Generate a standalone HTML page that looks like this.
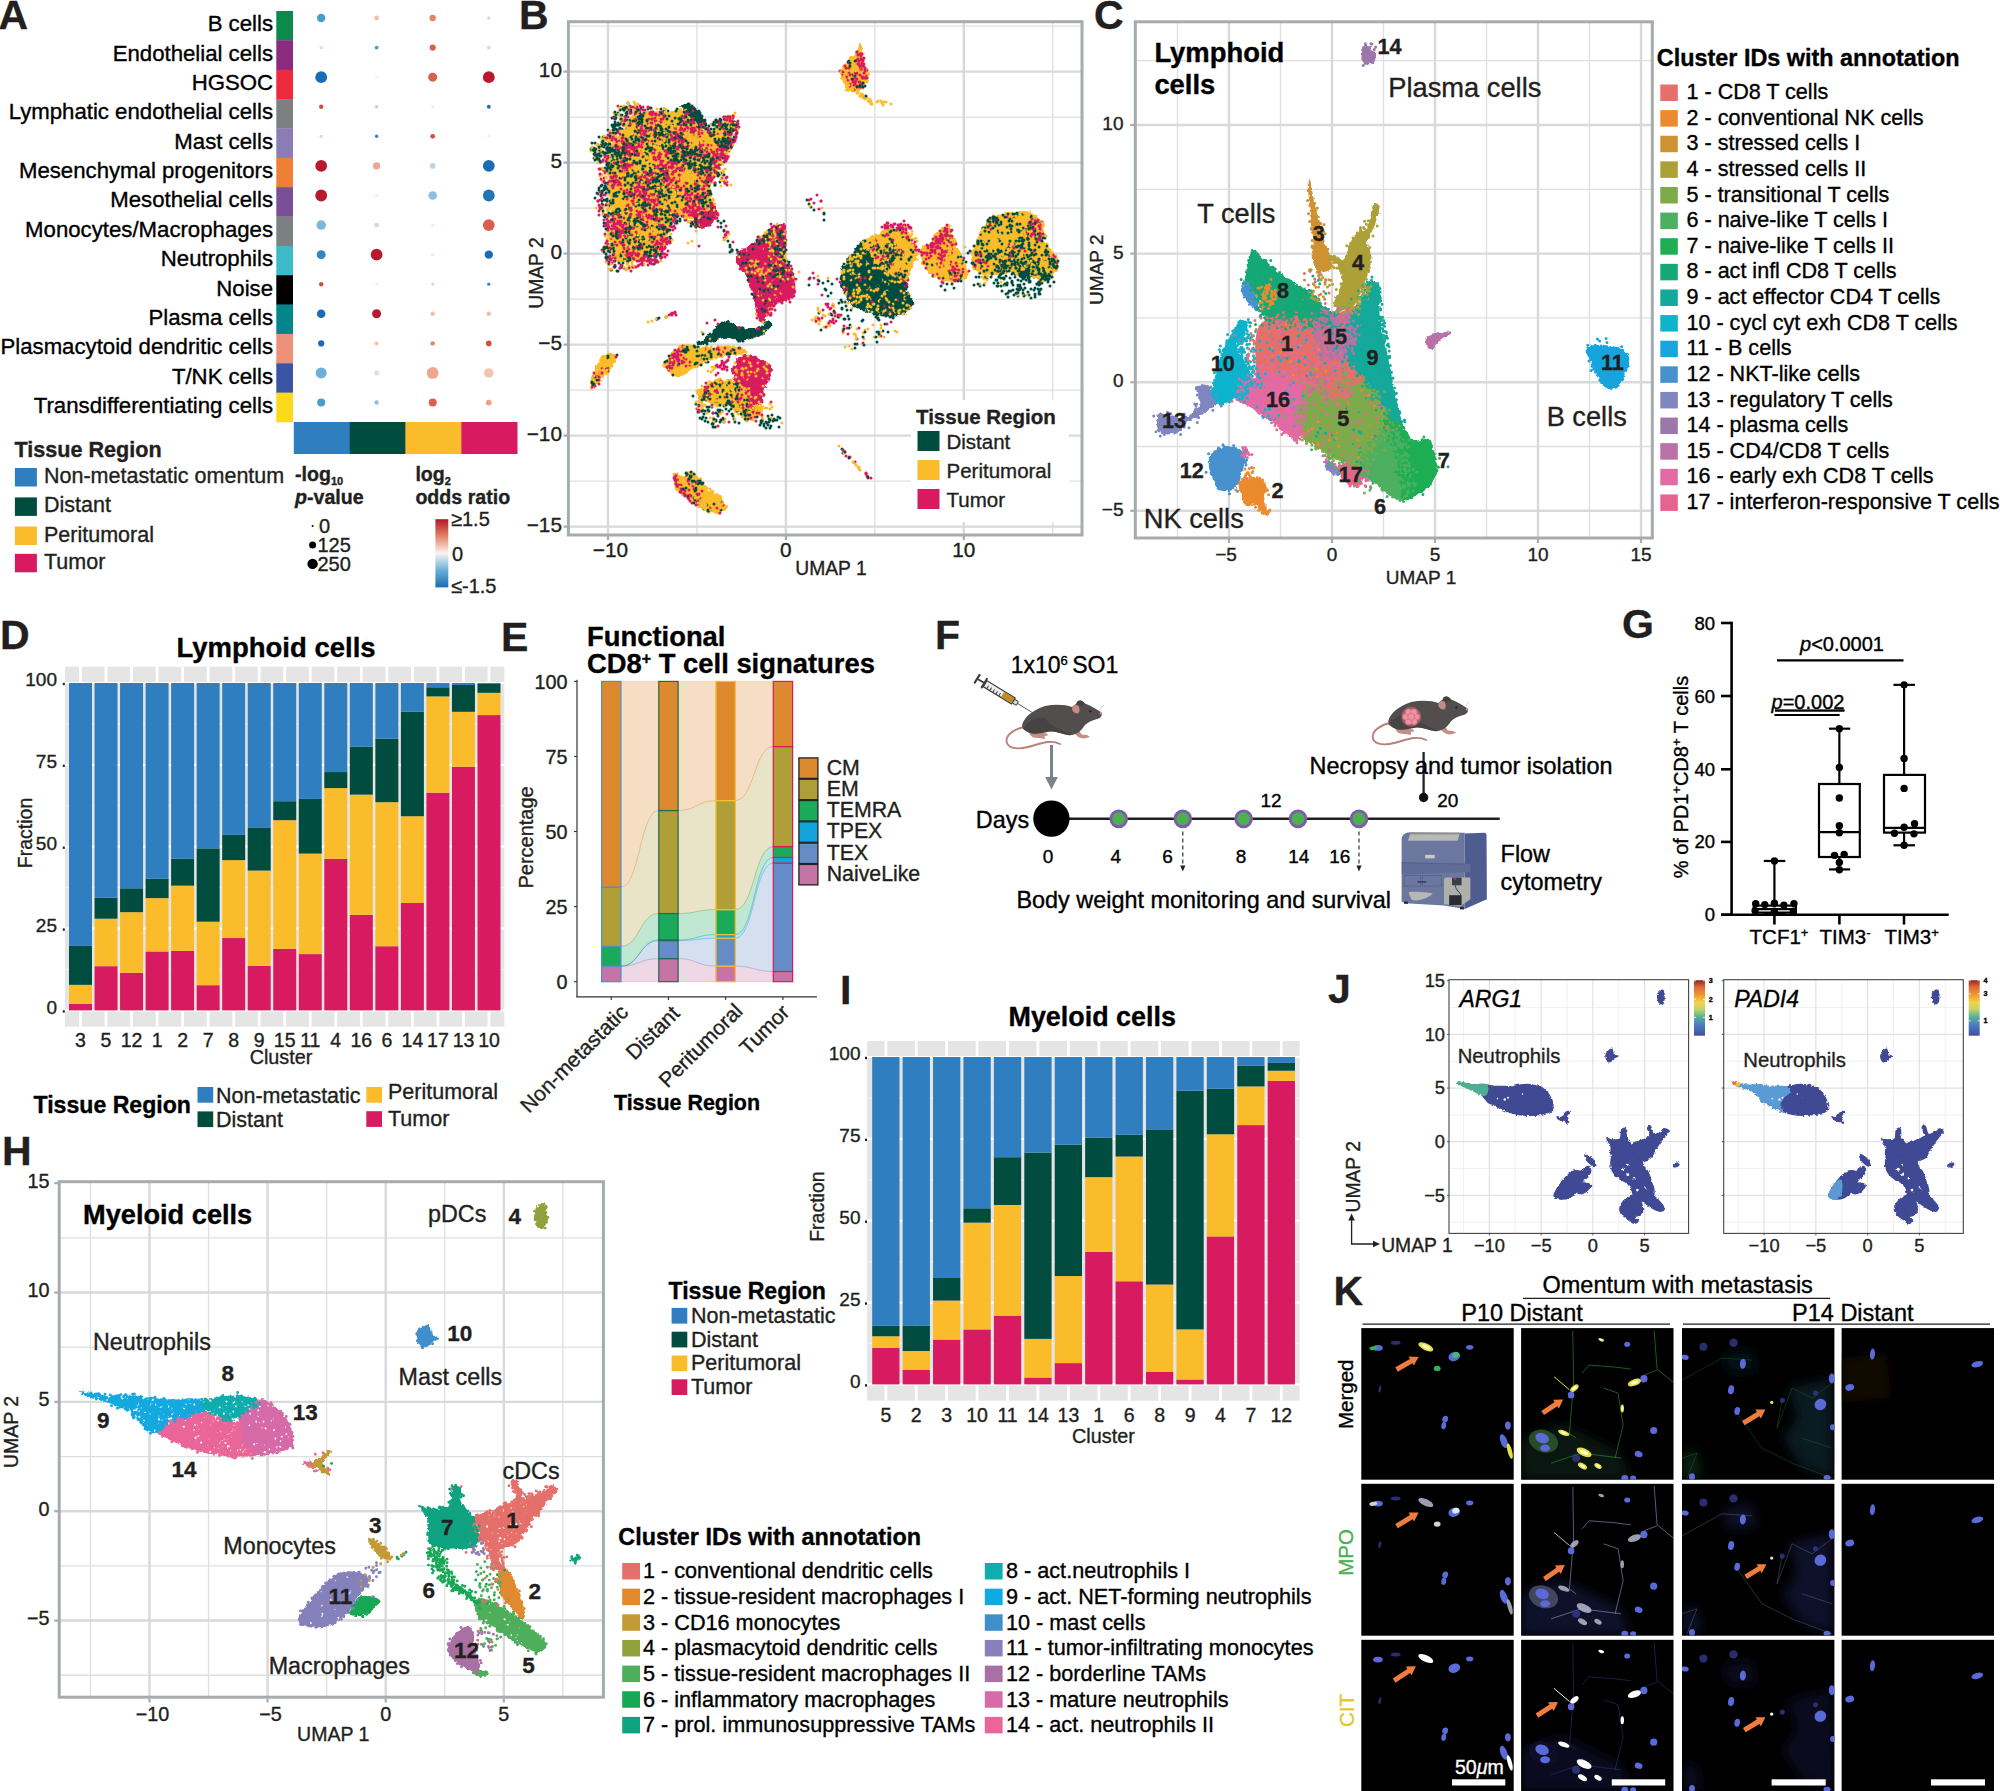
<!DOCTYPE html>
<html><head><meta charset="utf-8"><title>Figure</title>
<style>html,body{margin:0;padding:0;background:#fff}svg{display:block}text{font-family:"Liberation Sans", Arial, Helvetica, sans-serif;fill:#231f20;stroke:#231f20;stroke-width:.35px}</style>
</head><body>
<svg width="2000" height="1791" viewBox="0 0 2000 1791">
<rect width="2000" height="1791" fill="#fff"/>
<defs><filter id="rough" x="-10%" y="-10%" width="120%" height="120%"><feTurbulence type="fractalNoise" baseFrequency="0.18" numOctaves="2" seed="3" result="n"/><feDisplacementMap in="SourceGraphic" in2="n" scale="7" xChannelSelector="R" yChannelSelector="G"/></filter><filter id="rough2" x="-10%" y="-10%" width="120%" height="120%"><feTurbulence type="fractalNoise" baseFrequency="0.25" numOctaves="2" seed="8" result="n"/><feDisplacementMap in="SourceGraphic" in2="n" scale="5" xChannelSelector="R" yChannelSelector="G"/></filter></defs>
<g id="pA">
<text x="-1.5" y="28.5" font-size="41" font-weight="bold">A</text>
<rect x="276.30" y="11.00" width="16.70" height="29.66" fill="#0b8a4c"/>
<text x="273.0" y="31.3" font-size="22.2" text-anchor="end" style="fill:#000;stroke:#000">B cells</text>
<rect x="276.30" y="40.36" width="16.70" height="29.66" fill="#8a2b80"/>
<text x="273.0" y="60.7" font-size="22.2" text-anchor="end" style="fill:#000;stroke:#000">Endothelial cells</text>
<rect x="276.30" y="69.71" width="16.70" height="29.66" fill="#ec2a3b"/>
<text x="273.0" y="90.0" font-size="22.2" text-anchor="end" style="fill:#000;stroke:#000">HGSOC</text>
<rect x="276.30" y="99.07" width="16.70" height="29.66" fill="#7c8081"/>
<text x="273.0" y="119.4" font-size="22.2" text-anchor="end" style="fill:#000;stroke:#000">Lymphatic endothelial cells</text>
<rect x="276.30" y="128.43" width="16.70" height="29.66" fill="#8a7db6"/>
<text x="273.0" y="148.7" font-size="22.2" text-anchor="end" style="fill:#000;stroke:#000">Mast cells</text>
<rect x="276.30" y="157.79" width="16.70" height="29.66" fill="#ee8035"/>
<text x="273.0" y="178.1" font-size="22.2" text-anchor="end" style="fill:#000;stroke:#000">Mesenchymal progenitors</text>
<rect x="276.30" y="187.14" width="16.70" height="29.66" fill="#7b4f96"/>
<text x="273.0" y="207.4" font-size="22.2" text-anchor="end" style="fill:#000;stroke:#000">Mesothelial cells</text>
<rect x="276.30" y="216.50" width="16.70" height="29.66" fill="#7c8081"/>
<text x="273.0" y="236.8" font-size="22.2" text-anchor="end" style="fill:#000;stroke:#000">Monocytes/Macrophages</text>
<rect x="276.30" y="245.86" width="16.70" height="29.66" fill="#3dbac8"/>
<text x="273.0" y="266.2" font-size="22.2" text-anchor="end" style="fill:#000;stroke:#000">Neutrophils</text>
<rect x="276.30" y="275.21" width="16.70" height="29.66" fill="#000000"/>
<text x="273.0" y="295.5" font-size="22.2" text-anchor="end" style="fill:#000;stroke:#000">Noise</text>
<rect x="276.30" y="304.57" width="16.70" height="29.66" fill="#04858a"/>
<text x="273.0" y="324.9" font-size="22.2" text-anchor="end" style="fill:#000;stroke:#000">Plasma cells</text>
<rect x="276.30" y="333.93" width="16.70" height="29.66" fill="#ee9179"/>
<text x="273.0" y="354.2" font-size="22.2" text-anchor="end" style="fill:#000;stroke:#000">Plasmacytoid dendritic cells</text>
<rect x="276.30" y="363.29" width="16.70" height="29.66" fill="#3b55a5"/>
<text x="273.0" y="383.6" font-size="22.2" text-anchor="end" style="fill:#000;stroke:#000">T/NK cells</text>
<rect x="276.30" y="392.64" width="16.70" height="29.66" fill="#fbd91c"/>
<text x="273.0" y="412.9" font-size="22.2" text-anchor="end" style="fill:#000;stroke:#000">Transdifferentiating cells</text>
<rect x="293.80" y="422.00" width="56.15" height="32.00" fill="#2f7ec0"/>
<rect x="349.65" y="422.00" width="56.15" height="32.00" fill="#004d40"/>
<rect x="405.50" y="422.00" width="56.15" height="32.00" fill="#fbbc2c"/>
<rect x="461.35" y="422.00" width="56.15" height="32.00" fill="#d81b60"/>
<circle cx="321.20" cy="18.00" r="4.20" fill="#4a9bd0"/>
<circle cx="376.60" cy="18.00" r="2.40" fill="#f5bca6"/>
<circle cx="432.70" cy="18.00" r="3.20" fill="#e5826a"/>
<circle cx="488.80" cy="18.00" r="1.70" fill="#c8dde9"/>
<circle cx="321.20" cy="47.58" r="1.70" fill="#f8d5c5"/>
<circle cx="376.60" cy="47.58" r="1.90" fill="#4a9bd0"/>
<circle cx="432.70" cy="47.58" r="3.10" fill="#d9604c"/>
<circle cx="488.80" cy="47.58" r="1.90" fill="#c8dde9"/>
<circle cx="321.20" cy="77.16" r="5.90" fill="#1a6db5"/>
<circle cx="376.60" cy="77.16" r="1.40" fill="#f6efec"/>
<circle cx="432.70" cy="77.16" r="4.50" fill="#d9604c"/>
<circle cx="488.80" cy="77.16" r="5.90" fill="#b8192f"/>
<circle cx="321.20" cy="106.74" r="2.20" fill="#cf4e45"/>
<circle cx="376.60" cy="106.74" r="1.70" fill="#f5bca6"/>
<circle cx="432.70" cy="106.74" r="1.60" fill="#fbe6dc"/>
<circle cx="488.80" cy="106.74" r="1.90" fill="#1a6db5"/>
<circle cx="321.20" cy="136.32" r="1.60" fill="#c8dde9"/>
<circle cx="376.60" cy="136.32" r="1.70" fill="#3585c4"/>
<circle cx="432.70" cy="136.32" r="2.40" fill="#cf4e45"/>
<circle cx="488.80" cy="136.32" r="1.40" fill="#fbe6dc"/>
<circle cx="321.20" cy="165.90" r="5.90" fill="#b8192f"/>
<circle cx="376.60" cy="165.90" r="3.60" fill="#f0a78c"/>
<circle cx="432.70" cy="165.90" r="2.80" fill="#b9d6e8"/>
<circle cx="488.80" cy="165.90" r="5.90" fill="#1a6db5"/>
<circle cx="321.20" cy="195.48" r="5.90" fill="#b8192f"/>
<circle cx="376.60" cy="195.48" r="1.60" fill="#fbe6dc"/>
<circle cx="432.70" cy="195.48" r="4.30" fill="#8bc0e0"/>
<circle cx="488.80" cy="195.48" r="5.90" fill="#2474b8"/>
<circle cx="321.20" cy="225.06" r="4.80" fill="#7db8dd"/>
<circle cx="376.60" cy="225.06" r="2.40" fill="#c8dde9"/>
<circle cx="432.70" cy="225.06" r="1.60" fill="#fbe6dc"/>
<circle cx="488.80" cy="225.06" r="5.90" fill="#d9604c"/>
<circle cx="321.20" cy="254.64" r="4.50" fill="#3585c4"/>
<circle cx="376.60" cy="254.64" r="5.90" fill="#b8192f"/>
<circle cx="432.70" cy="254.64" r="1.70" fill="#fbe6dc"/>
<circle cx="488.80" cy="254.64" r="4.20" fill="#1a6db5"/>
<circle cx="321.20" cy="284.22" r="2.20" fill="#cf4e45"/>
<circle cx="376.60" cy="284.22" r="1.40" fill="#fbe6dc"/>
<circle cx="432.70" cy="284.22" r="1.40" fill="#b9d6e8"/>
<circle cx="488.80" cy="284.22" r="1.60" fill="#3585c4"/>
<circle cx="321.20" cy="313.80" r="4.30" fill="#1a6db5"/>
<circle cx="376.60" cy="313.80" r="4.50" fill="#b8192f"/>
<circle cx="432.70" cy="313.80" r="2.20" fill="#f5bca6"/>
<circle cx="488.80" cy="313.80" r="2.20" fill="#f5bca6"/>
<circle cx="321.20" cy="343.38" r="3.10" fill="#1a6db5"/>
<circle cx="376.60" cy="343.38" r="1.90" fill="#f5bca6"/>
<circle cx="432.70" cy="343.38" r="2.20" fill="#e5826a"/>
<circle cx="488.80" cy="343.38" r="2.80" fill="#cf4e45"/>
<circle cx="321.20" cy="372.96" r="5.50" fill="#6fb0da"/>
<circle cx="376.60" cy="372.96" r="2.60" fill="#d5e4ed"/>
<circle cx="432.70" cy="372.96" r="5.90" fill="#f0a78c"/>
<circle cx="488.80" cy="372.96" r="4.80" fill="#f6c4ae"/>
<circle cx="321.20" cy="402.54" r="4.00" fill="#4a9bd0"/>
<circle cx="376.60" cy="402.54" r="2.20" fill="#8bc0e0"/>
<circle cx="432.70" cy="402.54" r="4.00" fill="#d9604c"/>
<circle cx="488.80" cy="402.54" r="2.90" fill="#eda083"/>
<text x="14.5" y="457.0" font-size="21.6" font-weight="bold">Tissue Region</text>
<rect x="14.90" y="468.00" width="22.00" height="18.50" fill="#2f7ec0"/>
<text x="44.0" y="482.9" font-size="21.5">Non-metastatic omentum</text>
<rect x="14.90" y="497.40" width="22.00" height="18.50" fill="#004d40"/>
<text x="44.0" y="512.3" font-size="21.5">Distant</text>
<rect x="14.90" y="526.50" width="22.00" height="18.50" fill="#fbbc2c"/>
<text x="44.0" y="542.4" font-size="21.5">Peritumoral</text>
<rect x="14.90" y="553.80" width="22.00" height="18.50" fill="#d81b60"/>
<text x="44.0" y="569.4" font-size="21.5">Tumor</text>
<text x="295.0" y="481.0" font-size="19.6" font-weight="bold">-log<tspan font-size="11" dy="4">10</tspan></text>
<text x="295.0" y="503.6" font-size="19.6" font-weight="bold"><tspan font-style="italic">p</tspan>-value</text>
<text x="415.4" y="481.0" font-size="19.6" font-weight="bold">log<tspan font-size="11" dy="4">2</tspan></text>
<text x="415.4" y="503.6" font-size="19.6" font-weight="bold">odds ratio</text>
<circle cx="312.60" cy="526.00" r="1.00" fill="#000"/>
<circle cx="312.60" cy="545.00" r="3.50" fill="#000"/>
<circle cx="312.60" cy="563.90" r="5.20" fill="#000"/>
<text x="319.0" y="532.5" font-size="20">0</text>
<text x="317.4" y="551.5" font-size="20">125</text>
<text x="317.4" y="570.5" font-size="20">250</text>
<defs><linearGradient id="gA" x1="0" y1="0" x2="0" y2="1"><stop offset="0" stop-color="#b2182b"/><stop offset="0.25" stop-color="#e58267"/><stop offset="0.5" stop-color="#f7f4f2"/><stop offset="0.75" stop-color="#6aaed6"/><stop offset="1" stop-color="#1a6db5"/></linearGradient></defs>
<rect x="435.40" y="519.20" width="12.90" height="68.20" fill="url(#gA)"/>
<text x="451.0" y="525.5" font-size="20">≥1.5</text>
<text x="452.0" y="561.0" font-size="20">0</text>
<text x="451.0" y="593.0" font-size="20">≤-1.5</text>
</g>
<g id="pB">
<text x="519.0" y="29.0" font-size="41" font-weight="bold">B</text>
<rect x="568.40" y="21.70" width="513.60" height="513.30" fill="#fff"/>
<line x1="696.95" y1="21.70" x2="696.95" y2="535.00" stroke="#dedfdf" stroke-width="1.3"/>
<line x1="874.85" y1="21.70" x2="874.85" y2="535.00" stroke="#dedfdf" stroke-width="1.3"/>
<line x1="1052.75" y1="21.70" x2="1052.75" y2="535.00" stroke="#dedfdf" stroke-width="1.3"/>
<line x1="568.40" y1="117.10" x2="1082.00" y2="117.10" stroke="#dedfdf" stroke-width="1.3"/>
<line x1="568.40" y1="208.10" x2="1082.00" y2="208.10" stroke="#dedfdf" stroke-width="1.3"/>
<line x1="568.40" y1="299.10" x2="1082.00" y2="299.10" stroke="#dedfdf" stroke-width="1.3"/>
<line x1="568.40" y1="390.10" x2="1082.00" y2="390.10" stroke="#dedfdf" stroke-width="1.3"/>
<line x1="568.40" y1="481.10" x2="1082.00" y2="481.10" stroke="#dedfdf" stroke-width="1.3"/>
<line x1="568.40" y1="26.10" x2="1082.00" y2="26.10" stroke="#dedfdf" stroke-width="1.3"/>
<line x1="608.00" y1="21.70" x2="608.00" y2="535.00" stroke="#d8d9da" stroke-width="2.4"/>
<line x1="785.90" y1="21.70" x2="785.90" y2="535.00" stroke="#d8d9da" stroke-width="2.4"/>
<line x1="963.80" y1="21.70" x2="963.80" y2="535.00" stroke="#d8d9da" stroke-width="2.4"/>
<line x1="568.40" y1="71.60" x2="1082.00" y2="71.60" stroke="#d8d9da" stroke-width="2.4"/>
<line x1="568.40" y1="162.60" x2="1082.00" y2="162.60" stroke="#d8d9da" stroke-width="2.4"/>
<line x1="568.40" y1="253.60" x2="1082.00" y2="253.60" stroke="#d8d9da" stroke-width="2.4"/>
<line x1="568.40" y1="344.60" x2="1082.00" y2="344.60" stroke="#d8d9da" stroke-width="2.4"/>
<line x1="568.40" y1="435.60" x2="1082.00" y2="435.60" stroke="#d8d9da" stroke-width="2.4"/>
<line x1="568.40" y1="526.60" x2="1082.00" y2="526.60" stroke="#d8d9da" stroke-width="2.4"/>
<clipPath id="cB"><rect x="568.4" y="21.7" width="513.6" height="513.3"/></clipPath>
<g clip-path="url(#cB)"><g filter="url(#rough)"><path d="M616.1 147.0C618.6 140.7 621.4 131.9 625.8 126.1C630.3 120.2 635.6 114.4 642.6 112.1C649.6 109.8 661.2 112.3 667.7 112.1C674.2 111.9 677.0 109.1 681.7 110.7C686.3 112.3 691.4 118.6 695.6 121.9C699.8 125.1 703.1 129.6 706.8 130.3C710.5 130.9 713.8 127.7 718.0 126.1C722.1 124.4 729.4 118.9 731.9 120.5C734.5 122.1 734.7 129.6 733.3 135.8C731.9 142.1 726.6 151.2 723.5 158.2C720.5 165.1 717.5 172.1 715.2 177.7C712.8 183.3 710.5 187.0 709.6 191.7C708.7 196.3 710.1 201.0 709.6 205.6C709.1 210.3 709.1 216.8 706.8 219.6C704.5 222.4 699.8 223.3 695.6 222.4C691.4 221.4 685.9 213.1 681.7 214.0C677.5 214.9 673.3 222.4 670.5 228.0C667.7 233.5 668.2 242.6 664.9 247.5C661.7 252.4 656.3 254.9 651.0 257.3C645.6 259.6 638.6 260.8 632.8 261.5C627.0 262.2 619.8 265.0 616.1 261.5C612.3 258.0 611.2 248.7 610.5 240.5C609.8 232.4 612.3 221.9 611.9 212.6C611.4 203.3 607.9 192.8 607.7 184.7C607.5 176.5 609.1 170.0 610.5 163.8C611.9 157.5 613.5 153.3 616.1 147.0Z" fill="#fbbc2c"/>
<path d="M680.3 106.5C680.5 104.5 688.0 103.0 691.4 104.4C694.9 105.8 698.8 111.5 701.2 114.9C703.7 118.3 706.3 122.8 706.1 124.7C705.9 126.5 702.5 127.5 699.8 126.1C697.1 124.7 693.3 119.5 690.0 116.3C686.8 113.0 680.0 108.5 680.3 106.5Z" fill="#004d40"/>
<path d="M692.8 205.6C695.2 201.7 705.4 201.4 709.6 202.8C713.8 204.2 718.0 210.3 718.0 214.0C718.0 217.7 713.3 223.1 709.6 225.2C705.9 227.3 698.4 229.8 695.6 226.6C692.8 223.3 690.5 209.6 692.8 205.6Z" fill="#d81b60"/>
<path d="M736.1 255.9C737.5 251.2 746.6 248.4 751.5 244.7C756.3 241.0 761.9 236.8 765.4 233.5C768.9 230.3 769.1 226.8 772.4 225.2C775.7 223.5 782.6 221.9 785.0 223.8C787.3 225.6 786.4 231.2 786.4 236.3C786.4 241.5 784.3 249.6 785.0 254.5C785.7 259.4 788.9 261.7 790.5 265.7C792.2 269.6 794.3 273.3 794.7 278.2C795.2 283.1 796.4 290.8 793.3 295.0C790.3 299.2 780.8 300.5 776.6 303.3C772.4 306.1 770.5 308.5 768.2 311.7C765.9 315.0 764.5 322.4 762.6 322.9C760.8 323.3 758.9 320.1 757.0 314.5C755.2 308.9 753.8 296.4 751.5 289.4C749.1 282.4 745.6 278.2 743.1 272.6C740.5 267.0 734.7 260.5 736.1 255.9Z" fill="#d81b60"/>
<path d="M840.7 272.8C842.2 266.5 848.7 257.8 852.3 252.5C856.0 247.2 858.4 243.3 862.5 240.9C866.6 238.5 872.2 237.5 877.0 238.0C881.8 238.5 887.1 240.9 891.5 243.8C895.8 246.7 900.2 250.6 903.1 255.4C906.0 260.2 908.4 267.0 908.9 272.8C909.4 278.6 905.3 285.1 906.0 290.2C906.7 295.3 913.7 299.1 913.2 303.2C912.8 307.4 907.9 312.7 903.1 314.8C898.3 317.0 890.5 317.0 884.2 316.3C878.0 315.6 870.7 312.4 865.4 310.5C860.1 308.6 856.0 308.1 852.3 304.7C848.7 301.3 845.6 295.5 843.6 290.2C841.7 284.9 839.3 279.1 840.7 272.8Z" fill="#004d40"/>
<path d="M862.5 242.3C863.5 239.0 872.2 237.5 877.0 235.1C881.8 232.7 886.7 228.6 891.5 227.8C896.3 227.1 902.4 228.6 906.0 230.7C909.6 232.9 911.3 236.8 913.2 240.9C915.2 245.0 918.1 250.6 917.6 255.4C917.1 260.2 912.3 265.5 910.3 269.9C908.4 274.2 909.1 281.0 906.0 281.5C902.9 282.0 895.8 275.2 891.5 272.8C887.1 270.4 883.3 269.9 879.9 267.0C876.5 264.1 874.1 259.5 871.2 255.4C868.3 251.3 861.5 245.7 862.5 242.3Z" fill="#fbbc2c"/>
<path d="M920.5 249.6C921.7 246.7 926.8 246.2 929.2 243.8C931.6 241.4 932.1 238.2 935.0 235.1C937.9 232.0 943.4 224.9 946.6 224.9C949.7 224.9 951.9 231.2 953.8 235.1C955.8 239.0 956.5 243.8 958.2 248.1C959.9 252.5 962.3 256.6 964.0 261.2C965.7 265.8 969.5 272.3 968.3 275.7C967.1 279.1 961.1 280.8 956.7 281.5C952.4 282.2 946.8 281.5 942.2 280.0C937.6 278.6 932.6 275.9 929.2 272.8C925.8 269.7 923.4 265.1 921.9 261.2C920.5 257.3 919.3 252.5 920.5 249.6Z" fill="#fbbc2c"/>
<path d="M972.7 249.6C974.4 243.1 979.5 233.4 982.8 227.8C986.2 222.3 988.4 218.8 993.0 216.2C997.6 213.7 1004.6 213.5 1010.4 212.6C1016.2 211.8 1022.5 209.6 1027.8 211.2C1033.1 212.7 1039.4 217.1 1042.3 222.0C1045.2 227.0 1043.3 235.8 1045.2 240.9C1047.1 246.0 1051.7 249.1 1053.9 252.5C1056.1 255.9 1058.0 257.8 1058.2 261.2C1058.5 264.6 1057.5 269.4 1055.3 272.8C1053.2 276.2 1049.5 281.3 1045.2 281.5C1040.8 281.7 1035.5 275.7 1029.2 274.2C1023.0 272.8 1014.7 272.8 1007.5 272.8C1000.2 272.8 991.5 275.2 985.7 274.2C979.9 273.3 974.9 271.1 972.7 267.0C970.5 262.9 971.0 256.1 972.7 249.6Z" fill="#fbbc2c"/>
<path d="M1016.2 261.2C1018.1 258.8 1032.6 259.3 1036.5 261.2C1040.4 263.1 1041.3 270.4 1039.4 272.8C1037.5 275.2 1028.8 277.6 1024.9 275.7C1021.0 273.8 1014.3 263.6 1016.2 261.2Z" fill="#004d40"/>
<path d="M860.1 43.6C858.7 42.4 858.2 49.7 855.1 53.6C852.0 57.5 843.9 62.5 841.7 67.0C839.5 71.5 840.0 76.2 841.7 80.4C843.4 84.6 848.1 91.0 851.8 92.1C855.4 93.2 860.7 89.6 863.5 87.1C866.3 84.6 868.5 81.5 868.5 77.1C868.5 72.6 864.9 65.9 863.5 60.3C862.1 54.7 861.5 44.7 860.1 43.6Z" fill="#fbbc2c"/>
<path d="M712.1 333.5C714.7 330.8 714.3 326.9 716.4 324.8C718.6 322.7 721.8 320.9 725.1 321.2C728.5 321.4 732.4 324.9 736.7 326.2C741.1 327.6 747.1 329.1 751.2 329.1C755.3 329.1 759.0 327.6 761.4 326.2C763.8 324.9 764.0 321.4 765.7 321.2C767.4 320.9 771.5 323.0 771.5 324.8C771.5 326.6 768.4 329.9 765.7 332.0C763.1 334.2 759.7 336.4 755.6 337.8C751.5 339.3 745.9 340.7 741.1 340.7C736.3 340.7 730.9 337.8 726.6 337.8C722.2 337.8 718.4 339.8 715.0 340.7C711.6 341.7 709.2 342.9 706.3 343.6C703.4 344.4 698.6 345.6 697.6 345.1C696.6 344.6 698.1 342.7 700.5 340.7C702.9 338.8 709.4 336.2 712.1 333.5Z" fill="#004d40"/>
<path d="M664.2 363.9C664.7 360.6 668.4 355.6 671.5 352.3C674.6 349.1 679.5 345.6 683.1 344.4C686.7 343.2 689.1 344.5 693.2 345.1C697.4 345.7 702.2 347.8 707.7 348.0C713.3 348.2 720.5 346.5 726.6 346.5C732.6 346.5 740.6 346.8 744.0 348.0C747.4 349.2 749.3 352.6 746.9 353.8C744.5 355.0 735.3 354.5 729.5 355.2C723.7 356.0 716.9 356.5 712.1 358.1C707.3 359.8 704.4 363.2 700.5 365.4C696.6 367.6 692.8 369.3 688.9 371.2C685.0 373.1 680.7 376.8 677.3 377.0C673.9 377.2 670.8 374.8 668.6 372.6C666.4 370.5 663.8 367.3 664.2 363.9Z" fill="#fbbc2c"/>
<path d="M733.8 363.9C735.8 360.8 739.9 356.2 744.0 355.2C748.1 354.3 753.9 356.0 758.5 358.1C763.1 360.3 769.8 364.7 771.5 368.3C773.2 371.9 769.8 376.0 768.6 379.9C767.4 383.8 765.5 387.6 764.3 391.5C763.1 395.4 763.6 401.2 761.4 403.1C759.2 405.0 754.1 405.0 751.2 403.1C748.3 401.2 746.4 394.9 744.0 391.5C741.6 388.1 738.7 385.7 736.7 382.8C734.8 379.9 732.9 377.2 732.4 374.1C731.9 371.0 731.9 367.1 733.8 363.9Z" fill="#d81b60"/>
<path d="M697.6 391.5C700.0 388.1 709.7 381.8 715.0 379.9C720.3 378.0 724.7 378.0 729.5 379.9C734.3 381.8 740.4 387.6 744.0 391.5C747.6 395.4 748.1 400.7 751.2 403.1C754.4 405.5 761.6 403.6 762.8 406.0C764.0 408.4 761.6 415.7 758.5 417.6C755.3 419.5 748.8 419.5 744.0 417.6C739.2 415.7 734.3 408.4 729.5 406.0C724.7 403.6 719.8 404.1 715.0 403.1C710.2 402.1 703.4 402.1 700.5 400.2C697.6 398.3 695.2 394.9 697.6 391.5Z" fill="#fbbc2c"/>
<path d="M590.3 388.6C590.3 386.1 591.5 378.9 593.2 374.1C594.9 369.3 598.0 363.0 600.4 359.6C602.9 356.2 605.0 354.4 607.7 353.8C610.4 353.2 615.9 353.6 616.4 356.0C616.9 358.4 613.0 364.3 610.6 368.3C608.2 372.3 604.8 376.4 601.9 379.9C599.0 383.4 595.1 387.9 593.2 389.3C591.3 390.8 590.3 391.1 590.3 388.6Z" fill="#fbbc2c"/>
<path d="M673.7 474.1C674.2 472.7 675.5 472.2 677.3 472.7C679.1 473.2 682.9 477.3 684.5 477.0C686.2 476.8 685.3 471.5 687.4 471.2C689.6 471.0 694.5 472.9 697.6 475.6C700.7 478.2 702.4 483.6 706.3 487.2C710.2 490.8 717.4 494.4 720.8 497.3C724.2 500.2 726.1 502.4 726.6 504.6C727.1 506.8 726.1 508.9 723.7 510.4C721.3 511.8 716.0 513.8 712.1 513.3C708.2 512.8 704.4 509.9 700.5 507.5C696.6 505.1 692.5 501.4 688.9 498.8C685.3 496.1 681.2 494.4 678.7 491.5C676.3 488.6 675.2 484.3 674.4 481.4C673.5 478.5 673.2 475.6 673.7 474.1Z" fill="#fbbc2c"/>
</g><path d="M994 283h0M710 192h0M691 151h0M640 222h0M695 163h0M884 265h0M998 250h0M638 125h0M624 232h0M694 108h0M779 226h0M635 134h0M1007 271h0M671 213h0M742 260h0M871 301h0M643 203h0M1041 278h0M669 125h0M980 273h0M857 300h0M682 216h0M611 250h0M642 236h0M757 330h0M673 125h0M655 168h0M660 256h0M991 254h0M870 252h0M622 109h0M638 155h0M983 263h0M723 139h0M592 383h0M698 122h0M696 227h0M885 282h0M604 216h0M994 217h0M974 285h0M713 160h0M737 387h0M892 259h0M642 122h0M630 106h0M701 120h0M625 223h0M749 255h0M1016 258h0M627 141h0M690 151h0M855 286h0M632 228h0M855 280h0M769 249h0M663 132h0M985 228h0M778 271h0M658 128h0M681 136h0M695 188h0M890 288h0M703 173h0M698 169h0M615 215h0M1018 239h0M694 481h0M617 196h0M888 245h0M596 155h0M630 208h0M661 230h0M661 175h0M702 162h0M976 253h0M683 152h0M651 256h0M710 164h0M694 474h0M628 257h0M673 212h0M1040 246h0M768 245h0M689 122h0M650 133h0M639 141h0M605 145h0M980 286h0M635 225h0M685 153h0M1006 276h0M600 156h0M1028 234h0M997 218h0M999 233h0M1031 216h0M1035 265h0M788 265h0M724 405h0M1028 226h0M861 281h0M1030 282h0M1051 269h0M639 124h0M1018 290h0M640 113h0M627 152h0M706 362h0M892 314h0M669 238h0M880 248h0M612 118h0M668 152h0M901 277h0M904 300h0M879 282h0M685 148h0M637 144h0M958 281h0M789 269h0M729 411h0M727 125h0M884 251h0M751 335h0M642 169h0M711 341h0M695 169h0M994 219h0M611 166h0M613 185h0M857 255h0M605 189h0M698 495h0M1039 223h0M607 199h0M998 220h0M705 200h0M639 155h0M718 143h0M640 135h0M772 236h0M701 196h0M864 301h0M614 232h0M606 138h0M947 235h0M744 412h0M896 299h0M614 117h0M1017 215h0M962 263h0M727 149h0M719 411h0M1044 260h0M620 232h0M621 107h0M1032 266h0M883 253h0M811 207h0M691 132h0M631 144h0M640 182h0M649 155h0M717 167h0M688 475h0M686 164h0M864 301h0M963 260h0M993 222h0M595 198h0M703 205h0M639 130h0M608 146h0M1037 284h0M737 396h0M666 142h0M1057 266h0M729 143h0M634 148h0M874 270h0M713 163h0M721 142h0M758 241h0M669 147h0M737 411h0M868 258h0M1029 269h0M742 405h0M723 158h0M985 251h0M958 257h0M676 222h0M634 173h0M636 206h0M890 317h0M1034 237h0M894 291h0M647 205h0M904 304h0M643 224h0M604 226h0M1018 286h0M1028 276h0M660 193h0M660 194h0M663 174h0M657 144h0M714 341h0M601 151h0M675 141h0M763 311h0M889 266h0M718 393h0M1029 282h0M671 219h0M661 109h0M747 406h0M666 193h0M867 299h0M846 306h0M632 174h0M782 253h0M990 226h0M656 261h0M766 304h0M699 149h0M692 482h0M648 186h0M1006 266h0M625 237h0M694 132h0M605 143h0M704 342h0M720 330h0M750 265h0M652 226h0M594 376h0M872 277h0M606 215h0M697 186h0M643 175h0M686 488h0M643 166h0M1031 225h0M656 249h0M749 269h0M983 228h0M637 127h0M987 279h0M1023 241h0M1042 235h0M620 236h0M734 384h0M1023 274h0M897 260h0M653 175h0M654 236h0M890 252h0M653 247h0M1005 261h0M704 396h0M779 427h0M730 147h0M881 277h0M989 259h0M676 164h0M886 316h0M615 232h0M878 244h0M986 250h0M1003 264h0M623 245h0M694 129h0M615 146h0M697 119h0M710 133h0M979 277h0M772 232h0M729 330h0M771 246h0M602 208h0M608 149h0M697 189h0M694 168h0M673 215h0M642 215h0M1052 277h0M648 109h0M647 154h0M700 398h0M713 339h0M907 297h0M870 276h0M692 164h0M862 321h0M979 262h0M621 107h0M669 198h0M788 264h0M1049 267h0M879 248h0M689 191h0M619 230h0M673 164h0M1034 271h0M662 133h0M636 182h0M698 347h0M1044 271h0M883 331h0M871 261h0M608 228h0M625 177h0M692 155h0M765 330h0M639 242h0M721 129h0M735 353h0M706 181h0M1024 295h0M655 178h0M653 165h0M617 164h0M838 317h0M999 267h0M696 490h0M716 143h0M733 117h0M627 174h0M657 261h0M1018 271h0M842 309h0M655 254h0M1013 285h0M745 415h0M639 122h0M889 268h0M706 418h0M1031 270h0M1016 257h0M998 253h0M1002 251h0M989 225h0M641 108h0M706 196h0M747 333h0M1043 279h0M651 229h0M630 120h0M652 231h0M685 107h0M625 180h0M894 247h0M739 390h0M668 111h0M895 258h0M743 329h0M707 505h0M641 180h0M778 249h0M694 153h0M1002 230h0M809 285h0M656 210h0M782 245h0M660 139h0M628 208h0M675 151h0M606 215h0M872 276h0M782 259h0M897 301h0M852 75h0M725 143h0M875 296h0M614 128h0M604 190h0M975 268h0M870 274h0M993 251h0M863 97h0M612 148h0M982 248h0M615 119h0M652 119h0M1021 239h0M889 302h0M668 146h0M659 318h0M608 251h0M730 147h0M671 149h0M602 192h0M671 365h0M897 257h0M977 253h0M952 284h0M702 400h0M774 251h0M650 188h0M605 155h0M1023 244h0M1022 275h0M608 248h0M648 238h0M660 176h0M713 413h0M839 303h0M1007 255h0M610 252h0M718 416h0M1004 285h0M1024 277h0M723 125h0M665 194h0M770 260h0M706 203h0M1009 247h0M661 130h0M1048 281h0M889 244h0M701 166h0M700 204h0M994 220h0M1014 264h0M646 128h0M697 115h0M1053 265h0M907 271h0M626 213h0M1040 236h0M716 394h0M703 209h0M687 183h0M771 244h0M648 148h0M598 201h0M711 169h0M628 254h0M613 166h0M663 147h0M677 221h0M638 162h0M651 229h0M655 226h0M869 251h0M735 391h0M694 108h0M711 164h0M903 237h0M674 159h0M680 348h0M601 152h0M994 218h0M726 132h0M610 201h0M782 272h0M766 422h0M998 231h0M1054 282h0M633 247h0M753 408h0M1022 238h0M728 241h0M694 166h0M692 110h0M705 149h0M1002 291h0M1018 296h0M884 309h0M772 236h0M780 249h0M738 384h0M656 227h0M852 75h0M739 334h0M683 197h0M772 254h0M676 216h0M1024 248h0M839 317h0M1040 239h0M696 111h0M709 195h0M1001 274h0M693 119h0M663 185h0M594 158h0M893 291h0M702 161h0M665 133h0M647 121h0M604 147h0M1023 268h0M731 397h0M679 364h0M649 240h0M677 207h0M870 260h0M736 337h0M678 362h0M889 258h0M1024 272h0M656 182h0M686 147h0M729 324h0M1049 254h0M713 423h0M615 150h0M742 265h0M642 240h0M642 225h0M737 386h0M664 111h0M1020 289h0M665 134h0M686 160h0M890 314h0M997 286h0M606 200h0M850 325h0M724 221h0M677 198h0M901 303h0M614 251h0M669 135h0M684 156h0M639 161h0M621 155h0M707 161h0M618 214h0M628 152h0M943 278h0M646 241h0M733 337h0M700 418h0M609 148h0M728 241h0M628 103h0M640 239h0M602 185h0M691 109h0M634 221h0M687 161h0M642 120h0M674 190h0M665 142h0M657 141h0M595 155h0M1029 260h0M1045 238h0M702 211h0M702 411h0M626 113h0M686 110h0M662 213h0M1029 275h0M618 125h0M661 210h0M701 159h0M832 315h0M703 334h0M1049 274h0M648 226h0M595 152h0M949 241h0M618 123h0M873 312h0M615 232h0M898 255h0M883 264h0M679 152h0M848 287h0M879 332h0M728 144h0M1035 288h0M756 410h0M1029 295h0M680 170h0M661 137h0M626 108h0M705 355h0M698 155h0M685 220h0M630 224h0M749 411h0M778 234h0M859 265h0M871 251h0M771 300h0M883 270h0M988 225h0M601 145h0M629 183h0M725 143h0M659 146h0M693 121h0M755 413h0M1045 252h0M691 120h0M667 140h0M729 333h0M688 154h0M1019 263h0M1012 274h0M712 407h0M725 124h0M721 146h0M614 159h0M1024 271h0M695 116h0M637 174h0M618 168h0M735 386h0M607 246h0M607 138h0M656 170h0M708 391h0M641 223h0M747 404h0M609 151h0M1043 275h0M1003 215h0M638 172h0M707 213h0M711 396h0M702 167h0M862 254h0M650 164h0M699 226h0M1012 251h0M986 257h0M1045 270h0M670 242h0M1001 286h0M989 224h0M1048 282h0M682 200h0M642 264h0M620 124h0M851 310h0M700 219h0M1026 228h0M602 204h0M1020 266h0M1034 277h0M984 271h0M720 121h0M624 147h0M719 138h0M656 209h0M743 341h0M714 349h0M676 192h0M676 193h0M888 251h0M877 342h0M768 239h0M631 110h0M851 291h0M1027 237h0M671 223h0M1018 285h0M668 125h0M641 137h0M658 247h0M687 192h0M607 150h0M1021 288h0M725 135h0M720 328h0M990 257h0M771 232h0M892 294h0M651 173h0M680 137h0M660 226h0M645 144h0M871 284h0M647 121h0M880 285h0M1039 292h0M1033 261h0M628 228h0M864 345h0M633 136h0M845 319h0M744 330h0M660 188h0M758 237h0M614 250h0M755 296h0M707 359h0M650 148h0M664 232h0M626 113h0M660 226h0M783 271h0M865 86h0M741 407h0M1015 214h0M677 148h0M758 282h0M686 113h0M731 405h0M690 109h0M1020 269h0M638 139h0M1012 282h0M1023 228h0M900 288h0M970 251h0M884 266h0M703 149h0M1023 228h0M627 160h0M870 243h0M647 225h0M726 117h0M667 125h0M631 176h0M978 241h0M598 153h0M890 281h0M647 174h0M656 252h0M884 312h0M896 297h0M875 297h0M602 201h0M712 208h0M640 119h0M662 212h0M1008 214h0M996 259h0M635 219h0M700 206h0M594 150h0M674 151h0M695 170h0M888 332h0M658 187h0M902 253h0M700 165h0M595 152h0M657 319h0M1019 232h0M722 329h0M1042 255h0M670 215h0M721 123h0M607 169h0M716 122h0M898 282h0M691 123h0M680 147h0M663 149h0M615 247h0M791 275h0M1014 244h0M636 120h0M640 161h0M898 288h0M733 349h0M625 158h0M716 120h0M619 166h0M725 146h0M714 332h0M848 62h0M1039 282h0M705 127h0M634 252h0M1012 221h0M1014 218h0M723 138h0M617 156h0M1017 226h0M1017 289h0M722 123h0M775 248h0M727 146h0M703 200h0M678 147h0M770 257h0M770 248h0M819 313h0M638 125h0M664 112h0M611 151h0M724 148h0M621 178h0M720 386h0M665 200h0M621 120h0M1008 248h0M667 190h0M651 237h0M676 172h0M743 328h0M746 416h0M884 306h0M665 228h0M718 410h0M1018 293h0M880 281h0M687 171h0M757 278h0M714 135h0M770 293h0M887 285h0M775 250h0M721 330h0M636 172h0M648 128h0M708 130h0M750 330h0M733 405h0M625 109h0M645 252h0M642 248h0M624 259h0M718 414h0M609 262h0M863 280h0M726 409h0M627 140h0M1039 238h0M1008 255h0M849 288h0M715 183h0M629 228h0M850 286h0M669 141h0M664 135h0M599 159h0M828 281h0M687 347h0M677 160h0M765 243h0M676 144h0M985 277h0M688 132h0M757 241h0M841 278h0M845 273h0M853 301h0M621 241h0M706 166h0M863 320h0M689 164h0M692 117h0M855 76h0M626 116h0M663 231h0M878 249h0M735 334h0M1010 267h0M730 245h0M628 205h0M1043 268h0M700 125h0M663 209h0M892 249h0M781 231h0M1035 219h0M702 419h0M1017 247h0M698 198h0M698 160h0M1010 225h0M1054 266h0M636 176h0M723 141h0M644 229h0M713 217h0M783 273h0M677 169h0M718 144h0M891 308h0M731 145h0M659 221h0M650 171h0M649 203h0M1018 274h0M656 215h0M983 260h0M652 245h0M883 271h0M607 215h0M737 336h0M1032 235h0M677 205h0M697 197h0M1028 239h0M722 331h0M618 150h0M731 389h0M645 153h0M1023 273h0M695 150h0M716 413h0M644 113h0M945 290h0M715 185h0M643 140h0M694 117h0M702 211h0M705 200h0M667 230h0M932 265h0M700 121h0M907 294h0M643 156h0M686 352h0M1005 265h0M1026 271h0M982 266h0M821 330h0M843 453h0M641 130h0M1023 255h0M782 233h0M764 329h0M848 316h0M1041 280h0M628 241h0M1005 285h0M848 69h0M684 153h0M723 139h0M845 293h0M1024 284h0M640 247h0M869 269h0M690 152h0M832 284h0M650 131h0M595 377h0M869 271h0M889 307h0M686 161h0M1007 283h0M1045 261h0M610 158h0M672 194h0M630 226h0M753 245h0M728 401h0M714 420h0M735 122h0M682 148h0M1037 242h0M600 148h0M643 204h0M951 272h0M1028 264h0M714 331h0M1011 232h0M679 147h0M629 218h0M1005 267h0M701 117h0M635 223h0M624 161h0M649 180h0M754 268h0M683 164h0M660 181h0M699 356h0M695 117h0M886 290h0M654 256h0M607 162h0M1034 236h0M678 156h0M741 260h0M1026 280h0M891 298h0M885 274h0M731 405h0M656 192h0M630 138h0M702 411h0M615 261h0M752 294h0M725 327h0M611 170h0M689 191h0M999 277h0M886 310h0M696 218h0M669 208h0M1016 247h0M699 405h0M894 250h0M690 161h0M897 300h0M887 262h0M683 134h0M739 406h0M699 115h0M1006 250h0M655 174h0M766 238h0M616 158h0M656 219h0M687 474h0M715 125h0M677 109h0M658 127h0M831 293h0M765 290h0M607 148h0M893 318h0" stroke="#004d40" stroke-width="3.00" stroke-linecap="round" fill="none"/>
<path d="M600 371h0M892 252h0M987 264h0M614 241h0M613 207h0M699 349h0M760 275h0M605 236h0M882 269h0M660 231h0M704 137h0M902 255h0M612 126h0M882 296h0M898 268h0M625 126h0M856 73h0M699 218h0M747 390h0M695 139h0M909 306h0M950 237h0M765 280h0M1002 223h0M895 269h0M607 144h0M630 114h0M694 224h0M893 304h0M860 96h0M766 239h0M828 278h0M998 235h0M861 94h0M753 420h0M778 274h0M960 268h0M853 294h0M952 260h0M600 377h0M908 234h0M775 295h0M929 263h0M690 171h0M638 163h0M693 490h0M723 382h0M888 269h0M691 181h0M863 82h0M711 195h0M691 143h0M894 310h0M682 172h0M873 248h0M878 289h0M713 421h0M645 235h0M852 308h0M751 372h0M1022 270h0M996 267h0M679 370h0M719 404h0M765 408h0M635 242h0M705 193h0M685 171h0M616 124h0M1036 267h0M667 208h0M663 217h0M1047 244h0M648 236h0M640 169h0M728 116h0M751 261h0M625 126h0M881 332h0M748 400h0M730 116h0M627 251h0M718 129h0M763 268h0M735 370h0M659 197h0M873 325h0M881 254h0M764 249h0M679 168h0M654 233h0M660 196h0M858 67h0M747 394h0M898 244h0M650 117h0M627 107h0M889 302h0M905 299h0M907 305h0M749 388h0M882 261h0M695 166h0M1025 220h0M698 504h0M1031 236h0M670 114h0M910 308h0M902 258h0M664 138h0M718 213h0M776 298h0M634 112h0M989 243h0M732 393h0M1019 213h0M907 308h0M591 151h0M856 254h0M749 375h0M713 144h0M705 208h0M632 199h0M723 123h0M762 272h0M887 274h0M609 205h0M716 358h0M897 236h0M667 133h0M815 319h0M896 265h0M898 244h0M1005 238h0M643 149h0M621 258h0M682 160h0M696 210h0M677 362h0M691 144h0M624 122h0M874 337h0M652 244h0M884 239h0M629 168h0M606 177h0M623 250h0M867 244h0M716 395h0M615 244h0M663 140h0M665 188h0M1052 254h0M747 379h0M692 368h0M624 126h0M601 151h0M640 232h0M1004 225h0M692 241h0M722 382h0M714 210h0M908 246h0M665 189h0M784 281h0M612 134h0M1028 242h0M1018 267h0M750 406h0M942 276h0M768 271h0M707 349h0M721 351h0M1039 250h0M897 270h0M799 272h0M651 246h0M993 270h0M997 273h0M867 289h0M752 414h0M638 160h0M763 386h0M724 403h0M678 117h0M989 229h0M1037 246h0M875 261h0M727 394h0M987 263h0M848 261h0M639 229h0M776 242h0M609 209h0M665 212h0M653 138h0M667 193h0M1015 260h0M987 234h0M889 272h0M842 272h0M867 241h0M734 394h0M629 268h0M863 65h0M715 403h0M724 173h0M691 171h0M750 262h0M632 172h0M672 374h0M784 234h0M773 255h0M880 268h0M692 218h0M877 309h0M708 203h0M709 503h0M727 119h0M625 210h0M722 403h0M712 151h0M638 210h0M786 259h0M1027 265h0M989 243h0M861 300h0M856 278h0M946 275h0M909 262h0M942 258h0M657 109h0M630 170h0M1032 275h0M991 227h0M961 260h0M861 96h0M669 115h0M856 301h0M669 142h0M675 360h0M652 138h0M959 262h0M630 186h0M823 315h0M693 501h0M1014 273h0M705 490h0M1044 259h0M625 176h0M595 382h0M1028 215h0M862 94h0M944 246h0M629 266h0M941 248h0M1034 268h0M610 185h0M729 234h0M885 282h0M882 248h0M637 117h0M693 157h0M895 263h0M621 131h0M712 367h0M762 273h0M863 88h0M1048 265h0M851 76h0M731 400h0M623 242h0M720 406h0M954 243h0M908 295h0M865 330h0M701 213h0M853 264h0M995 228h0M946 254h0M703 205h0M696 177h0M696 141h0M876 289h0M695 178h0M742 373h0M1006 227h0M880 300h0M1037 257h0M1009 231h0M850 270h0M647 235h0M677 145h0M781 253h0M609 359h0M1045 244h0M718 504h0M1035 271h0M699 176h0M631 267h0M982 270h0M764 275h0M710 137h0M692 502h0M905 260h0M780 265h0M1008 258h0M856 257h0M752 262h0M916 246h0M710 501h0M856 336h0M1027 262h0M955 264h0M689 350h0M725 144h0M861 95h0M641 235h0M769 308h0M668 143h0M1035 219h0M633 268h0M630 183h0M672 172h0M1003 230h0M706 203h0M609 154h0M645 237h0M645 168h0M657 229h0M633 163h0M649 226h0M718 346h0M648 107h0M721 393h0M715 137h0M627 185h0M684 483h0M873 304h0M868 101h0M899 274h0M756 397h0M712 406h0M1027 295h0M671 364h0M779 242h0M667 122h0M675 125h0M930 270h0M749 412h0M700 136h0M851 274h0M900 278h0M866 262h0M604 214h0M675 361h0M703 126h0M673 209h0M1042 230h0M908 233h0M784 261h0M733 404h0M773 241h0M728 405h0M697 391h0M720 382h0M712 396h0M888 232h0M773 281h0M681 168h0M1027 267h0M736 377h0M894 237h0M640 130h0M723 133h0M627 269h0M615 216h0M738 129h0M859 469h0M708 144h0M713 399h0M674 364h0M702 158h0M774 242h0M1037 252h0M679 480h0M1038 249h0M720 393h0M715 399h0M607 239h0M948 254h0M1024 259h0M683 163h0M767 363h0M864 243h0M707 150h0M737 372h0M685 136h0M777 224h0M896 300h0M651 191h0M765 264h0M637 145h0M1004 257h0M992 231h0M886 310h0M868 264h0M668 203h0M636 106h0M889 271h0M639 229h0M871 307h0M959 252h0M899 230h0M683 183h0M742 375h0M762 417h0M867 265h0M715 501h0M768 231h0M1028 261h0M620 204h0M616 249h0M700 394h0M718 405h0M697 136h0M887 251h0M709 154h0M767 364h0M717 139h0M951 251h0M897 269h0M942 249h0M666 207h0M735 386h0M1051 270h0M794 281h0M854 296h0M661 152h0M689 139h0M854 302h0M669 202h0M729 382h0M700 492h0M767 242h0M908 250h0M943 251h0M786 254h0M607 210h0M617 145h0M608 241h0M662 190h0M637 181h0M735 349h0M868 329h0M692 138h0M664 141h0M1041 247h0M677 149h0M727 132h0M895 262h0M602 146h0M866 245h0M904 278h0M607 151h0M982 270h0M886 244h0M855 87h0M883 240h0M692 211h0M784 258h0M729 119h0M722 385h0M886 260h0M684 347h0M858 261h0M680 176h0M746 250h0M656 227h0M892 250h0M634 102h0M664 209h0M713 201h0M678 173h0M946 231h0M701 205h0M650 166h0M738 406h0M619 244h0M846 79h0M1040 266h0M650 234h0M686 181h0M599 364h0M725 169h0M636 232h0M784 252h0M904 254h0M773 251h0M666 193h0M963 269h0M710 418h0M784 261h0M626 270h0M691 178h0M649 159h0M906 238h0M622 120h0M627 189h0M1000 267h0M859 57h0M863 95h0M693 181h0M1018 295h0M652 162h0M898 282h0M897 262h0M853 66h0M697 177h0M673 134h0M991 223h0M1032 257h0M660 208h0M878 253h0M716 427h0M684 482h0M672 132h0M744 377h0M859 69h0M699 140h0M1021 220h0M895 267h0M773 242h0M869 306h0M995 231h0M1005 235h0M672 194h0M697 408h0M941 251h0M648 161h0M639 144h0M694 175h0M621 108h0M865 253h0M885 241h0M740 368h0M710 507h0M875 243h0M886 241h0M684 132h0M731 121h0M1033 225h0M771 256h0M899 266h0M711 139h0M1005 234h0M848 303h0M622 259h0M975 266h0M770 243h0M600 175h0M646 241h0M898 259h0M870 299h0M613 145h0M893 235h0M985 230h0M895 269h0M679 199h0M1003 249h0M723 171h0M617 238h0M995 263h0M987 238h0M601 175h0M1017 239h0M1017 227h0M703 151h0M684 169h0M702 485h0M609 137h0M641 150h0M955 253h0M739 390h0M1039 224h0M702 187h0M741 411h0M612 201h0M761 269h0M757 260h0M856 261h0M763 378h0M619 210h0M984 279h0M603 214h0M848 70h0M697 361h0M996 225h0M866 473h0M647 157h0M877 258h0M844 279h0M696 145h0M1018 255h0M988 230h0M625 139h0M890 242h0M867 244h0M643 146h0M712 491h0M604 141h0M700 402h0M690 176h0M1056 256h0M599 146h0M665 145h0M905 262h0M1045 264h0M686 136h0M711 509h0M632 139h0M720 413h0M601 361h0M655 130h0M682 116h0M621 172h0M781 259h0M1039 224h0M603 361h0M1020 261h0M954 249h0M1001 258h0M687 139h0M904 264h0M699 134h0M985 247h0M991 248h0M765 274h0M658 194h0M717 397h0M615 247h0M1008 269h0M772 237h0M607 151h0M711 372h0M783 258h0M618 176h0M1025 259h0M992 234h0M674 122h0M696 494h0M953 260h0M764 331h0M609 158h0M1020 217h0M857 329h0M896 260h0M623 250h0M1005 285h0M690 142h0M705 200h0M833 306h0M687 368h0M694 176h0M761 269h0M897 247h0M751 366h0M702 332h0M854 263h0M697 148h0M644 228h0M703 186h0M989 264h0M700 140h0M659 205h0M859 62h0M896 265h0M667 181h0M948 244h0M700 498h0M707 203h0M632 134h0M607 192h0M617 172h0M878 259h0M877 102h0M638 230h0M1024 258h0M732 122h0M882 262h0M667 234h0M1005 256h0M645 261h0M897 273h0M905 268h0M710 200h0M648 112h0M772 407h0M872 312h0M881 101h0M737 369h0M712 203h0M728 405h0M631 118h0M703 139h0M714 144h0M619 255h0M736 123h0M625 205h0M718 504h0M748 362h0M733 392h0M1037 267h0M606 152h0M985 236h0M733 118h0M1037 270h0M1025 222h0M782 423h0M652 144h0M990 243h0M607 256h0M982 246h0M714 204h0M1007 260h0M664 209h0M693 141h0M677 474h0M851 65h0M896 265h0M708 411h0M865 74h0M864 339h0M744 410h0M691 143h0M680 347h0M712 142h0M1003 238h0M637 110h0M674 195h0M678 155h0M660 237h0M910 244h0M634 169h0M710 156h0M657 238h0M655 236h0M655 166h0M621 136h0M629 139h0M635 267h0M762 295h0M857 262h0M631 133h0M759 393h0M854 290h0M975 266h0M904 293h0M898 239h0M745 388h0M874 250h0M1011 246h0M844 287h0M892 270h0M644 232h0M720 351h0M840 316h0M679 190h0M773 420h0M619 177h0M761 371h0M1017 259h0M999 226h0M962 272h0M730 385h0M726 397h0M849 73h0M855 462h0M648 239h0M668 139h0M668 133h0M677 143h0M925 263h0M701 171h0M623 143h0M1028 215h0M733 347h0M851 292h0M634 253h0M1016 224h0M668 119h0M967 272h0M647 133h0M885 292h0M602 181h0M704 508h0M722 126h0M643 114h0M887 250h0M644 241h0M646 163h0M770 300h0M668 238h0M906 261h0M623 253h0M987 280h0M952 246h0M1012 239h0M758 270h0M990 273h0M697 136h0M681 182h0M1036 247h0M857 93h0M816 322h0M727 390h0M849 82h0M983 271h0M1003 232h0M610 209h0M648 237h0M989 235h0M950 238h0M768 269h0M733 395h0M867 295h0M940 279h0M628 180h0M631 127h0M644 245h0M895 240h0M612 270h0M706 190h0M715 393h0M914 247h0M1030 273h0M702 500h0M615 144h0M873 241h0M673 122h0M703 143h0M942 245h0M871 104h0M828 323h0M648 322h0M610 141h0M894 311h0M903 314h0M727 387h0M672 165h0M702 487h0M908 227h0M632 237h0M856 72h0M721 420h0M602 151h0M932 258h0M867 474h0M629 164h0M936 267h0M907 310h0M873 325h0M626 238h0M654 137h0M712 492h0M688 162h0M982 277h0M630 243h0M714 149h0M1008 252h0M1000 251h0M905 298h0M679 148h0M994 263h0M878 259h0M737 410h0M647 158h0M878 101h0M964 271h0M714 498h0M658 151h0M731 389h0M912 231h0M605 171h0M702 386h0M770 409h0M883 268h0M662 198h0M889 311h0M718 147h0M715 204h0M1042 261h0M644 233h0M848 262h0M934 269h0M627 133h0" stroke="#fbbc2c" stroke-width="3.00" stroke-linecap="round" fill="none"/>
<path d="M707 211h0M734 141h0M768 305h0M647 196h0M760 305h0M924 253h0M675 223h0M733 369h0M944 244h0M779 238h0M633 195h0M726 234h0M792 288h0M669 242h0M614 229h0M644 255h0M882 227h0M652 260h0M646 190h0M725 156h0M733 373h0M686 210h0M678 149h0M942 241h0M1031 228h0M599 205h0M624 171h0M893 266h0M682 361h0M682 363h0M667 179h0M684 211h0M705 193h0M761 260h0M676 163h0M724 238h0M638 266h0M1041 233h0M976 253h0M666 201h0M726 142h0M761 400h0M632 235h0M771 256h0M682 119h0M749 386h0M617 229h0M657 124h0M611 239h0M621 162h0M884 252h0M726 178h0M695 226h0M736 134h0M610 138h0M845 75h0M636 232h0M681 190h0M740 386h0M671 362h0M818 318h0M693 206h0M784 294h0M766 315h0M854 90h0M744 360h0M1030 223h0M754 360h0M673 221h0M774 301h0M778 293h0M678 359h0M675 476h0M677 480h0M619 217h0M626 233h0M668 153h0M640 193h0M643 220h0M764 251h0M675 480h0M707 221h0M642 207h0M688 148h0M861 59h0M679 349h0M636 148h0M758 367h0M861 60h0M752 282h0M957 270h0M684 130h0M744 358h0M611 232h0M622 148h0M662 114h0M695 130h0M651 194h0M762 390h0M678 164h0M608 244h0M644 210h0M942 252h0M635 191h0M718 145h0M764 362h0M949 255h0M674 355h0M642 187h0M727 367h0M604 181h0M677 149h0M646 139h0M774 306h0M726 362h0M638 217h0M730 141h0M699 189h0M721 502h0M719 150h0M685 126h0M955 273h0M637 107h0M621 119h0M906 229h0M630 122h0M866 474h0M679 350h0M682 172h0M697 223h0M770 273h0M695 215h0M681 136h0M692 214h0M714 155h0M686 191h0M762 392h0M857 339h0M625 121h0M703 410h0M676 223h0M733 397h0M630 229h0M660 203h0M671 361h0M750 415h0M685 494h0M755 417h0M711 178h0M839 315h0M855 73h0M673 174h0M722 383h0M774 281h0M856 74h0M778 295h0M656 257h0M888 259h0M615 219h0M705 387h0M785 290h0M793 281h0M681 351h0M1034 235h0M643 224h0M942 237h0M772 295h0M857 79h0M899 285h0M1009 244h0M638 190h0M708 219h0M856 81h0M644 172h0M768 255h0M755 253h0M651 216h0M599 154h0M656 121h0M599 215h0M657 204h0M770 309h0M703 217h0M613 178h0M598 194h0M908 237h0M605 225h0M862 54h0M991 229h0M855 462h0M722 178h0M668 185h0M721 150h0M661 122h0M779 282h0M675 142h0M891 322h0M776 290h0M622 121h0M655 190h0M775 230h0M661 258h0M792 294h0M724 154h0M621 184h0M745 258h0M616 182h0M831 308h0M667 185h0M689 484h0M686 359h0M792 297h0M832 322h0M1034 251h0M651 123h0M769 270h0M862 69h0M937 274h0M1040 240h0M642 261h0M634 147h0M915 250h0M695 196h0M663 241h0M626 167h0M754 373h0M686 199h0M964 258h0M662 166h0M929 258h0M674 161h0M639 145h0M631 214h0M933 239h0M643 134h0M627 164h0M677 214h0M642 130h0M629 268h0M956 280h0M737 362h0M713 395h0M608 226h0M667 181h0M663 227h0M728 156h0M639 153h0M847 77h0M786 300h0M646 131h0M724 181h0M616 181h0M736 137h0M1002 261h0M718 174h0M621 225h0M665 257h0M674 313h0M652 198h0M867 476h0M759 399h0M686 366h0M624 137h0M620 268h0M780 301h0M944 231h0M660 244h0M885 226h0M675 133h0M773 306h0M884 251h0M908 280h0M748 275h0M625 146h0M704 151h0M768 240h0M686 204h0M640 147h0M686 359h0M662 257h0M699 208h0M697 128h0M614 222h0M710 177h0M661 226h0M830 321h0M716 166h0M654 194h0M623 227h0M760 287h0M652 179h0M623 168h0M712 135h0M733 140h0M773 282h0M716 366h0M714 170h0M981 268h0M761 249h0M678 135h0M777 300h0M646 217h0M774 260h0M637 196h0M794 293h0M609 182h0M635 108h0M684 141h0M628 205h0M727 370h0M740 383h0M668 131h0M667 176h0M640 150h0M631 271h0M678 365h0M746 378h0M901 224h0M724 133h0M647 190h0M680 168h0M638 109h0M626 224h0M618 221h0M780 293h0M707 388h0M853 80h0M717 508h0M701 146h0M664 175h0M614 182h0M770 280h0M703 210h0M648 124h0M683 348h0M768 251h0M751 403h0M636 132h0M646 193h0M610 204h0M717 149h0M669 153h0M675 313h0M648 227h0M696 206h0M903 252h0M707 213h0M835 316h0M645 134h0M699 214h0M748 248h0M647 255h0M701 145h0M902 279h0M718 125h0M674 153h0M741 378h0M632 255h0M903 229h0M634 259h0M767 303h0M661 163h0M662 168h0M914 245h0M759 292h0M641 212h0M609 227h0M783 242h0M952 236h0M653 196h0M702 126h0M661 186h0M725 367h0M866 76h0M887 228h0M907 238h0M644 145h0M904 281h0M760 292h0M940 236h0M886 226h0M706 222h0M602 368h0M712 213h0M781 245h0M620 223h0M692 107h0M995 220h0M661 119h0M777 273h0M634 228h0M645 209h0M722 147h0M1033 229h0M756 276h0M618 106h0M698 206h0M947 246h0M724 365h0M645 133h0M648 260h0M901 269h0M612 263h0M640 136h0M647 261h0M658 168h0M778 285h0M711 211h0M735 126h0M719 157h0M765 371h0M652 153h0M768 302h0M759 242h0M644 258h0M726 156h0M724 363h0M765 235h0M646 173h0M936 243h0M722 363h0M674 144h0M782 266h0M669 370h0M775 310h0M644 260h0M612 229h0M657 205h0M856 61h0M759 253h0M704 196h0M690 207h0M630 166h0M707 207h0M951 231h0M819 209h0M674 354h0M855 84h0M864 64h0M640 249h0M637 252h0M731 351h0M780 291h0M740 269h0M631 113h0M614 219h0M666 155h0M718 426h0M696 199h0M772 254h0M683 146h0M751 402h0M648 261h0M937 258h0M697 186h0M709 224h0M629 165h0M754 413h0M743 265h0M630 145h0M662 237h0M663 167h0M722 152h0M705 175h0M632 145h0M1049 256h0M656 128h0M627 206h0M724 230h0M742 376h0M844 451h0M891 226h0M661 154h0M626 148h0M727 361h0M742 389h0M647 222h0M688 128h0M656 115h0M686 493h0M791 292h0M672 188h0M698 224h0M642 127h0M707 148h0M699 206h0M661 164h0M775 282h0M691 199h0M665 179h0M679 179h0M643 265h0M791 266h0M780 237h0M668 251h0M629 195h0M814 203h0M770 255h0M735 123h0M614 118h0M689 114h0M636 179h0M875 239h0M762 303h0M712 152h0M623 240h0M616 139h0M700 172h0M642 215h0M762 393h0M710 135h0M697 409h0M948 251h0M780 242h0M683 146h0M716 161h0M888 223h0M713 153h0M942 256h0M723 154h0M605 173h0M761 299h0M1008 257h0M628 153h0M655 121h0M678 485h0M899 229h0M950 265h0M684 123h0M636 248h0M680 492h0M726 152h0M754 381h0M941 234h0M782 303h0M650 203h0M611 248h0M947 229h0M606 161h0M952 236h0M634 117h0M944 252h0M822 295h0M684 358h0M639 178h0M706 155h0M904 225h0M599 384h0M678 480h0M664 173h0M701 358h0M666 172h0M931 247h0M945 247h0M677 181h0M700 126h0M612 139h0M624 148h0M931 244h0M723 418h0M637 154h0M697 211h0M753 282h0M834 312h0M750 406h0M698 504h0M759 329h0M683 494h0M685 491h0M773 242h0M932 250h0M610 184h0M790 293h0M668 179h0M702 171h0M1034 230h0M897 230h0M789 297h0M903 232h0M691 215h0M662 247h0M698 501h0M632 255h0M843 75h0M720 147h0M923 253h0M760 255h0M720 412h0M634 152h0M1039 226h0M701 139h0M611 229h0M650 173h0M849 63h0M766 314h0M722 153h0M623 237h0M654 260h0M729 151h0M686 114h0M637 248h0M699 189h0M947 240h0M729 422h0M906 230h0M753 251h0M721 381h0M996 223h0M655 245h0M696 220h0M733 118h0M706 221h0M641 259h0M796 279h0M755 357h0M600 207h0M634 204h0M760 382h0M665 166h0M940 243h0M848 80h0M703 141h0M851 297h0M784 279h0M848 334h0M752 382h0M938 246h0M636 237h0M648 204h0M615 265h0M711 395h0M713 386h0M674 478h0M719 350h0M649 217h0M616 176h0M608 225h0M710 220h0M637 246h0M748 249h0M746 386h0M675 163h0M830 314h0M658 201h0M955 276h0M681 485h0M757 335h0M694 211h0M634 153h0M614 142h0M623 125h0M621 221h0M927 255h0M764 303h0M1041 232h0M1040 227h0M822 318h0M679 147h0M738 368h0M621 243h0M827 305h0M780 243h0M692 129h0M720 161h0M785 296h0M646 211h0M952 272h0M725 132h0M713 157h0M640 128h0M598 201h0M948 239h0M699 129h0M881 260h0M710 217h0M772 285h0M933 247h0M675 128h0M749 357h0M695 211h0M666 317h0M635 108h0M763 259h0M640 192h0M784 283h0M647 171h0M765 313h0M756 394h0M597 375h0M672 166h0M758 286h0M613 187h0M640 133h0M644 227h0M639 215h0M864 58h0M762 285h0M861 56h0M784 299h0M723 152h0M641 259h0M916 250h0M857 60h0M669 178h0M669 241h0M769 296h0M888 228h0M754 287h0M693 111h0M905 225h0M648 199h0M698 141h0M774 236h0M634 250h0M747 362h0M811 199h0M784 228h0M942 237h0M853 82h0M599 380h0M749 396h0M667 176h0M609 263h0M638 187h0M791 294h0M718 373h0M678 354h0M638 152h0M688 498h0M703 189h0M638 190h0M675 219h0M615 133h0M710 220h0M617 142h0M752 283h0M659 159h0M698 194h0M631 193h0M738 399h0M603 250h0M953 245h0M643 183h0M749 373h0M979 262h0M631 245h0M700 132h0M726 150h0M656 244h0M757 318h0M764 395h0M594 373h0M723 352h0M953 239h0M704 189h0M757 364h0M697 140h0M704 186h0M620 225h0M707 221h0M615 224h0M677 170h0M693 130h0M614 225h0M691 157h0M717 213h0M686 135h0M940 231h0M708 209h0M641 264h0M601 162h0M771 230h0M786 273h0M680 485h0M760 262h0M618 222h0M639 213h0M687 163h0M642 125h0M726 236h0M697 195h0M628 146h0M708 398h0M714 170h0M674 357h0M628 254h0M863 343h0M942 245h0M674 226h0M619 183h0M907 284h0M765 305h0M770 315h0M707 210h0M641 195h0M948 236h0M698 210h0M691 123h0M1036 221h0M693 202h0M763 321h0M676 476h0M713 219h0M614 233h0M746 254h0M671 314h0M694 130h0M644 192h0M741 260h0M893 227h0M619 144h0M711 145h0M769 266h0M850 86h0M725 120h0M922 255h0M643 110h0M775 260h0M942 246h0M678 133h0M672 162h0M769 264h0M705 391h0M615 228h0M642 215h0M763 295h0M1027 233h0M665 116h0M898 225h0M766 245h0M626 144h0M707 219h0M679 133h0M886 249h0M859 68h0M689 206h0M748 394h0M896 273h0M628 247h0M1039 238h0M940 267h0M721 420h0M609 161h0M956 276h0M733 242h0M761 309h0M627 247h0M632 201h0M773 301h0M943 266h0M644 132h0M637 164h0M686 493h0M764 246h0M720 160h0M643 206h0M933 245h0M669 167h0M867 70h0M765 374h0M881 336h0M762 299h0M813 273h0M939 265h0M766 291h0M774 230h0M677 352h0M624 236h0M658 225h0M753 246h0M645 131h0M641 216h0M630 153h0M615 231h0M697 212h0M765 253h0M774 226h0" stroke="#d81b60" stroke-width="3.00" stroke-linecap="round" fill="none"/>
<path d="M598 159h0M711 129h0M711 384h0M656 189h0M1028 266h0M617 163h0M655 133h0M988 224h0M1029 280h0M1024 272h0M606 249h0M719 123h0M702 166h0M697 175h0M663 134h0M688 350h0M701 174h0M699 111h0M717 503h0M728 132h0M625 150h0M660 233h0M733 124h0M1038 269h0M877 257h0M1031 217h0M627 129h0M613 213h0M680 122h0M654 264h0M891 248h0M1017 230h0M735 138h0M638 249h0M895 251h0M992 274h0M673 152h0M673 375h0M731 391h0M1015 262h0M1031 298h0M727 322h0M662 226h0M767 237h0M731 148h0M732 406h0M701 151h0M1020 276h0M677 221h0M714 122h0M909 260h0M788 279h0M844 319h0M878 319h0M638 203h0M608 158h0M653 194h0M701 365h0M1006 268h0M894 252h0M890 314h0M602 154h0M660 136h0M720 410h0M1000 275h0M877 250h0M902 250h0M684 139h0M850 286h0M1012 283h0M642 205h0M618 271h0M1035 274h0M724 140h0M658 126h0M686 171h0M707 407h0M639 128h0M740 254h0M671 151h0M695 500h0M721 120h0M708 191h0M615 152h0M599 188h0M637 226h0M891 252h0M619 263h0M674 148h0M718 354h0M640 123h0M960 278h0M668 144h0M1002 233h0M656 256h0M1000 262h0M729 140h0M858 246h0M618 235h0M607 165h0M623 148h0M855 61h0M708 397h0M865 269h0M656 249h0M691 150h0M604 188h0M688 164h0M613 157h0M630 110h0M990 222h0M862 287h0M1021 248h0M784 253h0M607 171h0M727 403h0M876 285h0M625 259h0M725 141h0M613 150h0M708 168h0M741 414h0M1046 277h0M725 150h0M995 257h0M1034 267h0M724 162h0M807 200h0M865 252h0M867 279h0M713 135h0M694 114h0M763 291h0M765 304h0M717 393h0M621 254h0M619 125h0M704 397h0M906 288h0M863 283h0M605 153h0M1047 279h0M649 136h0M720 353h0M641 244h0M707 344h0M629 143h0M626 238h0M643 157h0M699 116h0M739 390h0M654 211h0M612 249h0M1015 252h0M1025 277h0M857 344h0M773 236h0M1036 239h0M1021 272h0M709 186h0M738 328h0M643 242h0M697 117h0M705 355h0M1000 233h0M715 162h0M696 118h0M687 349h0M655 180h0M675 118h0M651 130h0M894 285h0M999 238h0M710 334h0M661 171h0M1017 213h0M702 119h0M768 290h0M653 144h0M874 273h0M1050 262h0M723 392h0M610 259h0M697 356h0M675 202h0M1023 240h0M994 264h0M769 230h0M599 137h0M1025 288h0M1012 281h0M927 264h0M776 228h0M890 310h0M744 254h0M618 162h0M788 266h0M1020 287h0M735 422h0M1045 280h0M692 222h0M854 264h0M732 330h0M668 212h0M684 162h0M691 223h0M860 85h0M730 130h0M1028 274h0M954 288h0M640 240h0M734 407h0M1002 266h0M675 146h0M702 355h0M991 225h0M878 267h0M706 125h0M614 181h0M606 200h0M764 310h0M711 159h0M705 157h0M1058 261h0M631 244h0M658 189h0M606 247h0M911 250h0M1047 254h0M627 114h0M655 134h0M613 202h0M1013 273h0M998 271h0M720 125h0M776 269h0M630 260h0M1014 260h0M650 168h0M618 132h0M699 143h0M760 425h0M675 143h0M1023 214h0M687 478h0M607 183h0M713 424h0M709 126h0M664 116h0M618 154h0M1043 276h0M972 263h0M721 173h0M622 123h0M978 242h0M696 136h0M669 150h0M878 246h0M708 362h0M1013 254h0M627 145h0M606 205h0M687 475h0M1033 262h0M860 75h0M1035 295h0M865 262h0M614 248h0M617 209h0M673 156h0M615 163h0M676 157h0M645 206h0M625 117h0M824 220h0M731 324h0M894 266h0M626 176h0M613 133h0M899 273h0M700 481h0M604 137h0M681 160h0M613 125h0M624 161h0M634 142h0M702 205h0M618 213h0M745 414h0M695 482h0M690 134h0M629 140h0M622 153h0M720 422h0M681 146h0M637 236h0M715 383h0M995 254h0M635 121h0M686 125h0M898 294h0M743 338h0M739 423h0M880 265h0M887 286h0M841 300h0M612 161h0M664 212h0M662 219h0M696 204h0M742 328h0M680 219h0M634 248h0M666 180h0M620 178h0M730 354h0M1028 278h0M873 283h0M711 357h0M883 260h0M737 133h0M775 276h0M662 204h0M698 481h0M1022 245h0M867 288h0M622 267h0M897 307h0M611 164h0M780 254h0M1015 277h0M875 279h0M848 261h0M1056 268h0M1035 297h0M888 245h0M645 203h0M617 159h0M692 117h0M681 174h0M1010 278h0M1021 276h0M658 177h0M677 223h0M879 253h0M755 291h0M721 227h0M731 333h0M688 165h0M656 261h0M1013 251h0M653 187h0M593 385h0M886 244h0M999 225h0M735 389h0M713 427h0M780 418h0M693 396h0M610 152h0M690 166h0M864 269h0M989 254h0M703 202h0M1028 239h0M781 233h0M1024 296h0M679 118h0M885 273h0M646 149h0M894 252h0M889 250h0M680 190h0M888 254h0M688 496h0M856 290h0M778 417h0M745 412h0M741 399h0M608 168h0M664 192h0M1008 297h0M734 419h0M878 274h0M663 174h0M1042 283h0M646 228h0M1033 237h0M692 129h0M650 151h0M662 145h0M674 161h0M933 276h0M1011 259h0M731 128h0M638 133h0M887 294h0M667 133h0M642 181h0M892 284h0M609 257h0M995 272h0M850 287h0M1040 284h0M662 190h0M594 384h0M702 171h0M1007 285h0M988 256h0M607 148h0M1018 246h0M1028 269h0M1046 250h0M625 256h0M842 449h0M650 183h0M983 228h0M711 194h0M639 245h0M658 126h0M781 269h0M645 254h0M889 253h0M697 224h0M629 143h0M907 278h0M894 245h0M657 181h0M630 236h0M983 245h0M701 155h0M660 127h0M739 348h0M900 285h0M908 307h0M737 123h0M608 130h0M1038 273h0M1028 257h0M684 159h0M705 168h0M762 420h0M1010 253h0M635 224h0M651 172h0M614 244h0M1023 277h0M633 170h0M810 278h0M787 268h0M646 254h0M716 421h0M684 348h0M606 193h0M662 227h0M1025 266h0M724 422h0M1009 260h0M869 298h0M636 163h0M855 305h0M613 200h0M907 294h0M667 212h0M867 288h0M706 169h0M663 226h0M1011 261h0M603 137h0M906 289h0M661 127h0M615 126h0M627 197h0M891 261h0M862 261h0M635 142h0M674 156h0M686 204h0M662 129h0M709 195h0M724 406h0M1000 260h0M1024 278h0M697 112h0M631 174h0M1000 241h0M692 189h0M713 125h0M1020 274h0M759 335h0M884 256h0M626 229h0M608 166h0M1044 235h0M626 107h0M695 118h0M713 339h0M754 277h0M961 257h0M694 152h0M613 130h0M699 186h0M670 237h0M950 230h0M697 154h0M690 476h0M697 189h0M630 140h0M630 259h0M650 208h0M883 276h0M854 270h0M658 254h0M732 251h0M984 285h0M751 332h0M894 265h0M680 190h0M630 233h0M636 221h0M725 126h0M699 201h0M608 368h0M671 239h0M900 312h0M670 133h0M682 116h0M1000 271h0M689 148h0M623 147h0M862 303h0M651 170h0M1039 282h0M898 286h0M869 266h0M895 308h0M627 120h0M989 255h0M705 398h0M636 140h0M704 414h0M594 154h0M865 288h0M670 218h0M680 145h0M995 218h0M1010 226h0M706 167h0M1009 221h0M750 264h0M1003 256h0M893 244h0M625 178h0M620 214h0M653 189h0M688 120h0M1030 281h0M617 125h0M691 186h0M704 217h0M661 128h0M627 112h0M1019 251h0M623 199h0M849 319h0M895 314h0M1047 246h0M1035 245h0M876 298h0M631 210h0M893 260h0M631 137h0M1032 253h0M641 245h0M618 214h0M677 160h0M989 241h0M638 221h0M622 266h0M852 293h0M768 425h0M719 335h0M887 248h0M724 231h0M717 125h0M974 246h0M711 203h0M669 116h0M1009 256h0M645 230h0M876 297h0M702 484h0M595 158h0M697 120h0M727 324h0M1004 279h0M610 206h0M664 178h0M869 300h0M891 306h0M721 331h0M852 273h0M772 288h0M608 358h0M691 167h0M883 283h0M624 147h0M641 219h0M997 280h0M614 159h0M787 275h0M695 113h0M1035 294h0M728 403h0M998 283h0M892 261h0M995 226h0M783 279h0M701 203h0M687 122h0M710 337h0M864 260h0M781 240h0M1030 274h0M630 217h0M627 236h0M638 234h0M629 144h0M887 269h0M701 202h0M635 137h0M887 253h0M730 404h0M1046 279h0M706 400h0M873 246h0M663 147h0M781 234h0M687 192h0M849 61h0M698 412h0M876 280h0M1001 231h0M620 115h0M1038 271h0M1012 281h0M768 232h0M725 142h0M655 131h0M644 239h0M1039 294h0M736 337h0M608 152h0M770 324h0M738 253h0M639 237h0M690 172h0M866 302h0M602 142h0M710 170h0M655 165h0M680 122h0M905 274h0M677 128h0M684 159h0M1019 290h0M997 267h0M903 255h0M612 125h0M628 108h0M1026 263h0M890 249h0M762 421h0M685 350h0M725 134h0M906 273h0M858 303h0M685 169h0M851 288h0M1019 230h0M668 158h0M898 292h0M691 226h0M652 173h0M809 204h0M1011 266h0M1021 268h0M623 263h0M751 330h0M620 110h0M884 279h0M727 354h0M758 331h0M643 197h0M1039 274h0M873 265h0M747 259h0M696 166h0M1003 278h0M650 131h0M842 308h0M886 263h0M618 113h0M631 112h0M708 422h0M699 116h0M767 423h0M690 115h0M639 130h0M657 225h0M721 510h0M676 183h0M703 193h0M876 317h0M987 261h0M668 221h0M1038 263h0M688 146h0M606 246h0M981 235h0M764 426h0M710 133h0M716 384h0M624 108h0M898 252h0M1036 254h0M643 138h0M699 123h0M592 143h0M688 152h0M624 194h0M668 142h0M685 152h0M599 151h0M667 149h0M698 484h0M1023 271h0M892 240h0M658 196h0M968 253h0M647 146h0M1024 240h0M629 126h0M637 109h0M701 118h0M594 148h0M730 142h0M601 186h0M898 293h0M693 224h0M678 136h0M1020 285h0M646 160h0M709 337h0M734 130h0M639 140h0M688 154h0M654 150h0M665 116h0M1043 238h0M710 164h0M871 247h0M645 202h0M754 331h0M683 151h0M1024 258h0M613 130h0M877 278h0M625 185h0M885 324h0M605 183h0M600 162h0M602 193h0M716 403h0M660 236h0M883 254h0M1035 235h0M720 182h0M640 241h0M727 385h0M649 182h0M657 319h0M731 125h0M598 154h0M784 278h0M893 249h0M721 164h0M661 254h0M626 213h0M622 129h0M1040 294h0M879 320h0M694 120h0M1015 274h0M604 252h0M683 166h0M880 264h0M716 420h0M748 334h0M734 137h0M679 162h0M763 283h0M1004 268h0M897 245h0M778 254h0M1003 272h0M706 202h0M689 163h0M779 262h0M889 314h0M639 234h0M694 170h0M885 251h0M691 476h0M613 251h0M592 382h0M736 127h0M630 192h0M715 172h0M762 327h0M731 134h0M888 309h0M699 483h0M657 178h0M894 258h0M647 120h0M614 130h0M1001 269h0M717 398h0M635 138h0M703 127h0M1012 246h0M701 223h0M666 211h0M824 213h0M1011 229h0M616 118h0M895 249h0M1021 281h0M784 247h0M706 396h0M732 250h0M719 385h0M653 178h0M688 155h0M1013 256h0M673 152h0M759 244h0M695 159h0M705 197h0M883 300h0M624 118h0M764 242h0M717 336h0M651 247h0M698 173h0M772 415h0M650 252h0M877 332h0M1050 286h0M624 109h0M671 153h0M783 237h0M657 210h0M850 277h0M1021 230h0M752 335h0M638 254h0M746 410h0M621 158h0M615 266h0M888 277h0M1028 292h0M983 242h0M708 157h0M727 124h0M1013 290h0M613 255h0M877 265h0M862 276h0M612 150h0M1007 227h0M862 86h0M637 235h0M738 340h0M976 277h0M1037 284h0M630 125h0M1021 267h0M879 250h0M672 121h0M692 152h0M727 123h0M607 153h0M610 146h0M711 166h0M695 484h0M642 119h0M1008 266h0M623 232h0M659 192h0M744 400h0M617 153h0M1023 290h0M605 168h0M855 255h0M831 314h0M683 156h0M789 269h0M894 293h0M1044 270h0M722 411h0M663 168h0M1015 265h0M674 214h0M671 160h0M988 221h0M734 122h0M1017 293h0M1050 264h0M783 247h0M609 264h0M696 404h0M710 167h0M730 402h0M640 161h0M877 282h0M997 266h0M778 243h0M602 191h0M760 425h0M675 190h0M650 263h0M665 362h0M599 190h0M762 298h0M629 221h0M709 337h0M771 426h0M993 256h0M750 263h0M711 210h0M665 215h0M991 277h0M978 244h0M708 213h0M605 186h0M616 211h0M620 211h0M761 423h0M662 191h0M871 259h0M607 164h0M654 178h0M858 67h0M709 162h0M1050 276h0M678 196h0M892 296h0M703 213h0M1025 234h0M788 267h0M1045 273h0M760 242h0M732 402h0M764 278h0M629 154h0M704 509h0M1032 263h0M736 384h0M679 124h0M702 121h0M625 197h0M951 275h0M694 498h0M686 108h0M648 189h0M1016 268h0M611 270h0M888 284h0M639 200h0M617 355h0M637 203h0M709 394h0M787 282h0M703 483h0M864 310h0M623 242h0M707 156h0M655 137h0M701 169h0M688 109h0M689 108h0M670 146h0M646 140h0M703 158h0M883 235h0M844 283h0M704 182h0M683 146h0M1052 261h0M666 143h0M1054 267h0M638 204h0M845 302h0M1015 263h0M707 172h0M1031 259h0M705 123h0M728 354h0M1029 256h0M844 275h0M595 143h0M591 149h0M670 219h0M1005 254h0M781 281h0M883 315h0M647 247h0M857 280h0M906 264h0M660 181h0M865 270h0M716 402h0M612 155h0M1012 261h0M687 154h0M1047 276h0M711 355h0M1029 278h0" stroke="#004d40" stroke-width="3.00" stroke-linecap="round" fill="none"/>
<path d="M615 227h0M656 125h0M957 264h0M720 153h0M704 223h0M871 478h0M988 266h0M761 383h0M676 134h0M714 152h0M649 132h0M777 259h0M766 382h0M668 175h0M947 238h0M1027 231h0M681 139h0M612 178h0M772 229h0M599 169h0M714 217h0M898 230h0M726 161h0M826 304h0M758 393h0M642 258h0M670 169h0M1041 224h0M629 243h0M781 273h0M943 252h0M681 188h0M662 241h0M730 135h0M687 494h0M943 238h0M678 487h0M671 136h0M666 171h0M686 220h0M675 475h0M618 214h0M859 328h0M877 241h0M691 188h0M910 228h0M696 191h0M763 301h0M648 200h0M873 241h0M630 156h0M657 262h0M725 160h0M951 278h0M866 473h0M734 141h0M624 247h0M694 169h0M644 177h0M708 151h0M704 219h0M781 293h0M670 210h0M603 170h0M849 68h0M774 243h0M678 357h0M616 176h0M761 363h0M710 225h0M734 142h0M1038 240h0M1033 234h0M717 218h0M694 204h0M662 238h0M620 235h0M615 136h0M777 272h0M669 184h0M607 219h0M655 205h0M699 203h0M887 223h0M600 192h0M932 245h0M617 235h0M679 139h0M700 137h0M788 294h0M672 164h0M854 85h0M724 153h0M633 204h0M710 351h0M643 107h0M760 389h0M643 114h0M617 236h0M637 187h0M612 186h0M697 183h0M685 210h0M650 261h0M675 312h0M654 178h0M771 306h0M633 267h0M861 71h0M757 275h0M650 129h0M766 306h0M765 284h0M766 299h0M945 250h0M776 303h0M737 126h0M689 146h0M755 297h0M769 265h0M693 134h0M773 257h0M942 247h0M726 149h0M978 255h0M865 68h0M834 323h0M635 119h0M679 181h0M845 66h0M756 385h0M660 249h0M775 297h0M622 231h0M663 225h0M661 258h0M677 359h0M675 479h0M643 217h0M638 113h0M705 214h0M738 394h0M886 227h0M740 261h0M667 138h0M760 392h0M608 150h0M694 123h0M655 214h0M931 250h0M745 377h0M686 156h0M659 127h0M672 355h0M656 216h0M614 176h0M639 261h0M725 145h0M763 373h0M608 222h0M891 225h0M724 366h0M624 153h0M654 157h0M647 227h0M621 265h0M608 221h0M768 242h0M660 165h0M780 248h0M699 145h0M717 365h0M788 293h0M655 190h0M844 290h0M631 255h0M739 372h0M939 240h0M632 149h0M670 359h0M658 124h0M767 283h0M676 128h0M659 134h0M597 157h0M740 256h0M669 366h0M775 302h0M721 155h0M618 238h0M680 351h0M731 145h0M720 367h0M644 190h0M644 199h0M707 185h0M648 265h0M642 145h0M773 251h0M674 361h0M648 198h0M669 315h0M678 361h0M686 122h0M622 144h0M612 258h0M951 276h0M719 157h0M709 180h0M656 249h0M686 495h0M634 136h0M620 184h0M626 166h0M675 189h0M660 219h0M933 244h0M931 245h0M945 231h0M675 350h0M963 269h0M614 234h0M721 157h0M643 140h0M904 221h0M757 386h0M628 193h0M649 176h0M792 269h0M724 117h0M696 130h0M652 218h0M765 257h0M941 255h0M700 210h0M952 249h0M676 357h0M633 228h0M718 348h0M647 159h0M638 151h0M705 178h0M707 218h0M830 309h0M763 264h0M775 241h0M695 172h0M603 205h0M675 228h0M951 262h0M945 255h0M690 142h0M678 351h0M794 296h0M715 320h0M650 171h0M616 357h0M772 292h0M650 259h0M624 268h0M631 208h0M682 145h0M725 183h0M772 307h0M711 173h0M683 346h0M771 291h0M751 402h0M674 138h0M697 206h0M669 189h0M911 228h0M626 228h0M853 79h0M637 155h0M941 240h0M675 354h0M950 242h0M740 387h0M601 196h0M627 148h0M682 209h0M677 486h0M692 128h0M788 283h0M685 145h0M938 240h0M642 155h0M684 186h0M652 260h0M606 369h0M735 139h0M789 294h0M727 156h0M723 125h0M733 131h0M724 367h0M756 291h0M746 258h0M1039 260h0M708 220h0M684 494h0M676 132h0M693 121h0M694 128h0M950 239h0M682 140h0M781 290h0M778 277h0M903 226h0M670 226h0M697 210h0M933 275h0M762 318h0M685 218h0M644 216h0M677 356h0M755 299h0M762 365h0M882 259h0M680 196h0M901 228h0M662 252h0M1011 256h0M710 176h0M760 396h0M666 165h0M692 193h0M624 166h0M727 182h0M732 146h0M630 165h0M864 67h0M607 204h0M859 75h0M782 246h0M677 487h0M894 265h0M760 253h0M714 164h0M614 219h0M624 159h0M713 158h0M669 128h0M666 242h0M862 78h0M781 241h0M763 381h0M682 129h0M912 240h0M763 255h0M959 276h0M751 418h0M608 225h0M928 248h0M638 215h0M627 190h0M771 313h0M748 414h0M788 282h0M611 134h0M715 167h0M592 387h0M675 479h0M955 281h0M659 115h0M731 133h0M706 182h0M704 395h0M624 249h0M716 375h0M674 217h0M887 324h0M658 157h0M711 150h0M600 209h0M639 265h0M765 273h0M762 415h0M684 131h0M790 302h0M710 508h0M640 212h0M685 170h0M708 221h0M621 222h0M666 156h0M649 179h0M625 117h0M775 297h0M610 222h0M888 226h0M633 163h0M645 200h0M629 249h0M728 146h0M605 195h0M692 147h0M725 159h0M605 234h0M944 260h0M616 192h0M629 147h0M945 237h0M646 256h0M701 157h0M1025 251h0M629 145h0M643 218h0M757 301h0M1053 255h0M934 244h0M939 239h0M690 208h0M622 177h0M686 136h0M764 293h0M692 194h0M651 179h0M727 177h0M638 217h0M655 255h0M718 134h0M941 259h0M723 505h0M640 111h0M757 310h0M712 213h0M658 235h0M684 212h0M613 226h0M662 112h0M599 373h0M641 177h0M641 260h0M651 203h0M707 179h0M742 260h0M695 181h0M791 292h0M717 157h0M659 152h0M946 238h0M669 178h0M737 124h0M855 78h0M620 268h0M844 326h0M850 84h0M616 148h0M689 211h0M691 143h0M723 363h0M686 154h0M953 267h0M694 489h0M863 65h0M635 193h0M656 260h0M728 117h0M760 301h0M711 219h0M608 371h0M649 216h0M716 397h0M658 262h0M653 113h0M716 155h0M727 158h0M759 237h0M840 71h0M787 268h0M714 215h0M654 130h0M861 86h0M706 183h0M671 139h0M604 182h0M600 207h0M764 301h0M665 240h0M667 242h0M686 477h0M751 246h0M693 486h0M614 254h0M775 269h0M714 152h0M676 137h0M607 159h0M638 256h0M624 142h0M863 59h0M657 189h0M673 186h0M610 181h0M659 155h0M697 502h0M771 402h0M635 193h0M604 247h0M618 232h0M655 203h0M667 177h0M744 356h0M887 234h0M847 288h0M888 235h0M671 169h0M905 227h0M906 233h0M634 250h0M657 220h0M625 256h0M809 279h0M663 161h0M655 259h0M761 267h0M618 257h0M667 171h0M700 124h0M947 225h0M868 478h0M789 287h0M768 306h0M608 135h0M631 155h0M666 138h0M608 184h0M728 148h0M711 173h0M632 253h0M1035 220h0M884 246h0M907 237h0M615 183h0M850 457h0M604 220h0M717 390h0M783 281h0M876 246h0M710 510h0M715 183h0M724 369h0M937 264h0M754 277h0M697 211h0M725 151h0M752 263h0M725 118h0M660 112h0M701 127h0M651 219h0M719 153h0M951 242h0M924 262h0M622 123h0M849 457h0M734 129h0M903 233h0M702 224h0M732 143h0M1034 236h0M648 218h0M679 142h0M651 127h0M692 503h0M754 298h0M630 124h0M737 132h0M645 194h0M840 282h0M619 141h0M663 171h0M630 257h0M668 368h0M665 239h0M838 315h0M670 204h0M656 173h0M668 230h0M657 241h0M921 252h0M771 314h0M673 131h0M602 250h0M698 156h0M753 251h0M689 490h0M738 402h0M818 280h0M913 244h0M1001 264h0M650 113h0M860 54h0M751 378h0M756 403h0M702 196h0M736 398h0M717 392h0M732 121h0M705 349h0M757 329h0M628 117h0M1055 257h0M748 400h0M719 159h0M771 248h0M625 155h0M716 161h0M672 227h0M676 165h0M895 224h0M691 208h0M762 246h0M625 164h0M705 390h0M1041 229h0M660 122h0M959 279h0M933 275h0M707 323h0M655 220h0M726 159h0M627 254h0M775 304h0M599 377h0M695 184h0M648 141h0M619 182h0M936 237h0M723 155h0M777 236h0M759 413h0M620 184h0M791 291h0M718 324h0M618 181h0M758 285h0M750 405h0M702 215h0M774 259h0M695 157h0M891 313h0M690 365h0M652 123h0M782 276h0M768 246h0M703 123h0M952 247h0M962 275h0M655 191h0M682 350h0M686 193h0M639 135h0M668 163h0M637 124h0M941 236h0M709 154h0M638 127h0M632 146h0M769 270h0M750 360h0M687 198h0M621 147h0M672 180h0M665 248h0M771 315h0M646 215h0M728 139h0M691 496h0M739 328h0M861 66h0M743 383h0M662 180h0M650 128h0M722 129h0M792 297h0M885 228h0M678 168h0M952 253h0M675 476h0M623 151h0M736 137h0M771 253h0M637 191h0M1057 263h0M946 237h0M667 153h0M857 52h0M604 195h0M698 199h0M713 167h0M725 161h0M626 150h0M624 143h0M740 368h0M614 146h0M905 228h0M874 249h0M653 209h0M645 135h0M661 239h0M690 195h0M786 296h0M637 215h0M631 167h0M754 388h0M687 127h0M684 118h0M655 199h0M676 484h0M688 195h0M767 312h0M642 142h0M885 236h0M756 421h0M704 226h0M928 246h0M729 381h0M694 209h0M706 213h0M661 162h0M708 170h0M727 414h0M860 281h0M618 223h0M607 241h0M679 486h0M641 131h0M654 159h0M684 162h0M627 261h0M841 315h0M677 186h0M1039 231h0M777 259h0M767 301h0M1041 235h0M768 265h0M758 264h0M695 222h0M946 252h0M671 359h0M771 251h0M680 175h0M727 158h0M698 211h0M980 260h0M669 170h0M643 142h0M780 294h0M678 186h0M648 258h0M872 302h0M675 161h0M621 185h0M637 175h0M702 131h0M877 290h0M683 141h0M886 256h0M864 72h0M728 134h0M933 251h0M642 229h0M981 254h0M656 160h0M976 261h0M717 154h0M604 178h0M942 282h0M735 141h0M682 134h0M662 239h0M730 139h0M601 373h0M646 196h0M833 305h0M699 132h0M669 179h0M766 312h0M673 358h0M1010 246h0M702 144h0M760 263h0M712 204h0M625 119h0M959 274h0M821 201h0M670 167h0M715 166h0M682 348h0M636 151h0M753 388h0M671 182h0M862 63h0M752 407h0M663 140h0M621 266h0M945 230h0M736 370h0M697 482h0M660 153h0M692 129h0M897 231h0M952 230h0M768 301h0M627 193h0M636 216h0M766 256h0M700 498h0M675 166h0M659 125h0M768 275h0M937 248h0M938 243h0M616 180h0M708 177h0M661 161h0M760 396h0M939 241h0M659 127h0M763 288h0M954 280h0M722 150h0M760 294h0M681 491h0M887 254h0M849 73h0M715 218h0M753 412h0M936 247h0M741 399h0M733 127h0M1042 222h0M766 255h0" stroke="#d81b60" stroke-width="3.00" stroke-linecap="round" fill="none"/>
<path d="M746 421h0M850 259h0M1002 230h0M686 136h0M899 252h0M777 273h0M961 259h0M950 257h0M759 269h0M854 257h0M611 246h0M1010 241h0M619 250h0M667 132h0M896 274h0M943 246h0M900 310h0M727 237h0M677 489h0M658 188h0M636 113h0M664 195h0M740 398h0M680 127h0M631 128h0M1051 253h0M624 185h0M635 110h0M663 213h0M734 116h0M1004 272h0M863 95h0M710 383h0M782 253h0M717 215h0M673 367h0M897 257h0M699 487h0M864 76h0M645 236h0M893 275h0M882 251h0M904 227h0M704 210h0M675 166h0M992 266h0M650 237h0M629 241h0M781 276h0M914 252h0M820 321h0M935 276h0M858 256h0M668 141h0M621 240h0M702 205h0M863 98h0M1004 222h0M935 265h0M959 277h0M703 488h0M594 376h0M610 163h0M733 388h0M885 245h0M677 115h0M714 496h0M715 495h0M635 106h0M611 241h0M636 171h0M644 234h0M896 275h0M888 250h0M602 140h0M866 296h0M637 111h0M710 339h0M1032 271h0M693 138h0M603 140h0M898 246h0M691 364h0M900 282h0M622 201h0M830 326h0M668 203h0M1020 254h0M601 360h0M698 143h0M850 256h0M625 109h0M1016 216h0M778 257h0M878 306h0M772 250h0M950 254h0M726 351h0M639 144h0M873 268h0M901 281h0M903 263h0M957 260h0M762 272h0M1033 265h0M995 231h0M843 333h0M724 393h0M729 386h0M884 337h0M1022 254h0M661 167h0M674 190h0M651 144h0M598 152h0M607 140h0M895 268h0M606 245h0M1041 251h0M713 370h0M614 231h0M868 251h0M659 231h0M715 397h0M632 264h0M1003 245h0M1024 232h0M648 169h0M926 268h0M682 478h0M654 151h0M697 146h0M937 234h0M681 349h0M899 259h0M824 327h0M1002 247h0M673 130h0M687 169h0M718 397h0M664 108h0M982 272h0M637 248h0M1037 262h0M688 174h0M834 307h0M845 347h0M784 250h0M888 260h0M697 176h0M689 139h0M656 151h0M626 236h0M952 246h0M623 134h0M671 234h0M764 367h0M873 256h0M664 192h0M667 144h0M689 363h0M1001 282h0M904 274h0M758 363h0M1032 266h0M651 204h0M1005 257h0M690 179h0M901 291h0M633 196h0M864 296h0M1001 223h0M756 408h0M1049 249h0M631 232h0M697 167h0M871 290h0M955 269h0M848 271h0M900 260h0M1021 259h0M705 178h0M677 171h0M764 235h0M660 144h0M706 505h0M899 231h0M863 245h0M833 304h0M721 180h0M777 262h0M866 243h0M844 453h0M1040 241h0M666 112h0M614 113h0M914 239h0M697 141h0M712 400h0M616 248h0M713 393h0M693 145h0M609 360h0M871 101h0M694 484h0M713 492h0M713 199h0M1015 250h0M904 270h0M615 137h0M696 136h0M704 131h0M782 258h0M629 136h0M720 137h0M641 215h0M1017 253h0M703 139h0M645 233h0M912 266h0M888 275h0M756 376h0M665 195h0M597 145h0M1034 265h0M621 201h0M724 422h0M870 253h0M624 134h0M680 480h0M755 414h0M1038 248h0M864 244h0M896 239h0M850 257h0M676 174h0M674 205h0M893 267h0M636 251h0M689 369h0M772 287h0M656 319h0M1041 244h0M681 114h0M725 405h0M602 168h0M603 362h0M687 142h0M701 179h0M669 131h0M674 212h0M983 269h0M859 302h0M954 239h0M616 207h0M859 76h0M1001 243h0M723 164h0M858 261h0M906 273h0M692 134h0M684 347h0M780 277h0M723 397h0M877 290h0M650 153h0M701 488h0M618 257h0M1037 219h0M1011 245h0M1017 220h0M702 405h0M1021 229h0M780 227h0M713 499h0M661 240h0M606 262h0M1041 232h0M887 291h0M662 184h0M649 125h0M625 261h0M878 237h0M627 184h0M859 256h0M695 175h0M608 203h0M724 118h0M951 258h0M691 361h0M656 149h0M644 264h0M759 402h0M668 146h0M691 179h0M951 272h0M626 211h0M633 167h0M954 247h0M1031 275h0M859 274h0M1020 239h0M890 314h0M770 251h0M872 256h0M630 186h0M869 272h0M714 420h0M903 272h0M1001 238h0M755 267h0M1024 269h0M608 363h0M701 487h0M722 354h0M707 488h0M673 371h0M858 293h0M718 499h0M858 73h0M631 246h0M769 247h0M733 414h0M905 297h0M863 253h0M618 138h0M611 264h0M901 266h0M965 267h0M701 211h0M988 224h0M703 358h0M710 197h0M947 255h0M771 259h0M870 239h0M765 277h0M944 239h0M701 141h0M884 246h0M714 385h0M656 149h0M890 245h0M842 273h0M766 369h0M902 273h0M618 242h0M852 60h0M615 239h0M624 210h0M656 170h0M895 244h0M664 208h0M895 276h0M710 142h0M896 266h0M679 132h0M890 257h0M1042 252h0M871 245h0M917 241h0M770 237h0M852 259h0M623 171h0M607 370h0M769 236h0M711 142h0M611 140h0M710 489h0M984 270h0M649 230h0M692 360h0M598 144h0M721 382h0M617 254h0M621 145h0M880 240h0M607 231h0M881 312h0M704 148h0M779 259h0M870 279h0M682 176h0M779 256h0M678 116h0M1007 231h0M627 208h0M757 270h0M710 139h0M1020 227h0M666 148h0M604 159h0M700 398h0M644 154h0M861 256h0M1033 247h0M702 408h0M729 156h0M667 190h0M1031 261h0M886 102h0M680 347h0M751 403h0M1040 277h0M616 204h0M1037 229h0M1004 273h0M665 183h0M698 212h0M677 482h0M641 202h0M604 367h0M776 264h0M733 390h0M739 381h0M632 153h0M624 252h0M697 180h0M607 139h0M724 421h0M1054 259h0M757 265h0M735 363h0M1045 235h0M875 237h0M892 256h0M942 266h0M635 253h0M847 292h0M616 146h0M948 254h0M726 396h0M990 233h0M979 271h0M1010 267h0M983 235h0M693 146h0M648 236h0M1002 239h0M961 262h0M704 498h0M705 487h0M709 145h0M672 112h0M622 250h0M1026 219h0M624 202h0M628 103h0M602 175h0M669 124h0M704 349h0M628 122h0M1015 235h0M1022 268h0M596 380h0M621 176h0M656 202h0M998 270h0M651 232h0M687 493h0M829 314h0M639 111h0M695 140h0M1037 263h0M944 238h0M843 329h0M706 399h0M711 504h0M626 246h0M674 113h0M667 121h0M891 244h0M884 294h0M670 139h0M909 243h0M819 320h0M951 277h0M703 152h0M867 243h0M943 270h0M1015 230h0M675 194h0M1015 230h0M689 134h0M904 239h0M664 208h0M609 161h0M733 115h0M1016 238h0M634 216h0M674 141h0M609 217h0M700 392h0M891 104h0M691 178h0M714 355h0M853 293h0M686 478h0M613 136h0M742 406h0M878 239h0M776 289h0M650 158h0M713 166h0M964 276h0M610 236h0M716 349h0M643 236h0M719 503h0M702 142h0M986 233h0M749 394h0M1016 220h0M683 176h0M697 129h0M644 160h0M845 452h0M681 206h0M656 231h0M678 369h0M851 280h0M1007 243h0M708 144h0M708 499h0M722 131h0M955 250h0M950 253h0M610 141h0M641 155h0M695 498h0M701 206h0M818 276h0M662 231h0M735 419h0M663 125h0M609 142h0M1027 215h0M655 225h0M651 165h0M595 158h0M893 308h0M720 162h0M714 130h0M1012 213h0M662 123h0M679 152h0M633 116h0M629 128h0M700 390h0M993 268h0M1046 270h0M870 102h0M708 207h0M625 130h0M763 300h0M873 254h0M740 385h0M714 421h0M691 140h0M881 328h0M1030 221h0M628 221h0M728 394h0M902 277h0M757 371h0M907 306h0M635 235h0M1019 258h0M1020 217h0M878 263h0M603 210h0M634 128h0M879 301h0M991 273h0M684 371h0M705 133h0M708 139h0M724 129h0M906 267h0M862 293h0M909 274h0M644 159h0M881 249h0M1005 225h0M895 255h0M1027 262h0M859 266h0M855 64h0M696 181h0M942 268h0M623 208h0M874 253h0M900 239h0M690 479h0M602 363h0M715 504h0M624 215h0M788 279h0M974 269h0M834 314h0M630 186h0M691 139h0M725 128h0M714 503h0M661 137h0M629 136h0M906 268h0M849 75h0M652 230h0M864 248h0M979 251h0M725 347h0M1040 245h0M731 384h0M781 252h0M630 182h0M860 290h0M904 273h0M698 391h0M1033 238h0M793 277h0M708 412h0M707 140h0M661 202h0M899 275h0M659 125h0M619 248h0M626 202h0M881 237h0M657 165h0M661 207h0M647 142h0M1031 271h0M997 235h0M678 127h0M769 299h0M882 254h0M703 348h0M949 251h0M946 242h0M657 225h0M619 144h0M996 262h0M611 135h0M864 69h0M648 245h0M632 238h0M718 501h0M895 252h0M602 154h0M704 353h0M604 357h0M717 397h0M649 178h0M942 246h0M1046 236h0M1029 263h0M690 179h0M944 249h0M889 250h0M903 249h0M774 237h0M623 118h0M692 472h0M615 234h0M1014 219h0M886 253h0M772 264h0M705 509h0M870 245h0M706 145h0M705 405h0M907 253h0M611 148h0M629 135h0M879 312h0M724 118h0M688 177h0M716 503h0M1007 240h0M636 217h0M653 167h0M931 271h0M696 353h0M732 385h0M654 238h0M698 408h0M940 249h0M630 107h0M890 307h0M628 263h0M861 264h0M734 397h0M949 263h0M755 265h0M669 120h0M646 227h0M610 237h0M715 395h0M741 407h0M614 243h0M714 396h0M1017 274h0M892 237h0M988 264h0M1039 231h0M895 331h0M653 191h0M991 234h0M642 182h0M659 125h0M623 203h0M676 209h0M983 229h0M1020 265h0M611 203h0M885 255h0M858 467h0M618 251h0M600 364h0M645 218h0M1034 277h0M898 311h0M917 254h0M959 265h0M994 272h0M657 193h0M770 284h0M618 200h0M657 123h0M662 232h0M884 102h0M687 175h0M606 178h0M1003 240h0M643 234h0M887 300h0M624 253h0M1023 261h0M772 308h0M691 147h0M610 215h0M1021 257h0M870 99h0M862 73h0M985 249h0M648 171h0M687 172h0M709 496h0M664 125h0M1028 218h0M1035 273h0M610 231h0M661 172h0M904 263h0M742 375h0M686 357h0M747 421h0M724 240h0M1004 249h0M699 153h0M707 413h0M820 312h0M978 268h0M723 180h0M758 261h0M675 365h0M657 150h0M1030 267h0M706 361h0M985 275h0M703 406h0M853 270h0M742 408h0M661 198h0M1017 256h0M644 235h0M842 72h0M707 142h0M991 260h0M965 247h0M888 241h0M607 210h0M650 221h0M736 370h0M1051 255h0M699 494h0M938 251h0M605 371h0M1028 267h0M773 251h0M1027 213h0M617 173h0M620 247h0M603 144h0M700 139h0M771 418h0M748 372h0M936 258h0M1042 223h0M619 108h0M641 226h0M690 170h0M614 240h0M1025 234h0M892 248h0M730 120h0M717 504h0M905 266h0M678 193h0M720 169h0M901 262h0M880 244h0M670 127h0M650 115h0M907 309h0M935 273h0M700 216h0M909 294h0M879 315h0M991 268h0M1037 272h0M639 233h0M961 267h0M874 291h0M635 196h0M983 242h0M858 93h0M610 141h0M707 210h0M709 139h0M910 267h0M1002 246h0M1007 257h0M751 265h0M862 96h0M878 286h0M602 139h0M665 184h0M1022 225h0M627 130h0M710 402h0M675 194h0M693 350h0M986 235h0M781 293h0M672 118h0M1045 266h0M686 166h0M965 275h0M682 178h0M1052 273h0M980 284h0M716 401h0M853 67h0M694 359h0M659 188h0M872 241h0M766 273h0M615 191h0M857 304h0M601 366h0M992 242h0M712 359h0M634 169h0M701 132h0M640 158h0M683 215h0M903 274h0M879 258h0M673 187h0M867 299h0M660 181h0M861 75h0M656 233h0M878 242h0M853 270h0M1050 269h0M625 175h0M649 133h0M939 265h0M610 146h0M989 238h0M785 260h0M867 98h0M725 152h0M644 209h0M714 367h0M996 253h0M639 128h0M625 136h0M1018 266h0M775 236h0M647 238h0M872 104h0M856 71h0M610 159h0M680 487h0M660 148h0M661 194h0M669 147h0M696 141h0M850 263h0M758 296h0M643 243h0M862 82h0M767 370h0M728 383h0M1001 229h0M664 189h0M672 142h0M627 124h0M624 111h0M995 233h0M659 237h0M617 252h0M657 141h0M664 121h0M643 208h0M671 213h0M877 236h0M603 139h0M893 271h0" stroke="#fbbc2c" stroke-width="3.00" stroke-linecap="round" fill="none"/>
<path d="M661 137h0M1031 268h0M597 374h0M661 261h0M606 372h0M695 352h0M884 311h0M984 235h0M1031 242h0M658 128h0M744 361h0M690 141h0M654 199h0M708 144h0M773 263h0M600 176h0M622 201h0M708 198h0M646 237h0M689 476h0M603 213h0M704 195h0M818 308h0M683 120h0M752 272h0M668 146h0M1000 231h0M846 74h0M704 146h0M874 239h0M640 238h0M851 327h0M756 410h0M596 208h0M767 314h0M854 293h0M657 190h0M608 208h0M709 151h0M670 133h0M637 244h0M1022 256h0M857 290h0M826 327h0M721 129h0M644 242h0M781 266h0M680 198h0M872 237h0M659 171h0M977 268h0M662 152h0M1049 271h0M730 118h0M712 383h0M597 372h0M1024 213h0M874 304h0M675 140h0M641 241h0M720 398h0M641 230h0M625 136h0M844 272h0M727 122h0M743 410h0M725 419h0M697 203h0M647 169h0M709 146h0M634 137h0M852 303h0M613 171h0M883 266h0M633 192h0M691 482h0M715 145h0M1019 261h0M860 470h0M626 220h0M959 274h0M621 213h0M661 231h0M938 271h0M696 477h0M991 251h0M671 127h0M1043 235h0M899 262h0M675 126h0M856 67h0M619 132h0M784 261h0M770 271h0M644 215h0M721 352h0M619 143h0M703 164h0M720 414h0M612 251h0M851 62h0M901 277h0M709 143h0M869 306h0M730 147h0M664 188h0M713 418h0M686 182h0M765 233h0M1029 214h0M592 149h0M932 256h0M698 222h0M742 387h0M700 490h0M650 242h0M655 226h0M639 135h0M906 273h0M1010 250h0M714 404h0M957 265h0M909 252h0M957 264h0M696 231h0M611 207h0M715 368h0M1001 229h0M699 362h0M681 173h0M704 508h0M678 179h0M849 85h0M698 503h0M634 266h0M627 264h0M700 225h0M624 240h0M592 147h0M1028 221h0M943 248h0M1012 259h0M623 123h0M634 216h0M858 265h0M874 256h0M882 247h0M943 244h0M1029 215h0M767 408h0M689 159h0M624 267h0M862 296h0M746 268h0M881 249h0M894 241h0M1043 263h0M976 256h0M772 268h0M853 90h0M1026 227h0M721 136h0M857 285h0M610 141h0M665 232h0M843 329h0M1029 220h0M679 165h0M868 304h0M644 122h0M943 229h0M693 138h0M622 253h0M624 106h0M673 207h0M851 266h0M871 277h0M655 142h0M618 133h0M735 123h0M640 149h0M719 499h0M627 202h0M643 146h0M684 480h0M631 205h0M885 242h0M632 244h0M710 359h0M762 409h0M818 310h0M765 274h0M616 136h0M669 193h0M999 237h0M728 388h0M750 265h0M899 276h0M767 232h0M825 316h0M876 235h0M686 110h0M614 143h0M732 126h0M702 361h0M844 277h0M734 392h0M650 232h0M850 298h0M713 200h0M751 397h0M746 368h0M726 181h0M1020 265h0M670 205h0M640 229h0M727 349h0M627 244h0M900 274h0M777 276h0M991 262h0M685 142h0M724 390h0M869 240h0M854 67h0M719 130h0M675 369h0M685 133h0M707 354h0M1001 244h0M632 167h0M708 508h0M911 236h0M749 413h0M721 347h0M673 212h0M678 128h0M707 395h0M696 402h0M620 220h0M879 336h0M669 369h0M664 138h0M758 271h0M760 274h0M816 317h0M985 270h0M912 253h0M613 162h0M725 239h0M687 217h0M926 260h0M731 185h0M730 386h0M1002 263h0M638 235h0M598 163h0M726 390h0M601 169h0M861 74h0M1024 246h0M654 142h0M659 148h0M769 312h0M669 123h0M696 179h0M691 362h0M858 92h0M725 351h0M653 139h0M785 241h0M696 133h0M666 109h0M683 495h0M694 138h0M1000 268h0M708 371h0M747 418h0M723 171h0M725 405h0M683 181h0M652 321h0M656 228h0M768 286h0M688 172h0M995 245h0M606 140h0M884 240h0M650 201h0M887 239h0M734 382h0M859 467h0M719 389h0M828 325h0M881 255h0M646 146h0M710 162h0M888 251h0M1034 272h0M628 133h0M865 247h0M991 236h0M659 124h0M713 401h0M924 263h0M653 196h0M698 205h0M688 222h0M641 235h0M709 209h0M653 243h0M697 144h0M722 401h0M742 400h0M665 202h0M677 199h0M634 110h0M883 261h0M744 389h0M704 208h0M638 204h0M644 175h0M752 261h0M883 105h0M633 131h0M613 188h0M728 380h0M632 262h0M754 373h0M615 114h0M849 346h0M716 353h0M939 263h0M770 404h0M636 252h0M1003 250h0M716 404h0M1038 233h0M626 246h0M775 234h0M960 254h0M886 298h0M875 268h0M858 68h0M692 180h0M949 266h0M861 72h0M847 263h0M653 191h0M668 191h0M682 208h0M690 172h0M954 254h0M701 225h0M684 127h0M717 503h0M888 284h0M716 147h0M980 237h0M611 204h0M742 353h0M983 236h0M763 419h0M887 242h0M653 192h0M682 173h0M688 150h0M644 127h0M879 251h0M761 394h0M607 156h0M1022 259h0M684 137h0M667 317h0M721 186h0M698 182h0M860 297h0M695 208h0M613 145h0M908 247h0M885 294h0M722 412h0M895 262h0M679 129h0M628 128h0M888 239h0M600 146h0M672 174h0M728 383h0M627 269h0M1041 229h0M748 393h0M846 294h0M667 138h0M1033 236h0M885 245h0M898 244h0M1003 255h0M696 144h0M670 131h0M907 278h0M633 129h0M886 265h0M621 120h0M727 153h0M735 113h0M660 150h0M715 504h0M692 178h0M880 253h0M783 279h0M730 393h0M632 240h0M903 235h0M878 309h0M995 273h0M651 161h0M662 151h0M672 240h0M903 244h0M908 245h0M841 72h0M606 173h0M882 103h0M710 398h0M903 303h0M652 241h0M610 131h0M614 142h0M691 135h0M600 365h0M861 77h0M637 113h0M619 203h0M649 233h0M855 252h0M690 473h0M690 478h0M682 124h0M610 368h0M819 324h0M629 161h0M690 172h0M623 237h0M1031 247h0M685 174h0M709 206h0M637 116h0M709 142h0M703 207h0M895 248h0M610 184h0M690 144h0M742 368h0M748 356h0M787 263h0M664 139h0M658 147h0M858 254h0M899 313h0M608 364h0M720 399h0M993 269h0M657 171h0M730 397h0M636 229h0M763 236h0M865 285h0M909 271h0M710 510h0M1021 266h0M663 187h0M886 248h0M907 276h0M631 132h0M651 132h0M737 405h0M858 73h0M712 392h0M751 397h0M743 369h0M711 143h0M888 246h0M687 142h0M611 269h0M780 248h0M938 271h0M629 108h0M626 203h0M894 233h0M873 263h0M611 244h0M609 236h0M677 173h0M895 311h0M903 234h0M954 262h0M912 234h0M705 494h0M885 293h0M654 234h0M888 249h0M774 229h0M903 255h0M711 347h0M855 334h0M898 243h0M843 302h0M898 234h0M665 189h0M601 174h0M719 152h0M766 242h0M951 240h0M623 203h0M619 114h0M623 184h0M839 446h0M668 220h0M956 262h0M609 246h0M679 111h0M702 203h0M658 151h0M638 104h0M786 260h0M992 224h0M653 223h0M738 414h0M655 234h0M623 256h0M1023 269h0M647 158h0M604 141h0M720 501h0M1013 244h0M883 233h0M670 201h0M684 111h0M1019 227h0M718 500h0M854 334h0M673 365h0M715 404h0M1011 246h0M698 140h0M749 392h0M956 256h0M859 291h0M886 251h0M701 504h0M890 280h0M1000 234h0M729 150h0M892 255h0M897 257h0M882 280h0M897 332h0M599 366h0M670 217h0M638 174h0M936 254h0M705 139h0M736 407h0M621 173h0M771 234h0M905 265h0M706 165h0M763 322h0M860 96h0M1010 234h0M990 251h0M1029 214h0M1026 262h0M627 256h0M863 242h0M769 256h0M626 133h0M994 245h0M793 287h0M895 265h0M674 474h0M1048 258h0M675 192h0M627 130h0M668 125h0M600 373h0M894 267h0M1043 281h0M869 297h0M861 49h0M857 297h0M631 198h0M859 277h0M631 224h0M634 142h0M782 235h0M686 171h0M659 123h0M761 237h0M1028 254h0M712 396h0M687 485h0M769 270h0M724 397h0M705 207h0M630 237h0M666 317h0M899 264h0M870 245h0M844 73h0M866 69h0M1038 277h0M613 238h0M646 241h0M1049 253h0M945 246h0M844 270h0M626 199h0M604 207h0M1008 249h0M688 222h0M630 247h0M943 260h0M607 202h0M722 127h0M607 366h0M1046 263h0M855 275h0M633 138h0M721 163h0M699 401h0M1033 219h0M693 180h0M978 267h0M635 134h0M776 255h0M1026 236h0M812 320h0M1033 266h0M709 205h0M700 203h0M649 237h0M669 202h0M672 204h0M1020 226h0M908 275h0M905 269h0M957 272h0M755 273h0M896 241h0M852 349h0M630 141h0M930 266h0M655 207h0M717 124h0M729 398h0M785 256h0M672 360h0M728 128h0M873 242h0M637 225h0M994 240h0M652 235h0M718 395h0M666 189h0M779 274h0M688 243h0M614 359h0M717 406h0M667 126h0M652 199h0M863 333h0M822 208h0M699 497h0M884 241h0M951 246h0M704 507h0M860 79h0M698 163h0M705 206h0M733 416h0M731 250h0M869 287h0M890 307h0M677 115h0M656 164h0M988 276h0M622 131h0M1032 264h0M887 274h0M652 228h0M874 242h0M1039 248h0M612 366h0M758 369h0M687 217h0M739 257h0M848 261h0M680 482h0M652 229h0M715 397h0M658 144h0M716 497h0M913 245h0M670 170h0M681 183h0M675 209h0M949 230h0M733 145h0M611 257h0M789 270h0M718 136h0M756 314h0M756 262h0M647 163h0M985 283h0M897 233h0M853 462h0M687 133h0M715 394h0M905 269h0M670 136h0M983 264h0M905 243h0M620 241h0M660 233h0M734 127h0M867 241h0M810 206h0M672 190h0M940 252h0M732 390h0M721 132h0M891 250h0M721 186h0M619 115h0M758 291h0M881 325h0M902 269h0M697 145h0M856 339h0M687 212h0M645 144h0M760 404h0M974 266h0M692 182h0M643 237h0M654 191h0M849 78h0M828 324h0M1023 294h0M1028 231h0M702 143h0M1032 236h0M641 217h0M652 192h0M608 213h0M602 139h0M750 363h0M630 139h0M892 281h0M946 275h0M900 238h0M718 386h0M857 66h0M895 282h0M853 273h0M892 274h0M726 123h0M625 257h0M614 172h0M701 181h0M720 508h0M1049 251h0M865 99h0M615 158h0M696 486h0M705 138h0M685 145h0M702 134h0M604 136h0M1033 269h0M985 233h0M860 49h0M724 386h0M672 126h0M619 242h0M702 181h0M901 261h0M722 504h0M679 130h0M1012 238h0M895 312h0M689 132h0M654 146h0M690 148h0M690 221h0M846 74h0M751 266h0M647 240h0M702 138h0M844 76h0M613 359h0M892 255h0M905 279h0M609 232h0M686 135h0M722 386h0M777 244h0M651 198h0M856 465h0M697 174h0M984 262h0M711 124h0M608 235h0M616 250h0M898 237h0M951 249h0M1035 224h0M751 405h0M597 145h0M897 259h0M1050 272h0M861 298h0M715 502h0M633 166h0M1022 270h0M1009 270h0M625 209h0M720 173h0M731 380h0M601 148h0M606 250h0M645 164h0M709 387h0M634 117h0M700 358h0M631 173h0M948 238h0M986 271h0M773 265h0M902 234h0M991 242h0M711 155h0M722 176h0M885 273h0M676 371h0M872 245h0M619 259h0M892 251h0M871 251h0M877 310h0M756 412h0M701 353h0M859 288h0M635 104h0M755 265h0M650 155h0M685 218h0M636 204h0M731 400h0M649 232h0M1012 243h0M627 131h0M741 395h0M877 257h0M687 169h0M701 160h0M618 133h0M853 67h0M663 187h0M1036 249h0M997 244h0M767 373h0M664 133h0M1045 262h0M1027 262h0M946 248h0M696 361h0M709 356h0M693 178h0M643 235h0M633 161h0M861 249h0M632 244h0M856 67h0M689 361h0M656 143h0M882 313h0M689 136h0M672 205h0M678 121h0M770 245h0M852 259h0M879 255h0M639 151h0M854 463h0M906 266h0M993 227h0M701 177h0M878 268h0M776 240h0M858 264h0M892 245h0M786 270h0M916 238h0M619 137h0M842 72h0M900 251h0M690 141h0M687 478h0M668 138h0M747 272h0M891 265h0M614 172h0M753 408h0M665 112h0M1003 258h0M734 409h0M697 362h0M671 170h0M608 140h0M739 409h0M708 401h0M861 258h0M867 307h0M1032 245h0M909 254h0M709 147h0M720 133h0M682 179h0M887 241h0M614 191h0M647 197h0M696 139h0M1016 273h0M609 269h0M702 488h0M769 242h0M957 265h0M954 251h0M886 246h0M869 271h0M863 72h0M891 273h0M755 398h0M725 385h0M1025 266h0M878 263h0M952 240h0M774 232h0M910 239h0M654 175h0M603 370h0M664 140h0M673 168h0M702 403h0M730 149h0M987 236h0M603 169h0M715 503h0M693 168h0M904 309h0M620 136h0" stroke="#fbbc2c" stroke-width="3.00" stroke-linecap="round" fill="none"/>
<path d="M955 269h0M681 355h0M762 242h0M700 178h0M722 147h0M676 484h0M693 210h0M855 83h0M705 128h0M859 61h0M760 255h0M632 193h0M764 292h0M673 167h0M826 327h0M682 167h0M687 212h0M943 239h0M743 405h0M681 489h0M641 129h0M750 256h0M703 196h0M773 236h0M752 289h0M765 252h0M627 170h0M616 231h0M833 319h0M766 276h0M894 253h0M751 264h0M741 360h0M660 225h0M753 282h0M819 319h0M759 255h0M651 263h0M654 210h0M1031 222h0M768 313h0M667 230h0M692 213h0M915 242h0M706 170h0M674 178h0M761 382h0M717 173h0M653 112h0M618 147h0M708 387h0M860 66h0M620 242h0M607 138h0M927 253h0M716 218h0M701 212h0M745 265h0M902 233h0M753 374h0M714 160h0M778 256h0M759 373h0M650 200h0M699 207h0M673 230h0M672 168h0M688 201h0M712 221h0M769 379h0M932 252h0M713 161h0M773 263h0M661 240h0M611 259h0M704 224h0M651 112h0M756 288h0M676 171h0M603 161h0M644 258h0M655 118h0M757 413h0M649 204h0M655 166h0M719 165h0M741 366h0M652 141h0M654 202h0M709 131h0M945 235h0M642 147h0M756 365h0M637 191h0M639 254h0M611 260h0M705 162h0M836 321h0M780 300h0M777 299h0M640 110h0M600 200h0M625 236h0M630 215h0M689 479h0M605 156h0M783 299h0M908 225h0M690 501h0M613 173h0M1040 229h0M622 141h0M635 188h0M897 228h0M772 297h0M782 292h0M778 262h0M605 157h0M666 168h0M861 87h0M776 293h0M821 201h0M685 496h0M614 261h0M655 150h0M725 158h0M688 481h0M708 132h0M864 73h0M649 181h0M610 248h0M719 123h0M670 243h0M631 107h0M606 257h0M766 260h0M614 267h0M863 65h0M688 205h0M860 75h0M963 272h0M884 306h0M942 235h0M940 239h0M712 405h0M758 304h0M978 260h0M704 155h0M733 116h0M625 236h0M957 266h0M720 366h0M764 258h0M640 106h0M687 153h0M728 232h0M695 130h0M671 139h0M702 181h0M760 320h0M657 218h0M686 208h0M627 168h0M712 162h0M676 136h0M949 271h0M644 187h0M710 216h0M758 284h0M684 494h0M649 196h0M759 299h0M756 268h0M1039 226h0M642 246h0M763 259h0M933 245h0M762 315h0M918 250h0M610 133h0M673 365h0M690 362h0M628 144h0M757 256h0M624 218h0M735 139h0M690 155h0M622 171h0M622 231h0M633 258h0M661 171h0M762 383h0M946 231h0M664 182h0M954 271h0M700 152h0M678 216h0M674 363h0M691 132h0M743 408h0M814 278h0M630 147h0M766 312h0M655 263h0M684 125h0M602 198h0M699 199h0M662 165h0M757 289h0M685 129h0M710 394h0M615 242h0M634 198h0M681 492h0M652 115h0M916 247h0M654 153h0M618 185h0M633 201h0M766 257h0M682 142h0M692 132h0M936 238h0M613 137h0M939 248h0M717 349h0M684 362h0M787 276h0M767 312h0M893 240h0M1034 234h0M629 110h0M707 152h0M722 361h0M945 228h0M647 179h0M659 194h0M952 245h0M770 294h0M682 489h0M710 175h0M935 250h0M672 163h0M648 107h0M740 348h0M909 227h0M671 135h0M783 285h0M646 183h0M942 260h0M745 250h0M727 232h0M613 188h0M686 115h0M664 254h0M672 313h0M618 223h0M785 290h0M693 204h0M1007 217h0M705 122h0M605 215h0M679 141h0M690 495h0M975 266h0M762 392h0M684 489h0M624 229h0M691 129h0M673 180h0M702 152h0M649 216h0M715 141h0M711 181h0M759 312h0M676 481h0M726 159h0M673 164h0M650 114h0M788 267h0M606 226h0M654 200h0M939 258h0M663 241h0M717 154h0M727 159h0M736 135h0M644 193h0M624 145h0M638 183h0M861 54h0M696 212h0M704 209h0M709 221h0M699 406h0M700 148h0M642 263h0M649 182h0M649 215h0M738 121h0M719 157h0M646 225h0M764 308h0M656 178h0M708 216h0M667 255h0M789 299h0M629 242h0M767 305h0M762 298h0M754 393h0M667 239h0M679 175h0M640 215h0M863 61h0M1032 219h0M943 238h0M1031 236h0M711 211h0M1014 248h0M718 215h0M653 180h0M652 201h0M686 189h0M665 229h0M752 399h0M653 173h0M883 256h0M672 315h0M765 382h0M755 279h0M703 207h0M708 224h0M682 141h0M622 227h0M619 129h0M605 172h0M625 210h0M926 259h0M612 219h0M681 125h0M623 225h0M728 117h0M707 222h0M645 176h0M846 68h0M629 230h0M857 52h0M754 291h0M757 291h0M890 262h0M701 213h0M932 244h0M654 207h0M657 244h0M665 254h0M760 290h0M690 122h0M756 385h0M739 127h0M627 252h0M926 253h0M809 200h0M697 127h0M681 128h0M645 177h0M650 108h0M615 139h0M603 160h0M953 267h0M903 228h0M787 293h0M742 395h0M632 146h0M655 237h0M847 328h0M746 384h0M765 266h0M685 195h0M692 151h0M612 226h0M617 224h0M725 235h0M984 262h0M786 288h0M628 166h0M702 491h0M956 263h0M690 501h0M707 214h0M639 195h0M769 304h0M682 117h0M607 226h0M888 265h0M724 129h0M732 402h0M939 278h0M706 391h0M623 161h0M664 249h0M623 138h0M776 254h0M727 120h0M899 250h0M973 264h0M662 251h0M637 109h0M642 264h0M647 173h0M678 147h0M714 216h0M652 200h0M950 236h0M757 256h0M699 410h0M660 169h0M655 158h0M623 161h0M708 145h0M764 311h0M731 145h0M621 189h0M791 289h0M685 140h0M863 78h0M829 323h0M643 260h0M653 216h0M868 287h0M859 64h0M725 183h0M885 225h0M699 221h0M1038 220h0M646 199h0M1035 229h0M1040 233h0M861 278h0M658 138h0M905 286h0M633 107h0M709 175h0M782 272h0M729 134h0M898 300h0M665 151h0M843 72h0M711 135h0M730 119h0M645 131h0M768 246h0M602 373h0M616 176h0M764 377h0M1035 224h0M653 242h0M669 162h0M628 154h0M757 251h0M762 369h0M652 119h0M623 252h0M786 286h0M637 247h0M859 82h0M678 355h0M636 241h0M682 170h0M667 367h0M654 255h0M616 177h0M899 225h0M695 198h0M639 144h0M873 250h0M700 197h0M627 199h0M712 384h0M660 157h0M725 348h0M649 196h0M682 143h0M941 263h0M677 187h0M690 212h0M947 230h0M765 297h0M652 242h0M726 226h0M1031 222h0M774 267h0M642 229h0M658 199h0M612 140h0M720 125h0M792 293h0M959 270h0M940 248h0M737 125h0M665 247h0M738 124h0M611 177h0M624 191h0M718 121h0M740 399h0M720 513h0M663 119h0M643 191h0M863 60h0M640 187h0M768 304h0M755 282h0M714 218h0M637 147h0M758 259h0M702 223h0M617 237h0M990 224h0M952 270h0M930 253h0M765 270h0M728 360h0M708 128h0M658 166h0M958 273h0M778 287h0M663 254h0M620 134h0M618 132h0M671 181h0M772 309h0M611 220h0M600 174h0M927 245h0M712 179h0M725 397h0M673 140h0M608 216h0M746 393h0M865 71h0M642 188h0M837 279h0M919 250h0M947 232h0M1029 223h0M946 234h0M622 138h0M767 300h0M900 226h0M718 367h0M858 55h0M703 223h0M620 221h0M672 174h0M652 264h0M699 494h0M615 258h0M699 412h0M661 122h0M686 183h0M676 315h0M715 391h0M707 217h0M689 499h0M654 130h0M619 230h0M667 152h0M636 255h0M699 134h0M677 138h0M698 210h0M721 365h0M685 147h0M762 363h0M727 185h0M946 234h0M687 113h0M656 114h0M768 267h0M653 195h0M625 168h0M664 136h0M969 271h0M672 137h0M693 209h0M910 227h0M697 494h0M857 73h0M716 172h0M694 202h0M715 155h0M624 245h0M718 167h0M683 121h0M763 239h0M766 377h0M760 364h0M693 211h0M858 59h0M600 169h0M793 274h0M755 296h0M767 253h0M936 241h0M690 198h0M865 278h0M751 405h0M887 253h0M708 194h0M698 175h0M673 138h0M606 243h0M816 321h0M621 166h0M638 110h0M828 307h0M630 254h0M696 505h0M835 313h0M1032 234h0M944 256h0M863 77h0M672 368h0M626 229h0M639 146h0M786 295h0M707 178h0M1022 248h0M620 237h0M781 229h0M1037 222h0M769 262h0M630 113h0M986 263h0M843 331h0M635 114h0M783 277h0M636 254h0M850 75h0M770 254h0M924 263h0M878 257h0M862 77h0M675 211h0M659 243h0M648 188h0M634 253h0M846 456h0M762 264h0M757 385h0M765 268h0M855 82h0M722 369h0M601 179h0M616 140h0M760 390h0M670 368h0M699 246h0M688 211h0M648 180h0M729 357h0M738 259h0M617 245h0M833 320h0M637 261h0M673 363h0M723 147h0M765 296h0M690 201h0M675 140h0M644 212h0M606 223h0M621 233h0M729 117h0M947 233h0M781 285h0M608 230h0M718 227h0M667 238h0M736 130h0M762 292h0M617 228h0M931 256h0M683 142h0M721 355h0M662 249h0M682 155h0M666 175h0M891 306h0M650 234h0M766 381h0M861 66h0M783 298h0M719 168h0M661 247h0M862 84h0M765 249h0M655 114h0M732 121h0M757 297h0M894 224h0M789 295h0M663 166h0M761 371h0M765 245h0M945 230h0M932 243h0M640 217h0M608 156h0M622 162h0M685 116h0M731 139h0M607 260h0M780 257h0M711 207h0M758 389h0M764 272h0M614 223h0M860 82h0M1011 253h0M956 244h0M939 254h0M684 209h0M757 291h0M767 299h0M935 253h0M658 196h0M629 151h0M698 222h0M907 238h0M724 149h0M942 252h0M703 189h0M714 177h0M785 274h0M699 203h0M938 241h0M738 252h0M694 168h0M891 264h0M613 216h0M660 209h0M683 216h0M748 407h0M694 215h0M717 214h0M763 315h0M702 189h0M702 133h0M763 381h0M1034 232h0M755 336h0M711 205h0M654 135h0M899 227h0M673 172h0M761 263h0M703 145h0M717 151h0M782 236h0M678 187h0M935 252h0M644 259h0M650 237h0M630 253h0M631 210h0M942 257h0M693 205h0M742 395h0M823 310h0M605 172h0M667 179h0M818 284h0M627 228h0M741 398h0M664 117h0M675 171h0M902 275h0M616 145h0M762 401h0M701 225h0M657 242h0M612 181h0M610 256h0M866 78h0M680 130h0M693 215h0M599 211h0M595 386h0M649 119h0M876 258h0M858 64h0M787 289h0M859 87h0M616 228h0M619 217h0M730 121h0M766 291h0M771 224h0M919 251h0M710 214h0M944 243h0M627 256h0M645 110h0M788 268h0M892 226h0M641 197h0M763 381h0M693 118h0M941 236h0M1040 240h0M713 413h0M637 211h0M724 117h0M631 254h0M748 391h0M757 257h0M632 165h0M730 117h0M1043 234h0M817 195h0M718 174h0M679 360h0M733 124h0M857 86h0M619 149h0M674 133h0M828 304h0M752 369h0M888 311h0M634 150h0M623 232h0M636 267h0M943 283h0M703 195h0M724 119h0M867 78h0M633 195h0M764 307h0M632 186h0M670 363h0M689 215h0M942 250h0M728 157h0M849 293h0M718 215h0M614 185h0M608 258h0M764 297h0M614 163h0M655 201h0M937 239h0M708 177h0M865 69h0M1033 224h0M697 215h0M700 214h0M667 244h0M662 244h0M651 175h0M644 257h0M631 148h0M865 78h0M694 206h0M843 450h0M926 268h0M910 228h0M706 383h0M644 197h0M639 185h0" stroke="#d81b60" stroke-width="3.00" stroke-linecap="round" fill="none"/>
<path d="M728 333h0M705 120h0M668 220h0M893 256h0M605 217h0M636 180h0M769 265h0M737 250h0M950 273h0M1043 277h0M768 240h0M697 150h0M704 359h0M714 132h0M703 206h0M613 151h0M891 253h0M606 187h0M617 271h0M708 410h0M705 421h0M704 168h0M861 245h0M690 476h0M1039 271h0M696 363h0M905 271h0M733 130h0M913 252h0M634 161h0M747 400h0M648 185h0M606 144h0M664 234h0M678 161h0M997 223h0M597 193h0M900 230h0M1039 269h0M626 209h0M716 142h0M850 290h0M697 351h0M691 150h0M690 153h0M1012 252h0M636 112h0M620 157h0M981 263h0M1005 264h0M1029 243h0M892 258h0M737 332h0M698 122h0M1034 290h0M1019 241h0M614 251h0M624 124h0M1020 246h0M907 308h0M863 337h0M631 189h0M860 283h0M702 411h0M1049 259h0M696 219h0M614 196h0M737 398h0M715 139h0M890 239h0M847 285h0M727 335h0M626 232h0M740 331h0M819 281h0M1042 276h0M744 411h0M733 125h0M714 419h0M660 197h0M947 284h0M723 390h0M637 218h0M744 334h0M896 255h0M985 231h0M865 270h0M611 234h0M663 135h0M646 182h0M850 287h0M754 336h0M1028 269h0M719 175h0M661 184h0M723 140h0M672 203h0M617 232h0M782 274h0M702 203h0M710 200h0M704 203h0M881 280h0M728 353h0M620 171h0M860 269h0M981 241h0M613 236h0M730 247h0M648 147h0M667 119h0M764 236h0M718 176h0M656 135h0M878 318h0M624 165h0M669 356h0M669 140h0M612 149h0M671 224h0M634 162h0M727 141h0M987 256h0M909 296h0M720 325h0M660 202h0M630 159h0M616 115h0M709 154h0M644 225h0M696 488h0M893 285h0M597 159h0M783 273h0M767 236h0M1057 267h0M656 251h0M1028 273h0M620 155h0M887 246h0M647 205h0M1022 241h0M621 256h0M975 265h0M1043 278h0M695 191h0M1019 290h0M680 137h0M718 221h0M609 213h0M1022 272h0M609 191h0M1048 252h0M643 208h0M770 420h0M892 260h0M702 213h0M1032 274h0M711 354h0M635 131h0M998 271h0M690 110h0M771 265h0M1046 277h0M668 131h0M1046 252h0M635 177h0M662 214h0M676 111h0M1003 273h0M647 252h0M1018 254h0M764 241h0M610 173h0M624 193h0M680 221h0M1022 259h0M727 129h0M978 243h0M1030 222h0M1011 291h0M609 163h0M973 263h0M760 289h0M615 196h0M684 112h0M1053 264h0M654 239h0M730 252h0M723 390h0M689 479h0M631 176h0M668 230h0M705 411h0M614 194h0M1037 267h0M684 124h0M706 342h0M692 481h0M764 291h0M847 310h0M885 285h0M1016 293h0M612 203h0M993 219h0M868 477h0M658 174h0M976 255h0M775 266h0M603 144h0M1029 229h0M684 351h0M1012 226h0M699 127h0M702 200h0M678 124h0M698 115h0M1018 280h0M1029 245h0M712 340h0M856 271h0M906 308h0M593 150h0M689 168h0M650 253h0M719 411h0M897 303h0M868 252h0M666 195h0M704 399h0M1009 291h0M652 148h0M715 330h0M728 138h0M698 117h0M758 264h0M640 116h0M757 417h0M714 129h0M872 264h0M988 227h0M777 420h0M651 188h0M655 186h0M1045 274h0M672 152h0M909 240h0M762 309h0M720 129h0M763 328h0M638 123h0M888 310h0M659 229h0M703 417h0M637 163h0M903 277h0M710 399h0M627 159h0M636 137h0M873 285h0M1040 290h0M901 259h0M691 125h0M669 192h0M770 428h0M999 251h0M641 115h0M700 117h0M683 351h0M865 241h0M1001 278h0M852 79h0M776 254h0M667 361h0M623 135h0M612 220h0M621 119h0M1039 269h0M643 237h0M768 328h0M1018 260h0M695 170h0M995 270h0M708 340h0M783 268h0M632 139h0M672 203h0M634 239h0M814 210h0M695 364h0M611 203h0M909 259h0M616 129h0M688 153h0M1021 262h0M683 152h0M898 294h0M987 270h0M676 156h0M610 136h0M616 236h0M707 337h0M704 121h0M681 133h0M709 352h0M720 405h0M699 114h0M654 250h0M603 152h0M1002 244h0M700 113h0M1002 265h0M751 276h0M784 271h0M1027 270h0M681 121h0M633 145h0M668 190h0M753 334h0M691 472h0M1054 260h0M764 424h0M825 289h0M988 220h0M987 244h0M890 249h0M638 117h0M774 286h0M685 352h0M893 251h0M627 251h0M670 230h0M666 146h0M1023 279h0M862 305h0M686 141h0M694 503h0M887 292h0M609 144h0M876 273h0M731 409h0M765 311h0M650 171h0M615 122h0M881 253h0M842 302h0M1051 272h0M601 156h0M625 153h0M1019 251h0M823 283h0M683 148h0M785 261h0M612 245h0M647 136h0M674 133h0M659 181h0M1022 277h0M679 119h0M682 138h0M871 266h0M1028 239h0M695 491h0M709 156h0M905 289h0M1010 241h0M695 165h0M606 229h0M743 263h0M722 127h0M610 148h0M890 232h0M668 211h0M778 246h0M604 200h0M709 175h0M1049 276h0M709 167h0M1005 284h0M774 270h0M881 251h0M729 132h0M609 192h0M886 262h0M700 118h0M654 219h0M717 127h0M633 121h0M891 231h0M1022 247h0M629 258h0M1041 274h0M887 296h0M661 235h0M1035 231h0M717 336h0M788 265h0M996 254h0M656 215h0M628 173h0M606 258h0M993 228h0M705 198h0M634 142h0M708 510h0M858 305h0M1033 227h0M874 278h0M631 185h0M607 201h0M1001 251h0M878 298h0M616 234h0M717 122h0M700 343h0M604 248h0M607 149h0M736 399h0M656 133h0M602 146h0M862 271h0M661 214h0M662 133h0M728 148h0M667 173h0M890 279h0M670 132h0M726 126h0M597 158h0M719 140h0M1021 276h0M882 263h0M778 274h0M731 147h0M639 248h0M685 155h0M713 335h0M639 119h0M722 144h0M775 420h0M736 125h0M675 156h0M673 146h0M987 251h0M634 195h0M725 139h0M620 156h0M624 110h0M1016 268h0M666 187h0M617 130h0M683 197h0M1020 266h0M724 175h0M879 334h0M746 263h0M899 275h0M716 122h0M616 193h0M701 483h0M692 106h0M623 150h0M677 217h0M704 160h0M708 218h0M708 206h0M844 264h0M769 422h0M1000 252h0M686 117h0M862 293h0M697 363h0M1001 224h0M878 286h0M1020 224h0M720 146h0M858 272h0M623 152h0M643 169h0M603 211h0M753 249h0M624 144h0M905 284h0M717 335h0M900 298h0M632 175h0M640 163h0M631 137h0M1013 214h0M710 193h0M725 124h0M993 217h0M776 271h0M782 257h0M901 274h0M692 152h0M689 104h0M855 252h0M988 259h0M610 148h0M872 280h0M1001 222h0M687 203h0M865 332h0M661 169h0M720 397h0M700 155h0M711 136h0M784 252h0M1035 250h0M773 277h0M623 240h0M1033 271h0M1023 293h0M1028 273h0M649 256h0M911 257h0M671 148h0M849 458h0M662 194h0M845 452h0M878 314h0M683 489h0M676 154h0M745 419h0M880 311h0M761 329h0M663 196h0M886 253h0M1004 271h0M769 419h0M724 146h0M863 83h0M987 257h0M724 125h0M675 160h0M757 334h0M828 296h0M645 166h0M992 273h0M615 124h0M669 148h0M694 201h0M661 134h0M863 87h0M868 286h0M675 138h0M761 421h0M997 222h0M1022 245h0M1049 279h0M691 477h0M1046 255h0M849 292h0M595 160h0M855 276h0M695 347h0M715 427h0M700 200h0M715 185h0M645 140h0M596 149h0M862 262h0M989 232h0M990 218h0M607 247h0M698 186h0M657 212h0M658 125h0M881 301h0M612 167h0M635 155h0M702 116h0M984 271h0M687 349h0M784 260h0M1003 262h0M894 297h0M710 191h0M637 151h0M615 154h0M650 253h0M656 191h0M868 266h0M620 128h0M604 223h0M896 311h0M660 135h0M1020 238h0M636 178h0M1052 259h0M722 146h0M607 165h0M1027 255h0M785 243h0M897 284h0M616 133h0M824 214h0M680 145h0M711 357h0M660 193h0M619 209h0M872 264h0M763 277h0M615 267h0M733 334h0M731 395h0M998 250h0M631 196h0M766 301h0M654 180h0M702 152h0M641 118h0M1039 259h0M697 181h0M709 407h0M616 212h0M645 226h0M786 250h0M826 290h0M887 284h0M1039 285h0M1038 234h0M676 158h0M876 301h0M869 254h0M966 262h0M642 122h0M628 220h0M777 241h0M847 278h0M896 302h0M688 143h0M976 252h0M707 342h0M730 132h0M715 338h0M666 129h0M1006 261h0M1023 274h0M762 421h0M860 86h0M1035 223h0M901 255h0M691 107h0M657 227h0M888 256h0M855 348h0M700 200h0M887 247h0M718 329h0M890 261h0M781 250h0M693 115h0M776 275h0M991 258h0M703 194h0M609 148h0M688 104h0M770 420h0M659 133h0M694 159h0M720 385h0M749 415h0M608 165h0M780 237h0M708 182h0M997 266h0M726 147h0M866 96h0M644 244h0M638 248h0M684 159h0M881 313h0M686 473h0M706 129h0M888 265h0M782 268h0M896 274h0M768 416h0M778 286h0M628 183h0M755 334h0M697 113h0M780 249h0M733 140h0M595 150h0M673 215h0M714 504h0M697 197h0M1024 263h0M622 115h0M625 108h0M893 313h0M661 113h0M1034 255h0M727 394h0M863 290h0M600 161h0M651 150h0M1039 247h0M780 235h0M696 147h0M1045 276h0M849 328h0M726 128h0M700 115h0M666 218h0M655 214h0M656 128h0M659 192h0M1010 219h0M961 281h0M667 137h0M698 155h0M629 243h0M892 242h0M1038 289h0M721 332h0M732 250h0M643 116h0M723 125h0M734 125h0M721 420h0M643 196h0M644 226h0M851 292h0M1044 276h0M654 211h0M1009 271h0M716 120h0M678 154h0M721 223h0M626 229h0M1004 278h0M1012 264h0M906 298h0M1002 266h0M710 219h0M904 277h0M849 276h0M650 205h0M905 275h0M894 230h0M755 297h0M687 149h0M705 393h0M610 168h0M667 232h0M664 196h0M834 311h0M707 339h0M666 222h0M713 159h0M713 124h0M677 154h0M695 151h0M1029 246h0M695 154h0M655 141h0M1004 262h0M695 163h0M651 128h0M757 240h0M651 250h0M1033 267h0M1029 249h0M613 127h0M668 206h0M734 350h0M726 143h0M605 248h0M890 250h0M626 139h0M630 240h0M1010 268h0M875 287h0M669 196h0M886 246h0M651 108h0M657 179h0M628 261h0M729 401h0M874 314h0M718 173h0M1016 256h0M597 156h0M726 405h0M623 109h0M789 262h0M882 306h0M748 276h0M748 419h0M1031 289h0M723 419h0M844 329h0M635 242h0M1008 233h0M1008 293h0M845 282h0M706 393h0M615 112h0M763 240h0M660 126h0M705 163h0M608 356h0M877 315h0M733 416h0M1014 295h0M597 380h0M621 217h0M1031 255h0M599 154h0M650 151h0M669 142h0M860 284h0M1035 263h0M653 181h0M770 274h0M1044 271h0M611 214h0M647 144h0M732 414h0M980 252h0M638 110h0M604 153h0M855 344h0M603 141h0M890 262h0M712 386h0M727 397h0M1006 294h0M610 144h0M687 111h0M698 189h0M1038 262h0M702 120h0M774 419h0M988 259h0M682 157h0M1018 264h0M850 63h0M955 273h0M619 192h0M1053 259h0M978 284h0M1016 241h0M648 174h0M1039 272h0M1029 267h0M690 168h0M665 227h0M663 229h0M766 428h0M607 257h0M740 341h0M876 337h0M865 301h0M999 268h0M720 119h0M652 237h0M642 224h0M608 150h0M982 244h0M625 185h0M619 152h0M1047 276h0M770 234h0M701 169h0M1041 289h0M696 222h0M712 424h0M669 127h0M1026 262h0M650 256h0M857 87h0M996 221h0M615 173h0M961 276h0M649 246h0M671 192h0M710 163h0M720 335h0M711 161h0M981 256h0M656 133h0M872 263h0M865 287h0M644 189h0M874 286h0M639 205h0M645 210h0M891 305h0M624 161h0M908 297h0M848 262h0M850 66h0M729 383h0M1029 271h0M604 249h0M878 276h0M850 293h0M696 148h0M1042 241h0M610 151h0M633 183h0M686 152h0M708 511h0M632 154h0M1030 228h0M998 286h0M613 203h0M694 346h0M1007 283h0M616 146h0M709 411h0M599 147h0M717 158h0M1055 262h0M653 182h0M628 176h0M748 280h0M897 291h0M681 119h0M996 280h0M900 299h0M1031 250h0M984 271h0M687 189h0M999 277h0M733 406h0M690 158h0M630 228h0M896 254h0M773 421h0M624 144h0M601 195h0M725 142h0M875 255h0M941 286h0M607 189h0M1017 224h0M629 232h0M699 160h0M598 155h0M850 278h0M692 164h0M645 126h0M717 142h0M606 254h0M612 244h0M617 238h0M989 254h0M1005 217h0" stroke="#004d40" stroke-width="3.00" stroke-linecap="round" fill="none"/>
</g>
<rect x="911.00" y="400.00" width="158.00" height="122.00" fill="#fff"/>
<text x="916.0" y="424.0" font-size="20.5" font-weight="bold">Tissue Region</text>
<rect x="917.50" y="431.00" width="22.00" height="20.00" fill="#004d40"/>
<text x="946.5" y="448.5" font-size="20.5">Distant</text>
<rect x="917.50" y="460.00" width="22.00" height="20.00" fill="#fbbc2c"/>
<text x="946.5" y="477.5" font-size="20.5">Peritumoral</text>
<rect x="917.50" y="489.00" width="22.00" height="20.00" fill="#d81b60"/>
<text x="946.5" y="506.5" font-size="20.5">Tumor</text>
<rect x="568.4" y="21.7" width="513.6" height="513.3" fill="none" stroke="#a6abae" stroke-width="3.0"/>
<line x1="563.50" y1="71.60" x2="567.30" y2="71.60" stroke="#a6abae" stroke-width="2.2"/>
<text x="562.0" y="76.6" font-size="20.8" text-anchor="end">10</text>
<line x1="563.50" y1="162.60" x2="567.30" y2="162.60" stroke="#a6abae" stroke-width="2.2"/>
<text x="562.0" y="167.6" font-size="20.8" text-anchor="end">5</text>
<line x1="563.50" y1="253.60" x2="567.30" y2="253.60" stroke="#a6abae" stroke-width="2.2"/>
<text x="562.0" y="258.6" font-size="20.8" text-anchor="end">0</text>
<line x1="563.50" y1="344.60" x2="567.30" y2="344.60" stroke="#a6abae" stroke-width="2.2"/>
<text x="562.0" y="349.6" font-size="20.8" text-anchor="end">−5</text>
<line x1="563.50" y1="435.60" x2="567.30" y2="435.60" stroke="#a6abae" stroke-width="2.2"/>
<text x="562.0" y="440.6" font-size="20.8" text-anchor="end">−10</text>
<line x1="563.50" y1="526.60" x2="567.30" y2="526.60" stroke="#a6abae" stroke-width="2.2"/>
<text x="562.0" y="531.6" font-size="20.8" text-anchor="end">−15</text>
<line x1="608.00" y1="536.00" x2="608.00" y2="540.00" stroke="#a6abae" stroke-width="2.2"/>
<text x="610.5" y="557.3" font-size="20.8" text-anchor="middle">−10</text>
<line x1="785.90" y1="536.00" x2="785.90" y2="540.00" stroke="#a6abae" stroke-width="2.2"/>
<text x="785.9" y="557.3" font-size="20.8" text-anchor="middle">0</text>
<line x1="963.80" y1="536.00" x2="963.80" y2="540.00" stroke="#a6abae" stroke-width="2.2"/>
<text x="963.8" y="557.3" font-size="20.8" text-anchor="middle">10</text>
<text x="831.0" y="574.5" font-size="19.3" text-anchor="middle">UMAP 1</text>
<text x="543.0" y="273.0" font-size="19.3" text-anchor="middle" transform="rotate(-90 543.0 273.0)">UMAP 2</text>
</g>
<g id="pC">
<text x="1094.0" y="29.0" font-size="41" font-weight="bold">C</text>
<rect x="1135.30" y="21.80" width="517.00" height="516.20" fill="#fff"/>
<line x1="1177.50" y1="21.80" x2="1177.50" y2="538.00" stroke="#dedfdf" stroke-width="1.3"/>
<line x1="1280.50" y1="21.80" x2="1280.50" y2="538.00" stroke="#dedfdf" stroke-width="1.3"/>
<line x1="1383.50" y1="21.80" x2="1383.50" y2="538.00" stroke="#dedfdf" stroke-width="1.3"/>
<line x1="1486.50" y1="21.80" x2="1486.50" y2="538.00" stroke="#dedfdf" stroke-width="1.3"/>
<line x1="1589.50" y1="21.80" x2="1589.50" y2="538.00" stroke="#dedfdf" stroke-width="1.3"/>
<line x1="1135.30" y1="60.70" x2="1652.30" y2="60.70" stroke="#dedfdf" stroke-width="1.3"/>
<line x1="1135.30" y1="189.30" x2="1652.30" y2="189.30" stroke="#dedfdf" stroke-width="1.3"/>
<line x1="1135.30" y1="317.90" x2="1652.30" y2="317.90" stroke="#dedfdf" stroke-width="1.3"/>
<line x1="1135.30" y1="446.50" x2="1652.30" y2="446.50" stroke="#dedfdf" stroke-width="1.3"/>
<line x1="1229.00" y1="21.80" x2="1229.00" y2="538.00" stroke="#d8d9da" stroke-width="2.4"/>
<line x1="1332.00" y1="21.80" x2="1332.00" y2="538.00" stroke="#d8d9da" stroke-width="2.4"/>
<line x1="1435.00" y1="21.80" x2="1435.00" y2="538.00" stroke="#d8d9da" stroke-width="2.4"/>
<line x1="1538.00" y1="21.80" x2="1538.00" y2="538.00" stroke="#d8d9da" stroke-width="2.4"/>
<line x1="1641.00" y1="21.80" x2="1641.00" y2="538.00" stroke="#d8d9da" stroke-width="2.4"/>
<line x1="1135.30" y1="125.00" x2="1652.30" y2="125.00" stroke="#d8d9da" stroke-width="2.4"/>
<line x1="1135.30" y1="253.60" x2="1652.30" y2="253.60" stroke="#d8d9da" stroke-width="2.4"/>
<line x1="1135.30" y1="382.20" x2="1652.30" y2="382.20" stroke="#d8d9da" stroke-width="2.4"/>
<line x1="1135.30" y1="510.80" x2="1652.30" y2="510.80" stroke="#d8d9da" stroke-width="2.4"/>
<path d="M1263.9 321.1C1275.6 312.9 1308.7 319.7 1325.9 317.0C1343.1 314.2 1358.3 299.8 1367.2 304.6C1376.2 309.4 1374.5 327.0 1379.6 345.9C1384.8 364.8 1396.8 402.7 1398.2 418.2C1399.6 433.7 1393.7 430.9 1387.9 438.9C1382.0 446.8 1376.9 466.1 1363.1 465.7C1349.3 465.4 1321.8 446.4 1305.3 436.8C1288.7 427.2 1272.2 419.6 1263.9 407.9C1255.7 396.2 1255.7 381.0 1255.7 366.6C1255.7 352.1 1252.2 329.4 1263.9 321.1Z" fill="#e5706b"/>
<path d="M1157.6 415.1C1158.4 411.8 1160.8 412.5 1164.8 413.0C1168.7 413.6 1175.5 419.4 1181.3 418.2C1187.2 417.0 1197.5 411.0 1199.9 405.8C1202.3 400.7 1194.7 390.7 1195.8 387.2C1196.8 383.8 1203.3 384.5 1206.1 385.2C1208.9 385.8 1210.2 388.3 1212.3 391.4C1214.4 394.5 1219.2 400.7 1218.5 403.8C1217.8 406.8 1213.3 406.8 1208.2 409.9C1203.0 413.0 1192.7 418.6 1187.5 422.3C1182.3 426.1 1181.8 430.9 1177.2 432.7C1172.5 434.4 1162.9 435.6 1159.6 432.7C1156.4 429.7 1156.7 418.4 1157.6 415.1Z" fill="#7f86c0" filter="url(#rough2)"/>
<path d="M1239.2 321.1C1241.9 319.1 1246.7 320.8 1247.4 323.2C1248.1 325.6 1245.0 331.8 1243.3 335.6C1241.6 339.4 1237.1 342.1 1237.1 345.9C1237.1 349.7 1241.6 354.2 1243.3 358.3C1245.0 362.4 1246.0 366.9 1247.4 370.7C1248.8 374.5 1252.9 377.2 1251.5 381.0C1250.2 384.8 1242.6 390.0 1239.2 393.4C1235.7 396.9 1234.3 400.0 1230.9 401.7C1227.4 403.4 1221.6 405.5 1218.5 403.8C1215.4 402.0 1212.6 396.9 1212.3 391.4C1212.0 385.8 1214.7 377.6 1216.4 370.7C1218.2 363.8 1220.2 355.9 1222.6 350.0C1225.0 344.2 1228.1 340.4 1230.9 335.6C1233.6 330.8 1236.4 323.2 1239.2 321.1Z" fill="#0fb3cc" filter="url(#rough2)"/>
<path d="M1307.7 182.7C1307.7 176.9 1309.1 178.6 1310.4 182.7C1311.7 186.9 1313.7 199.9 1315.6 207.5C1317.5 215.1 1320.1 221.6 1321.8 228.2C1323.5 234.7 1324.2 241.9 1325.9 246.8C1327.6 251.6 1331.4 253.3 1332.1 257.1C1332.8 260.9 1332.1 267.1 1330.0 269.5C1328.0 271.9 1322.5 272.6 1319.7 271.5C1317.0 270.5 1314.7 268.1 1313.5 263.3C1312.3 258.5 1313.0 250.2 1312.5 242.6C1312.0 235.1 1311.2 227.8 1310.4 217.8C1309.6 207.9 1307.7 188.6 1307.7 182.7Z" fill="#ce9232" filter="url(#rough2)"/>
<path d="M1373.4 204.4C1375.5 200.8 1379.4 202.9 1379.6 206.5C1379.8 210.1 1376.5 220.1 1374.5 226.1C1372.4 232.1 1367.7 237.5 1367.2 242.6C1366.7 247.8 1371.4 251.6 1371.4 257.1C1371.4 262.6 1368.8 270.5 1367.2 275.7C1365.7 280.8 1364.1 283.3 1362.1 288.1C1360.0 292.9 1357.8 300.8 1354.8 304.6C1351.9 308.4 1347.9 310.8 1344.5 310.8C1341.1 310.8 1335.2 307.7 1334.2 304.6C1333.1 301.5 1336.9 296.3 1338.3 292.2C1339.7 288.1 1342.4 283.9 1342.4 279.8C1342.4 275.7 1340.4 271.2 1338.3 267.4C1336.2 263.6 1330.7 259.2 1330.0 257.1C1329.4 255.0 1331.8 254.7 1334.2 255.0C1336.6 255.4 1342.1 260.5 1344.5 259.2C1346.9 257.8 1346.6 251.2 1348.6 246.8C1350.7 242.3 1353.8 235.4 1356.9 232.3C1360.0 229.2 1364.5 232.8 1367.2 228.2C1370.0 223.5 1371.4 208.0 1373.4 204.4Z" fill="#ada037" filter="url(#rough2)"/>
<path d="M1251.5 250.3C1254.3 248.9 1259.1 255.3 1263.9 259.2C1268.8 263.0 1275.0 269.5 1280.5 273.6C1286.0 277.7 1291.5 280.5 1297.0 283.9C1302.5 287.4 1309.4 290.8 1313.5 294.3C1317.6 297.7 1318.7 301.5 1321.8 304.6C1324.9 307.7 1331.4 309.8 1332.1 312.9C1332.8 316.0 1329.7 321.5 1325.9 323.2C1322.1 324.9 1314.9 323.9 1309.4 323.2C1303.9 322.5 1298.4 319.7 1292.9 319.1C1287.4 318.4 1281.2 319.4 1276.3 319.1C1271.5 318.7 1266.5 319.4 1263.9 317.0C1261.4 314.6 1262.9 309.4 1260.8 304.6C1258.8 299.8 1254.3 291.5 1251.5 288.1C1248.8 284.6 1245.0 287.4 1244.3 283.9C1243.6 280.5 1246.2 273.0 1247.4 267.4C1248.6 261.8 1248.8 251.6 1251.5 250.3Z" fill="#14a877" filter="url(#rough2)"/>
<path d="M1251.5 381.0C1254.6 377.9 1256.4 371.7 1261.9 370.7C1267.4 369.7 1277.4 373.5 1284.6 374.8C1291.8 376.2 1300.8 376.2 1305.3 379.0C1309.7 381.7 1312.5 387.2 1311.5 391.4C1310.4 395.5 1300.8 397.9 1299.1 403.8C1297.3 409.6 1301.5 420.3 1301.1 426.5C1300.8 432.7 1299.7 439.9 1297.0 440.9C1294.2 442.0 1288.7 435.8 1284.6 432.7C1280.5 429.6 1277.0 426.1 1272.2 422.3C1267.4 418.6 1261.2 413.4 1255.7 409.9C1250.2 406.5 1242.6 403.8 1239.2 401.7C1235.7 399.6 1234.3 399.6 1235.0 397.6C1235.7 395.5 1240.5 392.0 1243.3 389.3C1246.0 386.5 1248.4 384.1 1251.5 381.0Z" fill="#e26ba6" filter="url(#rough2)"/>
<path d="M1263.9 323.2C1267.7 320.1 1277.7 319.4 1284.6 319.1C1291.5 318.7 1299.7 320.1 1305.3 321.1C1310.8 322.2 1314.9 321.8 1317.6 325.3C1320.4 328.7 1320.4 335.6 1321.8 341.8C1323.2 348.0 1323.2 356.2 1325.9 362.4C1328.7 368.6 1334.9 374.1 1338.3 379.0C1341.7 383.8 1346.6 388.9 1346.6 391.4C1346.6 393.8 1342.4 393.8 1338.3 393.4C1334.2 393.1 1327.3 391.7 1321.8 389.3C1316.3 386.9 1311.5 381.4 1305.3 379.0C1299.1 376.6 1290.8 376.2 1284.6 374.8C1278.4 373.5 1271.9 374.1 1268.1 370.7C1264.3 367.3 1262.9 359.7 1261.9 354.2C1260.8 348.7 1261.5 342.8 1261.9 337.6C1262.2 332.5 1260.2 326.3 1263.9 323.2Z" fill="#e5706b" filter="url(#rough2)"/>
<path d="M1367.2 281.9C1370.0 279.5 1377.6 280.5 1379.6 286.0C1381.7 291.5 1378.6 304.9 1379.6 314.9C1380.7 324.9 1383.8 335.6 1385.8 345.9C1387.9 356.2 1389.9 366.6 1392.0 376.9C1394.1 387.2 1396.5 399.6 1398.2 407.9C1399.9 416.1 1404.1 424.8 1402.3 426.5C1400.6 428.2 1392.0 423.0 1387.9 418.2C1383.8 413.4 1381.7 404.4 1377.6 397.6C1373.4 390.7 1368.3 383.8 1363.1 376.9C1357.9 370.0 1348.3 363.1 1346.6 356.2C1344.8 349.4 1352.4 341.1 1352.8 335.6C1353.1 330.1 1348.3 327.7 1348.6 323.2C1349.0 318.7 1352.4 312.5 1354.8 308.7C1357.2 304.9 1361.0 304.9 1363.1 300.5C1365.2 296.0 1364.5 284.3 1367.2 281.9Z" fill="#12a99b" filter="url(#rough2)"/>
<path d="M1317.6 325.3C1318.3 321.1 1322.5 318.7 1325.9 317.0C1329.4 315.3 1334.5 313.9 1338.3 314.9C1342.1 316.0 1346.2 319.7 1348.6 323.2C1351.0 326.6 1353.5 331.8 1352.8 335.6C1352.1 339.4 1346.9 342.1 1344.5 345.9C1342.1 349.7 1341.4 356.2 1338.3 358.3C1335.2 360.4 1328.7 361.1 1325.9 358.3C1323.2 355.6 1323.2 347.3 1321.8 341.8C1320.4 336.3 1317.0 329.4 1317.6 325.3Z" fill="#b872a8" filter="url(#rough2)"/>
<path d="M1311.5 391.4C1318.0 389.6 1331.8 394.1 1338.3 393.4C1344.8 392.7 1345.9 388.9 1350.7 387.2C1355.5 385.5 1362.8 381.4 1367.2 383.1C1371.7 384.8 1374.1 391.7 1377.6 397.6C1381.0 403.4 1386.8 412.0 1387.9 418.2C1388.9 424.4 1386.5 429.6 1383.8 434.7C1381.0 439.9 1374.8 444.0 1371.4 449.2C1367.9 454.4 1367.2 463.3 1363.1 465.7C1359.0 468.1 1352.1 465.4 1346.6 463.7C1341.1 461.9 1335.6 458.5 1330.0 455.4C1324.5 452.3 1318.3 448.2 1313.5 445.1C1308.7 442.0 1303.2 439.9 1301.1 436.8C1299.1 433.7 1301.5 432.0 1301.1 426.5C1300.8 421.0 1297.3 409.6 1299.1 403.8C1300.8 397.9 1304.9 393.1 1311.5 391.4Z" fill="#7daa4b" filter="url(#rough2)"/>
<path d="M1363.1 465.7C1364.8 461.2 1367.9 454.4 1371.4 449.2C1374.8 444.0 1380.0 438.2 1383.8 434.7C1387.5 431.3 1391.3 426.1 1394.1 428.5C1396.8 430.9 1398.6 442.3 1400.3 449.2C1402.0 456.1 1403.0 463.0 1404.4 469.9C1405.8 476.7 1408.9 485.3 1408.5 490.5C1408.2 495.7 1405.8 500.2 1402.3 500.8C1398.9 501.5 1392.7 497.7 1387.9 494.6C1383.1 491.5 1377.9 485.3 1373.4 482.2C1368.9 479.1 1362.8 478.8 1361.0 476.1C1359.3 473.3 1361.4 470.2 1363.1 465.7Z" fill="#4db060" filter="url(#rough2)"/>
<path d="M1387.9 418.2C1389.3 417.9 1397.9 422.7 1402.3 426.5C1406.8 430.3 1410.3 438.9 1414.7 440.9C1419.2 443.0 1426.1 437.5 1429.2 438.9C1432.3 440.2 1432.0 444.0 1433.3 449.2C1434.7 454.4 1438.1 463.7 1437.5 469.9C1436.8 476.1 1433.0 481.9 1429.2 486.4C1425.4 490.9 1419.2 494.3 1414.7 496.7C1410.3 499.1 1403.4 501.9 1402.3 500.8C1401.3 499.8 1408.2 495.7 1408.5 490.5C1408.9 485.3 1405.8 476.7 1404.4 469.9C1403.0 463.0 1402.0 456.1 1400.3 449.2C1398.6 442.3 1396.1 433.7 1394.1 428.5C1392.0 423.4 1386.5 418.6 1387.9 418.2Z" fill="#1fae54" filter="url(#rough2)"/>
<path d="M1338.3 465.7C1339.7 463.7 1344.7 463.3 1348.6 463.7C1352.6 464.0 1359.7 465.4 1362.1 467.8C1364.5 470.2 1363.6 475.0 1363.1 478.1C1362.6 481.2 1361.4 485.3 1359.0 486.4C1356.6 487.4 1351.7 486.0 1348.6 484.3C1345.5 482.6 1342.1 479.1 1340.4 476.1C1338.7 473.0 1336.9 467.8 1338.3 465.7Z" fill="#e8638f" filter="url(#rough2)"/>
<path d="M1210.2 455.4C1212.5 452.0 1217.8 448.3 1222.6 447.1C1227.4 445.9 1235.4 446.4 1239.2 448.2C1242.9 449.9 1245.0 453.2 1245.4 457.5C1245.7 461.8 1242.3 469.9 1241.2 474.0C1240.2 478.1 1240.9 479.5 1239.2 482.2C1237.4 485.0 1234.3 489.3 1230.9 490.5C1227.4 491.7 1221.6 491.5 1218.5 489.5C1215.4 487.4 1213.8 481.7 1212.3 478.1C1210.7 474.5 1209.5 471.6 1209.2 467.8C1208.9 464.0 1208.0 458.8 1210.2 455.4Z" fill="#4792ce" filter="url(#rough2)"/>
<path d="M1239.2 482.2C1240.9 479.3 1247.4 477.4 1251.5 477.1C1255.7 476.7 1261.5 477.9 1263.9 480.2C1266.4 482.4 1266.0 487.1 1266.0 490.5C1266.0 494.0 1263.4 496.9 1263.9 500.8C1264.5 504.8 1269.1 512.0 1269.1 514.3C1269.1 516.5 1266.2 515.8 1263.9 514.3C1261.7 512.7 1258.8 506.5 1255.7 505.0C1252.6 503.4 1247.8 506.7 1245.4 505.0C1242.9 503.2 1242.3 498.4 1241.2 494.6C1240.2 490.9 1237.4 485.2 1239.2 482.2Z" fill="#ec8b2e" filter="url(#rough2)"/>
<path d="M1364.8 42.9C1366.0 40.9 1366.8 43.2 1368.8 45.2C1370.7 47.3 1376.0 52.2 1376.5 55.3C1376.9 58.3 1373.7 62.4 1371.5 63.7C1369.2 64.9 1364.8 64.1 1363.1 63.0C1361.4 61.9 1361.1 60.3 1361.4 57.0C1361.7 53.6 1363.5 44.8 1364.8 42.9Z" fill="#9b77ac" filter="url(#rough2)"/>
<path d="M1585.9 348.4C1587.5 345.1 1596.2 344.8 1602.6 345.1C1609.0 345.3 1619.9 347.0 1624.4 350.1C1628.9 353.2 1629.7 358.7 1629.4 363.5C1629.1 368.2 1624.9 374.4 1622.7 378.6C1620.5 382.7 1619.4 387.5 1616.0 388.6C1612.7 389.7 1606.5 389.2 1602.6 385.3C1598.7 381.4 1595.4 371.3 1592.6 365.2C1589.8 359.0 1584.2 351.8 1585.9 348.4Z" fill="#18a4dc" filter="url(#rough2)"/>
<path d="M1242.3 286.0C1242.9 283.6 1245.2 280.5 1247.4 281.9C1249.7 283.3 1253.6 289.4 1255.7 294.3C1257.7 299.1 1260.0 308.2 1259.8 310.8C1259.6 313.4 1257.4 312.2 1254.6 309.8C1251.9 307.4 1245.4 300.3 1243.3 296.3C1241.2 292.4 1241.6 288.4 1242.3 286.0Z" fill="#4792ce" filter="url(#rough2)"/>
<path d="M1324.9 459.5C1326.1 458.8 1329.7 459.9 1332.1 461.6C1334.5 463.3 1338.3 467.4 1339.3 469.9C1340.4 472.3 1339.9 475.7 1338.3 476.1C1336.8 476.4 1332.3 473.6 1330.0 471.9C1327.8 470.2 1325.7 467.8 1324.9 465.7C1324.0 463.7 1323.7 460.2 1324.9 459.5Z" fill="#7f86c0" filter="url(#rough2)"/>
<path d="M1426.1 337.6C1427.1 335.6 1429.5 335.6 1433.3 334.6C1437.1 333.5 1446.1 331.5 1448.8 331.5C1451.6 331.5 1451.7 332.8 1449.9 334.6C1448.0 336.3 1440.2 339.4 1437.5 341.8C1434.7 344.2 1435.0 348.1 1433.3 349.0C1431.6 349.9 1428.3 348.8 1427.1 346.9C1425.9 345.1 1425.1 339.7 1426.1 337.6Z" fill="#b872a8" filter="url(#rough2)"/>
<path d="M1327.3 252.3h0M1326.6 259.0h0M1325.4 269.5h0M1316.6 251.0h0M1308.5 213.7h0M1325.5 261.8h0M1313.1 255.5h0M1319.3 271.3h0M1309.7 221.6h0M1314.8 203.5h0M1319.4 250.5h0M1315.8 287.2h0M1318.6 287.0h0M1302.1 298.9h0M1321.1 238.5h0M1333.7 262.7h0M1325.1 233.8h0M1329.7 267.9h0M1328.5 262.0h0M1319.0 295.3h0M1321.4 255.1h0M1332.3 266.2h0M1322.8 254.5h0M1311.9 246.5h0M1313.7 211.8h0M1311.3 297.2h0M1314.2 284.7h0M1317.2 272.3h0" stroke="#ce9232" stroke-width="3.00" stroke-linecap="round" fill="none"/>
<path d="M1419.2 457.2h0M1402.6 471.5h0M1405.8 493.5h0M1425.0 478.0h0M1396.2 455.4h0M1406.0 492.1h0M1417.3 476.3h0M1415.7 489.6h0M1438.1 467.2h0M1398.8 470.4h0M1416.3 448.0h0M1432.6 464.0h0M1423.5 457.3h0M1402.6 467.4h0M1393.3 420.8h0M1420.3 486.3h0M1394.0 435.5h0M1406.4 480.4h0M1389.7 423.5h0M1400.9 460.1h0M1411.6 467.7h0M1405.7 469.7h0M1410.8 475.0h0M1397.8 463.7h0M1417.2 477.7h0M1408.2 454.2h0M1413.0 479.9h0M1395.3 439.1h0M1406.4 440.5h0M1402.4 463.5h0M1407.3 484.9h0M1421.1 442.7h0M1422.8 459.8h0M1414.2 485.8h0M1417.8 490.7h0M1433.7 474.2h0M1394.8 442.9h0M1409.3 476.4h0M1395.9 445.2h0M1403.8 483.2h0M1394.5 434.5h0M1412.5 460.3h0M1416.2 449.8h0M1402.7 492.2h0M1390.7 418.5h0M1389.2 436.2h0M1385.7 424.2h0M1403.3 489.8h0M1398.5 451.4h0M1399.2 467.6h0M1424.7 440.4h0M1398.3 446.3h0M1405.9 438.5h0M1397.0 438.5h0M1396.0 457.2h0M1419.8 462.5h0M1387.3 440.2h0M1422.1 439.7h0M1394.4 438.0h0M1420.8 487.1h0M1427.1 482.0h0M1400.7 455.4h0M1423.7 483.6h0M1404.0 475.2h0M1414.6 481.0h0M1401.5 458.3h0M1386.0 421.7h0M1407.0 467.0h0M1403.0 476.2h0M1426.7 465.8h0M1412.3 461.1h0M1429.2 475.3h0M1385.4 423.1h0M1417.9 463.4h0M1400.3 451.5h0M1411.5 445.5h0M1433.9 466.2h0M1409.2 470.0h0M1399.7 449.6h0M1407.5 451.7h0M1398.4 431.9h0M1414.8 481.6h0M1393.4 452.1h0M1432.8 460.4h0M1412.1 475.2h0M1404.0 477.9h0M1418.0 489.8h0M1406.7 490.3h0M1414.5 491.2h0M1404.4 441.0h0M1400.5 423.6h0M1401.0 453.9h0M1398.5 438.3h0M1433.1 469.9h0M1438.4 467.3h0M1395.2 451.9h0M1428.7 443.8h0M1417.6 487.4h0M1404.8 456.9h0M1399.5 462.2h0M1431.3 465.5h0M1435.0 474.5h0M1417.2 464.9h0M1411.0 446.0h0M1405.4 481.7h0M1426.1 457.9h0M1423.3 469.0h0M1403.7 427.8h0M1400.7 428.3h0M1402.4 457.8h0M1403.6 491.4h0M1405.9 478.4h0M1410.0 488.4h0M1439.6 458.2h0M1397.5 464.7h0M1415.9 456.2h0M1435.3 463.2h0M1397.8 462.6h0M1402.1 476.0h0M1424.8 453.9h0M1398.9 458.0h0M1423.9 436.9h0M1413.0 477.7h0M1399.1 448.6h0M1393.6 421.4h0M1393.0 438.4h0M1431.3 473.0h0" stroke="#1fae54" stroke-width="3.00" stroke-linecap="round" fill="none"/>
<path d="M1405.2 465.5h0M1410.3 476.6h0M1397.4 432.9h0M1365.8 486.6h0M1376.0 443.4h0M1402.6 439.2h0M1379.7 434.4h0M1387.7 457.4h0M1407.7 492.6h0M1380.1 435.0h0M1362.5 458.5h0M1325.1 455.4h0M1407.8 455.8h0M1379.1 473.5h0M1372.9 463.7h0M1328.0 453.7h0M1396.0 449.0h0M1398.7 483.9h0M1404.5 441.9h0M1403.0 461.2h0M1374.6 463.8h0M1400.1 479.7h0M1371.0 467.5h0M1396.6 432.6h0M1384.4 431.7h0M1387.1 496.5h0M1392.0 425.5h0M1401.9 443.7h0M1396.4 464.7h0M1392.5 482.1h0M1394.6 460.6h0M1405.8 443.6h0M1406.6 456.4h0M1363.9 462.1h0M1363.6 454.5h0M1407.2 464.9h0M1400.1 496.4h0M1389.3 430.0h0M1395.1 472.2h0M1409.1 481.7h0M1367.7 455.7h0M1362.6 467.7h0M1413.4 469.4h0M1409.2 484.8h0M1390.3 461.2h0M1400.6 467.0h0M1362.3 465.1h0M1369.7 460.3h0M1400.9 446.1h0M1391.9 475.8h0M1395.9 463.6h0M1360.0 458.9h0M1404.1 465.4h0M1370.8 470.0h0M1367.5 450.5h0M1370.4 446.3h0M1355.6 478.3h0M1407.3 479.9h0M1411.7 475.4h0M1391.9 445.2h0M1393.3 425.1h0M1403.5 454.9h0M1408.9 446.8h0M1398.5 439.5h0M1399.5 432.6h0M1385.8 433.4h0M1346.1 467.5h0M1406.6 456.9h0M1383.3 468.6h0M1372.6 471.7h0M1389.0 431.2h0M1385.7 490.6h0M1368.7 447.1h0M1410.3 475.8h0M1405.9 495.3h0M1366.5 479.5h0M1395.8 428.8h0M1362.3 466.3h0M1384.4 443.8h0M1364.9 474.0h0M1336.2 467.7h0M1341.9 461.8h0M1379.7 429.3h0M1392.4 473.3h0M1404.0 466.5h0M1360.2 473.3h0M1374.9 475.4h0M1369.8 455.5h0M1371.1 457.0h0M1402.7 445.3h0M1397.6 446.1h0M1400.5 447.5h0M1380.3 467.4h0M1358.8 455.0h0M1357.4 461.2h0M1395.4 473.5h0M1374.4 477.8h0M1393.3 453.0h0M1384.0 467.9h0M1397.6 426.0h0M1390.5 478.5h0M1391.6 488.9h0M1311.6 449.8h0M1396.9 491.0h0M1392.9 441.2h0M1402.0 455.8h0M1398.3 494.0h0M1386.8 465.8h0M1408.2 484.0h0M1406.5 460.6h0M1353.3 469.6h0M1397.9 429.5h0M1373.0 483.2h0M1409.0 463.0h0M1346.3 470.3h0M1387.6 483.1h0M1365.7 466.9h0M1378.4 464.0h0M1399.5 444.1h0M1372.2 470.6h0M1377.9 445.9h0M1404.6 452.2h0M1379.8 437.1h0M1391.0 493.7h0M1399.7 442.2h0M1362.2 459.8h0" stroke="#4db060" stroke-width="3.00" stroke-linecap="round" fill="none"/>
<path d="M1372.2 398.9h0M1330.1 327.9h0M1358.5 297.6h0M1383.4 330.9h0M1343.8 331.3h0M1361.9 306.6h0M1379.6 370.9h0M1380.2 421.6h0M1359.1 309.3h0M1364.7 309.8h0M1380.6 309.0h0M1346.5 346.2h0M1357.4 347.0h0M1361.1 324.1h0M1376.1 410.0h0M1353.0 443.6h0M1378.4 344.9h0M1357.4 358.9h0M1331.8 379.8h0M1363.8 350.0h0M1393.1 427.7h0M1325.2 340.1h0M1357.2 305.6h0M1334.7 327.0h0M1389.3 397.0h0M1358.9 363.9h0M1383.0 400.6h0M1401.5 421.4h0M1348.7 346.5h0M1374.4 291.0h0M1348.1 347.0h0M1375.8 398.1h0M1370.5 359.2h0M1367.0 290.9h0M1404.4 419.9h0M1311.0 290.7h0M1389.8 357.4h0M1371.9 395.4h0M1376.9 392.7h0M1368.2 338.8h0M1323.7 323.3h0M1388.3 409.6h0M1373.9 298.4h0M1368.5 331.7h0M1396.2 417.0h0M1366.6 378.9h0M1382.5 317.2h0M1363.2 285.4h0M1340.0 326.0h0M1378.0 368.6h0M1386.2 415.8h0M1389.8 356.2h0M1391.1 406.9h0M1320.5 428.2h0M1319.7 283.7h0M1356.0 369.0h0M1386.5 366.1h0M1364.3 326.9h0M1347.9 360.8h0M1360.6 297.2h0M1386.6 365.0h0M1364.4 375.6h0M1378.7 293.6h0M1317.8 322.1h0M1378.3 291.9h0M1332.2 434.8h0M1363.8 301.9h0M1342.9 318.0h0M1351.1 298.9h0M1353.2 317.7h0M1377.1 355.9h0M1364.7 314.4h0M1359.9 448.3h0M1343.2 349.5h0M1396.4 393.2h0M1372.6 338.4h0M1363.2 309.8h0M1362.9 357.7h0M1353.4 327.6h0M1389.4 385.9h0M1356.5 335.6h0M1361.6 299.8h0M1365.3 365.3h0M1366.9 386.3h0M1359.8 452.1h0M1380.9 373.1h0M1341.3 335.8h0M1386.5 332.6h0M1352.4 361.7h0M1365.9 354.5h0M1359.8 335.3h0M1326.0 330.5h0M1345.0 355.6h0M1381.2 403.5h0M1363.5 293.0h0M1331.9 332.9h0M1364.7 290.1h0M1320.2 371.3h0M1352.1 348.3h0M1371.4 280.2h0M1318.4 280.2h0M1360.3 326.4h0M1390.4 427.3h0M1361.9 362.7h0M1396.3 399.6h0M1352.3 364.8h0M1316.2 436.2h0M1388.9 346.4h0M1389.2 351.0h0M1396.3 407.8h0M1352.9 311.1h0M1360.0 352.0h0M1343.6 348.6h0M1339.1 333.4h0M1372.0 277.1h0M1368.2 296.3h0M1364.8 367.9h0M1362.0 315.9h0M1385.4 331.5h0M1365.8 323.4h0M1363.6 287.1h0M1364.8 316.6h0M1394.5 387.9h0M1391.5 372.2h0M1365.3 284.2h0M1367.0 362.9h0M1388.5 419.4h0M1385.3 338.1h0M1357.6 307.2h0M1372.3 380.0h0M1394.0 415.1h0M1372.7 346.0h0M1353.6 339.5h0M1395.4 414.2h0M1335.0 439.5h0M1346.9 337.1h0M1380.4 370.2h0M1378.3 368.6h0M1377.1 334.6h0M1379.6 382.1h0M1357.3 375.2h0M1348.1 360.3h0M1365.8 351.9h0M1361.6 458.4h0M1365.6 363.0h0M1390.3 365.4h0M1365.8 361.2h0M1365.2 373.5h0M1329.2 328.8h0M1344.8 326.9h0M1350.0 365.4h0M1369.1 346.6h0M1371.5 309.1h0M1358.0 321.1h0M1351.3 339.5h0M1387.9 394.0h0M1378.4 389.8h0M1377.1 314.9h0M1354.2 337.9h0M1399.5 411.6h0M1372.2 305.0h0M1381.5 373.5h0M1333.1 336.9h0M1371.9 329.7h0M1333.6 328.5h0M1372.8 399.8h0M1372.6 335.4h0M1386.1 353.5h0M1328.8 348.1h0M1364.8 371.0h0M1364.7 352.2h0M1349.1 303.7h0M1384.7 322.9h0M1379.8 404.7h0M1372.1 313.6h0M1380.6 309.9h0M1370.9 333.8h0M1378.1 338.4h0M1370.2 353.7h0M1363.3 285.6h0M1363.2 295.1h0M1386.5 377.6h0M1374.8 290.0h0M1349.9 332.3h0M1341.9 368.0h0M1336.9 352.8h0M1346.2 318.4h0M1365.4 385.0h0M1325.0 363.3h0M1378.1 307.3h0M1378.0 354.3h0M1372.4 358.6h0M1381.2 319.6h0M1363.0 339.4h0M1366.8 368.7h0M1325.6 280.3h0M1373.8 328.4h0M1384.9 408.0h0M1370.0 296.9h0M1372.2 390.6h0M1376.5 377.7h0M1344.9 353.7h0M1358.7 349.1h0M1366.6 361.3h0M1367.3 379.1h0M1380.0 288.6h0M1358.5 372.1h0M1384.1 342.5h0" stroke="#12a99b" stroke-width="3.00" stroke-linecap="round" fill="none"/>
<path d="M1310.4 344.9h0M1272.2 343.5h0M1289.5 324.5h0M1328.1 425.3h0M1315.1 331.2h0M1325.7 395.4h0M1338.0 392.1h0M1260.3 366.4h0M1271.4 345.0h0M1347.7 386.1h0M1317.1 376.1h0M1302.9 357.0h0M1290.8 380.7h0M1334.2 394.6h0M1270.8 348.1h0M1322.9 386.3h0M1282.5 366.0h0M1325.6 359.4h0M1272.7 342.0h0M1274.7 347.3h0M1343.8 341.9h0M1283.8 316.3h0M1314.1 336.8h0M1367.1 438.7h0M1259.7 382.1h0M1259.1 357.5h0M1329.4 391.4h0M1330.1 398.1h0M1314.9 323.0h0M1302.9 415.8h0M1323.8 347.0h0M1301.9 339.1h0M1325.3 393.2h0M1329.4 374.8h0M1331.4 391.6h0M1331.2 389.6h0M1247.6 358.1h0M1291.5 357.8h0M1293.1 335.0h0M1324.4 354.4h0M1293.6 434.1h0M1324.8 353.3h0M1289.4 330.4h0M1329.0 293.1h0M1242.0 341.9h0M1347.8 370.4h0M1330.0 331.4h0M1322.2 378.3h0M1292.0 351.4h0M1335.3 353.1h0M1299.1 382.5h0M1334.5 412.1h0M1254.9 320.6h0M1372.0 437.6h0M1344.5 377.5h0M1343.2 378.3h0M1319.3 360.1h0M1276.6 339.2h0M1324.1 392.9h0M1327.9 396.2h0M1281.2 377.5h0M1279.3 362.1h0M1314.3 388.0h0M1327.7 371.3h0M1255.7 358.7h0M1282.6 363.3h0M1337.8 375.6h0M1320.0 402.2h0M1265.3 362.7h0M1291.9 430.8h0M1318.9 357.6h0M1320.0 372.0h0M1302.3 333.6h0M1339.9 414.1h0M1327.4 377.4h0M1332.8 358.6h0M1281.5 332.9h0M1327.3 370.2h0M1332.1 378.7h0M1338.9 388.5h0M1330.3 348.1h0M1277.4 328.2h0M1279.5 346.3h0M1280.1 319.5h0M1322.7 379.4h0M1272.8 321.3h0M1314.1 340.3h0M1330.2 384.8h0M1262.4 325.1h0M1345.9 370.1h0M1274.4 342.9h0M1328.1 315.6h0M1339.3 374.0h0M1322.5 364.3h0M1292.4 340.9h0M1316.6 359.1h0M1325.1 357.3h0M1261.9 386.4h0M1280.6 349.9h0M1335.5 391.0h0M1283.4 336.8h0M1259.0 353.1h0M1320.4 386.0h0M1280.3 363.6h0M1314.9 391.0h0M1307.5 387.3h0M1305.6 383.4h0M1334.6 372.4h0M1268.1 340.1h0M1320.5 407.6h0M1277.4 320.9h0M1325.3 303.4h0M1323.8 393.7h0M1330.9 401.7h0M1314.7 374.2h0M1304.0 359.2h0M1279.2 354.1h0M1300.2 377.9h0M1268.3 379.3h0M1333.1 374.8h0M1305.5 351.3h0M1307.8 367.0h0M1284.8 340.7h0M1345.2 372.0h0M1341.7 454.0h0M1238.9 350.9h0M1281.8 320.7h0M1308.0 292.0h0M1244.7 338.6h0M1325.0 342.4h0M1273.0 361.8h0M1279.6 384.8h0M1298.8 364.2h0M1307.6 352.2h0M1260.7 336.3h0M1251.0 333.5h0M1305.6 330.9h0M1298.1 378.1h0M1341.7 389.1h0M1253.2 360.3h0M1282.4 329.8h0M1339.6 394.2h0M1303.5 387.4h0M1340.3 321.5h0M1313.5 322.9h0M1355.6 331.5h0M1347.0 397.3h0M1280.1 411.1h0M1277.6 341.9h0M1248.0 363.9h0M1338.9 394.4h0M1339.0 411.7h0M1296.4 312.4h0M1304.5 363.1h0M1330.3 370.1h0M1340.8 326.3h0M1278.7 416.9h0M1345.5 390.9h0M1348.0 392.5h0M1262.7 327.2h0M1343.4 397.3h0M1321.6 392.8h0M1284.6 350.2h0M1327.2 314.2h0M1303.0 360.3h0M1326.8 340.5h0M1330.6 322.4h0M1307.2 331.0h0M1339.4 376.0h0M1345.1 400.5h0M1324.4 353.7h0M1343.2 393.7h0M1276.4 360.9h0M1320.7 294.2h0M1260.5 328.1h0M1298.6 324.2h0M1295.2 342.2h0M1335.4 390.3h0M1321.5 325.8h0M1315.2 392.7h0M1324.6 329.6h0M1343.2 388.5h0M1335.6 397.8h0M1285.1 337.3h0M1253.1 369.6h0M1310.0 334.3h0M1329.5 377.1h0M1329.7 347.0h0M1314.1 415.8h0M1376.1 441.5h0M1324.2 370.3h0M1332.1 344.7h0M1311.6 358.0h0M1272.8 401.4h0M1308.2 370.2h0M1281.6 326.6h0M1331.3 392.7h0M1292.2 356.8h0M1319.8 272.6h0M1307.9 358.1h0M1320.2 374.5h0M1292.3 328.9h0M1332.3 313.2h0M1338.2 389.7h0M1306.3 349.2h0M1295.9 377.7h0M1277.7 328.2h0M1276.7 429.7h0M1285.8 380.6h0M1246.2 341.0h0M1340.5 386.5h0M1242.0 343.8h0M1255.0 343.6h0M1330.4 325.9h0M1358.3 423.2h0M1293.7 382.1h0M1326.6 373.9h0M1306.9 370.8h0M1262.3 372.9h0M1324.7 437.6h0M1322.9 410.6h0M1313.5 291.3h0M1246.7 358.2h0M1301.3 370.7h0M1275.6 357.2h0M1343.2 322.5h0M1288.3 356.5h0M1322.4 381.5h0M1308.1 385.4h0M1286.5 338.0h0M1279.0 421.9h0M1290.9 367.7h0M1336.5 395.3h0M1313.6 376.8h0M1325.4 342.9h0M1346.0 342.9h0M1299.5 377.4h0M1301.6 369.3h0M1339.3 388.5h0M1365.6 414.3h0M1353.7 339.7h0M1254.1 344.1h0M1293.4 354.8h0M1323.4 339.5h0M1277.2 405.5h0M1279.4 330.5h0M1342.2 323.9h0M1283.7 317.6h0M1308.6 373.7h0M1273.6 317.9h0M1317.7 391.4h0M1290.5 363.1h0M1340.6 336.2h0M1324.0 348.0h0M1314.3 391.5h0M1323.4 374.6h0M1263.9 366.6h0M1373.5 400.1h0M1332.7 375.7h0M1270.5 355.1h0M1271.5 318.8h0M1334.0 395.8h0M1325.6 339.9h0M1282.7 353.3h0M1312.8 347.9h0M1345.0 392.1h0M1343.8 323.1h0M1336.3 373.8h0M1272.7 333.0h0M1265.8 365.6h0M1342.8 336.9h0M1303.4 320.6h0M1296.0 371.4h0M1277.0 377.7h0M1312.4 338.7h0M1344.4 389.8h0M1344.6 387.3h0M1275.1 355.3h0M1292.1 376.3h0M1275.6 338.5h0M1329.9 358.3h0M1278.3 420.3h0M1315.0 388.9h0M1272.3 370.9h0M1330.8 386.6h0M1328.2 342.9h0M1305.4 319.1h0M1330.9 371.9h0M1337.8 399.1h0M1337.7 407.2h0M1290.8 359.9h0M1276.1 376.4h0M1301.0 330.3h0M1290.2 342.6h0M1317.9 353.6h0M1296.9 321.5h0M1276.1 317.2h0M1330.8 338.7h0M1347.8 378.7h0M1269.5 319.4h0M1277.3 332.8h0M1284.4 336.2h0M1285.6 357.5h0M1270.8 325.3h0M1302.7 384.9h0M1270.3 340.2h0M1275.4 348.0h0M1340.7 390.4h0M1317.3 340.3h0M1314.8 364.4h0M1264.4 353.0h0M1271.9 348.4h0M1327.1 358.4h0M1253.4 348.0h0M1331.7 388.3h0M1335.4 360.7h0M1344.2 387.0h0M1310.1 392.7h0M1346.8 334.1h0M1308.0 377.2h0M1301.3 370.2h0M1308.2 363.6h0M1329.9 378.6h0M1342.7 385.4h0M1329.6 340.0h0M1314.2 362.1h0M1319.8 399.7h0M1340.7 368.5h0M1259.1 344.7h0M1318.8 328.4h0M1260.5 342.3h0M1273.1 350.0h0" stroke="#e5706b" stroke-width="3.00" stroke-linecap="round" fill="none"/>
<path d="M1297.4 425.6h0M1255.5 405.5h0M1270.1 391.8h0M1281.8 371.7h0M1283.1 400.9h0M1279.9 405.0h0M1288.8 378.2h0M1306.9 384.9h0M1243.4 449.5h0M1286.3 397.4h0M1278.3 371.9h0M1286.2 409.7h0M1248.1 452.6h0M1303.7 433.6h0M1245.8 394.1h0M1333.1 394.6h0M1274.2 362.9h0M1267.5 400.1h0M1289.0 420.4h0M1326.9 327.8h0M1320.9 372.2h0M1256.8 408.0h0M1252.9 371.9h0M1341.9 379.7h0M1246.2 382.3h0M1297.0 442.8h0M1248.3 453.5h0M1273.0 372.3h0M1239.4 399.5h0M1283.6 426.7h0M1277.8 319.6h0M1311.4 379.1h0M1348.3 391.2h0M1242.3 389.5h0M1245.6 452.1h0M1350.6 470.1h0M1260.1 386.0h0M1240.6 387.1h0M1244.1 456.9h0M1245.6 453.4h0M1332.4 392.1h0M1305.4 424.7h0M1325.7 461.6h0M1298.1 421.4h0M1295.2 411.6h0M1245.9 398.2h0M1283.4 377.2h0M1260.4 390.7h0M1370.6 486.4h0M1242.6 455.8h0M1296.2 358.2h0M1244.8 386.2h0M1260.1 397.8h0M1251.6 467.5h0M1316.6 366.2h0M1297.6 437.5h0M1249.9 402.6h0M1294.1 402.4h0M1318.2 447.3h0M1268.1 384.8h0M1257.2 398.6h0M1313.4 371.1h0M1274.4 403.3h0M1272.6 379.6h0M1296.7 352.4h0M1246.2 449.9h0M1307.3 379.7h0M1277.5 416.6h0M1285.4 376.8h0M1268.0 402.9h0M1329.8 463.2h0M1286.5 387.9h0M1268.7 392.6h0M1305.0 341.1h0M1247.4 457.5h0M1346.7 395.8h0M1258.4 380.8h0M1271.6 377.8h0M1300.0 350.4h0M1295.9 323.8h0M1254.6 391.4h0M1332.5 413.1h0M1302.5 376.6h0M1329.7 375.3h0M1244.0 455.8h0M1285.6 384.6h0M1319.8 364.9h0M1300.7 402.6h0M1283.2 383.1h0M1313.7 404.4h0M1289.4 421.1h0M1289.6 384.7h0M1304.9 400.4h0M1259.4 407.0h0M1273.4 396.9h0M1299.3 344.3h0M1299.7 405.0h0M1346.2 477.2h0M1259.6 413.3h0M1267.4 388.2h0M1287.9 428.9h0M1288.7 402.3h0M1320.9 315.2h0M1300.0 396.7h0M1352.4 438.2h0M1339.6 365.9h0M1346.5 372.8h0M1256.9 411.1h0M1301.6 327.3h0M1278.0 380.9h0M1271.9 402.9h0M1290.3 372.2h0M1237.0 391.8h0M1357.7 325.9h0M1287.7 375.6h0M1303.2 402.4h0M1269.3 358.6h0M1311.0 383.2h0M1241.4 454.3h0M1324.9 343.1h0M1301.9 435.4h0M1300.0 415.7h0M1288.2 432.8h0M1347.1 324.9h0M1259.4 378.8h0M1299.1 389.8h0M1284.2 358.1h0M1250.4 381.8h0M1329.5 434.0h0M1248.5 375.6h0M1303.4 386.3h0M1252.4 406.8h0M1274.8 391.1h0M1257.9 366.9h0M1348.9 460.3h0M1312.5 385.5h0M1295.9 386.9h0M1301.6 434.8h0M1298.2 368.1h0M1270.1 401.9h0M1301.7 432.0h0M1311.6 400.3h0M1327.5 366.5h0M1296.9 361.0h0M1302.9 358.4h0M1280.6 375.3h0M1342.3 366.2h0M1287.2 350.1h0M1250.2 398.9h0M1294.4 433.4h0M1322.9 455.7h0M1347.0 389.6h0M1346.7 375.1h0M1256.8 410.8h0M1340.8 352.8h0M1314.2 391.0h0M1303.2 428.2h0M1298.2 391.1h0M1291.8 417.1h0M1355.5 477.2h0M1244.4 450.9h0M1279.5 375.0h0M1291.2 394.5h0M1310.4 351.3h0M1306.4 415.2h0M1293.4 407.1h0M1332.0 398.9h0M1262.4 415.8h0M1273.1 324.0h0M1281.0 419.9h0M1262.8 405.6h0M1272.9 407.2h0M1343.2 327.4h0M1302.8 406.8h0M1271.1 400.3h0M1270.9 347.8h0M1324.5 342.8h0M1247.0 478.4h0M1247.8 386.2h0M1303.5 409.8h0M1299.8 408.4h0M1302.4 401.3h0M1299.8 404.5h0M1286.7 383.7h0M1304.7 419.4h0M1260.8 389.0h0M1271.5 422.8h0M1311.3 377.5h0M1276.0 354.8h0M1290.4 413.5h0M1305.5 383.2h0M1279.0 355.8h0M1279.9 370.9h0M1368.3 480.2h0M1301.1 417.3h0M1238.0 391.1h0M1330.4 449.3h0M1275.0 404.5h0M1269.0 418.8h0M1268.3 397.1h0M1301.5 328.8h0M1241.2 393.7h0M1233.3 395.5h0M1346.0 458.5h0M1272.3 366.4h0M1311.3 389.1h0M1365.2 485.6h0M1308.0 376.3h0M1324.5 395.0h0M1286.1 387.9h0M1242.8 398.1h0M1281.5 368.1h0M1251.8 376.6h0M1242.1 400.2h0M1305.3 399.0h0M1268.1 416.3h0M1277.2 419.1h0M1236.6 390.4h0M1283.0 383.6h0M1264.5 379.0h0M1280.5 399.8h0M1293.1 386.2h0M1275.1 389.2h0M1301.4 386.3h0M1307.8 422.3h0M1257.3 395.6h0M1318.3 362.0h0M1269.4 388.9h0M1267.8 376.7h0M1275.0 382.5h0M1280.7 416.3h0M1327.6 457.1h0M1288.8 409.4h0M1263.0 378.7h0M1316.1 366.3h0M1284.6 383.1h0M1358.3 468.3h0M1326.3 402.9h0M1296.8 318.5h0M1300.0 401.8h0M1297.9 347.9h0M1304.7 402.0h0M1278.1 401.4h0M1297.2 386.1h0M1310.0 383.3h0M1259.2 372.4h0M1334.9 464.2h0M1261.6 368.4h0M1262.8 401.3h0M1245.4 454.3h0M1262.8 365.4h0M1269.5 331.0h0M1317.5 349.2h0M1256.5 387.5h0M1244.7 384.2h0M1282.9 320.7h0M1320.5 336.8h0M1316.6 385.8h0M1262.7 382.8h0" stroke="#e26ba6" stroke-width="3.00" stroke-linecap="round" fill="none"/>
<path d="M1346.7 381.1h0M1311.5 413.8h0M1310.8 433.5h0M1307.8 393.4h0M1319.2 411.3h0M1337.3 432.0h0M1339.6 415.3h0M1317.9 397.0h0M1359.0 403.5h0M1316.2 444.0h0M1327.3 451.7h0M1317.9 391.8h0M1353.3 448.3h0M1310.9 428.1h0M1349.6 457.7h0M1326.6 446.9h0M1350.9 456.8h0M1318.8 384.7h0M1327.9 391.6h0M1322.1 399.6h0M1350.6 464.2h0M1311.1 402.8h0M1333.6 425.4h0M1321.9 389.7h0M1315.7 396.0h0M1340.4 373.2h0M1339.7 389.6h0M1343.6 370.5h0M1334.8 433.7h0M1354.4 465.7h0M1370.7 390.5h0M1364.4 493.0h0M1336.0 412.0h0M1333.9 390.3h0M1369.3 439.8h0M1357.9 465.0h0M1321.1 400.1h0M1337.6 417.1h0M1392.1 437.1h0M1331.1 406.8h0M1344.4 393.1h0M1343.8 366.6h0M1341.5 386.2h0M1347.1 384.8h0M1353.5 412.8h0M1367.7 459.6h0M1360.0 450.0h0M1350.7 437.7h0M1373.4 435.8h0M1328.5 390.1h0M1353.8 431.6h0M1336.6 382.2h0M1362.5 381.9h0M1352.6 405.4h0M1337.3 424.3h0M1301.0 399.1h0M1369.9 433.9h0M1333.1 416.4h0M1358.5 462.9h0M1342.2 443.4h0M1299.7 419.5h0M1324.7 391.8h0M1342.9 442.7h0M1335.6 458.3h0M1349.5 379.6h0M1357.9 403.0h0M1306.7 390.3h0M1381.0 423.4h0M1362.7 410.2h0M1363.3 425.5h0M1378.5 440.4h0M1345.1 393.3h0M1365.9 457.0h0M1312.0 444.9h0M1330.9 457.8h0M1322.3 426.1h0M1377.8 435.6h0M1357.2 391.8h0M1344.9 371.6h0M1346.9 457.4h0M1337.8 411.0h0M1295.8 421.3h0M1384.5 408.5h0M1306.2 437.6h0M1364.4 423.8h0M1367.0 466.1h0M1387.3 411.6h0M1372.7 429.6h0M1368.7 394.2h0M1368.1 440.0h0M1344.6 375.6h0M1338.5 395.0h0M1346.8 426.8h0M1319.2 398.3h0M1325.7 405.7h0M1356.8 482.5h0M1363.9 400.5h0M1318.3 434.0h0M1349.8 436.3h0M1311.6 374.3h0M1359.7 428.9h0M1349.0 465.3h0M1314.8 410.0h0M1350.7 451.5h0M1300.5 381.9h0M1350.1 453.1h0M1346.9 423.5h0M1357.2 403.8h0M1383.4 434.4h0M1333.1 411.9h0M1307.2 408.8h0M1339.3 462.9h0M1328.9 399.4h0M1352.3 415.6h0M1321.9 382.2h0M1354.3 486.0h0M1353.3 441.7h0M1365.2 475.3h0M1350.6 400.8h0M1352.5 434.5h0M1340.7 380.0h0M1332.5 401.8h0M1350.1 400.1h0M1303.4 408.1h0M1354.8 475.4h0M1373.6 459.6h0M1343.2 390.9h0M1372.2 452.0h0M1347.6 386.4h0M1321.1 408.2h0M1355.4 443.1h0M1363.8 377.2h0M1325.9 414.8h0M1366.3 421.5h0M1335.9 438.0h0M1300.0 398.9h0M1360.6 443.7h0M1317.6 392.2h0M1306.2 418.2h0M1352.6 392.1h0M1339.9 378.1h0M1352.3 471.7h0M1351.9 440.1h0M1340.3 433.3h0M1345.3 379.6h0M1321.7 404.5h0M1355.9 449.5h0M1348.1 451.2h0M1317.2 414.4h0M1381.6 419.2h0M1352.0 421.8h0M1291.3 400.8h0M1352.8 383.3h0M1364.7 427.7h0M1370.1 391.1h0M1302.8 392.5h0M1300.0 439.0h0M1354.4 431.8h0M1357.3 452.2h0M1340.8 406.3h0M1367.8 446.2h0M1329.7 442.5h0M1360.1 421.4h0M1351.8 398.9h0M1343.8 431.0h0M1385.1 410.9h0M1307.1 440.9h0M1328.9 450.3h0M1353.6 410.3h0M1354.2 451.7h0M1332.5 458.0h0M1329.0 444.4h0M1328.3 409.4h0M1335.3 437.1h0M1343.5 422.4h0M1333.0 413.8h0M1334.5 448.1h0M1340.8 421.0h0M1313.4 388.1h0M1378.9 401.5h0M1315.7 442.6h0M1386.8 416.6h0M1376.6 435.5h0M1355.5 460.5h0M1328.5 417.4h0M1335.6 434.4h0M1378.1 434.6h0M1376.6 397.2h0M1374.0 389.8h0M1338.5 439.4h0M1327.4 400.4h0M1308.7 422.4h0M1349.9 436.4h0M1333.5 433.7h0M1370.6 410.6h0M1342.0 452.8h0M1388.8 422.0h0M1384.3 436.1h0M1355.7 448.2h0M1364.5 384.4h0M1375.1 444.9h0M1332.6 409.0h0M1342.8 387.9h0M1327.2 375.5h0M1329.3 400.4h0M1334.6 445.9h0M1333.4 460.7h0M1344.0 377.5h0M1368.8 405.6h0M1304.2 414.6h0M1350.3 441.3h0M1378.9 418.6h0M1336.4 412.3h0M1337.5 428.6h0M1310.7 425.7h0M1373.5 437.1h0M1353.7 447.8h0M1357.5 459.5h0M1352.1 442.0h0M1307.3 385.7h0M1365.4 417.6h0M1361.1 440.3h0M1333.0 438.1h0M1377.7 432.0h0M1339.9 398.5h0M1321.6 447.9h0M1337.0 382.0h0M1311.9 396.2h0M1344.9 387.2h0M1357.3 393.3h0M1320.4 431.8h0M1285.0 416.6h0M1367.8 466.4h0M1368.5 448.4h0" stroke="#7daa4b" stroke-width="3.00" stroke-linecap="round" fill="none"/>
<path d="M1197.3 394.9h0M1207.4 408.5h0M1197.1 416.3h0M1199.5 398.1h0M1207.4 406.6h0M1198.8 408.7h0M1263.1 413.1h0M1173.1 422.9h0M1207.5 399.5h0M1158.7 429.7h0M1184.3 426.9h0M1180.6 434.5h0M1195.5 409.5h0M1208.7 397.2h0M1209.7 406.8h0M1160.3 435.9h0M1197.7 414.9h0M1197.3 422.5h0M1202.9 392.3h0M1172.7 416.8h0M1191.7 415.4h0M1170.7 413.8h0M1250.6 380.2h0M1216.0 395.1h0M1164.2 434.6h0M1212.4 400.4h0M1167.5 412.2h0M1202.5 385.7h0M1209.4 390.4h0M1201.5 399.4h0M1172.8 427.4h0M1171.0 422.8h0M1184.2 418.0h0M1176.5 419.2h0M1172.9 418.0h0M1172.3 423.3h0M1176.9 430.3h0M1196.5 387.5h0M1265.5 387.6h0M1208.8 402.0h0M1212.9 410.3h0M1207.5 386.3h0M1210.9 404.4h0M1178.3 420.8h0M1201.4 394.8h0M1300.3 409.3h0" stroke="#7f86c0" stroke-width="3.00" stroke-linecap="round" fill="none"/>
<path d="M1309.0 328.4h0M1316.9 331.5h0M1330.4 330.8h0M1333.4 312.9h0M1329.7 338.7h0M1333.6 318.2h0M1331.9 367.3h0M1344.0 326.8h0M1328.9 343.5h0M1318.3 335.8h0M1345.8 316.2h0M1311.6 366.0h0M1332.6 346.4h0M1331.1 339.7h0M1338.2 313.6h0M1351.3 334.2h0M1333.6 347.6h0M1318.8 328.6h0M1329.7 320.6h0M1323.1 321.7h0M1352.3 342.5h0M1321.9 316.9h0M1345.4 317.8h0M1272.0 348.9h0M1332.8 315.5h0M1313.7 328.1h0M1360.9 325.7h0M1339.2 344.8h0M1335.6 330.2h0M1318.1 329.6h0M1316.5 383.4h0M1314.9 336.5h0M1325.5 342.4h0M1334.8 347.5h0M1330.2 373.0h0M1332.6 353.1h0M1322.9 325.5h0M1347.6 334.2h0M1321.8 361.6h0M1333.0 396.5h0M1326.4 327.0h0M1350.9 334.5h0M1316.1 318.1h0M1344.1 350.1h0M1323.2 319.0h0M1327.7 361.7h0M1319.7 314.0h0M1355.7 338.1h0M1314.1 317.7h0M1353.1 342.0h0M1328.2 351.8h0M1349.3 323.1h0M1350.1 341.3h0M1339.7 333.9h0M1316.7 338.8h0M1328.8 350.8h0M1333.8 345.0h0M1344.3 307.1h0M1345.1 344.2h0M1322.9 358.4h0M1350.3 341.4h0M1329.1 315.6h0M1329.3 330.5h0M1284.2 360.4h0M1326.9 323.3h0M1333.1 315.5h0M1320.9 326.8h0M1334.3 314.5h0M1337.7 329.9h0M1333.3 315.3h0M1344.1 351.9h0M1331.8 319.3h0M1320.7 320.4h0M1323.9 325.2h0M1244.1 452.8h0M1334.5 354.8h0M1321.5 377.5h0M1314.2 321.5h0M1347.7 313.2h0M1346.4 335.5h0M1316.8 336.4h0M1319.4 332.7h0M1323.9 376.5h0M1326.7 319.4h0M1319.7 324.2h0M1342.3 330.5h0M1352.1 384.2h0M1323.1 337.3h0M1320.5 351.4h0M1348.8 327.4h0M1347.6 320.4h0M1331.4 359.2h0M1337.3 348.8h0M1326.2 332.6h0M1323.9 313.3h0M1339.2 348.2h0M1306.6 378.5h0M1325.9 391.4h0M1319.4 331.2h0M1280.3 346.4h0M1319.8 357.5h0M1343.9 377.1h0M1321.8 344.8h0M1346.0 352.1h0M1308.9 377.9h0M1341.9 361.2h0M1318.8 332.5h0M1341.8 348.8h0M1324.2 339.0h0M1320.3 313.2h0M1345.8 322.4h0M1347.5 338.6h0M1320.3 366.8h0M1315.6 373.3h0M1331.5 319.7h0M1338.2 313.9h0M1339.6 309.2h0M1319.4 319.1h0M1319.6 322.7h0M1310.0 378.8h0M1330.6 320.9h0M1349.5 341.5h0M1322.4 318.6h0M1322.9 319.1h0M1347.6 319.9h0M1348.2 347.0h0M1273.5 339.3h0M1340.4 310.3h0M1332.3 366.8h0M1335.5 346.1h0M1350.3 395.1h0M1339.3 357.0h0M1245.6 453.3h0M1317.2 343.8h0M1339.6 332.3h0M1318.4 334.6h0M1320.5 348.4h0M1347.1 328.7h0M1327.2 315.0h0M1330.6 365.7h0M1335.9 347.5h0M1320.7 348.9h0M1327.1 360.4h0M1322.8 313.3h0M1310.6 374.7h0M1314.2 344.6h0M1339.4 333.4h0M1350.6 309.3h0M1316.1 313.0h0M1344.4 319.5h0M1355.7 334.1h0M1349.4 347.5h0M1310.2 391.0h0M1310.2 389.5h0M1333.6 327.7h0M1332.6 345.8h0M1329.3 317.3h0M1354.8 332.2h0M1337.8 307.9h0M1323.6 356.1h0M1337.7 358.5h0M1299.2 371.5h0M1245.7 452.1h0M1321.2 320.4h0M1343.9 359.4h0M1344.7 336.7h0M1339.4 315.5h0M1321.2 394.5h0M1324.4 352.7h0M1316.8 322.5h0M1342.0 363.4h0M1337.5 309.7h0M1339.5 326.9h0M1350.8 330.8h0M1327.2 340.7h0M1338.4 314.7h0M1321.3 351.8h0M1318.0 378.5h0M1338.1 346.8h0M1323.6 377.3h0M1271.8 335.4h0M1304.4 359.3h0M1316.4 325.2h0M1320.4 326.4h0M1330.4 350.0h0M1345.1 320.0h0M1338.3 357.1h0M1354.4 330.8h0M1326.2 312.6h0M1347.6 328.5h0" stroke="#b872a8" stroke-width="3.00" stroke-linecap="round" fill="none"/>
<path d="M1296.8 314.8h0M1241.1 279.5h0M1298.1 291.5h0M1297.5 307.8h0M1270.3 320.8h0M1254.9 298.8h0M1263.4 284.2h0M1327.3 321.7h0M1250.4 276.8h0M1265.9 318.4h0M1289.0 320.0h0M1281.2 278.5h0M1257.0 267.9h0M1298.6 321.1h0M1292.9 313.1h0M1318.3 314.5h0M1310.8 323.6h0M1268.2 264.7h0M1259.1 291.5h0M1252.4 251.6h0M1329.9 318.7h0M1322.4 308.5h0M1259.9 274.3h0M1255.5 324.4h0M1326.8 322.6h0M1347.3 326.9h0M1261.9 325.2h0M1342.1 324.6h0M1314.9 317.7h0M1258.5 270.5h0M1279.4 277.7h0M1322.2 323.4h0M1336.3 338.7h0M1276.5 276.7h0M1257.3 308.4h0M1263.2 282.6h0M1273.8 274.3h0M1298.7 287.7h0M1297.7 310.4h0M1264.6 317.8h0M1298.9 295.5h0M1264.0 307.6h0M1325.2 307.8h0M1253.3 256.8h0M1262.9 313.2h0M1256.3 261.9h0M1309.3 321.3h0M1277.5 327.4h0M1275.7 319.3h0M1308.1 291.8h0M1318.3 313.1h0M1266.0 260.6h0M1300.1 311.5h0M1293.9 318.4h0M1256.8 254.8h0M1301.1 314.9h0M1294.4 294.8h0M1266.3 319.5h0M1295.0 325.6h0M1316.4 312.6h0M1320.1 327.1h0M1323.7 317.3h0M1311.6 317.2h0M1265.6 279.0h0M1258.1 299.4h0M1263.3 287.2h0M1276.6 280.5h0M1269.4 324.3h0M1339.8 340.7h0M1310.2 307.1h0M1311.9 292.9h0M1313.9 297.6h0M1285.6 320.3h0M1285.0 302.0h0M1257.9 286.5h0M1319.7 314.9h0M1260.5 316.7h0M1303.7 327.3h0M1275.2 300.3h0M1257.2 291.0h0M1252.1 275.2h0M1332.4 333.1h0M1261.9 266.0h0M1324.2 318.7h0M1297.1 314.8h0M1304.1 309.0h0M1276.6 319.1h0M1255.0 264.8h0M1321.9 307.3h0M1253.5 275.9h0M1336.4 327.6h0M1328.3 316.0h0M1258.2 287.4h0M1321.2 322.0h0M1315.6 329.4h0M1311.2 295.7h0M1254.3 286.8h0M1326.6 324.5h0M1270.4 310.3h0M1298.6 336.3h0M1323.4 314.0h0M1263.9 277.6h0M1334.0 314.4h0M1325.7 316.8h0M1266.2 318.7h0M1268.2 308.8h0M1269.1 274.2h0M1291.3 281.8h0M1305.0 306.3h0M1260.7 311.1h0M1321.3 328.4h0M1252.5 257.0h0M1261.0 289.4h0M1296.2 305.0h0M1258.8 298.4h0M1289.8 316.3h0M1334.3 316.1h0M1261.9 279.8h0M1262.2 304.1h0M1335.2 312.4h0M1270.7 260.6h0M1297.6 295.5h0M1270.5 292.3h0M1266.5 278.8h0M1278.2 273.8h0M1278.7 297.3h0M1276.5 285.2h0M1286.2 305.6h0M1330.4 320.4h0M1289.0 320.8h0M1283.1 287.6h0M1268.2 291.0h0M1292.5 298.7h0M1302.0 307.2h0M1267.3 289.7h0M1261.0 277.3h0M1301.6 290.2h0M1275.7 320.1h0M1309.2 290.3h0M1300.5 299.6h0M1271.2 278.9h0M1290.5 327.3h0M1270.9 278.9h0M1292.9 288.5h0M1285.1 319.5h0M1321.7 318.5h0M1254.8 270.2h0M1311.8 320.4h0M1281.6 283.7h0M1278.6 310.4h0M1289.7 312.0h0M1300.6 294.9h0M1252.5 257.5h0M1330.5 319.0h0M1248.1 265.1h0M1295.0 303.7h0M1282.3 286.7h0M1311.5 324.6h0M1264.6 281.8h0M1330.9 344.1h0" stroke="#14a877" stroke-width="3.00" stroke-linecap="round" fill="none"/>
<path d="M1593.4 357.0h0M1599.7 365.2h0M1619.9 367.1h0M1590.7 356.5h0M1608.6 374.7h0M1623.0 352.5h0M1598.1 367.2h0M1602.0 374.5h0M1613.0 367.2h0M1600.5 368.9h0M1603.9 365.0h0M1610.3 377.8h0M1601.0 346.1h0M1598.3 371.7h0M1609.5 381.6h0M1596.8 367.6h0M1600.7 359.2h0M1626.0 363.0h0M1593.8 350.8h0M1615.0 358.5h0M1614.1 359.1h0M1607.0 342.4h0M1618.6 368.1h0M1596.3 358.7h0M1606.0 377.4h0M1593.6 369.3h0M1598.3 366.5h0M1624.9 354.2h0M1591.9 357.2h0M1615.5 356.9h0M1614.9 382.7h0M1600.0 353.4h0M1610.5 361.7h0M1603.2 352.6h0M1595.5 372.2h0M1595.2 360.6h0M1596.1 366.5h0M1618.8 382.1h0M1621.7 346.8h0M1613.3 379.2h0M1618.0 365.0h0M1618.3 356.8h0M1617.1 372.2h0M1616.2 369.0h0M1604.0 358.5h0M1618.2 351.2h0" stroke="#18a4dc" stroke-width="3.00" stroke-linecap="round" fill="none"/>
<path d="M1258.7 510.2h0M1269.0 511.6h0M1242.6 479.5h0M1247.1 473.1h0M1247.2 497.9h0M1302.1 436.5h0M1273.1 356.0h0M1348.0 403.4h0M1266.1 490.8h0M1251.8 482.1h0M1271.4 295.0h0M1244.5 477.5h0M1266.3 286.1h0M1301.2 345.3h0M1261.5 293.6h0M1259.2 288.3h0M1263.8 297.1h0M1242.8 486.3h0M1369.4 425.3h0M1264.1 291.6h0M1255.6 485.9h0M1250.0 477.3h0M1256.3 491.6h0M1268.9 360.7h0M1246.0 502.9h0M1383.0 408.8h0M1238.8 483.0h0M1246.7 498.6h0M1264.9 510.3h0M1263.1 306.6h0M1261.4 495.6h0M1263.6 298.8h0M1265.6 287.5h0M1261.7 294.2h0M1245.1 479.0h0M1257.6 503.3h0M1261.9 308.9h0M1357.8 439.8h0M1252.1 472.8h0M1266.7 298.8h0M1382.7 413.6h0M1253.5 499.8h0M1261.2 495.5h0M1272.4 294.5h0M1272.1 302.1h0M1263.0 292.9h0M1251.8 478.2h0M1271.7 348.2h0M1245.0 468.9h0M1271.3 300.4h0M1264.8 507.2h0M1258.8 496.1h0M1242.9 489.9h0M1273.0 291.1h0M1361.6 390.5h0M1254.4 504.3h0M1243.2 499.3h0M1268.3 300.9h0M1252.7 471.4h0M1265.8 287.5h0M1245.8 474.5h0M1246.6 485.6h0M1259.5 303.4h0M1275.8 295.1h0M1263.3 297.6h0M1269.0 301.1h0M1269.6 285.4h0M1318.3 444.7h0M1264.3 299.7h0M1246.4 498.7h0M1255.5 507.3h0M1257.6 478.6h0M1253.5 495.4h0M1262.2 512.9h0M1275.7 296.0h0M1268.7 300.9h0M1270.5 300.9h0M1266.5 285.4h0M1264.2 305.7h0M1247.6 472.4h0M1259.3 502.2h0M1244.7 492.4h0M1264.4 297.0h0M1271.1 302.7h0M1263.3 487.6h0M1262.0 301.7h0M1253.3 498.3h0M1263.4 511.6h0M1270.4 285.8h0M1258.1 485.8h0M1337.1 432.3h0M1249.2 468.5h0M1272.0 293.3h0M1268.8 289.1h0M1267.6 490.1h0M1244.4 486.3h0" stroke="#ec8b2e" stroke-width="3.00" stroke-linecap="round" fill="none"/>
<path d="M1366.1 252.0h0M1321.2 279.9h0M1368.9 252.1h0M1352.0 259.0h0M1345.2 268.9h0M1354.2 299.1h0M1339.3 268.2h0M1359.9 308.4h0M1359.1 293.4h0M1333.5 257.6h0M1367.0 251.1h0M1322.8 277.5h0M1351.5 308.2h0M1340.2 304.7h0M1307.7 292.0h0M1349.9 286.4h0M1345.2 305.8h0M1341.6 264.9h0M1344.6 298.2h0M1347.9 262.6h0M1365.6 259.2h0M1358.6 314.6h0M1348.3 252.2h0M1363.8 274.5h0M1368.6 271.4h0M1358.1 234.4h0M1362.4 289.2h0M1369.4 224.5h0M1374.1 218.7h0M1373.5 207.8h0M1357.8 267.0h0M1336.8 268.1h0M1363.4 261.6h0M1351.8 273.3h0M1370.8 220.7h0M1346.4 256.4h0M1357.0 256.5h0M1338.5 311.7h0M1342.8 291.0h0M1366.3 224.2h0M1359.6 262.2h0M1360.5 229.7h0M1323.4 296.8h0M1351.7 307.0h0M1309.8 270.7h0M1365.8 276.6h0M1313.2 298.2h0M1364.3 228.5h0M1350.5 310.8h0M1353.9 309.4h0M1348.2 261.9h0M1359.1 253.3h0M1356.7 290.7h0M1367.2 288.8h0M1350.9 251.3h0M1337.7 310.6h0M1327.5 287.1h0M1330.0 259.4h0M1350.2 307.4h0M1352.0 288.9h0M1360.2 265.3h0M1364.5 221.2h0M1349.3 310.2h0M1362.4 257.8h0M1350.8 308.8h0M1367.4 298.8h0M1362.9 254.7h0M1351.5 307.8h0M1359.5 258.7h0M1349.4 252.9h0M1357.9 254.6h0M1359.3 252.6h0M1351.9 274.6h0M1365.9 266.5h0M1360.5 227.5h0M1313.4 283.8h0M1343.0 313.4h0M1367.1 294.6h0M1365.8 275.1h0M1348.7 301.6h0M1346.5 312.3h0M1362.2 257.7h0M1367.7 298.9h0M1339.3 300.4h0M1372.4 224.3h0M1376.4 211.5h0M1373.0 236.1h0M1343.7 303.1h0M1359.3 238.1h0M1341.0 267.9h0M1359.3 244.8h0M1366.5 264.4h0M1314.8 299.4h0M1368.2 220.7h0M1366.4 279.2h0M1364.7 284.8h0M1341.0 262.9h0M1351.1 261.4h0M1356.5 252.3h0M1340.0 264.1h0M1329.9 257.9h0M1367.0 271.0h0M1359.9 298.2h0M1366.3 230.5h0M1366.3 238.7h0" stroke="#ada037" stroke-width="3.00" stroke-linecap="round" fill="none"/>
<path d="M1215.4 479.9h0M1212.0 463.7h0M1241.3 470.3h0M1214.6 462.3h0M1242.2 467.0h0M1244.2 451.2h0M1235.9 449.4h0M1230.0 466.7h0M1237.1 482.8h0M1215.4 461.9h0M1221.3 464.2h0M1241.1 464.8h0M1213.4 461.1h0M1215.8 463.2h0M1228.8 460.7h0M1236.8 458.8h0M1237.5 491.2h0M1223.9 446.6h0M1221.0 458.8h0M1211.0 472.8h0M1236.0 461.9h0M1246.0 464.9h0M1225.2 470.9h0M1213.0 473.3h0M1233.1 484.4h0M1227.7 465.2h0M1206.1 472.2h0M1211.6 473.0h0M1231.8 460.3h0M1240.1 452.3h0M1216.6 473.8h0M1212.6 454.6h0M1221.2 484.7h0M1218.7 480.0h0M1217.6 457.9h0M1224.5 453.3h0M1220.3 481.6h0M1229.5 478.8h0M1218.5 448.0h0M1214.2 454.2h0" stroke="#4792ce" stroke-width="3.00" stroke-linecap="round" fill="none"/>
<path d="M1344.4 471.4h0M1351.2 473.3h0M1347.0 464.3h0M1341.8 472.2h0M1347.4 481.5h0M1354.6 482.4h0M1346.3 468.3h0M1346.8 474.3h0M1350.0 485.9h0M1359.4 479.1h0M1359.2 473.0h0M1351.3 472.8h0M1342.4 476.4h0M1357.0 486.6h0M1359.6 483.7h0M1340.1 467.8h0" stroke="#e8638f" stroke-width="3.00" stroke-linecap="round" fill="none"/>
<path d="M1253.4 335.7h0M1250.6 383.4h0M1286.3 391.1h0M1246.3 329.3h0M1238.0 394.6h0M1216.9 393.1h0M1231.7 363.0h0M1230.6 387.4h0M1237.1 389.2h0M1231.4 385.2h0M1232.6 365.4h0M1227.4 373.5h0M1283.6 399.3h0M1241.7 350.1h0M1250.6 322.8h0M1255.5 331.6h0M1232.7 331.2h0M1241.2 339.5h0M1237.8 325.2h0M1235.1 330.1h0M1226.6 346.3h0M1227.5 384.0h0M1233.3 395.5h0M1235.8 350.4h0M1243.0 341.5h0M1247.4 348.1h0M1227.0 348.8h0M1255.2 350.4h0M1235.1 389.8h0M1236.8 380.1h0M1245.0 325.9h0M1226.9 348.1h0M1246.2 360.4h0M1214.7 380.0h0M1303.0 395.7h0M1227.2 371.7h0M1248.2 372.3h0M1219.6 362.8h0M1228.8 345.1h0M1245.7 365.3h0M1245.9 399.0h0M1231.5 373.4h0M1245.8 386.8h0M1247.5 361.5h0M1239.1 349.7h0M1305.2 357.1h0M1240.5 349.5h0M1232.4 358.8h0M1229.4 388.0h0M1236.7 355.5h0M1230.7 356.2h0M1233.6 378.3h0M1254.3 349.9h0M1247.2 355.2h0M1242.9 380.5h0M1241.7 353.5h0M1240.4 336.9h0M1280.7 361.3h0M1241.1 333.3h0M1247.0 344.6h0M1240.1 364.5h0M1252.5 366.9h0M1298.3 328.8h0M1236.7 395.9h0M1219.5 363.0h0M1236.9 369.6h0M1251.9 380.5h0M1229.8 356.9h0M1247.4 334.0h0M1231.8 343.9h0M1244.4 401.7h0M1264.9 409.7h0M1249.5 344.0h0M1230.7 352.5h0M1248.3 319.5h0M1239.6 366.2h0M1248.9 367.6h0M1219.0 381.6h0M1232.7 396.9h0M1292.5 407.3h0M1224.8 364.0h0M1249.8 383.5h0M1226.0 369.7h0M1242.1 377.9h0M1238.6 395.2h0M1254.0 371.3h0M1251.0 351.2h0M1250.7 369.1h0M1244.9 339.1h0M1246.0 387.9h0M1226.6 367.4h0M1269.9 348.6h0M1269.1 328.0h0M1310.6 373.0h0M1241.1 340.3h0M1247.9 380.7h0M1250.6 374.5h0M1248.0 372.1h0M1241.8 395.3h0M1224.0 379.6h0M1299.3 340.6h0M1221.8 382.1h0M1219.4 349.8h0M1232.6 341.9h0M1220.6 368.4h0M1245.9 340.4h0M1234.3 330.0h0M1225.1 381.5h0M1219.0 389.4h0M1306.2 340.1h0M1271.3 393.9h0M1252.4 375.9h0M1223.6 394.6h0M1331.8 381.8h0M1228.6 364.6h0M1247.1 389.5h0M1234.3 382.4h0M1230.9 379.5h0M1232.5 383.3h0M1230.5 364.5h0M1228.9 363.3h0M1233.6 347.9h0M1248.6 322.2h0M1243.7 334.4h0M1245.4 389.4h0M1247.1 371.3h0M1218.0 398.7h0M1224.9 388.0h0M1226.7 342.9h0M1248.7 375.0h0M1281.4 403.3h0M1238.8 340.7h0M1243.7 351.4h0M1247.4 372.5h0M1305.2 364.3h0M1242.8 321.4h0M1241.1 367.8h0M1224.0 350.5h0M1251.6 337.0h0M1245.4 361.5h0M1234.4 383.0h0M1298.8 360.6h0M1231.0 348.5h0M1258.5 373.8h0M1245.6 340.2h0M1257.7 384.7h0M1222.3 365.7h0M1243.0 340.5h0M1233.0 368.7h0M1300.8 343.1h0M1239.2 399.3h0M1220.3 352.0h0M1241.7 341.0h0M1235.1 391.5h0M1247.7 368.7h0M1272.7 360.1h0M1239.6 343.5h0M1241.1 340.6h0M1265.5 373.7h0M1223.9 399.0h0M1247.8 337.7h0M1225.0 387.0h0" stroke="#0fb3cc" stroke-width="3.00" stroke-linecap="round" fill="none"/>
<path d="M1363.3 51.5h0M1363.5 47.7h0M1370.3 61.3h0M1362.4 54.0h0M1364.6 47.5h0" stroke="#9b77ac" stroke-width="3.00" stroke-linecap="round" fill="none"/>
<path d="M1293.2 431.0h0M1274.7 394.8h0M1280.4 403.8h0M1303.6 417.3h0M1256.7 389.0h0M1242.0 381.5h0M1278.9 407.5h0M1299.1 386.4h0M1278.3 372.9h0M1273.3 378.8h0M1273.0 366.4h0M1245.4 377.1h0M1278.2 417.6h0M1295.0 317.6h0M1243.0 398.9h0M1258.3 393.8h0M1271.5 411.3h0M1303.0 412.4h0M1287.9 429.0h0M1308.4 395.8h0M1301.2 426.5h0M1299.8 399.5h0M1323.3 350.9h0M1293.7 400.7h0M1289.0 381.3h0M1344.2 467.6h0M1289.9 374.3h0M1315.7 385.1h0M1341.9 325.8h0M1342.4 328.5h0M1297.6 377.9h0M1245.4 447.6h0M1289.8 418.0h0M1303.6 342.7h0M1318.6 371.6h0M1273.6 408.5h0M1302.4 407.0h0M1276.9 372.4h0M1273.1 404.4h0M1270.9 378.6h0M1288.8 421.3h0M1271.5 405.6h0M1249.1 454.5h0M1281.2 332.3h0M1287.5 419.1h0M1271.7 390.6h0M1352.1 453.3h0M1334.3 366.0h0M1285.0 373.4h0M1289.6 386.5h0M1307.1 373.0h0M1294.2 412.4h0M1312.7 385.9h0M1317.3 387.5h0M1317.8 371.3h0M1352.0 422.1h0M1248.8 381.4h0M1349.6 391.7h0M1284.3 371.2h0M1254.6 408.4h0M1327.7 379.4h0M1277.8 386.7h0M1281.8 434.4h0M1287.0 380.3h0M1246.9 389.7h0M1270.4 398.4h0M1296.1 396.9h0M1299.4 404.6h0M1258.6 412.8h0M1348.1 330.4h0M1322.6 355.9h0M1296.0 424.1h0M1379.7 406.7h0M1304.0 408.7h0M1274.9 425.4h0M1299.7 323.9h0M1336.0 352.6h0M1306.2 383.5h0M1307.6 436.8h0M1339.0 330.3h0M1278.8 326.3h0M1281.6 370.2h0M1312.9 383.1h0M1338.4 327.0h0M1336.5 357.7h0M1277.4 379.1h0M1251.9 454.5h0M1335.1 333.6h0M1266.4 391.3h0M1300.2 434.3h0M1288.7 415.0h0M1249.2 397.3h0M1266.9 401.5h0M1284.0 354.9h0M1302.3 440.1h0M1295.0 415.6h0M1251.9 395.6h0M1243.4 382.8h0M1341.6 333.6h0M1269.0 367.6h0M1308.0 389.7h0M1255.3 374.1h0M1297.2 415.5h0M1333.2 339.1h0M1243.9 385.0h0M1321.8 376.9h0M1362.0 420.7h0M1333.5 416.2h0M1242.7 447.6h0M1302.2 421.6h0M1323.5 443.7h0M1276.9 378.2h0M1286.1 372.3h0M1306.4 434.3h0M1277.3 396.5h0M1299.9 347.3h0M1264.5 355.8h0M1304.8 401.4h0M1322.2 340.2h0M1260.4 396.6h0M1259.2 367.1h0M1260.5 392.2h0M1303.2 416.5h0M1285.7 386.8h0M1246.6 399.7h0M1283.8 388.5h0M1250.4 405.1h0M1282.3 328.4h0M1247.1 388.8h0M1286.7 392.6h0M1282.7 373.8h0M1303.3 433.4h0M1307.7 433.2h0M1239.4 379.2h0M1237.8 386.5h0M1315.1 370.2h0M1326.6 460.8h0M1273.2 418.5h0M1311.2 378.0h0M1238.3 390.7h0M1320.8 380.3h0M1291.5 352.8h0M1349.1 335.1h0M1300.5 384.5h0M1284.7 425.2h0M1327.4 396.3h0M1306.2 406.8h0M1232.0 401.3h0M1327.0 414.5h0M1266.9 385.9h0M1299.7 397.0h0M1283.5 432.7h0M1331.2 383.8h0M1246.5 449.7h0M1328.5 457.5h0M1246.0 453.9h0M1249.1 396.2h0M1351.5 327.1h0M1251.6 384.4h0M1260.6 378.6h0M1329.5 334.2h0M1291.9 370.9h0M1339.7 404.7h0M1290.9 419.2h0M1273.2 374.5h0M1291.2 391.6h0M1310.8 429.2h0M1296.1 399.8h0M1306.5 403.3h0M1287.4 427.9h0M1336.2 403.5h0M1276.2 403.0h0M1279.1 330.0h0M1283.8 384.8h0M1248.0 374.5h0M1308.8 407.1h0M1323.9 399.3h0M1279.8 367.7h0M1291.6 407.5h0M1310.5 394.5h0M1280.5 376.6h0M1266.9 387.8h0M1351.4 329.4h0M1313.6 366.5h0M1285.0 378.0h0M1304.9 362.5h0M1296.8 418.6h0M1281.8 426.3h0M1353.9 436.0h0M1349.0 392.3h0M1294.3 370.0h0M1292.5 366.6h0M1268.0 368.3h0M1340.9 325.7h0M1247.9 396.1h0M1324.1 386.7h0M1241.4 382.5h0M1325.2 351.2h0M1300.6 379.7h0M1299.1 417.8h0M1366.2 478.3h0M1303.5 376.8h0M1294.0 392.1h0M1324.1 352.7h0M1251.1 384.8h0M1302.5 415.8h0M1258.7 368.3h0M1260.7 409.6h0M1347.3 422.4h0M1271.2 399.6h0M1252.5 379.5h0" stroke="#e26ba6" stroke-width="3.00" stroke-linecap="round" fill="none"/>
<path d="M1360.5 373.9h0M1375.9 398.4h0M1359.0 431.8h0M1317.8 264.9h0M1375.9 336.2h0M1377.3 302.2h0M1338.2 325.8h0M1379.0 373.7h0M1399.9 412.9h0M1384.0 413.6h0M1338.8 424.0h0M1374.4 295.3h0M1384.5 326.3h0M1362.1 317.2h0M1333.8 349.2h0M1331.7 337.2h0M1401.4 422.1h0M1388.2 343.9h0M1330.8 354.9h0M1356.1 356.0h0M1366.7 365.8h0M1390.0 391.5h0M1330.5 348.4h0M1371.8 354.8h0M1373.3 353.7h0M1351.7 346.2h0M1356.6 331.0h0M1369.8 354.6h0M1383.4 365.3h0M1271.6 335.3h0M1386.7 357.8h0M1380.6 376.5h0M1360.3 339.1h0M1366.7 298.1h0M1354.9 351.9h0M1356.7 349.5h0M1392.1 410.0h0M1390.9 407.7h0M1329.9 319.6h0M1315.0 296.5h0M1380.6 352.9h0M1339.0 332.6h0M1383.9 335.6h0M1312.9 276.0h0M1365.8 334.3h0M1365.0 332.8h0M1379.8 404.5h0M1359.4 337.6h0M1357.3 332.2h0M1371.4 363.5h0M1327.3 382.7h0M1394.2 411.7h0M1352.3 316.0h0M1361.6 297.9h0M1371.8 347.5h0M1354.9 355.2h0M1363.2 318.4h0M1355.0 347.3h0M1369.6 381.7h0M1330.4 349.9h0M1364.2 330.9h0M1356.9 375.5h0M1388.0 394.8h0M1361.1 463.0h0M1371.9 387.7h0M1376.1 352.8h0M1375.8 290.6h0M1361.2 341.8h0M1387.2 400.6h0M1375.2 394.3h0M1350.9 351.8h0M1388.2 411.6h0M1376.8 384.5h0M1356.3 363.4h0M1363.0 335.1h0M1349.5 360.5h0M1373.8 398.9h0M1367.1 374.0h0M1370.1 378.7h0M1353.7 429.7h0M1378.6 366.9h0M1347.8 324.8h0M1308.0 299.2h0M1386.4 372.0h0M1385.3 404.8h0M1327.9 330.5h0M1358.1 317.6h0M1331.4 323.6h0M1385.3 385.9h0M1342.5 361.7h0M1362.4 301.0h0M1387.1 345.3h0M1333.8 349.0h0M1370.9 288.9h0M1404.8 421.8h0M1351.9 360.5h0M1378.4 321.9h0M1363.9 326.8h0M1381.5 317.4h0M1376.9 299.5h0M1380.7 300.8h0M1351.8 378.4h0M1357.9 290.7h0M1347.4 342.2h0M1386.7 418.4h0M1350.4 350.3h0M1357.1 370.1h0M1380.9 320.6h0M1380.2 298.5h0M1363.3 361.8h0M1376.9 287.1h0M1380.1 390.6h0M1350.4 314.3h0M1385.5 357.3h0M1371.7 288.5h0M1362.8 371.1h0M1344.6 357.5h0M1299.0 361.7h0M1332.3 313.0h0M1325.5 433.2h0M1370.2 330.1h0M1360.1 327.7h0M1373.1 395.8h0M1378.6 363.7h0M1387.6 365.0h0M1360.2 306.6h0M1287.0 358.3h0M1369.1 371.5h0M1394.8 403.1h0M1373.9 356.2h0M1387.5 338.3h0M1298.1 347.2h0M1389.3 420.3h0M1366.2 310.8h0M1363.8 357.7h0M1356.8 461.8h0M1306.8 376.1h0M1362.3 319.7h0M1358.3 298.2h0M1327.6 329.6h0M1374.3 370.2h0M1352.3 333.5h0M1346.0 326.8h0M1351.1 354.3h0M1375.0 436.0h0M1347.9 348.7h0M1362.4 386.2h0M1378.4 337.0h0M1378.0 334.1h0M1353.9 349.0h0M1362.1 301.0h0M1350.4 352.4h0M1384.9 371.8h0M1368.5 310.5h0M1387.5 406.2h0M1396.1 415.1h0M1382.0 324.8h0M1370.3 307.3h0M1346.3 323.5h0M1371.2 321.9h0M1391.6 387.2h0M1393.0 378.1h0M1383.0 323.7h0M1361.4 433.0h0M1384.1 369.2h0M1384.9 340.4h0M1365.9 397.9h0M1364.9 382.0h0M1352.2 368.3h0M1360.3 339.8h0M1357.8 355.5h0M1362.0 356.5h0M1357.5 308.0h0M1377.1 297.9h0M1366.6 382.3h0M1370.5 295.7h0M1358.9 338.8h0M1358.8 412.8h0M1377.7 285.0h0M1393.6 421.5h0M1368.9 397.9h0M1374.7 284.8h0M1373.1 360.5h0M1335.0 352.0h0M1377.6 388.9h0M1387.8 358.3h0M1381.7 408.3h0M1367.4 322.8h0M1360.8 350.4h0M1336.3 348.3h0M1346.4 408.7h0M1365.6 350.4h0M1317.9 432.4h0M1362.2 326.3h0M1330.7 321.2h0M1371.7 346.2h0M1386.5 336.1h0M1402.7 431.4h0M1383.7 320.6h0M1351.5 360.7h0M1367.3 372.2h0M1380.3 354.0h0M1334.0 326.1h0M1362.1 299.4h0M1351.8 363.0h0M1364.2 333.8h0M1376.0 366.3h0M1371.7 292.4h0M1382.7 329.1h0M1376.6 307.2h0M1382.0 304.2h0M1325.7 293.5h0M1349.1 338.8h0M1388.3 356.8h0M1339.3 387.5h0M1320.7 355.0h0M1370.5 306.8h0M1384.3 348.4h0M1316.6 301.8h0M1379.4 295.8h0M1341.9 336.1h0M1371.9 332.8h0M1380.0 324.6h0M1380.2 297.4h0M1370.9 309.6h0M1368.3 387.2h0M1380.1 316.9h0M1370.5 355.3h0M1352.0 323.2h0M1397.8 428.9h0M1388.9 407.0h0M1352.1 329.5h0M1376.8 396.9h0M1362.0 329.8h0M1350.4 363.5h0M1386.8 412.7h0M1372.2 343.8h0M1340.8 337.1h0M1333.9 349.9h0M1367.8 334.7h0M1334.3 350.8h0" stroke="#12a99b" stroke-width="3.00" stroke-linecap="round" fill="none"/>
<path d="M1370.9 43.8h0M1375.6 47.1h0M1365.3 63.3h0M1371.1 53.8h0M1365.6 46.3h0M1366.7 52.9h0M1363.2 65.5h0M1371.9 43.9h0M1370.5 60.6h0M1363.3 49.9h0M1373.6 59.1h0M1368.2 60.6h0M1374.3 49.4h0M1364.3 53.9h0M1368.5 52.1h0M1371.8 54.4h0M1372.7 54.7h0M1370.3 59.1h0M1367.6 60.4h0M1366.1 62.5h0" stroke="#9b77ac" stroke-width="3.00" stroke-linecap="round" fill="none"/>
<path d="M1254.5 257.3h0M1280.5 293.2h0M1309.5 325.8h0M1268.1 282.4h0M1258.0 269.2h0M1275.4 301.6h0M1304.9 292.0h0M1251.4 269.0h0M1265.8 278.7h0M1274.6 268.5h0M1252.7 278.5h0M1276.8 281.6h0M1284.1 289.4h0M1323.5 335.1h0M1298.2 288.8h0M1259.7 297.7h0M1306.8 291.3h0M1272.8 309.5h0M1248.6 260.6h0M1317.7 325.3h0M1286.2 310.3h0M1318.9 299.2h0M1289.2 305.9h0M1250.3 290.3h0M1266.0 319.1h0M1321.1 315.5h0M1263.2 266.1h0M1322.7 326.8h0M1254.7 272.8h0M1263.8 301.5h0M1281.2 312.7h0M1295.4 288.2h0M1287.0 322.6h0M1305.6 327.4h0M1289.1 285.5h0M1260.9 305.4h0M1333.4 313.0h0M1324.2 317.3h0M1302.5 297.6h0M1265.7 270.3h0M1350.6 346.6h0M1246.7 278.1h0M1301.8 321.8h0M1255.2 268.5h0M1282.1 319.5h0M1273.6 322.7h0M1304.3 308.6h0M1336.5 334.5h0M1290.1 282.2h0M1260.6 263.8h0M1313.8 303.7h0M1283.9 281.8h0M1253.5 288.8h0M1260.3 273.4h0M1304.7 322.2h0M1285.6 328.9h0M1268.0 282.5h0M1260.9 262.0h0M1258.0 301.3h0M1257.7 289.1h0M1275.2 319.8h0M1258.0 254.6h0M1254.6 284.7h0M1291.2 323.0h0M1317.1 309.6h0M1295.6 300.8h0M1249.8 274.7h0M1279.6 272.6h0M1282.0 327.4h0M1265.0 304.7h0M1325.8 316.2h0M1329.7 323.4h0M1278.4 278.4h0M1301.0 288.0h0M1292.8 297.2h0M1285.6 281.5h0M1282.6 315.1h0M1255.1 288.6h0M1260.8 292.0h0M1281.6 294.0h0M1316.0 323.7h0M1257.7 307.6h0M1284.8 308.0h0M1318.4 308.6h0M1300.3 311.0h0M1260.6 315.3h0M1279.1 317.7h0M1312.4 326.6h0M1301.6 298.1h0M1300.9 306.7h0M1265.3 267.0h0M1292.6 321.6h0M1310.8 310.1h0M1287.2 323.1h0M1262.8 283.7h0M1296.2 314.5h0M1294.5 324.8h0M1336.9 311.2h0M1347.5 331.1h0M1285.7 308.6h0M1303.1 297.0h0M1332.2 319.9h0M1276.0 273.9h0M1273.8 316.8h0M1266.6 291.8h0M1261.6 291.6h0M1258.4 287.8h0M1267.6 306.0h0M1266.2 319.4h0M1260.6 266.8h0M1292.9 298.6h0M1340.1 325.6h0M1275.9 302.2h0M1273.0 290.1h0M1337.5 345.5h0M1326.6 329.4h0M1247.7 269.7h0M1297.4 289.5h0M1268.3 303.1h0M1300.1 323.8h0M1285.8 306.3h0M1317.0 325.7h0M1270.4 284.5h0M1243.5 283.2h0M1304.3 302.8h0M1275.2 268.9h0M1260.5 306.7h0M1306.9 293.7h0M1271.3 300.8h0M1255.0 251.2h0M1260.4 293.2h0M1269.2 319.9h0M1287.4 312.4h0M1299.4 315.6h0M1263.5 285.8h0M1327.5 322.8h0M1297.1 309.7h0M1274.6 320.0h0M1308.6 323.7h0M1282.3 306.8h0M1267.6 299.7h0M1289.2 301.5h0M1301.1 291.6h0M1337.6 314.6h0M1331.9 326.8h0M1257.6 267.2h0" stroke="#14a877" stroke-width="3.00" stroke-linecap="round" fill="none"/>
<path d="M1368.1 400.2h0M1312.1 412.9h0M1309.7 439.7h0M1303.8 411.1h0M1322.6 435.7h0M1306.2 432.2h0M1363.8 398.9h0M1346.0 388.0h0M1321.8 420.6h0M1307.9 437.4h0M1346.2 388.4h0M1375.4 400.0h0M1386.5 431.2h0M1354.8 403.1h0M1345.1 456.3h0M1369.9 490.2h0M1350.3 380.2h0M1341.6 387.5h0M1348.4 388.0h0M1315.5 446.5h0M1347.8 437.4h0M1363.3 432.1h0M1344.0 385.6h0M1309.1 406.0h0M1325.9 398.1h0M1374.8 446.3h0M1323.8 389.0h0M1367.1 439.1h0M1306.5 424.4h0M1343.8 431.2h0M1310.7 399.6h0M1314.1 369.5h0M1341.1 385.3h0M1393.3 430.3h0M1365.4 436.1h0M1349.0 427.9h0M1324.0 405.8h0M1368.0 398.8h0M1306.8 395.8h0M1328.8 454.9h0M1328.1 392.2h0M1358.7 414.0h0M1367.5 449.2h0M1388.3 420.4h0M1336.3 444.7h0M1357.9 417.6h0M1378.5 410.8h0M1336.9 380.2h0M1305.3 422.1h0M1375.5 453.6h0M1322.1 449.0h0M1298.7 414.6h0M1362.3 400.6h0M1347.1 375.0h0M1336.5 427.7h0M1349.3 417.0h0M1329.1 457.3h0M1342.4 385.8h0M1354.7 416.2h0M1373.1 422.6h0M1358.0 384.0h0M1307.8 390.9h0M1343.3 439.5h0M1318.0 386.9h0M1334.8 443.6h0M1330.4 400.3h0M1357.3 399.5h0M1317.2 447.9h0M1384.4 450.1h0M1369.7 446.4h0M1349.2 386.3h0M1321.0 379.3h0M1373.3 410.5h0M1331.8 449.5h0M1329.6 402.2h0M1373.9 453.1h0M1317.8 391.4h0M1368.8 448.7h0M1315.8 393.0h0M1307.6 418.1h0M1375.4 394.0h0M1342.7 417.5h0M1302.5 407.0h0M1358.6 474.4h0M1373.4 396.8h0M1364.1 410.0h0M1343.1 463.4h0M1355.2 407.2h0M1335.9 392.7h0M1359.5 394.6h0M1363.7 432.0h0M1308.2 416.4h0M1310.2 439.6h0M1334.9 407.6h0M1371.6 416.1h0M1360.4 444.6h0M1310.5 376.4h0M1371.6 426.2h0M1319.8 415.9h0M1342.6 378.6h0M1377.2 395.1h0M1345.9 404.3h0M1346.0 372.8h0M1377.2 431.3h0M1352.8 452.2h0M1357.7 378.1h0M1345.1 375.1h0M1379.0 452.8h0M1376.3 407.1h0M1348.4 408.2h0M1382.2 411.9h0M1349.6 412.9h0M1315.7 412.7h0M1302.3 399.5h0M1306.5 424.9h0M1299.0 420.2h0M1360.3 421.0h0M1322.5 451.2h0M1349.3 446.8h0M1314.0 390.3h0M1298.6 419.1h0M1334.8 386.8h0M1343.4 380.4h0M1375.4 444.4h0M1350.0 399.2h0M1385.1 440.0h0M1377.5 391.5h0M1363.8 430.1h0M1389.3 410.1h0M1311.5 385.0h0M1299.2 412.7h0M1361.5 459.0h0M1344.2 421.6h0M1388.8 427.4h0M1387.7 422.1h0M1314.1 437.2h0M1327.3 427.0h0M1341.1 401.2h0M1363.3 460.7h0M1294.6 414.4h0M1370.5 441.2h0M1362.2 450.6h0M1378.9 421.8h0M1313.6 420.5h0M1334.5 419.0h0M1344.8 396.6h0M1379.0 443.3h0M1391.5 436.3h0M1307.4 380.4h0M1343.1 400.5h0M1336.1 392.3h0M1386.8 418.2h0M1372.0 449.4h0M1333.0 444.1h0M1321.1 437.2h0M1335.1 385.5h0M1364.0 387.9h0M1353.2 467.6h0M1332.5 442.5h0M1327.0 397.1h0M1346.4 387.9h0M1305.3 422.7h0M1371.8 449.3h0M1349.6 412.2h0M1322.5 398.5h0M1343.8 438.9h0M1330.7 438.5h0M1327.9 456.7h0M1364.3 404.0h0M1306.4 441.2h0M1370.2 464.4h0M1304.2 397.9h0M1376.8 401.5h0M1351.0 441.9h0M1348.9 380.4h0M1325.4 400.3h0M1343.4 401.9h0M1311.5 368.6h0M1315.7 371.0h0M1387.2 413.6h0M1306.5 443.4h0M1384.4 391.6h0M1399.2 425.9h0M1365.8 404.6h0M1366.2 390.6h0M1339.4 451.7h0M1320.3 402.8h0M1321.6 398.4h0M1379.1 408.5h0M1342.5 383.7h0M1324.0 382.9h0M1323.4 393.5h0M1379.8 397.1h0M1367.8 473.7h0M1333.8 404.8h0M1319.1 425.6h0M1297.7 405.8h0M1309.4 387.6h0M1365.3 396.6h0M1357.3 466.9h0M1336.1 467.6h0M1351.4 440.7h0M1315.7 449.1h0M1336.2 399.6h0M1368.1 425.3h0M1329.7 443.4h0M1353.4 465.7h0M1328.0 446.6h0M1372.6 430.7h0M1304.3 426.9h0M1320.1 436.6h0M1380.6 439.5h0M1340.9 391.5h0M1330.2 398.1h0M1368.0 464.2h0M1319.9 386.0h0M1330.1 414.6h0M1314.1 394.3h0M1354.3 399.0h0M1320.6 416.2h0M1333.7 414.9h0M1344.3 394.9h0M1337.2 400.3h0M1328.8 406.7h0M1298.5 409.8h0M1328.7 451.8h0" stroke="#7daa4b" stroke-width="3.00" stroke-linecap="round" fill="none"/>
<path d="M1310.8 319.6h0M1292.9 341.0h0M1279.1 340.3h0M1291.2 338.4h0M1260.8 334.3h0M1263.4 415.5h0M1312.5 364.0h0M1315.8 387.5h0M1317.6 336.5h0M1354.0 375.0h0M1352.9 378.1h0M1248.3 360.6h0M1258.6 361.0h0M1250.2 340.2h0M1329.5 363.7h0M1330.2 366.3h0M1344.4 339.4h0M1308.0 381.5h0M1311.8 340.1h0M1292.4 432.1h0M1337.1 395.6h0M1336.8 376.2h0M1324.5 336.7h0M1310.4 360.3h0M1265.5 368.2h0M1343.6 325.9h0M1319.5 357.3h0M1270.3 344.5h0M1348.0 388.0h0M1261.5 352.3h0M1280.2 404.3h0M1323.8 339.1h0M1277.1 342.1h0M1259.7 392.4h0M1338.6 377.1h0M1305.5 367.6h0M1259.2 340.7h0M1286.2 354.2h0M1329.2 384.7h0M1323.1 342.0h0M1310.8 374.4h0M1283.6 312.4h0M1291.3 378.7h0M1328.1 375.6h0M1290.7 379.7h0M1252.9 340.1h0M1342.1 372.8h0M1332.2 382.3h0M1322.7 330.9h0M1329.6 451.5h0M1331.2 368.0h0M1318.5 371.5h0M1248.5 354.1h0M1340.2 373.7h0M1273.6 357.3h0M1344.8 396.7h0M1325.0 282.4h0M1341.9 378.8h0M1339.6 383.1h0M1280.7 369.1h0M1349.3 395.8h0M1307.6 365.3h0M1338.4 390.3h0M1304.2 361.0h0M1337.0 359.9h0M1325.6 351.3h0M1273.7 374.4h0M1360.1 419.4h0M1249.0 349.0h0M1320.6 333.7h0M1345.8 322.5h0M1337.8 384.4h0M1299.8 355.3h0M1280.3 409.2h0M1327.0 383.5h0M1348.8 373.3h0M1332.7 356.0h0M1234.3 335.3h0M1261.0 318.0h0M1281.2 376.1h0M1256.1 329.4h0M1344.5 393.1h0M1319.5 370.8h0M1295.2 338.0h0M1321.1 372.8h0M1365.8 395.8h0M1278.8 337.6h0M1286.3 355.5h0M1282.2 328.7h0M1272.7 332.6h0M1295.9 370.8h0M1284.3 361.2h0M1304.1 414.0h0M1286.9 320.7h0M1379.8 403.5h0M1333.8 399.9h0M1292.3 348.3h0M1291.3 343.9h0M1289.8 381.9h0M1321.4 362.3h0M1260.1 326.3h0M1284.2 367.6h0M1302.9 360.9h0M1300.3 363.9h0M1311.7 359.5h0M1317.0 365.6h0M1329.3 385.4h0M1260.7 338.5h0M1346.1 388.2h0M1334.4 371.9h0M1340.5 396.1h0M1311.2 376.0h0M1266.1 344.8h0M1314.3 345.9h0M1283.5 376.4h0M1313.7 362.7h0M1319.4 278.3h0M1314.0 362.7h0M1287.1 364.0h0M1285.5 322.3h0M1261.9 350.8h0M1342.5 340.4h0M1307.2 353.0h0M1278.1 314.7h0M1340.7 388.5h0M1300.9 377.9h0M1304.4 273.6h0M1309.5 338.2h0M1262.4 330.3h0M1314.7 279.1h0M1332.9 372.3h0M1265.7 401.7h0M1306.7 321.4h0M1277.2 356.5h0M1332.2 385.0h0M1268.4 363.2h0M1334.2 394.2h0M1282.6 407.9h0M1318.0 325.0h0M1328.5 386.8h0M1297.4 382.1h0M1343.9 318.2h0M1294.5 382.3h0M1303.1 325.0h0M1296.8 316.8h0M1321.4 394.3h0M1346.2 383.6h0M1323.9 399.2h0M1322.1 339.2h0M1272.1 341.7h0M1298.7 366.9h0M1279.0 366.6h0M1336.3 397.0h0M1299.9 328.5h0M1315.6 371.8h0M1306.2 378.2h0M1303.0 349.6h0M1325.4 380.8h0M1300.5 339.4h0M1333.5 378.7h0M1329.6 382.3h0M1264.2 380.9h0M1294.0 350.7h0M1343.4 398.3h0M1339.3 318.2h0M1295.2 378.8h0M1330.6 379.1h0M1324.6 387.3h0M1311.8 386.5h0M1348.0 388.0h0M1330.5 367.2h0M1346.4 387.9h0M1334.2 353.0h0M1329.0 366.2h0M1341.1 392.1h0M1326.1 371.1h0M1334.5 384.6h0M1300.6 367.8h0M1314.3 344.8h0M1276.3 364.9h0M1345.2 395.3h0M1326.9 351.4h0M1320.4 393.3h0M1335.8 395.1h0M1302.8 379.9h0M1339.0 381.3h0M1252.0 336.0h0M1358.7 446.6h0M1246.4 398.6h0M1275.5 331.0h0M1316.7 373.0h0M1277.8 336.6h0M1321.9 331.3h0M1308.1 351.4h0M1347.9 372.7h0M1257.4 339.1h0M1301.4 431.5h0M1267.4 317.7h0M1325.1 396.3h0M1293.8 321.9h0M1320.8 337.6h0M1333.3 395.3h0M1325.4 331.2h0M1328.2 389.9h0M1311.8 353.9h0M1295.7 316.8h0M1265.4 354.3h0M1300.1 336.2h0M1330.9 395.8h0M1295.0 349.5h0M1301.2 371.7h0M1269.7 332.1h0M1312.4 330.4h0M1288.5 350.0h0M1305.6 370.8h0M1257.9 339.9h0M1297.2 321.9h0M1344.3 382.1h0M1311.6 355.7h0M1370.3 402.4h0M1265.2 352.0h0M1310.1 271.3h0M1328.2 373.4h0M1284.0 364.1h0M1305.2 370.2h0M1331.9 392.3h0M1322.9 377.9h0M1333.2 382.3h0M1287.9 346.1h0M1286.6 374.8h0M1248.5 356.0h0M1342.7 317.8h0M1307.4 337.5h0M1337.6 393.9h0M1328.9 435.0h0M1297.2 351.5h0M1315.3 281.7h0M1326.9 367.4h0M1281.3 351.7h0M1324.7 299.2h0M1295.8 346.4h0M1297.6 319.9h0M1341.1 386.9h0M1317.6 355.4h0M1324.1 377.6h0M1258.3 368.7h0M1239.3 339.8h0M1331.5 383.5h0M1317.6 420.8h0M1310.4 376.7h0M1276.6 316.9h0M1308.8 375.9h0M1335.8 384.5h0M1254.4 342.8h0M1300.1 324.0h0M1302.7 388.0h0M1298.3 341.2h0M1270.9 329.6h0M1352.6 392.1h0M1254.1 341.3h0M1340.1 392.4h0M1316.3 322.9h0M1298.1 321.3h0M1308.4 285.0h0M1329.0 389.9h0M1327.8 395.4h0M1319.7 376.6h0M1276.2 320.4h0M1337.1 377.7h0M1261.4 371.8h0M1253.6 351.8h0M1339.2 374.8h0M1316.2 365.5h0M1315.0 358.7h0M1284.8 376.2h0M1272.6 318.2h0M1330.1 393.4h0M1278.9 361.5h0M1257.4 344.2h0M1284.6 375.3h0M1299.9 342.6h0M1277.0 348.7h0M1293.2 325.0h0M1288.5 373.5h0M1330.0 351.6h0M1279.5 374.3h0M1351.4 378.8h0M1329.6 357.8h0M1340.7 379.0h0M1306.4 379.9h0M1332.9 378.9h0M1266.5 334.1h0M1377.0 418.8h0M1299.7 356.8h0M1271.8 335.4h0M1281.1 367.6h0" stroke="#e5706b" stroke-width="3.00" stroke-linecap="round" fill="none"/>
<path d="M1371.2 286.0h0M1345.9 277.0h0M1351.1 247.1h0M1363.0 282.2h0M1345.8 277.8h0M1366.0 263.7h0M1332.6 284.2h0M1340.6 270.7h0M1357.7 261.2h0M1341.6 284.1h0M1360.4 241.5h0M1349.7 308.1h0M1355.6 290.0h0M1355.2 252.4h0M1325.7 280.1h0M1348.4 299.4h0M1350.4 251.6h0M1350.5 275.4h0M1329.9 258.3h0M1357.4 286.6h0M1322.8 270.5h0M1363.7 253.6h0M1347.1 265.0h0M1361.6 265.9h0M1356.3 244.5h0M1342.5 266.5h0M1367.6 231.2h0M1374.5 211.4h0M1363.8 293.3h0M1319.1 274.7h0M1357.0 307.7h0M1346.4 275.7h0M1352.0 313.3h0M1340.0 264.0h0M1339.1 300.7h0M1313.0 290.9h0M1359.5 234.1h0M1357.9 302.6h0M1369.1 254.8h0M1349.8 273.1h0M1369.1 260.0h0M1345.6 283.3h0M1353.6 284.2h0M1363.0 239.1h0M1354.7 286.2h0M1361.5 281.6h0M1361.3 291.6h0M1334.6 261.1h0M1359.0 247.7h0M1358.0 306.9h0M1345.4 305.2h0M1346.9 245.8h0M1359.6 298.2h0M1363.6 227.6h0M1336.4 311.4h0M1352.8 261.7h0M1369.4 287.5h0M1341.0 284.1h0M1356.1 296.6h0M1347.9 275.7h0M1348.0 289.0h0M1363.6 292.1h0M1357.5 299.6h0M1340.1 269.0h0M1346.9 310.0h0M1304.5 280.1h0M1377.5 210.1h0M1353.0 238.1h0M1342.7 297.1h0M1348.7 283.6h0M1345.9 302.8h0M1369.7 247.6h0M1366.7 287.7h0M1350.3 276.6h0M1369.6 291.0h0M1329.5 285.3h0M1359.9 303.7h0M1336.3 289.5h0M1341.9 284.1h0M1349.6 304.4h0M1311.2 269.7h0M1366.8 253.4h0M1364.6 286.2h0M1351.3 247.9h0M1360.4 240.3h0M1367.2 290.6h0M1362.2 295.3h0M1358.3 277.4h0M1377.2 226.0h0M1349.2 275.6h0M1366.6 233.8h0M1362.1 274.0h0M1354.3 245.8h0M1352.2 308.7h0M1360.4 300.2h0M1356.4 300.9h0M1320.5 274.4h0M1355.7 242.9h0M1350.3 280.5h0M1337.7 296.3h0M1318.5 275.8h0M1353.5 260.6h0M1349.4 294.4h0M1349.4 290.6h0M1346.9 276.1h0M1350.6 278.2h0M1332.1 259.4h0M1342.9 309.0h0M1357.7 303.0h0M1359.6 271.0h0M1323.8 291.5h0M1354.9 265.6h0M1354.6 267.1h0M1370.4 229.3h0M1311.6 297.5h0M1348.7 253.6h0M1309.6 269.7h0M1348.1 283.2h0" stroke="#ada037" stroke-width="3.00" stroke-linecap="round" fill="none"/>
<path d="M1392.7 427.5h0M1400.9 435.9h0M1401.0 438.1h0M1407.7 449.7h0M1398.8 429.4h0M1402.3 494.4h0M1418.0 459.5h0M1384.2 420.6h0M1392.3 442.2h0M1401.8 497.1h0M1402.8 437.5h0M1429.0 471.7h0M1404.8 441.5h0M1421.3 448.1h0M1400.7 482.3h0M1390.2 425.1h0M1414.3 456.3h0M1401.1 445.9h0M1431.9 472.5h0M1406.3 490.7h0M1392.6 436.6h0M1411.6 457.5h0M1399.7 441.2h0M1425.8 473.3h0M1399.0 465.9h0M1422.0 455.7h0M1416.0 465.8h0M1423.9 476.9h0M1412.1 440.8h0M1416.6 476.3h0M1433.6 471.5h0M1401.4 433.8h0M1404.0 494.2h0M1423.7 484.9h0M1412.7 478.4h0M1398.1 434.3h0M1425.3 445.9h0M1425.0 481.6h0M1407.4 488.1h0M1402.0 459.1h0M1410.1 452.2h0M1419.2 491.3h0M1394.5 438.6h0M1436.5 469.9h0M1401.6 441.2h0M1425.1 470.5h0M1422.7 442.4h0M1398.8 472.0h0M1428.5 480.8h0M1399.6 447.8h0M1387.8 421.0h0M1410.5 449.9h0M1414.4 454.2h0M1421.5 442.8h0M1407.5 456.6h0M1416.2 487.6h0M1391.6 444.8h0M1406.1 489.4h0M1391.5 443.9h0M1395.8 471.7h0M1394.4 440.0h0M1385.6 430.6h0M1409.7 481.0h0M1428.7 477.5h0M1397.4 426.6h0M1424.7 453.5h0M1404.0 454.5h0M1407.2 488.9h0M1422.9 494.6h0M1433.0 456.4h0M1404.2 471.2h0M1427.8 470.3h0M1404.2 472.1h0M1400.4 458.9h0M1384.0 427.8h0M1405.7 468.5h0M1402.8 467.3h0M1395.4 422.2h0M1392.3 432.4h0M1398.5 450.2h0M1431.3 466.6h0M1404.3 453.7h0M1399.0 474.9h0M1430.5 484.1h0M1420.0 480.2h0M1408.0 438.4h0M1411.6 451.4h0M1395.6 421.6h0M1413.8 473.5h0M1391.4 426.4h0M1429.9 449.8h0M1417.4 484.3h0M1425.8 449.7h0M1406.4 479.8h0M1411.8 497.4h0M1448.0 466.7h0M1412.2 476.2h0M1434.9 458.8h0M1398.5 433.4h0M1403.0 468.9h0M1425.9 441.0h0M1423.5 461.6h0M1406.0 457.5h0M1419.7 467.9h0M1401.9 484.6h0M1413.4 476.2h0M1411.7 490.2h0M1426.5 468.6h0M1411.3 456.1h0M1401.7 496.8h0M1411.3 441.9h0M1408.9 442.0h0M1387.6 415.8h0M1401.3 475.2h0M1403.6 483.4h0M1427.1 466.8h0M1405.7 452.9h0M1398.5 474.4h0M1387.5 423.7h0M1427.8 459.2h0M1408.3 463.2h0" stroke="#1fae54" stroke-width="3.00" stroke-linecap="round" fill="none"/>
<path d="M1261.3 508.6h0M1262.4 479.8h0M1265.6 288.4h0M1271.2 296.3h0M1293.2 374.8h0M1312.4 428.8h0M1258.1 479.8h0M1336.2 438.8h0M1265.4 507.6h0M1286.1 324.3h0M1369.0 395.3h0M1267.1 301.3h0M1318.2 421.7h0M1249.5 475.2h0M1258.0 288.3h0M1269.2 284.4h0M1270.8 301.5h0M1308.5 430.7h0M1256.9 484.5h0M1253.0 496.3h0M1265.2 487.9h0M1329.4 440.3h0M1326.0 371.2h0M1265.1 295.4h0M1245.1 477.7h0M1259.2 287.9h0M1243.6 482.3h0M1265.2 297.8h0M1263.9 504.2h0M1260.7 484.6h0M1250.8 486.0h0M1260.8 484.1h0M1319.5 349.5h0M1274.5 293.0h0M1252.5 484.6h0M1374.4 406.0h0M1266.2 286.5h0M1318.3 443.3h0M1269.8 510.0h0M1242.9 484.6h0M1253.4 478.9h0M1275.5 290.3h0M1275.1 290.1h0M1249.8 487.2h0M1265.4 288.3h0M1263.9 507.7h0M1272.8 299.3h0M1280.6 352.0h0M1246.8 487.6h0M1273.0 303.4h0M1259.9 505.8h0M1256.2 492.2h0M1269.9 305.2h0M1274.7 299.2h0M1268.6 494.8h0M1345.9 417.6h0M1256.4 295.4h0M1254.8 499.4h0M1261.9 487.2h0M1263.1 498.6h0M1372.3 436.7h0M1253.5 468.0h0M1266.4 292.0h0M1268.5 288.3h0M1270.9 279.3h0M1245.8 482.6h0M1268.4 308.4h0M1261.5 482.0h0M1254.4 490.5h0M1247.5 485.9h0M1267.8 288.3h0M1267.3 291.1h0M1358.8 457.4h0M1261.8 287.0h0M1263.6 294.9h0M1270.6 303.7h0M1267.8 301.2h0M1271.6 291.1h0M1265.6 490.7h0M1271.9 296.9h0M1247.2 497.1h0M1262.1 302.5h0M1267.3 293.3h0M1316.8 376.3h0M1344.7 410.3h0M1245.5 476.2h0M1338.8 446.2h0M1275.8 298.6h0M1248.4 472.9h0M1235.9 490.0h0M1260.7 509.3h0M1316.6 369.1h0M1247.8 473.6h0M1290.8 361.4h0" stroke="#ec8b2e" stroke-width="3.00" stroke-linecap="round" fill="none"/>
<path d="M1319.4 326.9h0M1344.4 327.9h0M1345.6 320.1h0M1340.6 358.9h0M1337.5 358.4h0M1334.9 335.3h0M1350.4 327.7h0M1336.3 375.4h0M1335.1 351.5h0M1308.6 360.4h0M1338.6 324.5h0M1349.3 315.8h0M1332.0 354.8h0M1342.1 387.8h0M1337.0 334.6h0M1325.1 379.4h0M1348.4 317.0h0M1327.3 399.3h0M1331.5 331.4h0M1342.3 391.3h0M1269.7 360.5h0M1330.9 343.5h0M1320.1 337.4h0M1320.9 318.1h0M1344.6 330.9h0M1331.2 318.5h0M1353.8 331.7h0M1348.4 327.7h0M1327.5 329.1h0M1316.3 326.9h0M1333.8 339.2h0M1332.8 330.6h0M1338.6 321.3h0M1351.9 337.5h0M1273.3 361.6h0M1321.6 319.7h0M1305.0 343.0h0M1343.1 372.2h0M1353.1 343.8h0M1353.6 320.9h0M1321.7 325.2h0M1355.5 312.3h0M1351.7 341.4h0M1332.4 315.9h0M1320.9 347.1h0M1325.0 383.9h0M1333.5 336.7h0M1321.6 348.9h0M1279.4 323.3h0M1321.7 356.6h0M1340.0 333.5h0M1356.0 340.0h0M1327.9 328.9h0M1349.3 328.3h0M1354.0 329.2h0M1344.9 351.2h0M1246.6 449.9h0M1317.1 381.7h0M1319.1 335.8h0M1318.0 340.7h0M1306.6 336.2h0M1328.0 311.2h0M1350.8 340.6h0M1338.9 315.2h0M1336.1 323.9h0M1326.7 381.9h0M1336.4 324.4h0M1347.2 343.1h0M1331.6 348.9h0M1296.8 344.1h0M1346.2 356.8h0M1352.2 350.9h0M1322.4 341.3h0M1347.2 321.3h0M1322.1 309.3h0M1346.3 344.4h0M1349.0 342.2h0M1336.2 331.3h0M1334.3 323.5h0M1348.3 307.9h0M1314.6 336.1h0M1355.7 329.1h0M1346.7 355.9h0M1335.0 350.6h0M1343.7 339.6h0M1323.7 340.7h0M1346.8 344.0h0M1337.6 338.8h0M1336.9 334.3h0M1348.1 391.8h0M1321.7 346.3h0M1330.3 342.9h0M1344.9 314.2h0M1351.3 340.5h0M1328.9 354.5h0M1282.7 334.7h0M1349.6 343.2h0M1314.8 375.2h0M1333.5 356.2h0M1321.0 392.9h0M1326.0 329.5h0M1348.9 314.1h0M1347.2 318.1h0M1332.5 355.8h0M1331.2 341.1h0M1320.2 353.0h0M1338.8 383.5h0M1299.2 348.8h0M1289.4 357.3h0M1324.5 318.0h0M1327.4 345.0h0M1313.2 378.7h0M1340.9 336.6h0M1329.2 353.4h0M1325.9 361.1h0M1335.7 334.8h0M1311.7 363.2h0M1349.1 321.9h0M1333.2 357.9h0M1349.4 335.5h0M1293.0 346.5h0M1283.9 357.4h0M1345.4 319.1h0M1324.7 335.2h0M1324.5 310.7h0M1351.2 327.6h0M1323.2 318.0h0M1332.9 313.2h0M1321.3 341.3h0M1242.6 453.0h0M1320.5 340.1h0M1343.2 353.4h0M1328.0 336.9h0M1359.2 335.1h0M1329.2 339.2h0M1317.6 323.6h0M1347.3 317.0h0M1348.1 311.2h0M1321.9 353.1h0M1317.6 325.5h0M1355.0 334.0h0M1280.7 320.5h0M1347.5 338.3h0M1345.9 336.2h0M1331.8 319.8h0M1329.6 357.9h0M1278.2 366.9h0M1332.4 346.9h0M1346.2 328.3h0M1332.4 342.7h0M1347.6 339.1h0M1340.0 343.6h0M1329.7 375.0h0M1321.9 353.3h0M1321.4 387.2h0M1326.5 394.7h0M1355.1 344.6h0M1313.8 345.3h0M1352.5 343.6h0M1314.8 350.1h0M1353.6 353.4h0M1323.7 352.6h0M1345.2 333.8h0M1348.9 343.2h0M1323.9 353.7h0M1342.4 354.5h0M1323.0 351.3h0M1344.9 350.5h0M1346.7 343.1h0M1352.3 348.1h0M1355.4 340.9h0M1343.0 321.5h0M1348.2 337.6h0M1351.9 343.2h0M1293.4 362.7h0M1323.2 355.7h0M1346.2 350.6h0M1329.1 348.3h0M1320.2 358.9h0M1317.0 354.3h0M1342.4 350.3h0M1332.0 320.1h0M1338.0 319.6h0M1244.5 451.8h0M1335.3 367.1h0M1342.1 314.9h0M1317.0 337.8h0M1322.8 343.9h0M1320.3 329.7h0M1326.3 321.4h0M1332.9 370.0h0M1334.8 329.1h0M1337.5 343.5h0M1328.3 341.8h0M1350.9 327.4h0M1325.9 310.7h0M1312.0 313.3h0M1337.8 356.4h0M1316.7 329.9h0M1309.6 390.8h0M1340.6 328.1h0M1331.3 347.5h0M1349.1 322.4h0M1279.0 340.5h0M1313.3 389.0h0M1317.9 334.2h0M1330.8 336.4h0M1327.0 330.7h0M1328.6 334.4h0" stroke="#b872a8" stroke-width="3.00" stroke-linecap="round" fill="none"/>
<path d="M1216.9 391.1h0M1246.9 390.6h0M1299.3 335.3h0M1245.4 358.5h0M1227.2 395.0h0M1237.3 345.5h0M1242.9 397.4h0M1246.7 340.8h0M1279.1 372.0h0M1244.6 352.3h0M1238.3 344.3h0M1240.2 348.9h0M1242.1 347.6h0M1248.3 373.0h0M1268.5 408.2h0M1228.2 376.8h0M1226.8 340.8h0M1246.0 366.3h0M1232.2 335.2h0M1220.4 345.9h0M1234.0 347.9h0M1260.5 350.1h0M1252.3 384.3h0M1241.2 334.6h0M1244.5 394.3h0M1248.1 363.7h0M1222.0 354.2h0M1242.8 332.0h0M1228.2 359.5h0M1256.8 406.9h0M1231.7 384.2h0M1233.4 351.6h0M1252.4 372.6h0M1228.7 378.8h0M1273.2 350.7h0M1259.6 341.0h0M1227.0 350.1h0M1247.6 369.8h0M1237.1 353.4h0M1225.9 382.7h0M1281.8 342.6h0M1225.4 387.5h0M1241.1 371.7h0M1250.6 383.3h0M1224.0 384.7h0M1242.0 349.5h0M1240.8 351.4h0M1303.2 323.2h0M1236.9 329.6h0M1278.7 415.3h0M1230.5 382.7h0M1223.9 399.4h0M1251.8 385.5h0M1241.7 395.1h0M1239.0 338.7h0M1244.1 333.5h0M1278.5 357.2h0M1220.7 381.8h0M1311.3 374.7h0M1227.3 351.7h0M1293.4 382.7h0M1242.7 395.7h0M1280.4 360.1h0M1247.2 330.9h0M1254.2 358.0h0M1252.5 348.8h0M1269.4 409.6h0M1283.6 348.9h0M1248.0 386.4h0M1241.7 398.5h0M1250.5 361.8h0M1242.6 384.2h0M1240.3 382.6h0M1302.7 330.0h0M1240.8 347.4h0M1235.5 385.0h0M1244.5 333.3h0M1234.1 374.2h0M1250.1 338.2h0M1247.3 368.3h0M1242.7 337.6h0M1227.6 334.4h0M1239.3 351.7h0M1246.4 392.0h0M1244.1 351.9h0M1261.5 383.5h0M1268.3 415.8h0M1242.0 392.4h0M1243.5 349.3h0M1250.0 325.9h0M1237.2 387.5h0M1211.5 394.4h0M1226.2 350.6h0M1222.6 379.5h0M1234.2 362.0h0M1244.1 333.4h0M1247.0 344.7h0M1233.3 383.9h0M1221.3 373.3h0M1293.8 399.1h0M1214.4 372.7h0M1254.6 381.9h0M1240.9 395.3h0M1247.4 337.5h0M1236.9 339.4h0M1247.3 398.0h0M1335.4 370.7h0M1222.9 355.7h0M1216.8 371.2h0M1248.8 372.3h0M1245.8 393.8h0M1229.3 366.4h0M1247.7 393.0h0M1245.7 329.9h0M1260.5 387.4h0M1254.1 366.0h0M1257.2 384.5h0M1269.8 407.0h0M1253.4 355.8h0M1245.5 388.6h0M1228.5 342.6h0M1263.3 417.4h0M1249.5 366.4h0M1258.0 376.5h0M1249.0 335.3h0M1247.4 331.2h0M1256.0 368.4h0M1229.9 377.3h0M1231.7 366.8h0M1313.1 332.5h0M1236.3 368.8h0M1241.2 342.4h0M1254.4 362.0h0M1247.9 390.5h0M1225.9 372.7h0M1259.9 377.9h0M1250.0 326.2h0M1213.7 394.7h0M1267.4 342.7h0M1270.2 419.4h0M1245.4 376.5h0M1243.0 349.8h0" stroke="#0fb3cc" stroke-width="3.00" stroke-linecap="round" fill="none"/>
<path d="M1196.0 406.3h0M1162.8 422.7h0M1200.7 396.6h0M1207.4 400.9h0M1208.7 403.6h0M1196.4 416.8h0M1161.8 425.4h0M1180.3 424.6h0M1203.5 403.1h0M1283.4 376.6h0M1206.1 401.6h0M1214.1 403.4h0M1184.3 413.9h0M1194.7 404.0h0M1203.3 406.2h0M1170.3 420.3h0M1221.3 406.0h0M1275.2 418.6h0M1210.8 387.0h0M1202.2 396.4h0M1183.5 421.1h0M1179.1 424.0h0M1204.3 402.0h0M1185.5 417.3h0M1182.7 422.0h0M1205.8 388.4h0M1172.1 421.1h0M1166.7 422.6h0M1164.6 427.4h0M1170.2 419.4h0M1200.2 413.6h0M1288.1 392.9h0M1294.1 426.2h0M1153.7 416.0h0M1189.0 427.7h0M1162.2 432.4h0M1204.0 403.2h0M1179.9 424.6h0M1158.5 415.9h0M1169.2 427.0h0M1194.7 411.6h0M1182.1 417.6h0M1156.0 431.7h0M1178.9 426.1h0M1179.3 426.8h0M1290.0 385.0h0M1185.7 419.6h0M1255.6 387.5h0M1198.7 417.6h0M1178.5 421.8h0M1174.1 424.8h0M1172.2 431.5h0M1208.3 407.3h0M1196.7 404.0h0" stroke="#7f86c0" stroke-width="3.00" stroke-linecap="round" fill="none"/>
<path d="M1395.4 480.7h0M1398.6 433.7h0M1397.6 435.0h0M1392.5 458.3h0M1403.7 444.4h0M1375.8 441.5h0M1388.5 450.4h0M1374.8 447.9h0M1387.3 433.7h0M1368.3 443.0h0M1382.9 436.2h0M1396.4 434.2h0M1401.2 499.0h0M1359.6 481.1h0M1399.3 444.9h0M1330.6 463.5h0M1372.1 463.7h0M1398.3 439.2h0M1377.9 467.4h0M1368.1 452.3h0M1372.6 468.6h0M1408.4 491.4h0M1395.6 486.1h0M1407.2 447.6h0M1407.3 491.8h0M1365.0 473.0h0M1379.0 439.9h0M1392.2 435.5h0M1367.3 450.9h0M1329.5 458.8h0M1368.1 465.2h0M1382.2 478.9h0M1382.3 470.8h0M1385.8 432.9h0M1381.3 451.4h0M1392.4 443.0h0M1382.8 446.4h0M1379.4 450.4h0M1407.5 492.4h0M1388.1 460.6h0M1363.2 475.9h0M1401.5 446.4h0M1360.7 467.0h0M1377.4 476.0h0M1377.4 436.6h0M1409.5 466.2h0M1370.8 488.1h0M1362.3 465.0h0M1374.9 468.5h0M1406.5 453.5h0M1382.5 447.8h0M1388.2 470.1h0M1409.3 440.1h0M1333.8 455.5h0M1409.0 463.4h0M1374.5 452.2h0M1396.9 428.5h0M1408.2 485.8h0M1378.0 443.8h0M1403.5 501.5h0M1344.9 476.6h0M1407.0 495.8h0M1390.5 449.3h0M1382.8 431.2h0M1405.8 444.2h0M1404.9 468.7h0M1353.8 469.6h0M1401.6 461.2h0M1328.3 463.9h0M1388.8 481.2h0M1345.1 472.3h0M1395.2 439.7h0M1346.5 470.9h0M1397.1 455.2h0M1413.2 483.1h0M1328.9 450.6h0M1404.8 470.9h0M1408.0 456.3h0M1369.7 445.8h0M1416.7 472.3h0M1349.5 480.0h0M1394.9 467.6h0M1385.4 461.4h0M1414.6 485.4h0M1387.4 473.3h0M1389.6 493.7h0M1391.0 441.1h0M1375.6 472.5h0M1389.8 451.3h0M1392.5 447.0h0M1366.4 475.8h0M1360.5 463.8h0M1404.3 455.0h0M1379.5 452.3h0M1397.5 480.2h0M1380.8 434.9h0M1389.7 467.0h0M1399.5 445.8h0M1399.5 437.3h0M1403.3 459.8h0M1403.1 485.4h0M1371.2 442.3h0M1381.0 456.3h0M1415.5 484.2h0M1361.5 466.6h0M1375.0 465.4h0M1361.8 474.2h0M1361.1 475.1h0M1398.3 469.6h0M1375.2 464.2h0M1404.7 455.3h0M1383.4 458.9h0M1383.3 430.7h0M1361.6 453.0h0M1399.6 442.5h0M1401.8 448.5h0M1389.3 494.1h0M1358.6 461.6h0M1379.7 483.7h0M1381.3 472.9h0M1361.4 471.8h0M1357.7 470.5h0M1400.7 447.1h0M1404.4 468.9h0M1384.4 442.7h0M1365.7 455.4h0M1404.7 454.6h0M1406.1 470.9h0M1386.8 437.0h0M1413.4 491.0h0M1376.1 441.5h0M1373.6 439.0h0M1377.1 450.3h0M1340.1 472.5h0M1398.6 442.3h0M1410.0 484.1h0M1399.4 478.9h0M1364.0 459.2h0M1392.6 422.4h0M1399.8 458.1h0M1399.8 443.9h0M1409.2 469.9h0M1343.5 459.3h0M1380.8 481.6h0M1393.5 482.9h0M1396.2 462.4h0M1390.9 447.1h0" stroke="#4db060" stroke-width="3.00" stroke-linecap="round" fill="none"/>
<path d="M1320.7 233.3h0M1318.8 240.8h0M1318.9 231.2h0M1325.6 256.1h0M1319.3 265.4h0M1312.9 248.2h0M1325.4 279.6h0M1311.3 229.2h0M1328.2 254.1h0M1324.3 256.1h0M1328.8 279.7h0M1314.2 216.0h0M1314.5 256.4h0M1316.9 256.1h0M1327.8 249.3h0M1321.7 250.1h0M1318.0 230.7h0M1321.4 275.1h0M1320.8 264.6h0M1322.6 247.8h0M1308.2 190.4h0M1324.3 267.5h0M1320.0 259.1h0M1312.8 298.0h0M1323.7 231.5h0M1323.0 230.9h0M1318.0 298.4h0M1315.4 244.4h0M1321.9 268.3h0M1312.1 240.5h0M1312.0 220.7h0M1334.1 267.7h0M1324.2 261.9h0M1322.2 267.9h0M1314.8 218.1h0M1320.7 223.4h0M1317.4 207.9h0M1307.6 200.6h0M1331.1 280.2h0M1317.8 264.7h0M1325.1 284.3h0M1320.3 246.2h0M1312.5 294.6h0M1315.1 210.5h0M1313.7 221.3h0M1317.7 300.7h0M1324.0 224.6h0" stroke="#ce9232" stroke-width="3.00" stroke-linecap="round" fill="none"/>
<path d="M1208.6 453.7h0M1220.3 456.3h0M1218.3 463.8h0M1219.0 480.1h0M1217.8 472.4h0M1221.8 470.2h0M1239.8 468.7h0M1214.6 451.9h0M1223.4 454.7h0M1225.7 488.7h0M1237.1 456.9h0M1238.3 467.9h0M1239.7 453.4h0M1213.6 477.1h0M1215.8 475.3h0M1223.0 444.7h0M1233.7 445.5h0M1231.9 484.8h0M1219.6 450.6h0M1220.8 488.9h0M1224.8 462.4h0M1214.5 458.4h0M1246.6 460.0h0M1230.6 449.4h0M1240.0 469.8h0M1230.5 464.8h0M1236.6 464.1h0M1212.9 455.7h0M1238.4 462.2h0M1218.0 450.2h0M1242.4 464.1h0M1223.6 451.3h0M1224.8 487.5h0M1239.7 461.1h0M1223.5 466.9h0M1232.5 481.4h0M1232.7 469.0h0M1232.2 456.5h0M1230.8 484.9h0M1239.5 459.3h0M1232.2 474.8h0M1215.0 479.6h0M1238.6 450.3h0M1237.7 470.7h0M1245.5 462.6h0M1229.4 493.7h0M1245.2 461.3h0M1225.5 475.2h0M1228.9 461.5h0M1219.8 474.6h0" stroke="#4792ce" stroke-width="3.00" stroke-linecap="round" fill="none"/>
<path d="M1614.5 372.6h0M1589.0 361.0h0M1618.9 366.8h0M1606.1 338.4h0M1612.5 352.4h0M1594.1 368.1h0M1612.3 365.1h0M1609.6 376.0h0M1613.3 369.5h0M1600.9 372.2h0M1619.0 357.7h0M1609.1 349.7h0M1608.6 354.2h0M1587.7 345.3h0M1591.1 370.4h0M1625.3 364.0h0M1595.3 345.2h0M1600.2 366.5h0M1604.5 359.2h0M1600.3 371.0h0M1596.0 353.9h0M1626.9 357.2h0M1598.8 347.8h0M1597.4 339.1h0M1622.8 379.2h0M1602.3 379.8h0M1620.1 372.7h0M1603.2 364.7h0M1620.8 362.7h0M1599.6 341.0h0M1613.9 354.8h0M1592.0 366.3h0M1593.1 362.4h0M1623.1 374.1h0" stroke="#18a4dc" stroke-width="3.00" stroke-linecap="round" fill="none"/>
<path d="M1349.6 479.1h0M1350.8 480.1h0M1361.2 482.5h0M1360.2 478.1h0M1348.7 468.7h0M1356.0 471.2h0M1345.8 464.7h0M1352.3 470.7h0M1368.6 470.5h0M1359.5 472.0h0M1351.1 470.8h0M1363.2 477.8h0M1359.0 483.1h0M1351.5 479.9h0M1344.4 475.3h0M1351.1 476.8h0M1356.1 475.3h0M1364.5 470.3h0M1343.5 475.8h0M1348.8 482.8h0M1365.9 480.7h0M1354.0 479.0h0M1352.9 468.9h0M1349.0 467.9h0" stroke="#e8638f" stroke-width="3.00" stroke-linecap="round" fill="none"/>
<rect x="1135.3" y="21.8" width="517.0" height="516.2" fill="none" stroke="#a6abae" stroke-width="3.0"/>
<text x="1377.5" y="53.6" font-size="21.7" font-weight="bold">14</text>
<text x="1312.8" y="240.5" font-size="21.7" font-weight="bold">3</text>
<text x="1352.0" y="270.0" font-size="21.7" font-weight="bold">4</text>
<text x="1277.0" y="298.2" font-size="21.7" font-weight="bold">8</text>
<text x="1281.0" y="351.0" font-size="21.7" font-weight="bold">1</text>
<text x="1322.9" y="344.4" font-size="21.7" font-weight="bold">15</text>
<text x="1366.4" y="365.2" font-size="21.7" font-weight="bold">9</text>
<text x="1210.7" y="371.2" font-size="21.7" font-weight="bold">10</text>
<text x="1265.9" y="407.0" font-size="21.7" font-weight="bold">16</text>
<text x="1337.3" y="426.1" font-size="21.7" font-weight="bold">5</text>
<text x="1162.0" y="427.8" font-size="21.7" font-weight="bold">13</text>
<text x="1179.8" y="478.4" font-size="21.7" font-weight="bold">12</text>
<text x="1271.6" y="497.5" font-size="21.7" font-weight="bold">2</text>
<text x="1338.6" y="482.4" font-size="21.7" font-weight="bold">17</text>
<text x="1437.8" y="468.0" font-size="21.7" font-weight="bold">7</text>
<text x="1374.0" y="514.2" font-size="21.7" font-weight="bold">6</text>
<text x="1601.0" y="370.2" font-size="21.7" font-weight="bold">11</text>
<text x="1154.4" y="62.0" font-size="27.4" font-weight="bold" style="fill:#000;stroke:#000">Lymphoid</text>
<text x="1154.4" y="93.8" font-size="27.4" font-weight="bold" style="fill:#000;stroke:#000">cells</text>
<text x="1388.2" y="97.2" font-size="27.3">Plasma cells</text>
<text x="1197.3" y="222.8" font-size="27.2">T cells</text>
<text x="1546.7" y="425.5" font-size="27.2">B cells</text>
<text x="1143.7" y="527.6" font-size="27.3">NK cells</text>
<line x1="1130.30" y1="125.00" x2="1134.00" y2="125.00" stroke="#a6abae" stroke-width="2.2"/>
<text x="1123.5" y="130.2" font-size="19" text-anchor="end">10</text>
<line x1="1130.30" y1="253.60" x2="1134.00" y2="253.60" stroke="#a6abae" stroke-width="2.2"/>
<text x="1123.5" y="258.8" font-size="19" text-anchor="end">5</text>
<line x1="1130.30" y1="382.20" x2="1134.00" y2="382.20" stroke="#a6abae" stroke-width="2.2"/>
<text x="1123.5" y="387.4" font-size="19" text-anchor="end">0</text>
<line x1="1130.30" y1="510.80" x2="1134.00" y2="510.80" stroke="#a6abae" stroke-width="2.2"/>
<text x="1123.5" y="516.0" font-size="19" text-anchor="end">−5</text>
<line x1="1229.00" y1="539.00" x2="1229.00" y2="543.00" stroke="#a6abae" stroke-width="2.2"/>
<text x="1226.0" y="560.8" font-size="19" text-anchor="middle">−5</text>
<line x1="1332.00" y1="539.00" x2="1332.00" y2="543.00" stroke="#a6abae" stroke-width="2.2"/>
<text x="1332.0" y="560.8" font-size="19" text-anchor="middle">0</text>
<line x1="1435.00" y1="539.00" x2="1435.00" y2="543.00" stroke="#a6abae" stroke-width="2.2"/>
<text x="1435.0" y="560.8" font-size="19" text-anchor="middle">5</text>
<line x1="1538.00" y1="539.00" x2="1538.00" y2="543.00" stroke="#a6abae" stroke-width="2.2"/>
<text x="1538.0" y="560.8" font-size="19" text-anchor="middle">10</text>
<line x1="1641.00" y1="539.00" x2="1641.00" y2="543.00" stroke="#a6abae" stroke-width="2.2"/>
<text x="1641.0" y="560.8" font-size="19" text-anchor="middle">15</text>
<text x="1421.0" y="583.5" font-size="19" text-anchor="middle">UMAP 1</text>
<text x="1103.5" y="269.7" font-size="19" text-anchor="middle" transform="rotate(-90 1103.5 269.7)">UMAP 2</text>
<text x="1656.8" y="66.0" font-size="23.4" font-weight="bold" style="fill:#000;stroke:#000">Cluster IDs with annotation</text>
<rect x="1660.30" y="84.50" width="17.50" height="16.50" fill="#e5706b"/>
<text x="1686.5" y="99.1" font-size="21.55" style="fill:#000;stroke:#000">1 - CD8 T cells</text>
<rect x="1660.30" y="110.12" width="17.50" height="16.50" fill="#ec8b2e"/>
<text x="1686.5" y="124.7" font-size="21.55" style="fill:#000;stroke:#000">2 - conventional NK cells</text>
<rect x="1660.30" y="135.74" width="17.50" height="16.50" fill="#ce9232"/>
<text x="1686.5" y="150.3" font-size="21.55" style="fill:#000;stroke:#000">3 - stressed cells I</text>
<rect x="1660.30" y="161.36" width="17.50" height="16.50" fill="#ada037"/>
<text x="1686.5" y="176.0" font-size="21.55" style="fill:#000;stroke:#000">4 - stressed cells II</text>
<rect x="1660.30" y="186.98" width="17.50" height="16.50" fill="#7daa4b"/>
<text x="1686.5" y="201.6" font-size="21.55" style="fill:#000;stroke:#000">5 - transitional T cells</text>
<rect x="1660.30" y="212.60" width="17.50" height="16.50" fill="#4db060"/>
<text x="1686.5" y="227.2" font-size="21.55" style="fill:#000;stroke:#000">6 - naive-like T cells I</text>
<rect x="1660.30" y="238.22" width="17.50" height="16.50" fill="#1fae54"/>
<text x="1686.5" y="252.8" font-size="21.55" style="fill:#000;stroke:#000">7 - naive-like T cells II</text>
<rect x="1660.30" y="263.84" width="17.50" height="16.50" fill="#14a877"/>
<text x="1686.5" y="278.4" font-size="21.55" style="fill:#000;stroke:#000">8 - act infl CD8 T cells</text>
<rect x="1660.30" y="289.46" width="17.50" height="16.50" fill="#12a99b"/>
<text x="1686.5" y="304.1" font-size="21.55" style="fill:#000;stroke:#000">9 - act effector CD4 T cells</text>
<rect x="1660.30" y="315.08" width="17.50" height="16.50" fill="#0fb3cc"/>
<text x="1686.5" y="329.7" font-size="21.55" style="fill:#000;stroke:#000">10 - cycl cyt exh CD8 T cells</text>
<rect x="1660.30" y="340.70" width="17.50" height="16.50" fill="#18a4dc"/>
<text x="1686.5" y="355.3" font-size="21.55" style="fill:#000;stroke:#000">11 - B cells</text>
<rect x="1660.30" y="366.32" width="17.50" height="16.50" fill="#4792ce"/>
<text x="1686.5" y="380.9" font-size="21.55" style="fill:#000;stroke:#000">12 - NKT-like cells</text>
<rect x="1660.30" y="391.94" width="17.50" height="16.50" fill="#7f86c0"/>
<text x="1686.5" y="406.5" font-size="21.55" style="fill:#000;stroke:#000">13 - regulatory T cells</text>
<rect x="1660.30" y="417.56" width="17.50" height="16.50" fill="#9b77ac"/>
<text x="1686.5" y="432.2" font-size="21.55" style="fill:#000;stroke:#000">14 - plasma cells</text>
<rect x="1660.30" y="443.18" width="17.50" height="16.50" fill="#b872a8"/>
<text x="1686.5" y="457.8" font-size="21.55" style="fill:#000;stroke:#000">15 - CD4/CD8 T cells</text>
<rect x="1660.30" y="468.80" width="17.50" height="16.50" fill="#e26ba6"/>
<text x="1686.5" y="483.4" font-size="21.55" style="fill:#000;stroke:#000">16 - early exh CD8 T cells</text>
<rect x="1660.30" y="494.42" width="17.50" height="16.50" fill="#e8638f"/>
<text x="1686.5" y="509.0" font-size="21.55" style="fill:#000;stroke:#000">17 - interferon-responsive T cells</text>
</g>
<g id="pD">
<text x="0.0" y="648.5" font-size="41" font-weight="bold">D</text>
<text x="276.0" y="656.7" font-size="27.5" text-anchor="middle" font-weight="bold" style="fill:#000;stroke:#000">Lymphoid cells</text>
<rect x="65.00" y="666.70" width="439.40" height="360.00" fill="#e5e5e5"/>
<line x1="65.00" y1="969.48" x2="504.40" y2="969.48" stroke="#f0f0f0" stroke-width="1.2"/>
<line x1="65.00" y1="887.62" x2="504.40" y2="887.62" stroke="#f0f0f0" stroke-width="1.2"/>
<line x1="65.00" y1="805.77" x2="504.40" y2="805.77" stroke="#f0f0f0" stroke-width="1.2"/>
<line x1="65.00" y1="723.92" x2="504.40" y2="723.92" stroke="#f0f0f0" stroke-width="1.2"/>
<line x1="65.00" y1="1010.40" x2="504.40" y2="1010.40" stroke="#ffffff" stroke-width="2.2"/>
<line x1="65.00" y1="928.55" x2="504.40" y2="928.55" stroke="#ffffff" stroke-width="2.2"/>
<line x1="65.00" y1="846.70" x2="504.40" y2="846.70" stroke="#ffffff" stroke-width="2.2"/>
<line x1="65.00" y1="764.85" x2="504.40" y2="764.85" stroke="#ffffff" stroke-width="2.2"/>
<line x1="65.00" y1="683.00" x2="504.40" y2="683.00" stroke="#ffffff" stroke-width="2.2"/>
<line x1="80.50" y1="666.70" x2="80.50" y2="1026.70" stroke="#ffffff" stroke-width="2.8"/>
<line x1="106.03" y1="666.70" x2="106.03" y2="1026.70" stroke="#ffffff" stroke-width="2.8"/>
<line x1="131.56" y1="666.70" x2="131.56" y2="1026.70" stroke="#ffffff" stroke-width="2.8"/>
<line x1="157.09" y1="666.70" x2="157.09" y2="1026.70" stroke="#ffffff" stroke-width="2.8"/>
<line x1="182.62" y1="666.70" x2="182.62" y2="1026.70" stroke="#ffffff" stroke-width="2.8"/>
<line x1="208.15" y1="666.70" x2="208.15" y2="1026.70" stroke="#ffffff" stroke-width="2.8"/>
<line x1="233.68" y1="666.70" x2="233.68" y2="1026.70" stroke="#ffffff" stroke-width="2.8"/>
<line x1="259.21" y1="666.70" x2="259.21" y2="1026.70" stroke="#ffffff" stroke-width="2.8"/>
<line x1="284.74" y1="666.70" x2="284.74" y2="1026.70" stroke="#ffffff" stroke-width="2.8"/>
<line x1="310.27" y1="666.70" x2="310.27" y2="1026.70" stroke="#ffffff" stroke-width="2.8"/>
<line x1="335.80" y1="666.70" x2="335.80" y2="1026.70" stroke="#ffffff" stroke-width="2.8"/>
<line x1="361.33" y1="666.70" x2="361.33" y2="1026.70" stroke="#ffffff" stroke-width="2.8"/>
<line x1="386.86" y1="666.70" x2="386.86" y2="1026.70" stroke="#ffffff" stroke-width="2.8"/>
<line x1="412.39" y1="666.70" x2="412.39" y2="1026.70" stroke="#ffffff" stroke-width="2.8"/>
<line x1="437.92" y1="666.70" x2="437.92" y2="1026.70" stroke="#ffffff" stroke-width="2.8"/>
<line x1="463.45" y1="666.70" x2="463.45" y2="1026.70" stroke="#ffffff" stroke-width="2.8"/>
<line x1="488.98" y1="666.70" x2="488.98" y2="1026.70" stroke="#ffffff" stroke-width="2.8"/>
<rect x="69.00" y="1003.85" width="23.00" height="6.55" fill="#d81b60"/>
<rect x="69.00" y="984.86" width="23.00" height="18.99" fill="#fbbc2c"/>
<rect x="69.00" y="945.90" width="23.00" height="38.96" fill="#004d40"/>
<rect x="69.00" y="683.00" width="23.00" height="262.90" fill="#2f7ec0"/>
<rect x="94.53" y="966.20" width="23.00" height="44.20" fill="#d81b60"/>
<rect x="94.53" y="918.73" width="23.00" height="47.47" fill="#fbbc2c"/>
<rect x="94.53" y="897.77" width="23.00" height="20.95" fill="#004d40"/>
<rect x="94.53" y="683.00" width="23.00" height="214.77" fill="#2f7ec0"/>
<rect x="120.06" y="972.75" width="23.00" height="37.65" fill="#d81b60"/>
<rect x="120.06" y="912.18" width="23.00" height="60.57" fill="#fbbc2c"/>
<rect x="120.06" y="888.28" width="23.00" height="23.90" fill="#004d40"/>
<rect x="120.06" y="683.00" width="23.00" height="205.28" fill="#2f7ec0"/>
<rect x="145.59" y="951.47" width="23.00" height="58.93" fill="#d81b60"/>
<rect x="145.59" y="898.10" width="23.00" height="53.37" fill="#fbbc2c"/>
<rect x="145.59" y="878.79" width="23.00" height="19.32" fill="#004d40"/>
<rect x="145.59" y="683.00" width="23.00" height="195.79" fill="#2f7ec0"/>
<rect x="171.12" y="950.81" width="23.00" height="59.59" fill="#d81b60"/>
<rect x="171.12" y="885.66" width="23.00" height="65.15" fill="#fbbc2c"/>
<rect x="171.12" y="858.81" width="23.00" height="26.85" fill="#004d40"/>
<rect x="171.12" y="683.00" width="23.00" height="175.81" fill="#2f7ec0"/>
<rect x="196.65" y="985.19" width="23.00" height="25.21" fill="#d81b60"/>
<rect x="196.65" y="921.67" width="23.00" height="63.52" fill="#fbbc2c"/>
<rect x="196.65" y="848.34" width="23.00" height="73.34" fill="#004d40"/>
<rect x="196.65" y="683.00" width="23.00" height="165.34" fill="#2f7ec0"/>
<rect x="222.18" y="938.04" width="23.00" height="72.36" fill="#d81b60"/>
<rect x="222.18" y="860.12" width="23.00" height="77.92" fill="#fbbc2c"/>
<rect x="222.18" y="834.91" width="23.00" height="25.21" fill="#004d40"/>
<rect x="222.18" y="683.00" width="23.00" height="151.91" fill="#2f7ec0"/>
<rect x="247.71" y="965.87" width="23.00" height="44.53" fill="#d81b60"/>
<rect x="247.71" y="870.60" width="23.00" height="95.27" fill="#fbbc2c"/>
<rect x="247.71" y="827.38" width="23.00" height="43.22" fill="#004d40"/>
<rect x="247.71" y="683.00" width="23.00" height="144.38" fill="#2f7ec0"/>
<rect x="273.24" y="948.85" width="23.00" height="61.55" fill="#d81b60"/>
<rect x="273.24" y="820.18" width="23.00" height="128.67" fill="#fbbc2c"/>
<rect x="273.24" y="801.19" width="23.00" height="18.99" fill="#004d40"/>
<rect x="273.24" y="683.00" width="23.00" height="118.19" fill="#2f7ec0"/>
<rect x="298.77" y="954.09" width="23.00" height="56.31" fill="#d81b60"/>
<rect x="298.77" y="853.58" width="23.00" height="100.51" fill="#fbbc2c"/>
<rect x="298.77" y="798.90" width="23.00" height="54.68" fill="#004d40"/>
<rect x="298.77" y="683.00" width="23.00" height="115.90" fill="#2f7ec0"/>
<rect x="324.30" y="858.81" width="23.00" height="151.59" fill="#d81b60"/>
<rect x="324.30" y="788.10" width="23.00" height="70.72" fill="#fbbc2c"/>
<rect x="324.30" y="772.05" width="23.00" height="16.04" fill="#004d40"/>
<rect x="324.30" y="683.00" width="23.00" height="89.05" fill="#2f7ec0"/>
<rect x="349.83" y="914.80" width="23.00" height="95.60" fill="#d81b60"/>
<rect x="349.83" y="794.64" width="23.00" height="120.16" fill="#fbbc2c"/>
<rect x="349.83" y="746.52" width="23.00" height="48.13" fill="#004d40"/>
<rect x="349.83" y="683.00" width="23.00" height="63.52" fill="#2f7ec0"/>
<rect x="375.36" y="946.23" width="23.00" height="64.17" fill="#d81b60"/>
<rect x="375.36" y="802.17" width="23.00" height="144.06" fill="#fbbc2c"/>
<rect x="375.36" y="738.66" width="23.00" height="63.52" fill="#004d40"/>
<rect x="375.36" y="683.00" width="23.00" height="55.66" fill="#2f7ec0"/>
<rect x="400.89" y="903.01" width="23.00" height="107.39" fill="#d81b60"/>
<rect x="400.89" y="816.25" width="23.00" height="86.76" fill="#fbbc2c"/>
<rect x="400.89" y="711.81" width="23.00" height="104.44" fill="#004d40"/>
<rect x="400.89" y="683.00" width="23.00" height="28.81" fill="#2f7ec0"/>
<rect x="426.42" y="792.68" width="23.00" height="217.72" fill="#d81b60"/>
<rect x="426.42" y="696.42" width="23.00" height="96.26" fill="#fbbc2c"/>
<rect x="426.42" y="687.26" width="23.00" height="9.17" fill="#004d40"/>
<rect x="426.42" y="683.00" width="23.00" height="4.26" fill="#2f7ec0"/>
<rect x="451.95" y="766.81" width="23.00" height="243.59" fill="#d81b60"/>
<rect x="451.95" y="711.81" width="23.00" height="55.00" fill="#fbbc2c"/>
<rect x="451.95" y="684.96" width="23.00" height="26.85" fill="#004d40"/>
<rect x="451.95" y="683.00" width="23.00" height="1.96" fill="#2f7ec0"/>
<rect x="477.48" y="715.09" width="23.00" height="295.31" fill="#d81b60"/>
<rect x="477.48" y="692.82" width="23.00" height="22.26" fill="#fbbc2c"/>
<rect x="477.48" y="683.33" width="23.00" height="9.49" fill="#004d40"/>
<rect x="477.48" y="683.00" width="23.00" height="0.33" fill="#2f7ec0"/>
<text x="57.0" y="1013.6" font-size="19" text-anchor="end">0</text>
<rect x="62.80" y="1010.20" width="2.00" height="2.40" fill="#231f20"/>
<text x="57.0" y="931.8" font-size="19" text-anchor="end">25</text>
<rect x="62.80" y="928.35" width="2.00" height="2.40" fill="#231f20"/>
<text x="57.0" y="849.9" font-size="19" text-anchor="end">50</text>
<rect x="62.80" y="846.50" width="2.00" height="2.40" fill="#231f20"/>
<text x="57.0" y="768.0" font-size="19" text-anchor="end">75</text>
<rect x="62.80" y="764.65" width="2.00" height="2.40" fill="#231f20"/>
<text x="57.0" y="686.2" font-size="19" text-anchor="end">100</text>
<rect x="62.80" y="682.80" width="2.00" height="2.40" fill="#231f20"/>
<text x="80.5" y="1047.0" font-size="19.5" text-anchor="middle">3</text>
<text x="106.0" y="1047.0" font-size="19.5" text-anchor="middle">5</text>
<text x="131.6" y="1047.0" font-size="19.5" text-anchor="middle">12</text>
<text x="157.1" y="1047.0" font-size="19.5" text-anchor="middle">1</text>
<text x="182.6" y="1047.0" font-size="19.5" text-anchor="middle">2</text>
<text x="208.2" y="1047.0" font-size="19.5" text-anchor="middle">7</text>
<text x="233.7" y="1047.0" font-size="19.5" text-anchor="middle">8</text>
<text x="259.2" y="1047.0" font-size="19.5" text-anchor="middle">9</text>
<text x="284.7" y="1047.0" font-size="19.5" text-anchor="middle">15</text>
<text x="310.3" y="1047.0" font-size="19.5" text-anchor="middle">11</text>
<text x="335.8" y="1047.0" font-size="19.5" text-anchor="middle">4</text>
<text x="361.3" y="1047.0" font-size="19.5" text-anchor="middle">16</text>
<text x="386.9" y="1047.0" font-size="19.5" text-anchor="middle">6</text>
<text x="412.4" y="1047.0" font-size="19.5" text-anchor="middle">14</text>
<text x="437.9" y="1047.0" font-size="19.5" text-anchor="middle">17</text>
<text x="463.5" y="1047.0" font-size="19.5" text-anchor="middle">13</text>
<text x="489.0" y="1047.0" font-size="19.5" text-anchor="middle">10</text>
<text x="281.0" y="1064.0" font-size="19.8" text-anchor="middle">Cluster</text>
<text x="31.5" y="833.0" font-size="19.5" text-anchor="middle" transform="rotate(-90 31.5 833.0)">Fraction</text>
<text x="33.5" y="1112.6" font-size="23.1" font-weight="bold" style="fill:#000;stroke:#000">Tissue Region</text>
<rect x="197.50" y="1087.00" width="15.70" height="15.70" fill="#2f7ec0"/>
<text x="216.0" y="1102.5" font-size="21.5">Non-metastatic</text>
<rect x="197.50" y="1111.40" width="15.70" height="15.70" fill="#004d40"/>
<text x="216.0" y="1127.2" font-size="21.5">Distant</text>
<rect x="366.30" y="1087.00" width="15.70" height="15.70" fill="#fbbc2c"/>
<text x="388.0" y="1099.3" font-size="21.5">Peritumoral</text>
<rect x="366.30" y="1111.20" width="15.70" height="15.70" fill="#d81b60"/>
<text x="388.0" y="1125.8" font-size="21.5">Tumor</text>
</g>
<g id="pE">
<text x="501.0" y="651.0" font-size="41" font-weight="bold">E</text>
<text x="587.0" y="646.3" font-size="27.4" font-weight="bold" style="fill:#000;stroke:#000">Functional</text>
<text x="587.0" y="673.3" font-size="27.4" font-weight="bold" style="fill:#000;stroke:#000">CD8<tspan font-size="16" dy="-9">+</tspan><tspan dy="9"> T cell signatures</tspan></text>
<path d="M620.9 966.1C639.8 966.1 639.8 958.6 658.8 958.6L658.8 981.7C639.8 981.7 639.8 981.7 620.9 981.7Z" fill="#c673a6" fill-opacity="0.28" stroke="#c673a6" stroke-opacity="0.35" stroke-width="0.7"/>
<path d="M678.1 958.6C697.0 958.6 697.0 966.1 716.0 966.1L716.0 981.7C697.0 981.7 697.0 981.7 678.1 981.7Z" fill="#c673a6" fill-opacity="0.28" stroke="#c673a6" stroke-opacity="0.35" stroke-width="0.7"/>
<path d="M735.3 966.1C754.3 966.1 754.3 971.5 773.3 971.5L773.3 981.7C754.3 981.7 754.3 981.7 735.3 981.7Z" fill="#c673a6" fill-opacity="0.28" stroke="#c673a6" stroke-opacity="0.35" stroke-width="0.7"/>
<path d="M620.9 966.1C639.8 966.1 639.8 940.6 658.8 940.6L658.8 958.6C639.8 958.6 639.8 966.1 620.9 966.1Z" fill="#668cc8" fill-opacity="0.28" stroke="#668cc8" stroke-opacity="0.35" stroke-width="0.7"/>
<path d="M678.1 940.6C697.0 940.6 697.0 938.2 716.0 938.2L716.0 966.1C697.0 966.1 697.0 958.6 678.1 958.6Z" fill="#668cc8" fill-opacity="0.28" stroke="#668cc8" stroke-opacity="0.35" stroke-width="0.7"/>
<path d="M735.3 938.2C754.3 938.2 754.3 863.1 773.3 863.1L773.3 971.5C754.3 971.5 754.3 966.1 735.3 966.1Z" fill="#668cc8" fill-opacity="0.28" stroke="#668cc8" stroke-opacity="0.35" stroke-width="0.7"/>
<path d="M620.9 966.1C639.8 966.1 639.8 940.0 658.8 940.0L658.8 940.6C639.8 940.6 639.8 966.1 620.9 966.1Z" fill="#12a5db" fill-opacity="0.28" stroke="#12a5db" stroke-opacity="0.35" stroke-width="0.7"/>
<path d="M678.1 940.0C697.0 940.0 697.0 934.6 716.0 934.6L716.0 938.2C697.0 938.2 697.0 940.6 678.1 940.6Z" fill="#12a5db" fill-opacity="0.28" stroke="#12a5db" stroke-opacity="0.35" stroke-width="0.7"/>
<path d="M735.3 934.6C754.3 934.6 754.3 857.4 773.3 857.4L773.3 863.1C754.3 863.1 754.3 938.2 735.3 938.2Z" fill="#12a5db" fill-opacity="0.28" stroke="#12a5db" stroke-opacity="0.35" stroke-width="0.7"/>
<path d="M620.9 946.3C639.8 946.3 639.8 913.5 658.8 913.5L658.8 940.0C639.8 940.0 639.8 966.1 620.9 966.1Z" fill="#1baa5a" fill-opacity="0.28" stroke="#1baa5a" stroke-opacity="0.35" stroke-width="0.7"/>
<path d="M678.1 913.5C697.0 913.5 697.0 909.6 716.0 909.6L716.0 934.6C697.0 934.6 697.0 940.0 678.1 940.0Z" fill="#1baa5a" fill-opacity="0.28" stroke="#1baa5a" stroke-opacity="0.35" stroke-width="0.7"/>
<path d="M735.3 909.6C754.3 909.6 754.3 846.6 773.3 846.6L773.3 857.4C754.3 857.4 754.3 934.6 735.3 934.6Z" fill="#1baa5a" fill-opacity="0.28" stroke="#1baa5a" stroke-opacity="0.35" stroke-width="0.7"/>
<path d="M620.9 887.1C639.8 887.1 639.8 810.5 658.8 810.5L658.8 913.5C639.8 913.5 639.8 946.3 620.9 946.3Z" fill="#b09e38" fill-opacity="0.28" stroke="#b09e38" stroke-opacity="0.35" stroke-width="0.7"/>
<path d="M678.1 810.5C697.0 810.5 697.0 800.6 716.0 800.6L716.0 909.6C697.0 909.6 697.0 913.5 678.1 913.5Z" fill="#b09e38" fill-opacity="0.28" stroke="#b09e38" stroke-opacity="0.35" stroke-width="0.7"/>
<path d="M735.3 800.6C754.3 800.6 754.3 746.6 773.3 746.6L773.3 846.6C754.3 846.6 754.3 909.6 735.3 909.6Z" fill="#b09e38" fill-opacity="0.28" stroke="#b09e38" stroke-opacity="0.35" stroke-width="0.7"/>
<path d="M620.9 681.4C639.8 681.4 639.8 681.4 658.8 681.4L658.8 810.5C639.8 810.5 639.8 887.1 620.9 887.1Z" fill="#dd8a2e" fill-opacity="0.28" stroke="#dd8a2e" stroke-opacity="0.35" stroke-width="0.7"/>
<path d="M678.1 681.4C697.0 681.4 697.0 681.4 716.0 681.4L716.0 800.6C697.0 800.6 697.0 810.5 678.1 810.5Z" fill="#dd8a2e" fill-opacity="0.28" stroke="#dd8a2e" stroke-opacity="0.35" stroke-width="0.7"/>
<path d="M735.3 681.4C754.3 681.4 754.3 681.4 773.3 681.4L773.3 746.6C754.3 746.6 754.3 800.6 735.3 800.6Z" fill="#dd8a2e" fill-opacity="0.28" stroke="#dd8a2e" stroke-opacity="0.35" stroke-width="0.7"/>
<rect x="601.60" y="966.08" width="19.30" height="15.62" fill="#c673a6" stroke="#4a8fd0" stroke-width="1.2"/>
<rect x="601.60" y="946.26" width="19.30" height="19.82" fill="#1baa5a" stroke="#4a8fd0" stroke-width="1.2"/>
<rect x="601.60" y="887.11" width="19.30" height="59.16" fill="#b09e38" stroke="#4a8fd0" stroke-width="1.2"/>
<rect x="601.60" y="681.40" width="19.30" height="205.71" fill="#dd8a2e" stroke="#4a8fd0" stroke-width="1.2"/>
<rect x="658.80" y="958.58" width="19.30" height="23.12" fill="#c673a6" stroke="#1d6b50" stroke-width="1.2"/>
<rect x="658.80" y="940.56" width="19.30" height="18.02" fill="#668cc8" stroke="#1d6b50" stroke-width="1.2"/>
<rect x="658.80" y="939.96" width="19.30" height="0.60" fill="#12a5db" stroke="#1d6b50" stroke-width="1.2"/>
<rect x="658.80" y="913.53" width="19.30" height="26.43" fill="#1baa5a" stroke="#1d6b50" stroke-width="1.2"/>
<rect x="658.80" y="810.53" width="19.30" height="103.00" fill="#b09e38" stroke="#1d6b50" stroke-width="1.2"/>
<rect x="658.80" y="681.40" width="19.30" height="129.13" fill="#dd8a2e" stroke="#1d6b50" stroke-width="1.2"/>
<rect x="716.00" y="966.08" width="19.30" height="15.62" fill="#c673a6" stroke="#fbbc2c" stroke-width="1.2"/>
<rect x="716.00" y="938.16" width="19.30" height="27.93" fill="#668cc8" stroke="#fbbc2c" stroke-width="1.2"/>
<rect x="716.00" y="934.55" width="19.30" height="3.60" fill="#12a5db" stroke="#fbbc2c" stroke-width="1.2"/>
<rect x="716.00" y="909.63" width="19.30" height="24.92" fill="#1baa5a" stroke="#fbbc2c" stroke-width="1.2"/>
<rect x="716.00" y="800.62" width="19.30" height="109.01" fill="#b09e38" stroke="#fbbc2c" stroke-width="1.2"/>
<rect x="716.00" y="681.40" width="19.30" height="119.22" fill="#dd8a2e" stroke="#fbbc2c" stroke-width="1.2"/>
<rect x="773.30" y="971.49" width="19.30" height="10.21" fill="#c673a6" stroke="#d81b60" stroke-width="1.2"/>
<rect x="773.30" y="863.08" width="19.30" height="108.41" fill="#668cc8" stroke="#d81b60" stroke-width="1.2"/>
<rect x="773.30" y="857.38" width="19.30" height="5.71" fill="#12a5db" stroke="#d81b60" stroke-width="1.2"/>
<rect x="773.30" y="846.57" width="19.30" height="10.81" fill="#1baa5a" stroke="#d81b60" stroke-width="1.2"/>
<rect x="773.30" y="746.57" width="19.30" height="100.00" fill="#b09e38" stroke="#d81b60" stroke-width="1.2"/>
<rect x="773.30" y="681.40" width="19.30" height="65.17" fill="#dd8a2e" stroke="#d81b60" stroke-width="1.2"/>
<line x1="577.00" y1="679.70" x2="577.00" y2="997.30" stroke="#333" stroke-width="1.2"/>
<line x1="576.40" y1="996.80" x2="817.00" y2="996.80" stroke="#333" stroke-width="1.2"/>
<line x1="574.00" y1="981.70" x2="577.00" y2="981.70" stroke="#333" stroke-width="1.1"/>
<text x="567.5" y="989.2" font-size="19.8" text-anchor="end">0</text>
<line x1="574.00" y1="906.62" x2="577.00" y2="906.62" stroke="#333" stroke-width="1.1"/>
<text x="567.5" y="914.1" font-size="19.8" text-anchor="end">25</text>
<line x1="574.00" y1="831.55" x2="577.00" y2="831.55" stroke="#333" stroke-width="1.1"/>
<text x="567.5" y="839.0" font-size="19.8" text-anchor="end">50</text>
<line x1="574.00" y1="756.48" x2="577.00" y2="756.48" stroke="#333" stroke-width="1.1"/>
<text x="567.5" y="764.0" font-size="19.8" text-anchor="end">75</text>
<line x1="574.00" y1="681.40" x2="577.00" y2="681.40" stroke="#333" stroke-width="1.1"/>
<text x="567.5" y="688.9" font-size="19.8" text-anchor="end">100</text>
<line x1="611.25" y1="996.80" x2="611.25" y2="1000.00" stroke="#333" stroke-width="1.1"/>
<text x="629.4" y="1013.6" font-size="21.1" text-anchor="end" transform="rotate(-45 629.4 1013.6)">Non-metastatic</text>
<line x1="668.45" y1="996.80" x2="668.45" y2="1000.00" stroke="#333" stroke-width="1.1"/>
<text x="680.9" y="1014.7" font-size="21.1" text-anchor="end" transform="rotate(-45 680.9 1014.7)">Distant</text>
<line x1="725.65" y1="996.80" x2="725.65" y2="1000.00" stroke="#333" stroke-width="1.1"/>
<text x="743.8" y="1012.4" font-size="21.1" text-anchor="end" transform="rotate(-45 743.8 1012.4)">Peritumoral</text>
<line x1="782.95" y1="996.80" x2="782.95" y2="1000.00" stroke="#333" stroke-width="1.1"/>
<text x="790.7" y="1013.6" font-size="21.1" text-anchor="end" transform="rotate(-45 790.7 1013.6)">Tumor</text>
<text x="533.5" y="837.4" font-size="20" text-anchor="middle" transform="rotate(-90 533.5 837.4)">Percentage</text>
<text x="687.0" y="1110.0" font-size="21.45" text-anchor="middle" font-weight="bold" style="fill:#000;stroke:#000">Tissue Region</text>
<rect x="798.90" y="757.90" width="19.00" height="20.50" fill="#dd8a2e" stroke="#222" stroke-width="1.3"/>
<text x="826.7" y="774.5" font-size="21.3">CM</text>
<rect x="798.90" y="779.20" width="19.00" height="20.50" fill="#b09e38" stroke="#222" stroke-width="1.3"/>
<text x="826.7" y="795.8" font-size="21.3">EM</text>
<rect x="798.90" y="800.50" width="19.00" height="20.50" fill="#1baa5a" stroke="#222" stroke-width="1.3"/>
<text x="826.7" y="817.1" font-size="21.3">TEMRA</text>
<rect x="798.90" y="821.80" width="19.00" height="20.50" fill="#12a5db" stroke="#222" stroke-width="1.3"/>
<text x="826.7" y="838.4" font-size="21.3">TPEX</text>
<rect x="798.90" y="843.10" width="19.00" height="20.50" fill="#668cc8" stroke="#222" stroke-width="1.3"/>
<text x="826.7" y="859.7" font-size="21.3">TEX</text>
<rect x="798.90" y="864.40" width="19.00" height="20.50" fill="#c673a6" stroke="#222" stroke-width="1.3"/>
<text x="826.7" y="881.0" font-size="21.3">NaiveLike</text>
</g>
<g id="pF">
<text x="935.0" y="648.5" font-size="41" font-weight="bold">F</text>
<text x="1010.7" y="673.0" font-size="23" style="fill:#000;stroke:#000">1x10<tspan font-size="13" dy="-8">6</tspan><tspan dy="8" dx="-2"> SO1</tspan></text>
<g transform="translate(960,650) scale(0.1)"><g transform="rotate(31.5 175 290)">
<rect x="160" y="235" width="22" height="110" rx="8" fill="#3a3a3a"/>
<rect x="180" y="280" width="70" height="18" fill="#3a3a3a"/>
<rect x="245" y="230" width="20" height="120" rx="8" fill="#3a3a3a"/>
<rect x="265" y="255" width="330" height="70" fill="#ececec" stroke="#3a3a3a" stroke-width="12"/>
<rect x="470" y="262" width="120" height="56" fill="#c58a1f"/>
<rect x="300" y="290" width="10" height="32" fill="#3a3a3a"/>
<rect x="335" y="290" width="10" height="32" fill="#3a3a3a"/>
<rect x="370" y="290" width="10" height="32" fill="#3a3a3a"/>
<rect x="405" y="290" width="10" height="32" fill="#3a3a3a"/>
<rect x="440" y="290" width="10" height="32" fill="#3a3a3a"/>
<rect x="598" y="268" width="45" height="44" rx="10" fill="#ddd" stroke="#3a3a3a" stroke-width="9"/>
<rect x="645" y="286" width="195" height="7" fill="#222"/>
</g></g>
<g transform="translate(960,650) scale(0.1)">
<path d="M650 770C560 780 470 840 465 900C460 980 560 1000 680 970C800 940 900 890 1000 940" fill="none" stroke="#b9817a" stroke-width="19" stroke-linecap="round"/>
<path d="M690 820C700 870 740 880 790 880L850 890L845 860L880 855L870 835L760 820Z" fill="#c48d86"/>
<path d="M1140 810C1150 850 1180 880 1240 885L1300 870L1270 850L1215 845L1195 810Z" fill="#c48d86"/>
<path d="M622 745C640 680 720 600 850 560C950 540 1050 545 1120 570L1165 535C1170 500 1210 495 1235 520L1250 535C1310 560 1380 600 1418 630C1425 660 1400 685 1370 690C1330 700 1280 720 1250 750C1220 790 1200 830 1120 850C1050 860 980 810 900 815C820 825 760 850 700 830C650 810 615 790 622 745Z" fill="#514e4d"/>
<path d="M640 770C700 700 780 660 850 680C900 760 1000 790 1120 850C1050 860 980 810 900 815C820 825 760 850 700 830C660 815 640 800 640 770Z" fill="#403d3c" opacity="0.6"/>
<path d="M1120 590C1125 550 1160 540 1185 560C1200 590 1200 620 1180 635C1150 635 1125 620 1120 590Z" fill="#c88a86"/>
<path d="M1165 535C1170 500 1210 495 1235 520L1250 545L1200 560Z" fill="#454241"/>
<circle cx="1302" cy="615" r="11" fill="#2a1518"/>
<path d="M1400 615C1420 620 1425 640 1415 650L1395 640Z" fill="#c88a86"/>
<path d="M1395 600L1440 545M1400 605L1420 560" stroke="#cfcfcf" stroke-width="5" fill="none"/>
</g>
<g transform="translate(1326.2,646) scale(0.1)">
<path d="M650 770C560 780 470 840 465 900C460 980 560 1000 680 970C800 940 900 890 1000 940" fill="none" stroke="#b9817a" stroke-width="19" stroke-linecap="round"/>
<path d="M690 820C700 870 740 880 790 880L850 890L845 860L880 855L870 835L760 820Z" fill="#c48d86"/>
<path d="M1140 810C1150 850 1180 880 1240 885L1300 870L1270 850L1215 845L1195 810Z" fill="#c48d86"/>
<path d="M622 745C640 680 720 600 850 560C950 540 1050 545 1120 570L1165 535C1170 500 1210 495 1235 520L1250 535C1310 560 1380 600 1418 630C1425 660 1400 685 1370 690C1330 700 1280 720 1250 750C1220 790 1200 830 1120 850C1050 860 980 810 900 815C820 825 760 850 700 830C650 810 615 790 622 745Z" fill="#514e4d"/>
<path d="M640 770C700 700 780 660 850 680C900 760 1000 790 1120 850C1050 860 980 810 900 815C820 825 760 850 700 830C660 815 640 800 640 770Z" fill="#403d3c" opacity="0.6"/>
<path d="M1120 590C1125 550 1160 540 1185 560C1200 590 1200 620 1180 635C1150 635 1125 620 1120 590Z" fill="#c88a86"/>
<path d="M1165 535C1170 500 1210 495 1235 520L1250 545L1200 560Z" fill="#454241"/>
<circle cx="1302" cy="615" r="11" fill="#2a1518"/>
<path d="M1400 615C1420 620 1425 640 1415 650L1395 640Z" fill="#c88a86"/>
<path d="M1395 600L1440 545M1400 605L1420 560" stroke="#cfcfcf" stroke-width="5" fill="none"/>
<circle cx="850" cy="708" r="100" fill="#d9707f" opacity="0.55"/>
<circle cx="902" cy="708" r="34" fill="#ef93a0" stroke="#d9687a" stroke-width="7"/>
<circle cx="876" cy="753" r="34" fill="#ef93a0" stroke="#d9687a" stroke-width="7"/>
<circle cx="824" cy="753" r="34" fill="#ef93a0" stroke="#d9687a" stroke-width="7"/>
<circle cx="798" cy="708" r="34" fill="#ef93a0" stroke="#d9687a" stroke-width="7"/>
<circle cx="824" cy="663" r="34" fill="#ef93a0" stroke="#d9687a" stroke-width="7"/>
<circle cx="876" cy="663" r="34" fill="#ef93a0" stroke="#d9687a" stroke-width="7"/>
<circle cx="850" cy="708" r="34" fill="#ef93a0" stroke="#d9687a" stroke-width="7"/>
</g>
<line x1="1051.50" y1="745.00" x2="1051.50" y2="779.00" stroke="#7d8388" stroke-width="3"/>
<path d="M1045.2 777L1057.8 777L1051.5 789.5Z" fill="#7d8388"/>
<line x1="1051.40" y1="818.80" x2="1499.70" y2="818.80" stroke="#231f20" stroke-width="2.6"/>
<circle cx="1051.40" cy="818.60" r="18.20" fill="#000"/>
<circle cx="1118.70" cy="818.80" r="7.90" fill="#4caf50" stroke="#7b5ea7" stroke-width="2.9"/>
<circle cx="1182.80" cy="818.80" r="7.90" fill="#4caf50" stroke="#7b5ea7" stroke-width="2.9"/>
<circle cx="1243.60" cy="818.80" r="7.90" fill="#4caf50" stroke="#7b5ea7" stroke-width="2.9"/>
<circle cx="1298.00" cy="818.80" r="7.90" fill="#4caf50" stroke="#7b5ea7" stroke-width="2.9"/>
<circle cx="1359.00" cy="818.80" r="7.90" fill="#4caf50" stroke="#7b5ea7" stroke-width="2.9"/>
<text x="975.8" y="827.8" font-size="23.4" style="fill:#000;stroke:#000">Days</text>
<text x="1048.0" y="863.0" font-size="19" text-anchor="middle" style="fill:#000;stroke:#000">0</text>
<text x="1115.8" y="863.0" font-size="19" text-anchor="middle" style="fill:#000;stroke:#000">4</text>
<text x="1167.6" y="863.0" font-size="19" text-anchor="middle" style="fill:#000;stroke:#000">6</text>
<text x="1241.0" y="863.0" font-size="19" text-anchor="middle" style="fill:#000;stroke:#000">8</text>
<text x="1298.7" y="863.0" font-size="19" text-anchor="middle" style="fill:#000;stroke:#000">14</text>
<text x="1339.7" y="863.0" font-size="19" text-anchor="middle" style="fill:#000;stroke:#000">16</text>
<text x="1271.0" y="806.6" font-size="19" text-anchor="middle" style="fill:#000;stroke:#000">12</text>
<text x="1437.3" y="806.6" font-size="19" style="fill:#000;stroke:#000">20</text>
<line x1="1182.80" y1="831.50" x2="1182.80" y2="866.00" stroke="#222" stroke-width="1.1" stroke-dasharray="4 3"/>
<path d="M1180.2 865.5L1185.3999999999999 865.5L1182.8 871.5Z" fill="#222"/>
<line x1="1359.00" y1="831.50" x2="1359.00" y2="866.00" stroke="#222" stroke-width="1.1" stroke-dasharray="4 3"/>
<path d="M1356.4 865.5L1361.6 865.5L1359 871.5Z" fill="#222"/>
<line x1="1423.60" y1="752.00" x2="1423.60" y2="797.00" stroke="#231f20" stroke-width="2.3"/>
<circle cx="1423.60" cy="797.50" r="4.70" fill="#111"/>
<text x="1309.6" y="773.9" font-size="23.4" style="fill:#000;stroke:#000">Necropsy and tumor isolation</text>
<text x="1016.5" y="907.8" font-size="23.4" style="fill:#000;stroke:#000">Body weight monitoring and survival</text>
<text x="1500.6" y="861.7" font-size="23.4" style="fill:#000;stroke:#000">Flow</text>
<text x="1500.6" y="890.2" font-size="23.4" style="fill:#000;stroke:#000">cytometry</text>
<g transform="translate(1300,680) scale(0.16)">
<path d="M1030 960L1150 955C1162 955 1166 962 1166 975L1168 1370L1030 1432Z" fill="#4f5c90"/>
<path d="M635 1000C635 970 655 952 690 952L1030 955L1030 1432L900 1410L660 1395L635 1385Z" fill="#6b779f"/>
<path d="M690 955L1000 955L985 1005L675 1005Z" fill="#b9bab5"/>
<path d="M690 955L1000 955L998 965L688 965Z" fill="#8e8f8b"/>
<path d="M636 1140L1065 1150L1065 1200L636 1215Z" fill="#5f6b97"/>
<path d="M636 1142L1030 1150" stroke="#55618c" stroke-width="6" fill="none"/>
<rect x="782" y="1093" width="60" height="22" fill="#c9cac4"/>
<rect x="650" y="1222" width="105" height="66" fill="none" stroke="#55618c" stroke-width="5"/>
<rect x="765" y="1222" width="118" height="66" fill="none" stroke="#55618c" stroke-width="5"/>
<path d="M735 1262H790" stroke="#2d3350" stroke-width="8"/>
<path d="M680 1325C730 1320 790 1325 830 1335C800 1365 740 1385 700 1375C690 1360 682 1345 680 1325Z" fill="#b5b8b5"/>
<path d="M900 1250C900 1240 905 1235 915 1235L1065 1235L1065 1370L1000 1415L900 1400Z" fill="#adb0ab"/>
<rect x="950" y="1235" width="60" height="48" fill="#3c3c44"/>
<rect x="960" y="1238" width="16" height="10" fill="#c02a8a"/>
<path d="M970 1283C975 1320 1000 1320 1005 1350" stroke="#222" stroke-width="5" fill="none"/>
<rect x="932" y="1345" width="78" height="62" fill="#2c2d33"/>
<rect x="650" y="1385" width="25" height="14" fill="#2c2d33"/><rect x="1000" y="1418" width="25" height="16" fill="#2c2d33"/>
</g>
</g>
<g id="pG">
<text x="1622.0" y="637.5" font-size="41" font-weight="bold">G</text>
<line x1="1731.60" y1="621.80" x2="1731.60" y2="916.00" stroke="#000" stroke-width="2.6"/>
<line x1="1721.00" y1="914.70" x2="1948.70" y2="914.70" stroke="#000" stroke-width="2.6"/>
<line x1="1721.00" y1="623.00" x2="1731.60" y2="623.00" stroke="#000" stroke-width="2.6"/>
<text x="1715.0" y="629.5" font-size="18.5" text-anchor="end" style="fill:#000;stroke:#000">80</text>
<line x1="1721.00" y1="696.00" x2="1731.60" y2="696.00" stroke="#000" stroke-width="2.6"/>
<text x="1715.0" y="702.5" font-size="18.5" text-anchor="end" style="fill:#000;stroke:#000">60</text>
<line x1="1721.00" y1="769.30" x2="1731.60" y2="769.30" stroke="#000" stroke-width="2.6"/>
<text x="1715.0" y="775.8" font-size="18.5" text-anchor="end" style="fill:#000;stroke:#000">40</text>
<line x1="1721.00" y1="841.90" x2="1731.60" y2="841.90" stroke="#000" stroke-width="2.6"/>
<text x="1715.0" y="848.4" font-size="18.5" text-anchor="end" style="fill:#000;stroke:#000">20</text>
<line x1="1721.00" y1="914.70" x2="1731.60" y2="914.70" stroke="#000" stroke-width="2.6"/>
<text x="1715.0" y="921.2" font-size="18.5" text-anchor="end" style="fill:#000;stroke:#000">0</text>
<line x1="1774.40" y1="914.70" x2="1774.40" y2="924.50" stroke="#000" stroke-width="2.6"/>
<line x1="1839.40" y1="914.70" x2="1839.40" y2="924.50" stroke="#000" stroke-width="2.6"/>
<line x1="1904.00" y1="914.70" x2="1904.00" y2="924.50" stroke="#000" stroke-width="2.6"/>
<text x="1779.0" y="944.4" font-size="20.5" text-anchor="middle" style="fill:#000;stroke:#000">TCF1<tspan font-size="13" dy="-7">+</tspan></text>
<text x="1845.0" y="944.4" font-size="20.5" text-anchor="middle" style="fill:#000;stroke:#000">TIM3<tspan font-size="13" dy="-7">-</tspan></text>
<text x="1911.6" y="944.4" font-size="20.5" text-anchor="middle" style="fill:#000;stroke:#000">TIM3<tspan font-size="13" dy="-7">+</tspan></text>
<text x="1688.4" y="777.0" font-size="20" text-anchor="middle" style="fill:#000;stroke:#000" transform="rotate(-90 1688.4 777.0)">% of PD1<tspan font-size="13" dy="-7">+</tspan><tspan dy="7">CD8</tspan><tspan font-size="13" dy="-7">+</tspan><tspan dy="7"> T cells</tspan></text>
<text x="1842.0" y="651.3" font-size="20" text-anchor="middle" style="fill:#000;stroke:#000"><tspan font-style="italic">p</tspan>&lt;0.0001</text>
<line x1="1777.00" y1="660.30" x2="1903.50" y2="660.30" stroke="#000" stroke-width="2.2"/>
<text x="1808.0" y="708.6" font-size="20" text-anchor="middle" style="fill:#000;stroke:#000" text-decoration="underline"><tspan font-style="italic">p</tspan>=0.002</text>
<line x1="1774.40" y1="715.00" x2="1839.60" y2="715.00" stroke="#000" stroke-width="2.2"/>
<line x1="1774.41" y1="860.97" x2="1774.41" y2="905.61" stroke="#000" stroke-width="2.2"/>
<line x1="1774.41" y1="912.64" x2="1774.41" y2="913.65" stroke="#000" stroke-width="2.2"/>
<line x1="1763.76" y1="860.97" x2="1785.27" y2="860.97" stroke="#000" stroke-width="2.2"/>
<line x1="1763.76" y1="913.65" x2="1785.27" y2="913.65" stroke="#000" stroke-width="2.2"/>
<rect x="1753.7" y="905.6" width="42.2" height="7.0" fill="none" stroke="#000" stroke-width="2.2"/>
<line x1="1753.70" y1="909.03" x2="1795.93" y2="909.03" stroke="#000" stroke-width="2.2"/>
<line x1="1839.35" y1="728.68" x2="1839.35" y2="783.97" stroke="#000" stroke-width="2.2"/>
<line x1="1839.35" y1="856.95" x2="1839.35" y2="869.42" stroke="#000" stroke-width="2.2"/>
<line x1="1829.10" y1="728.68" x2="1850.21" y2="728.68" stroke="#000" stroke-width="2.2"/>
<line x1="1829.10" y1="869.42" x2="1850.21" y2="869.42" stroke="#000" stroke-width="2.2"/>
<rect x="1819.0" y="784.0" width="40.8" height="73.0" fill="none" stroke="#000" stroke-width="2.2"/>
<line x1="1819.05" y1="832.22" x2="1859.86" y2="832.22" stroke="#000" stroke-width="2.2"/>
<line x1="1904.09" y1="684.85" x2="1904.09" y2="774.92" stroke="#000" stroke-width="2.2"/>
<line x1="1904.09" y1="832.62" x2="1904.09" y2="845.29" stroke="#000" stroke-width="2.2"/>
<line x1="1893.44" y1="684.85" x2="1914.95" y2="684.85" stroke="#000" stroke-width="2.2"/>
<line x1="1893.44" y1="845.29" x2="1914.95" y2="845.29" stroke="#000" stroke-width="2.2"/>
<rect x="1884.0" y="774.9" width="41.0" height="57.7" fill="none" stroke="#000" stroke-width="2.2"/>
<line x1="1883.99" y1="827.80" x2="1925.00" y2="827.80" stroke="#000" stroke-width="2.2"/>
<circle cx="1774.41" cy="860.97" r="3.70" fill="#000"/>
<circle cx="1755.71" cy="903.60" r="3.70" fill="#000"/>
<circle cx="1764.76" cy="904.60" r="3.70" fill="#000"/>
<circle cx="1774.41" cy="903.19" r="3.70" fill="#000"/>
<circle cx="1783.86" cy="905.21" r="3.70" fill="#000"/>
<circle cx="1793.91" cy="903.60" r="3.70" fill="#000"/>
<circle cx="1755.11" cy="910.63" r="3.70" fill="#000"/>
<circle cx="1774.41" cy="911.24" r="3.70" fill="#000"/>
<circle cx="1793.31" cy="911.24" r="3.70" fill="#000"/>
<circle cx="1839.35" cy="728.68" r="3.70" fill="#000"/>
<circle cx="1839.35" cy="767.48" r="3.70" fill="#000"/>
<circle cx="1839.35" cy="798.04" r="3.70" fill="#000"/>
<circle cx="1839.35" cy="825.79" r="3.70" fill="#000"/>
<circle cx="1839.35" cy="832.82" r="3.70" fill="#000"/>
<circle cx="1834.53" cy="855.34" r="3.70" fill="#000"/>
<circle cx="1844.18" cy="854.34" r="3.70" fill="#000"/>
<circle cx="1839.35" cy="862.38" r="3.70" fill="#000"/>
<circle cx="1839.35" cy="869.82" r="3.70" fill="#000"/>
<circle cx="1904.09" cy="684.85" r="3.70" fill="#000"/>
<circle cx="1904.09" cy="758.43" r="3.70" fill="#000"/>
<circle cx="1904.09" cy="788.39" r="3.70" fill="#000"/>
<circle cx="1904.09" cy="827.20" r="3.70" fill="#000"/>
<circle cx="1914.55" cy="823.78" r="3.70" fill="#000"/>
<circle cx="1894.44" cy="833.23" r="3.70" fill="#000"/>
<circle cx="1913.95" cy="833.83" r="3.70" fill="#000"/>
<circle cx="1904.09" cy="845.29" r="3.70" fill="#000"/>
</g>
<g id="pH">
<text x="2.0" y="1165.0" font-size="41" font-weight="bold">H</text>
<rect x="59.20" y="1181.70" width="544.20" height="515.50" fill="#fff"/>
<line x1="90.45" y1="1181.70" x2="90.45" y2="1697.20" stroke="#dedfdf" stroke-width="1.3"/>
<line x1="208.55" y1="1181.70" x2="208.55" y2="1697.20" stroke="#dedfdf" stroke-width="1.3"/>
<line x1="326.65" y1="1181.70" x2="326.65" y2="1697.20" stroke="#dedfdf" stroke-width="1.3"/>
<line x1="444.75" y1="1181.70" x2="444.75" y2="1697.20" stroke="#dedfdf" stroke-width="1.3"/>
<line x1="562.85" y1="1181.70" x2="562.85" y2="1697.20" stroke="#dedfdf" stroke-width="1.3"/>
<line x1="59.20" y1="1237.83" x2="603.40" y2="1237.83" stroke="#dedfdf" stroke-width="1.3"/>
<line x1="59.20" y1="1347.17" x2="603.40" y2="1347.17" stroke="#dedfdf" stroke-width="1.3"/>
<line x1="59.20" y1="1456.53" x2="603.40" y2="1456.53" stroke="#dedfdf" stroke-width="1.3"/>
<line x1="59.20" y1="1565.88" x2="603.40" y2="1565.88" stroke="#dedfdf" stroke-width="1.3"/>
<line x1="59.20" y1="1675.23" x2="603.40" y2="1675.23" stroke="#dedfdf" stroke-width="1.3"/>
<line x1="149.50" y1="1181.70" x2="149.50" y2="1697.20" stroke="#d8d9da" stroke-width="2.4"/>
<line x1="267.60" y1="1181.70" x2="267.60" y2="1697.20" stroke="#d8d9da" stroke-width="2.4"/>
<line x1="385.70" y1="1181.70" x2="385.70" y2="1697.20" stroke="#d8d9da" stroke-width="2.4"/>
<line x1="503.80" y1="1181.70" x2="503.80" y2="1697.20" stroke="#d8d9da" stroke-width="2.4"/>
<line x1="59.20" y1="1292.50" x2="603.40" y2="1292.50" stroke="#d8d9da" stroke-width="2.4"/>
<line x1="59.20" y1="1401.85" x2="603.40" y2="1401.85" stroke="#d8d9da" stroke-width="2.4"/>
<line x1="59.20" y1="1511.20" x2="603.40" y2="1511.20" stroke="#d8d9da" stroke-width="2.4"/>
<line x1="59.20" y1="1620.55" x2="603.40" y2="1620.55" stroke="#d8d9da" stroke-width="2.4"/>
<path d="M535.1 1209.3C536.2 1207.2 538.8 1204.4 540.7 1203.8C542.5 1203.2 545.1 1202.6 546.2 1205.7C547.2 1208.7 547.5 1218.4 546.9 1222.3C546.3 1226.1 544.2 1228.3 542.5 1228.9C540.8 1229.5 538.3 1228.0 537.0 1226.0C535.6 1223.9 534.7 1219.5 534.4 1216.7C534.1 1214.0 534.1 1211.5 535.1 1209.3Z" fill="#8fa23c" filter="url(#rough2)"/>
<path d="M417.0 1333.0C418.7 1329.9 425.6 1323.4 428.1 1323.7C430.6 1324.1 429.9 1332.5 431.8 1334.8C433.6 1337.1 439.5 1335.9 439.2 1337.4C438.9 1338.9 432.7 1342.3 429.9 1344.0C427.2 1345.8 424.6 1348.0 422.6 1347.7C420.5 1347.4 418.7 1344.7 417.8 1342.2C416.8 1339.7 415.3 1336.0 417.0 1333.0Z" fill="#3f8fcc" filter="url(#rough2)"/>
<path d="M81.2 1391.3C85.8 1391.7 101.5 1395.7 110.7 1396.5C119.9 1397.2 127.9 1395.2 136.5 1395.7C145.2 1396.2 151.9 1398.7 162.4 1399.4C172.8 1400.1 191.9 1398.3 199.3 1400.1C206.7 1402.0 209.1 1407.8 206.7 1410.5C204.2 1413.1 190.7 1414.2 184.5 1416.0C178.4 1417.9 174.1 1418.8 169.8 1421.5C165.5 1424.3 162.4 1431.1 158.7 1432.6C155.0 1434.2 151.3 1433.2 147.6 1430.8C143.9 1428.3 140.9 1421.9 136.5 1417.9C132.2 1413.9 127.3 1409.6 121.8 1406.8C116.2 1404.0 109.8 1403.4 103.3 1401.2C96.9 1399.1 86.7 1395.5 83.0 1393.9C79.3 1392.2 76.6 1390.9 81.2 1391.3Z" fill="#12a8e0" filter="url(#rough2)"/>
<path d="M201.1 1401.2C203.6 1398.9 215.0 1397.4 221.4 1396.5C227.9 1395.5 233.7 1395.2 239.9 1395.7C246.0 1396.2 255.9 1396.9 258.3 1399.4C260.8 1401.9 257.7 1407.7 254.6 1410.5C251.6 1413.2 244.2 1414.2 239.9 1416.0C235.6 1417.9 232.5 1421.5 228.8 1421.5C225.1 1421.5 221.4 1417.9 217.7 1416.0C214.0 1414.2 209.4 1412.9 206.7 1410.5C203.9 1408.0 198.7 1403.6 201.1 1401.2Z" fill="#0fadad" filter="url(#rough2)"/>
<path d="M158.7 1432.6C158.1 1429.2 165.5 1424.3 169.8 1421.5C174.1 1418.8 178.4 1417.5 184.5 1416.0C190.7 1414.5 201.1 1412.1 206.7 1412.3C212.2 1412.5 214.0 1415.5 217.7 1417.1C221.4 1418.8 225.1 1420.9 228.8 1422.3C232.5 1423.6 237.4 1421.7 239.9 1425.2C242.3 1428.8 240.5 1438.8 243.6 1443.7C246.6 1448.6 259.6 1452.6 258.3 1454.8C257.1 1456.9 243.6 1456.6 236.2 1456.6C228.8 1456.6 221.4 1456.0 214.0 1454.8C206.7 1453.5 198.7 1451.4 191.9 1449.2C185.1 1447.1 179.0 1444.6 173.5 1441.8C167.9 1439.1 159.3 1436.0 158.7 1432.6Z" fill="#ea6699" filter="url(#rough2)"/>
<path d="M239.9 1416.0C243.0 1411.7 252.8 1401.2 258.3 1399.4C263.9 1397.6 268.5 1401.9 273.1 1404.9C277.7 1408.0 282.6 1412.6 286.0 1417.9C289.4 1423.1 292.5 1431.4 293.4 1436.3C294.3 1441.2 294.9 1444.6 291.5 1447.4C288.2 1450.1 278.6 1451.7 273.1 1452.9C267.6 1454.1 263.3 1456.3 258.3 1454.8C253.4 1453.2 246.6 1448.6 243.6 1443.7C240.5 1438.8 240.5 1429.8 239.9 1425.2C239.3 1420.6 236.8 1420.3 239.9 1416.0Z" fill="#d66ba8" filter="url(#rough2)"/>
<path d="M368.3 1538.9C368.3 1537.2 371.7 1538.7 374.6 1540.4C377.5 1542.0 382.9 1545.6 385.7 1548.9C388.4 1552.1 391.5 1558.4 391.2 1559.9C390.9 1561.5 386.6 1559.6 383.8 1558.1C381.0 1556.6 377.2 1553.9 374.6 1550.7C372.0 1547.5 368.3 1540.6 368.3 1538.9Z" fill="#c39a35" filter="url(#rough2)"/>
<path d="M298.9 1617.1C301.7 1611.6 310.6 1598.7 317.4 1591.3C324.1 1583.9 332.4 1575.9 339.5 1572.9C346.6 1569.8 354.9 1571.6 359.8 1572.9C364.7 1574.1 369.7 1575.9 369.0 1580.2C368.4 1584.5 359.8 1593.2 356.1 1598.7C352.4 1604.2 350.9 1609.1 346.9 1613.4C342.9 1617.8 337.7 1622.2 332.1 1624.5C326.6 1626.9 318.9 1627.5 313.7 1627.5C308.5 1627.5 303.2 1626.2 300.8 1624.5C298.3 1622.8 296.2 1622.7 298.9 1617.1Z" fill="#8581ba" filter="url(#rough2)"/>
<path d="M350.6 1609.8C351.8 1606.7 355.2 1598.7 359.8 1596.8C364.4 1595.0 375.5 1597.1 378.3 1598.7C381.0 1600.2 378.9 1603.3 376.4 1606.1C374.0 1608.8 367.5 1613.8 363.5 1615.3C359.5 1616.8 354.6 1616.2 352.4 1615.3C350.3 1614.4 349.4 1612.8 350.6 1609.8Z" fill="#17a855" filter="url(#rough2)"/>
<path d="M418.9 1505.7C418.9 1503.5 423.2 1508.1 428.1 1508.3C433.0 1508.4 444.4 1509.8 448.4 1506.4C452.4 1503.0 450.2 1491.4 452.1 1488.0C453.9 1484.6 457.9 1483.7 459.5 1486.1C461.0 1488.6 459.2 1497.5 461.3 1502.7C463.5 1508.0 469.3 1512.0 472.4 1517.5C475.5 1523.0 479.8 1531.0 479.8 1535.9C479.8 1540.9 478.5 1544.9 472.4 1547.0C466.2 1549.2 450.2 1550.1 442.9 1548.9C435.5 1547.6 430.6 1544.3 428.1 1539.6C425.6 1535.0 429.6 1526.8 428.1 1521.2C426.6 1515.5 418.9 1507.8 418.9 1505.7Z" fill="#0fa380" filter="url(#rough2)"/>
<path d="M474.2 1517.5C477.3 1513.2 487.4 1513.2 494.5 1510.1C501.6 1507.0 513.9 1503.7 516.7 1499.0C519.4 1494.4 511.1 1485.5 511.1 1482.4C511.1 1479.4 514.5 1478.1 516.7 1480.6C518.8 1483.1 519.7 1495.4 524.0 1497.2C528.3 1499.0 538.2 1493.5 542.5 1491.7C546.8 1489.8 547.4 1486.4 549.9 1486.1C552.3 1485.8 557.9 1487.1 557.3 1489.8C556.6 1492.6 550.5 1497.5 546.2 1502.7C541.9 1508.0 536.3 1514.4 531.4 1521.2C526.5 1528.0 522.2 1538.4 516.7 1543.3C511.1 1548.3 500.7 1546.4 498.2 1550.7C495.7 1555.0 502.5 1566.7 501.9 1569.2C501.3 1571.6 497.6 1569.8 494.5 1565.5C491.4 1561.2 486.5 1548.3 483.4 1543.3C480.4 1538.4 477.6 1540.3 476.1 1535.9C474.5 1531.6 471.1 1521.8 474.2 1517.5Z" fill="#e5706b" filter="url(#rough2)"/>
<path d="M498.2 1572.9C499.1 1568.5 504.4 1566.7 507.4 1569.2C510.5 1571.6 513.9 1580.8 516.7 1587.6C519.4 1594.4 523.1 1604.5 524.0 1609.8C525.0 1615.0 524.0 1619.0 522.2 1619.0C520.4 1619.0 516.4 1613.8 513.0 1609.8C509.6 1605.8 504.4 1601.1 501.9 1595.0C499.4 1588.8 497.3 1577.2 498.2 1572.9Z" fill="#e08a30" filter="url(#rough2)"/>
<path d="M476.1 1598.7C478.8 1596.2 487.8 1599.3 494.5 1602.4C501.3 1605.5 509.9 1612.2 516.7 1617.1C523.4 1622.1 530.2 1627.3 535.1 1631.9C540.0 1636.5 545.6 1641.4 546.2 1644.8C546.8 1648.2 543.7 1652.5 538.8 1652.2C533.9 1651.9 524.0 1647.0 516.7 1643.0C509.3 1639.0 501.0 1632.5 494.5 1628.2C488.1 1623.9 481.0 1622.1 477.9 1617.1C474.8 1612.2 473.3 1601.1 476.1 1598.7Z" fill="#4fae5b" filter="url(#rough2)"/>
<path d="M448.4 1644.8C449.6 1640.8 453.9 1635.0 457.6 1631.9C461.3 1628.8 467.8 1623.9 470.5 1626.4C473.3 1628.8 472.7 1640.2 474.2 1646.7C475.8 1653.1 479.5 1660.8 479.8 1665.1C480.1 1669.4 479.1 1672.5 476.1 1672.5C473.0 1672.5 465.6 1667.9 461.3 1665.1C457.0 1662.3 452.4 1659.3 450.2 1655.9C448.1 1652.5 447.2 1648.8 448.4 1644.8Z" fill="#a970a4" filter="url(#rough2)"/>
<path d="M474.2 1670.7C476.1 1669.9 485.3 1669.9 487.1 1670.7C489.0 1671.4 487.1 1674.6 485.3 1675.4C483.4 1676.2 477.9 1676.2 476.1 1675.4C474.2 1674.6 472.4 1671.4 474.2 1670.7Z" fill="#4fae5b" filter="url(#rough2)"/>
<path d="M570.2 1559.2C571.6 1558.2 578.5 1555.5 580.1 1555.5C581.8 1555.5 581.6 1558.2 580.1 1559.2C578.7 1560.2 572.9 1561.8 571.3 1561.8C569.6 1561.8 568.7 1560.2 570.2 1559.2Z" fill="#0fa380" filter="url(#rough2)"/>
<path d="M303.0 1462.7C303.5 1461.9 307.0 1460.4 309.0 1460.5C311.0 1460.6 313.5 1462.4 315.0 1463.5C316.5 1464.6 318.5 1466.5 318.0 1467.2C317.5 1468.0 314.0 1468.2 312.0 1468.0C310.0 1467.7 307.5 1466.6 306.0 1465.7C304.5 1464.9 302.5 1463.6 303.0 1462.7Z" fill="#ea6699" filter="url(#rough2)"/>
<path d="M312.0 1463.5C313.0 1461.6 318.2 1458.1 321.0 1456.0C323.7 1453.9 326.6 1451.5 328.5 1450.7C330.4 1450.0 332.2 1450.6 332.2 1451.5C332.2 1452.4 330.1 1454.2 328.5 1456.0C326.9 1457.7 323.0 1460.0 322.5 1462.0C322.0 1464.0 324.2 1466.2 325.5 1468.0C326.7 1469.7 329.5 1471.4 330.0 1472.5C330.5 1473.6 330.0 1475.0 328.5 1474.7C327.0 1474.5 323.2 1472.2 321.0 1471.0C318.7 1469.7 316.5 1468.5 315.0 1467.2C313.5 1466.0 311.0 1465.4 312.0 1463.5Z" fill="#c39a35" filter="url(#rough2)"/>
<path d="M203.6 1417.1h0M524.9 1509.8h0M215.9 1435.8h0M500.9 1537.9h0M150.9 1413.2h0M331.2 1599.7h0M479.2 1532.4h0M164.0 1422.4h0M185.4 1420.3h0M334.4 1612.9h0M533.7 1515.9h0M273.0 1419.0h0M535.6 1506.0h0M522.1 1502.1h0M495.5 1515.6h0M208.9 1438.3h0M88.6 1394.5h0M147.6 1398.8h0M162.4 1420.4h0M164.6 1414.5h0M521.0 1507.0h0M225.5 1442.8h0M210.3 1414.1h0M273.4 1434.2h0M335.0 1591.8h0M185.5 1404.4h0M350.1 1591.4h0M494.3 1628.0h0M161.3 1412.0h0M347.4 1576.9h0M181.4 1410.2h0M520.9 1504.6h0M146.4 1418.3h0M502.0 1542.8h0M143.0 1417.8h0M190.4 1404.3h0M259.2 1423.2h0M112.3 1399.6h0M150.7 1413.3h0M148.4 1410.3h0M521.6 1516.9h0M155.9 1404.8h0M223.8 1408.7h0M220.0 1442.8h0M183.5 1403.3h0M491.1 1550.1h0M195.6 1437.9h0M260.0 1406.3h0M177.3 1429.4h0M168.8 1407.0h0M213.4 1431.7h0M514.0 1507.1h0M154.4 1430.7h0M172.8 1402.3h0M528.9 1497.1h0M211.0 1425.3h0M225.4 1452.3h0M215.5 1416.8h0M499.0 1517.0h0M511.1 1503.3h0M136.7 1408.8h0M135.9 1415.9h0M509.2 1622.6h0M218.9 1447.5h0M198.4 1425.0h0M231.5 1429.0h0M138.9 1404.0h0M98.2 1397.3h0M160.6 1407.1h0M160.7 1403.1h0M215.2 1418.7h0M112.5 1397.6h0M174.3 1426.2h0M489.0 1515.2h0M245.9 1451.5h0M259.9 1405.1h0M182.7 1432.3h0M225.9 1452.2h0M522.2 1534.6h0M259.6 1400.2h0M217.7 1446.0h0M492.4 1518.1h0M220.2 1431.7h0M207.1 1416.3h0M527.4 1504.5h0M265.7 1428.3h0M286.4 1434.1h0M495.8 1625.7h0M242.6 1452.7h0M166.8 1408.2h0M201.2 1442.5h0M235.6 1406.3h0M173.0 1423.7h0M179.4 1416.1h0M519.1 1628.9h0M181.7 1440.2h0M497.8 1534.1h0M280.9 1441.3h0M262.0 1428.6h0M197.2 1437.7h0M343.7 1577.1h0M503.5 1510.5h0M538.8 1646.0h0M126.3 1396.7h0M248.5 1405.7h0M219.6 1407.6h0M227.4 1435.1h0M212.6 1421.2h0M165.5 1418.5h0M517.9 1634.9h0M172.2 1414.3h0M498.7 1538.2h0M495.9 1563.3h0M163.4 1406.1h0M230.8 1437.8h0M209.5 1448.0h0M535.0 1500.8h0M516.8 1516.5h0M521.8 1494.8h0M228.0 1439.7h0M273.9 1429.9h0M223.9 1413.7h0M233.5 1411.6h0M258.1 1410.4h0M171.2 1418.3h0M216.7 1445.3h0M533.3 1518.0h0M249.1 1425.0h0M234.9 1402.5h0M233.8 1402.8h0M526.1 1520.9h0M224.6 1424.6h0M245.1 1449.6h0M504.7 1619.3h0M167.5 1429.4h0M334.8 1580.6h0M149.8 1415.8h0M516.2 1496.7h0M497.1 1538.4h0M208.3 1446.3h0M257.5 1416.7h0M550.0 1494.9h0M209.7 1411.4h0M144.4 1420.1h0M217.6 1413.9h0M187.3 1440.7h0M476.0 1525.7h0M148.5 1425.3h0M522.4 1514.8h0M275.3 1438.5h0M477.1 1525.9h0M177.4 1423.8h0M231.3 1405.2h0M230.2 1450.8h0M206.2 1436.7h0M191.1 1417.8h0M238.1 1428.8h0M230.9 1435.1h0M157.7 1423.2h0M215.5 1418.2h0M169.2 1423.7h0M175.2 1426.0h0M226.5 1411.1h0M517.1 1641.1h0M222.0 1434.4h0M499.6 1529.0h0M247.5 1401.8h0M217.3 1431.7h0M535.4 1493.1h0M487.1 1526.7h0M227.7 1437.7h0M136.0 1410.7h0M232.7 1418.8h0M224.7 1439.8h0M184.9 1408.7h0M137.9 1412.0h0M251.0 1454.7h0M496.0 1605.2h0M172.4 1412.7h0M139.7 1411.7h0M152.7 1399.9h0M245.9 1450.3h0M213.1 1412.5h0M503.7 1527.3h0M268.1 1405.3h0M172.4 1401.0h0M531.2 1498.9h0M243.6 1450.5h0M284.9 1427.2h0M523.4 1508.9h0M225.0 1441.0h0M212.5 1451.1h0M233.7 1425.2h0M236.4 1445.6h0M321.7 1615.8h0M138.4 1403.9h0M494.5 1514.5h0M482.6 1525.1h0M245.5 1453.5h0M265.1 1452.5h0M145.9 1429.9h0M223.6 1428.2h0M334.4 1609.3h0M194.7 1425.1h0M514.3 1529.1h0M212.4 1402.1h0M516.0 1524.7h0M485.8 1603.8h0M492.9 1533.6h0M263.7 1451.5h0M213.9 1449.5h0M241.4 1445.5h0M517.9 1509.1h0M226.5 1401.6h0M511.5 1635.2h0M133.8 1410.1h0M336.5 1591.4h0M107.2 1399.9h0M276.4 1446.7h0M194.5 1404.5h0M242.6 1402.5h0M210.4 1451.8h0M486.2 1620.3h0M136.9 1406.2h0M487.1 1547.7h0M135.5 1418.3h0M478.4 1537.2h0M151.9 1404.7h0M171.7 1408.6h0M167.8 1416.3h0M198.6 1430.5h0M495.7 1545.1h0M139.3 1416.9h0M515.6 1534.2h0M188.5 1441.1h0M194.3 1430.2h0M206.8 1414.9h0M515.2 1514.0h0M183.9 1408.1h0M271.6 1420.6h0M492.7 1562.5h0M233.8 1419.0h0M250.2 1408.4h0M513.5 1542.1h0M122.4 1398.5h0M204.4 1410.1h0M153.3 1411.1h0M237.9 1450.6h0M239.7 1425.9h0M489.0 1519.7h0M108.2 1398.2h0M511.6 1508.1h0M216.2 1418.8h0M166.6 1414.3h0M507.8 1625.0h0M512.8 1511.4h0M130.2 1412.8h0M523.9 1507.5h0M489.7 1612.8h0M254.3 1444.3h0M256.4 1421.7h0M230.6 1413.9h0M235.2 1449.7h0M121.8 1403.6h0M515.4 1638.1h0M337.4 1591.7h0M275.8 1448.3h0M145.2 1413.0h0M218.2 1420.8h0M508.4 1535.1h0M321.0 1592.1h0M519.4 1521.0h0M518.4 1516.5h0M501.8 1506.0h0M281.8 1436.4h0M222.1 1430.0h0M214.1 1442.3h0M129.8 1411.5h0M215.0 1410.2h0M151.0 1404.6h0M137.1 1412.5h0M230.6 1414.7h0M249.5 1408.4h0M231.3 1431.1h0M228.0 1446.4h0M212.2 1430.5h0M213.9 1448.2h0M148.9 1419.3h0M510.0 1537.6h0M311.1 1623.0h0M516.4 1523.9h0M499.3 1541.4h0M222.0 1440.1h0M349.5 1593.7h0M158.1 1416.7h0M225.3 1440.4h0M229.7 1445.9h0M489.7 1604.1h0M240.7 1450.0h0M520.5 1524.1h0M114.2 1399.3h0M186.9 1441.3h0M487.7 1541.3h0M516.3 1495.1h0M201.9 1422.9h0M486.6 1548.9h0M180.1 1443.6h0M523.4 1509.4h0M287.7 1437.4h0M509.3 1626.8h0M159.0 1431.9h0M168.1 1405.2h0M203.7 1430.9h0M344.4 1590.3h0M151.0 1424.6h0M250.4 1413.6h0M167.8 1401.7h0M190.2 1415.6h0M269.1 1449.5h0M154.2 1425.8h0M198.6 1436.4h0M227.1 1449.5h0M242.2 1453.1h0M210.3 1400.7h0M186.1 1423.5h0M278.5 1419.2h0M508.2 1539.3h0M124.9 1407.3h0M525.2 1498.9h0M322.2 1613.9h0M204.1 1402.7h0M513.6 1481.9h0M507.8 1540.7h0M141.5 1408.7h0M196.2 1441.7h0M511.5 1514.2h0M256.8 1444.1h0M226.5 1452.8h0M227.4 1410.8h0M518.1 1527.8h0M183.8 1426.8h0M510.9 1524.4h0M245.6 1406.0h0M150.2 1428.3h0M235.2 1396.4h0M218.0 1454.3h0M193.2 1408.6h0M263.4 1421.6h0M128.4 1408.9h0M222.8 1445.9h0M117.0 1404.2h0M232.2 1434.5h0M272.1 1406.3h0M252.3 1409.4h0M321.5 1605.4h0M526.1 1513.8h0M122.7 1397.8h0M212.8 1418.0h0M181.1 1407.3h0M226.0 1406.1h0M143.3 1398.2h0M526.5 1527.5h0M495.5 1560.4h0M173.5 1407.8h0M175.8 1403.7h0M143.0 1422.9h0M247.5 1405.4h0M203.9 1437.1h0M501.5 1550.0h0M147.8 1398.1h0M127.4 1399.5h0M503.9 1527.6h0M504.7 1539.1h0M229.8 1434.4h0M181.9 1408.6h0M338.3 1618.0h0M159.1 1419.5h0M491.9 1512.3h0M512.1 1532.1h0M533.7 1513.6h0M263.6 1445.2h0M521.9 1642.5h0M280.1 1446.9h0M504.4 1522.5h0M538.2 1509.5h0M169.2 1418.9h0M235.5 1429.7h0M171.1 1432.4h0" stroke="#ffffff" stroke-width="2.30" stroke-linecap="round" fill="none"/>
<path d="M498.3 1565.3h0M493.8 1622.4h0M518.0 1642.2h0M507.8 1630.0h0M481.6 1672.2h0M499.6 1609.8h0M485.3 1608.5h0M507.8 1629.2h0M480.1 1616.4h0M533.6 1639.5h0M514.4 1618.2h0M513.4 1621.0h0M478.8 1610.7h0M510.2 1614.2h0M529.2 1632.7h0M491.9 1603.9h0M483.7 1672.6h0M518.7 1625.6h0M489.2 1616.0h0M539.0 1643.9h0M478.1 1575.0h0M523.8 1640.8h0M523.0 1628.5h0M497.1 1630.3h0M499.2 1567.9h0M540.9 1649.7h0M511.2 1624.0h0M494.0 1607.6h0M498.9 1619.8h0M517.3 1632.9h0M531.5 1639.8h0M492.5 1616.6h0M504.9 1614.6h0M515.1 1642.2h0M477.5 1608.8h0M503.2 1628.2h0M507.6 1622.6h0M516.4 1624.3h0M526.9 1646.7h0M525.3 1633.9h0M513.4 1628.1h0M496.7 1623.4h0M519.1 1621.2h0M535.8 1653.1h0M527.4 1637.5h0M530.0 1626.7h0M536.1 1651.1h0M528.4 1638.9h0M505.0 1615.5h0M489.6 1608.1h0M499.4 1621.9h0M511.5 1623.6h0M513.4 1612.1h0M492.9 1624.6h0M487.4 1567.3h0M502.0 1611.8h0M492.5 1646.4h0M497.1 1623.0h0M514.6 1618.0h0M534.9 1650.0h0M504.4 1632.4h0M489.7 1626.3h0M538.9 1645.9h0M534.8 1636.1h0M491.5 1650.3h0M491.8 1584.1h0M519.9 1634.9h0M512.0 1632.3h0M516.7 1629.9h0M495.6 1581.8h0M498.1 1608.4h0M499.5 1613.8h0M491.4 1603.9h0M477.9 1603.5h0M489.0 1597.2h0M513.8 1636.8h0M533.5 1631.6h0M485.6 1586.6h0M484.5 1643.8h0M484.5 1603.5h0M523.1 1633.1h0M504.2 1614.0h0M502.8 1610.0h0M491.5 1587.8h0M490.2 1605.7h0M495.6 1645.4h0M518.1 1628.9h0M511.3 1629.8h0M514.4 1627.8h0M482.5 1591.0h0M510.5 1625.4h0M518.7 1637.4h0M531.3 1636.3h0M483.1 1613.1h0M503.5 1614.6h0M502.8 1627.9h0M497.4 1625.1h0M488.1 1632.8h0M483.8 1621.1h0M495.6 1606.6h0M481.0 1608.4h0M540.1 1648.8h0M500.5 1613.6h0M494.6 1619.6h0M486.1 1605.8h0M530.7 1637.7h0M493.8 1616.0h0M512.9 1617.9h0M492.2 1610.7h0M477.0 1610.0h0M480.8 1573.5h0M490.8 1611.1h0M534.3 1646.7h0M483.8 1605.2h0M495.7 1619.5h0M490.1 1574.2h0M486.8 1638.5h0M480.7 1674.5h0M521.1 1627.7h0M499.6 1630.4h0M498.1 1582.9h0M486.3 1602.8h0M518.7 1619.5h0M498.6 1615.1h0M495.5 1619.4h0M500.4 1614.2h0M492.0 1603.1h0M499.9 1576.2h0M494.6 1622.6h0M494.6 1617.4h0M513.1 1625.0h0M494.3 1599.8h0M504.1 1606.4h0M496.8 1625.9h0M487.0 1590.3h0M484.8 1561.8h0M522.7 1637.2h0M493.5 1617.4h0M537.5 1635.4h0M519.7 1624.4h0M515.6 1641.5h0M493.7 1563.0h0M510.7 1629.8h0M483.0 1615.0h0M523.1 1637.0h0M483.8 1602.7h0M536.1 1654.0h0M526.5 1646.3h0M525.4 1636.5h0M491.6 1564.4h0M517.0 1621.1h0M540.3 1638.2h0M501.4 1621.0h0M497.4 1631.0h0M486.0 1613.0h0M501.8 1608.7h0M489.3 1584.9h0M494.0 1607.4h0M526.0 1642.3h0M477.4 1564.4h0M514.4 1636.5h0M481.3 1595.8h0M503.7 1616.2h0M486.2 1603.9h0M483.4 1589.8h0M490.1 1600.3h0M476.3 1673.0h0M477.3 1607.0h0M517.2 1618.9h0M480.4 1618.9h0M488.3 1640.7h0M519.7 1642.3h0M492.2 1619.6h0M528.3 1636.3h0M529.4 1644.8h0M508.6 1627.7h0M534.7 1647.7h0M518.3 1636.5h0M524.8 1627.9h0M533.4 1645.2h0M521.1 1621.6h0M489.2 1602.1h0M519.9 1629.7h0M516.9 1623.1h0M511.8 1617.6h0M490.3 1621.4h0M506.8 1626.6h0M483.0 1645.5h0M511.7 1614.4h0M498.9 1597.8h0M513.1 1635.1h0M499.7 1623.7h0M492.0 1604.8h0M527.4 1635.8h0M507.9 1600.3h0M536.5 1650.8h0M504.8 1609.3h0M497.2 1607.9h0M496.9 1639.1h0M540.4 1636.3h0M487.0 1673.5h0M473.2 1672.7h0M500.1 1585.9h0M492.5 1604.0h0M483.2 1645.0h0M485.7 1627.7h0M500.3 1628.0h0M515.6 1616.8h0M532.7 1634.1h0M497.7 1638.6h0M496.8 1635.6h0M519.0 1635.1h0M493.6 1578.5h0M482.3 1580.3h0M502.0 1611.4h0M509.9 1626.4h0M483.2 1605.6h0M537.4 1636.3h0M510.4 1614.6h0M480.0 1613.7h0M508.4 1631.8h0M500.6 1613.3h0M505.1 1629.5h0M480.1 1605.2h0M519.7 1640.1h0M535.6 1648.6h0M483.6 1646.6h0M514.4 1632.6h0M518.7 1631.9h0M522.6 1638.9h0M514.1 1633.9h0M518.7 1630.4h0M504.0 1629.3h0M528.4 1637.4h0M527.7 1635.3h0M492.3 1616.9h0M483.8 1617.3h0M491.2 1639.8h0M534.0 1636.3h0M527.1 1628.0h0M504.3 1608.8h0M498.2 1580.5h0M481.4 1606.2h0M479.3 1611.7h0M480.8 1628.5h0M480.8 1629.9h0M517.0 1643.2h0M505.7 1617.2h0M527.0 1642.8h0M516.9 1626.8h0M525.0 1623.4h0M533.4 1631.4h0M512.5 1629.0h0M510.3 1615.6h0M510.4 1624.8h0M513.8 1613.7h0M489.2 1613.8h0M528.3 1646.2h0M480.2 1610.7h0M512.6 1639.8h0M509.9 1615.1h0M490.8 1621.1h0M480.9 1600.8h0M496.8 1603.9h0M519.4 1617.6h0M481.9 1615.9h0M542.0 1645.1h0M483.6 1610.8h0M510.8 1623.7h0M487.8 1618.2h0M509.7 1629.6h0M537.9 1645.5h0M535.5 1637.0h0M481.3 1630.5h0M508.5 1627.3h0M521.7 1628.4h0M535.8 1640.4h0M489.3 1580.1h0M519.7 1639.7h0M512.0 1628.0h0M516.5 1626.0h0M541.9 1646.6h0M528.3 1650.7h0M486.1 1612.5h0M483.2 1606.5h0M486.2 1608.1h0M475.3 1669.3h0M538.1 1637.6h0M480.6 1676.6h0M498.4 1623.2h0M494.8 1605.6h0M498.0 1615.9h0M509.7 1623.3h0M485.2 1675.4h0M536.0 1647.7h0M499.0 1564.9h0M500.1 1631.8h0M504.9 1634.7h0M538.9 1646.2h0M494.5 1610.4h0M519.8 1631.2h0M500.4 1582.5h0M483.2 1616.2h0M532.6 1633.1h0M500.2 1574.3h0M533.6 1640.2h0M497.9 1605.3h0M520.0 1638.2h0M518.7 1629.9h0M493.4 1562.7h0M479.5 1585.9h0M505.5 1631.3h0M483.3 1623.1h0M532.4 1641.3h0M518.7 1622.9h0M495.2 1612.5h0M495.5 1625.5h0M503.7 1622.4h0M541.1 1646.3h0M526.9 1627.4h0M505.6 1630.7h0M513.2 1637.4h0M491.6 1605.6h0M514.7 1624.9h0M481.6 1603.1h0M477.7 1613.9h0M510.2 1631.8h0M521.4 1617.8h0M485.3 1618.2h0M497.0 1614.3h0M512.0 1621.1h0M520.1 1626.1h0M506.4 1615.6h0M475.3 1604.8h0M539.5 1639.7h0M533.6 1640.4h0M528.0 1644.7h0M514.2 1636.2h0M513.2 1620.7h0M522.1 1637.8h0M497.2 1587.2h0M494.6 1592.6h0M492.5 1568.8h0M515.0 1628.2h0M496.8 1623.4h0M498.3 1631.3h0M482.2 1617.8h0M535.9 1649.4h0M481.7 1615.4h0M500.3 1592.7h0M487.5 1591.0h0M482.5 1672.6h0M512.5 1631.7h0M519.1 1624.6h0M524.1 1641.4h0M484.0 1615.1h0M479.3 1606.4h0M481.0 1606.0h0M480.3 1616.7h0M499.7 1624.1h0M489.4 1620.3h0M496.4 1610.6h0M517.5 1644.8h0M499.3 1618.6h0M506.4 1579.0h0M531.4 1647.7h0M481.2 1601.3h0M491.8 1622.7h0M502.7 1613.3h0M482.2 1674.7h0M540.5 1643.2h0M495.7 1603.1h0M479.3 1600.2h0M482.6 1614.9h0M531.7 1632.8h0M533.6 1633.5h0M487.0 1608.3h0M483.2 1579.6h0M498.9 1583.4h0M546.3 1643.7h0M533.8 1637.4h0M543.5 1638.7h0M520.1 1642.8h0M536.9 1636.3h0M527.6 1637.4h0M500.0 1575.0h0M522.2 1637.9h0M508.9 1634.8h0M521.0 1639.8h0M501.2 1612.4h0M499.1 1612.4h0M487.8 1616.6h0M515.3 1629.6h0M487.3 1606.7h0M487.0 1576.3h0M482.6 1618.4h0M487.5 1589.1h0M484.2 1613.0h0M516.0 1631.4h0M506.0 1630.1h0M481.0 1604.4h0M531.7 1635.1h0M508.6 1630.4h0M484.3 1611.3h0M514.8 1623.0h0M507.6 1632.0h0M523.3 1642.6h0M541.7 1645.4h0M528.5 1641.2h0M529.8 1642.0h0M518.7 1624.4h0M535.8 1653.8h0M480.9 1612.7h0M543.3 1648.0h0M496.0 1562.1h0M530.8 1646.8h0M495.5 1612.1h0M494.7 1568.2h0M487.0 1623.1h0M479.7 1611.1h0M500.3 1629.2h0M483.8 1601.0h0M479.1 1618.6h0M475.8 1672.6h0M536.9 1636.2h0M515.6 1639.1h0M537.7 1644.4h0M480.8 1567.9h0M513.2 1634.7h0M497.4 1611.7h0M522.2 1640.8h0M479.4 1616.3h0M506.4 1614.5h0M524.6 1642.4h0M493.0 1613.8h0M502.5 1631.0h0M489.1 1639.1h0M502.4 1628.0h0M533.5 1641.9h0M533.6 1633.9h0M514.0 1616.7h0M485.4 1614.9h0M484.0 1572.0h0M492.9 1612.7h0M488.5 1609.3h0M527.9 1631.3h0M524.2 1627.4h0M525.9 1636.6h0M507.8 1612.3h0M480.3 1587.4h0M527.8 1625.4h0M530.2 1638.2h0M508.0 1634.4h0M484.2 1610.5h0M489.3 1606.5h0" stroke="#4fae5b" stroke-width="2.90" stroke-linecap="round" fill="none"/>
<path d="M527.0 1515.7h0M517.3 1500.4h0M499.9 1546.2h0M483.2 1531.2h0M517.0 1487.4h0M498.5 1550.9h0M501.9 1517.7h0M509.6 1515.2h0M500.6 1521.4h0M539.0 1497.9h0M474.0 1535.2h0M524.6 1508.3h0M516.3 1511.1h0M500.1 1546.3h0M496.7 1515.8h0M502.3 1519.0h0M515.1 1546.8h0M526.6 1517.0h0M509.9 1535.3h0M499.2 1522.0h0M499.6 1564.6h0M493.9 1538.9h0M503.7 1506.2h0M519.9 1509.2h0M477.9 1644.3h0M511.9 1530.4h0M489.5 1533.5h0M500.5 1535.4h0M512.0 1522.0h0M487.0 1511.8h0M535.8 1505.0h0M514.4 1534.2h0M535.8 1515.3h0M534.0 1514.4h0M451.3 1488.6h0M526.1 1502.0h0M498.2 1546.0h0M514.0 1515.7h0M480.9 1530.6h0M528.9 1493.8h0M512.8 1508.7h0M498.0 1557.2h0M491.4 1558.2h0M494.3 1536.8h0M483.3 1527.2h0M526.6 1526.5h0M513.2 1531.8h0M496.1 1511.8h0M503.1 1537.6h0M515.0 1512.9h0M551.8 1496.1h0M528.8 1504.2h0M542.4 1503.3h0M523.4 1499.1h0M529.6 1496.5h0M526.8 1530.1h0M497.0 1538.5h0M495.3 1579.4h0M477.9 1524.5h0M484.5 1532.3h0M525.6 1516.9h0M551.3 1492.5h0M514.7 1529.6h0M523.8 1509.2h0M538.9 1501.5h0M502.5 1517.0h0M472.2 1522.1h0M509.3 1523.2h0M491.4 1551.3h0M507.8 1523.2h0M515.8 1503.2h0M501.9 1510.7h0M538.6 1512.9h0M546.4 1493.8h0M539.4 1503.7h0M500.0 1509.0h0M509.1 1541.9h0M529.1 1521.5h0M498.2 1543.2h0M494.8 1555.8h0M546.2 1494.4h0M534.0 1500.5h0M513.7 1533.8h0M539.8 1491.9h0M499.7 1521.1h0M503.0 1568.7h0M490.0 1531.2h0M496.0 1563.0h0M497.2 1558.8h0M513.3 1483.7h0M531.4 1526.8h0M524.3 1518.2h0M496.6 1566.8h0M494.9 1535.6h0M514.5 1518.7h0M520.1 1492.7h0M520.8 1489.6h0M513.5 1543.2h0M503.3 1563.7h0M509.8 1544.8h0M504.4 1545.8h0M509.9 1510.1h0M525.4 1510.2h0M477.7 1640.2h0M504.1 1535.5h0M518.8 1531.1h0M522.2 1537.8h0M507.3 1538.1h0M494.4 1538.5h0M481.5 1519.6h0M512.1 1517.4h0M517.7 1522.2h0M518.3 1518.9h0M509.7 1520.5h0M477.0 1516.3h0M487.4 1556.1h0M498.2 1530.1h0M485.1 1536.4h0M520.0 1529.2h0M516.3 1518.1h0M505.2 1510.9h0M497.3 1508.7h0M496.6 1563.4h0M531.8 1500.0h0M516.1 1539.0h0M490.2 1554.2h0M485.2 1536.2h0M520.8 1494.7h0M515.3 1517.2h0M540.3 1507.3h0M504.4 1515.7h0M481.2 1528.6h0M519.9 1534.4h0M513.1 1520.3h0M494.0 1531.0h0M476.6 1533.5h0M519.9 1525.3h0M492.7 1549.4h0M482.6 1601.4h0M548.6 1494.7h0M497.2 1555.6h0M510.5 1529.8h0M514.7 1487.4h0M477.9 1536.8h0M502.5 1562.3h0M495.4 1515.0h0M511.0 1529.4h0M490.9 1523.3h0M517.9 1505.1h0M499.4 1556.4h0M521.8 1506.1h0M491.1 1568.6h0M519.0 1504.5h0M516.0 1528.7h0M512.6 1541.6h0M494.1 1528.9h0M506.4 1540.4h0M490.9 1516.5h0M501.3 1516.4h0M541.6 1502.8h0M538.1 1495.8h0M532.4 1495.0h0M497.9 1559.2h0M512.8 1507.6h0M502.0 1520.8h0M480.8 1539.2h0M486.7 1529.1h0M495.0 1530.9h0M496.1 1541.0h0M522.5 1521.1h0M528.6 1510.0h0M501.7 1569.2h0M499.1 1543.6h0M494.7 1560.8h0M498.0 1546.1h0M535.0 1507.5h0M512.3 1519.9h0M531.6 1503.9h0M485.0 1538.4h0M504.9 1597.8h0M507.4 1516.8h0M544.3 1495.7h0M486.2 1540.2h0M517.3 1521.8h0M539.1 1510.4h0M513.7 1503.6h0M556.0 1491.5h0M507.2 1514.2h0M492.6 1552.1h0M483.3 1533.8h0M494.7 1533.3h0M514.4 1482.0h0M518.0 1505.2h0M488.2 1512.8h0M504.0 1557.4h0M495.8 1556.8h0M508.4 1534.2h0M492.3 1562.7h0M503.7 1567.2h0M491.6 1519.8h0M524.9 1520.5h0M479.8 1529.5h0M527.4 1510.1h0M485.5 1530.5h0M522.6 1508.5h0M516.1 1509.3h0M520.8 1509.2h0M526.1 1515.5h0M497.0 1568.6h0M505.2 1518.5h0M482.6 1534.1h0M527.2 1513.8h0M515.6 1528.3h0M499.4 1511.5h0M475.9 1520.9h0M511.0 1530.7h0M519.8 1490.1h0M490.6 1566.9h0M479.4 1530.3h0M501.1 1541.0h0M531.5 1498.9h0M503.5 1517.1h0M527.5 1521.1h0M495.9 1541.9h0M533.5 1514.1h0M540.6 1495.9h0M524.4 1504.9h0M500.2 1506.8h0M523.9 1531.5h0M492.4 1541.1h0M539.9 1497.8h0M509.0 1544.1h0M515.5 1488.6h0M525.0 1514.6h0M514.8 1522.1h0M526.5 1522.9h0M508.1 1543.6h0M481.3 1523.0h0M525.3 1529.0h0M496.0 1526.0h0M479.7 1536.2h0M518.0 1510.7h0M493.6 1536.8h0M480.9 1529.8h0M477.0 1534.1h0M511.9 1482.4h0M499.0 1565.3h0M495.5 1524.8h0M479.3 1540.9h0M504.0 1543.9h0M540.8 1505.3h0M524.6 1517.6h0M549.0 1496.4h0M518.9 1494.9h0M497.6 1537.1h0M507.4 1538.7h0M482.6 1531.0h0M492.6 1566.6h0M501.3 1567.1h0M544.3 1492.1h0M513.1 1485.9h0M543.9 1492.9h0M487.2 1519.9h0M495.1 1561.3h0M498.9 1519.5h0M513.4 1503.9h0M527.6 1499.1h0M526.4 1518.8h0M513.4 1503.6h0M499.7 1523.5h0M485.1 1519.7h0M499.7 1518.6h0M496.0 1538.7h0M543.2 1494.0h0M514.7 1486.2h0M498.3 1555.1h0M501.3 1531.0h0M501.2 1515.3h0M537.2 1503.5h0M510.8 1521.5h0M493.6 1536.4h0M487.3 1558.2h0M474.5 1530.9h0M487.3 1515.7h0M531.8 1516.0h0M554.0 1493.0h0M505.4 1524.3h0M496.5 1543.4h0M518.3 1540.5h0M501.2 1554.9h0M486.6 1534.9h0M481.4 1521.4h0M516.2 1531.7h0M500.5 1530.2h0M534.2 1512.7h0M501.4 1514.4h0M506.1 1573.6h0M496.6 1535.0h0M497.5 1538.4h0M506.4 1538.6h0M520.9 1506.2h0M534.5 1509.2h0M486.0 1545.6h0M497.4 1560.3h0M522.4 1522.5h0M496.4 1562.0h0M522.1 1538.2h0M519.5 1507.4h0M502.0 1560.2h0M490.9 1552.3h0M510.8 1544.6h0M475.0 1525.9h0M484.8 1532.0h0M494.8 1544.3h0M508.4 1514.6h0M517.9 1487.7h0M496.8 1514.7h0M517.1 1484.6h0M486.0 1534.8h0M499.4 1553.1h0M496.6 1548.7h0M481.2 1533.4h0M508.3 1544.3h0M496.7 1581.6h0M506.9 1540.0h0M527.6 1496.7h0M492.9 1512.7h0M518.3 1533.0h0M504.1 1543.3h0M507.3 1515.6h0M505.0 1516.0h0M495.4 1550.2h0M529.2 1511.4h0M486.2 1520.5h0M530.3 1510.2h0M482.4 1516.5h0M498.6 1518.9h0M497.8 1531.6h0M502.6 1546.1h0M521.8 1515.0h0M519.4 1495.2h0M497.5 1515.3h0M511.5 1520.2h0M517.8 1521.3h0M504.1 1520.4h0M515.7 1499.2h0M477.4 1514.9h0M548.7 1491.4h0M476.9 1517.1h0M539.0 1510.6h0M497.9 1520.4h0M508.8 1519.4h0M503.4 1520.0h0M479.9 1529.5h0M527.1 1502.4h0M506.2 1503.8h0M490.0 1527.5h0M496.0 1541.9h0M513.9 1524.3h0M519.7 1534.4h0M516.8 1539.4h0M493.1 1552.5h0M514.9 1484.4h0M486.3 1542.1h0M528.0 1504.5h0M520.6 1517.3h0M519.1 1539.3h0M495.9 1548.8h0M486.5 1548.6h0M496.1 1534.1h0M534.1 1511.9h0M529.7 1506.6h0M538.2 1502.6h0M502.2 1536.3h0M496.4 1535.6h0M493.9 1544.4h0M496.5 1529.3h0M523.3 1512.4h0M478.7 1517.1h0M520.1 1519.0h0M518.6 1504.1h0M522.9 1522.3h0M491.1 1537.2h0M489.7 1513.5h0M489.3 1519.9h0M500.5 1568.6h0M510.2 1537.0h0M512.7 1487.4h0M520.6 1526.3h0M490.2 1547.9h0M518.3 1509.6h0M483.1 1520.6h0M515.9 1503.7h0M492.9 1555.5h0M521.6 1519.0h0M516.1 1535.8h0M497.3 1520.1h0M522.0 1504.0h0M508.4 1514.0h0M483.9 1537.5h0M527.9 1521.9h0M517.2 1530.1h0M499.8 1543.6h0M532.2 1496.8h0M549.3 1489.9h0M550.6 1489.9h0M532.4 1519.4h0M539.9 1508.7h0M498.4 1515.3h0M497.7 1523.6h0M543.9 1495.7h0M483.6 1520.1h0M530.8 1498.0h0M529.9 1519.7h0M498.7 1535.0h0M503.7 1542.2h0M503.6 1567.6h0M504.3 1507.6h0M479.2 1554.8h0M502.0 1524.3h0M488.1 1513.6h0M547.0 1499.1h0M478.9 1522.2h0M502.6 1521.0h0M491.1 1541.1h0M483.6 1550.3h0M505.5 1520.3h0M529.6 1515.3h0M500.2 1565.8h0M528.3 1510.8h0M510.0 1544.5h0M519.2 1516.6h0M550.6 1498.7h0M487.7 1516.4h0M510.1 1541.9h0M491.5 1547.4h0M535.0 1503.9h0M495.7 1545.1h0M468.9 1540.0h0M503.9 1526.0h0M534.9 1500.2h0M532.5 1512.3h0M479.9 1523.9h0M490.8 1553.9h0M533.0 1511.9h0M487.7 1519.5h0M504.8 1522.6h0M514.1 1524.0h0M513.4 1484.6h0M537.1 1506.9h0M529.4 1524.2h0M515.2 1518.6h0M515.7 1492.4h0M493.2 1527.1h0M506.8 1520.2h0M485.0 1539.0h0M509.4 1520.7h0M507.8 1532.1h0M523.0 1519.4h0M483.5 1528.0h0M501.6 1507.5h0M514.0 1481.1h0M540.2 1500.1h0M537.7 1502.6h0M512.9 1539.1h0M508.6 1507.6h0M499.0 1510.7h0M542.9 1504.4h0M538.9 1513.0h0M490.2 1536.5h0M486.3 1517.4h0M494.9 1549.5h0M502.4 1548.0h0M520.0 1493.6h0M525.4 1520.3h0M498.9 1521.3h0M506.1 1509.6h0M538.5 1492.6h0M528.7 1500.5h0M495.8 1551.9h0M544.3 1500.8h0M533.8 1514.9h0M516.8 1498.5h0M513.6 1542.7h0M502.2 1565.5h0M530.2 1515.7h0M479.4 1536.7h0M517.1 1495.7h0M496.7 1537.6h0M518.1 1502.9h0M490.9 1547.5h0M529.8 1517.8h0M499.0 1566.0h0M512.6 1544.7h0M487.8 1520.4h0M521.1 1500.8h0M482.3 1529.2h0M522.4 1503.9h0M537.8 1509.2h0M494.4 1534.4h0M533.2 1502.9h0M502.6 1546.9h0M485.1 1538.4h0M536.5 1511.1h0M497.4 1523.3h0M504.9 1516.5h0M551.7 1490.9h0M521.5 1499.4h0M498.0 1536.7h0M488.9 1550.3h0M492.7 1548.2h0M524.3 1520.2h0M505.8 1545.7h0M483.4 1538.3h0M534.2 1507.4h0M514.3 1504.6h0M497.3 1555.9h0M517.3 1514.4h0M518.3 1537.4h0M492.0 1517.8h0M527.6 1510.9h0M482.9 1542.5h0M491.1 1553.6h0M544.3 1495.5h0M506.0 1544.9h0M520.7 1521.0h0M517.0 1486.3h0M510.4 1514.7h0M539.6 1495.4h0M518.2 1503.1h0M500.2 1547.8h0M518.4 1515.7h0M515.7 1515.4h0M515.4 1540.1h0M514.9 1509.4h0M485.2 1578.1h0M545.6 1486.7h0M524.9 1522.5h0M501.5 1542.1h0M523.5 1503.4h0M476.6 1528.7h0M498.9 1562.7h0M531.0 1497.3h0M506.7 1537.5h0M494.4 1549.8h0M514.3 1512.2h0M482.9 1519.1h0M496.8 1529.9h0M488.9 1522.9h0M520.9 1491.4h0M493.0 1513.4h0M493.5 1570.0h0M531.7 1504.5h0M491.7 1526.5h0M506.8 1556.9h0M507.1 1516.8h0M514.0 1500.4h0M510.1 1516.2h0M525.2 1515.2h0M495.5 1566.1h0M528.0 1510.4h0M522.4 1492.6h0M541.0 1503.0h0M540.3 1506.7h0M537.8 1499.8h0M496.0 1525.7h0M478.1 1631.3h0M466.1 1552.4h0M547.0 1486.8h0M551.1 1488.3h0M518.8 1504.7h0M515.8 1526.7h0M496.9 1524.6h0M489.2 1539.6h0M517.7 1526.6h0M525.4 1500.6h0M548.4 1497.6h0M531.6 1493.7h0M520.7 1491.1h0M496.9 1543.0h0M489.9 1510.4h0M531.0 1515.3h0M505.4 1509.8h0M484.5 1518.6h0M546.1 1496.4h0M494.4 1555.3h0M505.3 1512.6h0M501.0 1520.8h0M496.8 1564.6h0M504.5 1526.6h0M497.4 1545.7h0M477.9 1523.7h0M511.1 1541.8h0M529.0 1505.9h0M487.5 1544.6h0M486.3 1541.8h0M494.5 1532.2h0M520.9 1536.9h0M501.6 1551.6h0M513.8 1506.6h0M537.1 1508.3h0M550.3 1488.2h0M545.4 1495.2h0M508.2 1504.8h0M530.4 1511.6h0M509.9 1530.9h0M493.6 1544.9h0M519.8 1504.9h0M522.0 1492.4h0M495.6 1557.7h0M522.8 1503.1h0M510.3 1504.2h0M521.0 1511.3h0M503.8 1531.8h0M515.3 1530.9h0M498.7 1510.2h0M493.7 1543.9h0M535.6 1512.9h0M544.5 1492.9h0M511.1 1522.0h0M511.7 1501.9h0M522.4 1529.9h0M489.8 1516.6h0M490.4 1544.9h0M513.8 1484.5h0M545.0 1492.1h0M496.6 1520.9h0M518.0 1507.7h0M518.3 1516.6h0M537.5 1513.8h0M517.4 1520.7h0M501.9 1557.7h0M533.2 1497.1h0M494.0 1532.4h0M539.7 1504.0h0M505.2 1542.8h0M493.0 1545.1h0M492.7 1584.3h0M520.7 1530.3h0M484.0 1515.8h0M519.8 1512.0h0M543.5 1505.0h0M495.7 1553.4h0M514.9 1506.0h0M496.7 1557.1h0M527.7 1514.4h0M520.6 1530.3h0M495.1 1561.1h0M490.1 1551.0h0M528.2 1506.0h0M526.6 1509.6h0M523.3 1510.5h0M535.4 1506.7h0M480.2 1538.1h0M495.8 1552.6h0M526.4 1531.0h0M517.0 1497.1h0M530.1 1506.6h0M485.7 1601.4h0M486.4 1531.7h0M505.5 1505.2h0M513.4 1541.4h0M473.1 1549.6h0M477.5 1521.2h0M512.5 1488.1h0M485.4 1515.5h0M518.4 1494.1h0M512.6 1545.0h0M513.5 1491.5h0M494.7 1564.7h0M516.1 1508.1h0M502.2 1521.1h0M502.6 1570.0h0M522.4 1517.9h0M513.3 1534.0h0M523.3 1519.5h0M492.8 1518.8h0M531.5 1499.0h0M528.3 1503.5h0M495.3 1510.8h0M497.9 1604.9h0M490.7 1551.3h0M494.7 1530.9h0M496.4 1554.5h0M461.2 1486.6h0M492.1 1527.0h0M518.1 1529.6h0M492.6 1524.7h0M487.4 1543.3h0M507.2 1539.6h0M552.6 1492.5h0M511.9 1510.4h0M522.1 1498.7h0M482.7 1525.5h0M504.6 1507.2h0M518.4 1509.1h0M476.4 1515.1h0M524.0 1517.0h0M477.8 1516.3h0M514.1 1540.8h0M504.2 1573.5h0M509.0 1539.2h0M504.9 1508.9h0M540.7 1508.1h0M484.6 1538.0h0M515.6 1511.6h0M481.7 1519.8h0M491.4 1541.7h0M494.8 1518.9h0M500.9 1516.4h0M511.1 1505.6h0M499.0 1546.8h0M509.0 1485.8h0M501.4 1520.3h0M505.5 1502.8h0M486.5 1534.3h0M489.0 1529.7h0M481.6 1533.1h0M522.7 1529.9h0M507.4 1508.4h0M516.9 1499.2h0M494.7 1527.9h0M473.8 1551.8h0M536.2 1491.0h0M546.3 1497.2h0M491.9 1534.8h0M504.0 1503.6h0M518.3 1488.4h0M531.9 1506.2h0M525.3 1501.1h0M523.7 1524.0h0M521.1 1508.6h0M528.1 1515.2h0M549.6 1494.8h0M495.5 1559.9h0M524.5 1513.9h0M501.3 1514.3h0M461.4 1496.1h0M486.6 1542.1h0M521.3 1508.3h0M519.6 1504.9h0M502.7 1546.6h0M524.5 1494.5h0M473.5 1548.2h0M542.4 1504.5h0M520.2 1495.2h0M499.8 1543.5h0M531.4 1516.8h0M534.8 1501.0h0M521.4 1517.5h0M484.1 1516.0h0M535.3 1498.4h0M526.1 1496.6h0M494.9 1564.2h0M483.1 1535.1h0M492.1 1642.1h0M501.4 1545.5h0M513.6 1523.7h0M538.7 1516.0h0M513.6 1504.5h0M519.2 1509.2h0M502.2 1537.3h0M494.4 1543.0h0M505.0 1521.9h0M516.9 1535.1h0M499.4 1507.3h0M522.5 1503.3h0" stroke="#e5706b" stroke-width="2.90" stroke-linecap="round" fill="none"/>
<path d="M436.2 1566.5h0M479.9 1583.7h0M369.5 1598.1h0M469.4 1595.6h0M442.6 1582.2h0M354.2 1612.4h0M331.6 1463.4h0M443.9 1563.0h0M440.3 1561.6h0M442.1 1550.4h0M404.0 1554.3h0M368.8 1602.1h0M436.8 1558.3h0M441.7 1562.0h0M477.5 1603.8h0M444.8 1581.0h0M438.9 1576.6h0M442.9 1571.8h0M453.4 1584.6h0M428.3 1556.1h0M462.3 1588.9h0M323.4 1465.9h0M443.1 1557.1h0M433.6 1566.5h0M436.9 1561.6h0M451.9 1579.8h0M467.0 1594.5h0M467.6 1596.5h0M451.7 1573.6h0M437.3 1554.1h0M433.0 1544.2h0M448.8 1574.5h0M456.6 1589.8h0M440.8 1552.0h0M438.9 1569.7h0M363.5 1606.6h0M353.3 1608.6h0M443.3 1562.1h0M440.2 1579.7h0M430.5 1548.6h0M440.0 1570.5h0M433.5 1549.7h0M448.1 1572.7h0M431.8 1542.6h0M444.8 1548.4h0M466.2 1594.4h0M448.4 1570.3h0M441.8 1563.0h0M466.0 1592.1h0M447.2 1562.6h0M449.1 1582.1h0M362.9 1616.8h0M475.6 1592.3h0M453.1 1590.9h0M436.5 1567.2h0M369.5 1597.5h0M450.0 1582.0h0M453.7 1580.3h0M361.6 1607.8h0M452.7 1577.0h0M365.0 1605.4h0M440.1 1564.5h0M364.7 1612.7h0M476.1 1602.7h0M437.7 1567.0h0M431.1 1554.4h0M438.9 1549.0h0M441.3 1575.4h0M367.5 1610.5h0M444.1 1568.7h0M433.2 1559.4h0M467.2 1596.4h0M451.2 1586.4h0M443.0 1558.5h0M375.0 1603.9h0M468.3 1592.7h0M355.7 1611.0h0M444.7 1575.7h0M437.7 1570.1h0M471.7 1591.4h0M436.0 1552.4h0M442.3 1566.2h0M430.2 1552.4h0M348.4 1610.4h0M433.6 1549.5h0M359.0 1611.1h0M457.7 1585.7h0M361.7 1609.6h0M374.9 1603.0h0M431.9 1568.9h0M368.8 1612.8h0M439.3 1556.2h0M427.3 1553.0h0M457.9 1587.1h0M428.5 1548.6h0M442.3 1558.7h0M453.7 1582.8h0M448.5 1570.7h0M473.2 1598.0h0M465.9 1592.5h0M474.8 1602.2h0M366.6 1614.4h0M430.6 1553.1h0M471.8 1597.9h0M456.2 1585.0h0M455.2 1589.2h0M435.0 1545.6h0M434.2 1559.3h0M461.0 1588.3h0M459.2 1593.5h0M355.7 1611.8h0M352.3 1607.4h0M436.9 1560.8h0M447.8 1580.5h0M462.9 1590.4h0M442.4 1570.3h0M441.3 1575.7h0M464.9 1586.2h0M445.5 1576.3h0M352.1 1608.5h0M369.7 1611.7h0M440.6 1559.7h0M441.5 1578.0h0M365.2 1613.0h0M453.8 1588.3h0M435.8 1561.4h0M438.6 1550.7h0M371.0 1603.8h0M437.8 1559.6h0M451.7 1590.8h0M430.5 1550.7h0M366.6 1604.8h0M443.6 1569.4h0M449.4 1582.5h0M437.7 1578.3h0M430.2 1556.0h0M494.2 1595.1h0M470.4 1595.7h0M486.4 1584.2h0M447.1 1559.1h0M474.7 1598.0h0M442.7 1550.2h0M361.7 1609.9h0M457.1 1581.0h0M451.7 1584.5h0M367.8 1600.2h0M476.4 1571.6h0M470.2 1593.4h0M403.8 1555.0h0M463.6 1591.2h0M362.8 1616.2h0M352.9 1610.2h0M457.7 1586.2h0M360.7 1607.9h0M374.1 1600.3h0M455.4 1587.0h0M448.6 1579.0h0M362.5 1606.0h0M443.6 1581.7h0M438.2 1567.7h0M444.1 1563.3h0M428.5 1565.1h0M370.5 1610.5h0M443.0 1563.4h0M432.8 1561.1h0M439.3 1562.7h0M445.7 1573.0h0M460.4 1590.1h0M469.7 1589.9h0M450.7 1584.0h0M442.3 1560.3h0M497.3 1574.8h0M406.0 1552.2h0M431.5 1556.3h0M456.1 1589.9h0M448.7 1576.2h0M487.5 1603.6h0M462.4 1585.5h0M352.3 1610.5h0M363.4 1600.8h0M434.0 1554.0h0M368.3 1606.2h0M434.5 1551.8h0M441.9 1580.9h0M444.1 1577.4h0M464.8 1590.6h0M435.9 1558.4h0M448.9 1572.4h0M441.3 1569.5h0M356.4 1602.9h0M439.6 1566.9h0M436.3 1553.0h0M459.4 1591.0h0M438.5 1565.1h0M453.2 1589.3h0M439.2 1559.4h0M459.2 1590.5h0M461.1 1592.0h0M444.4 1579.4h0M356.3 1614.8h0M434.4 1551.5h0M352.0 1606.5h0M448.0 1583.6h0M466.5 1598.6h0M433.6 1549.5h0M397.0 1557.2h0M360.3 1611.1h0M462.9 1593.1h0M437.4 1552.5h0M451.4 1583.4h0M429.0 1552.8h0M452.0 1581.0h0M372.9 1599.6h0M443.8 1561.5h0M364.7 1604.2h0M446.7 1566.3h0M451.5 1572.0h0M477.9 1601.2h0M475.4 1601.7h0M438.7 1565.4h0M457.8 1589.5h0M398.4 1559.0h0M433.4 1570.8h0M361.9 1613.2h0M479.7 1607.9h0M353.4 1610.5h0M436.6 1556.8h0M434.4 1556.0h0M436.7 1559.2h0M479.7 1602.0h0M434.1 1550.2h0M433.9 1551.2h0M448.8 1576.3h0M453.9 1583.3h0M437.1 1565.3h0M445.2 1572.9h0M441.3 1580.7h0M436.2 1563.6h0M449.1 1581.4h0M443.2 1581.2h0M364.2 1610.5h0M451.9 1586.3h0M469.3 1595.9h0M455.4 1588.1h0M473.5 1600.6h0M475.8 1579.9h0M454.4 1577.0h0M365.7 1609.8h0M459.4 1587.3h0M364.4 1606.5h0M440.1 1554.1h0M431.8 1565.6h0M471.6 1598.8h0M432.5 1573.1h0M457.5 1585.7h0M446.8 1585.7h0M359.1 1608.8h0M397.4 1558.4h0M443.0 1576.4h0M446.3 1573.0h0M361.3 1610.6h0M368.0 1605.1h0M455.6 1587.1h0M435.4 1558.4h0M447.3 1569.8h0M451.8 1577.0h0M443.3 1576.7h0M428.4 1558.7h0M359.3 1602.9h0M401.7 1556.3h0M504.6 1570.1h0M474.1 1602.0h0M459.2 1588.4h0M429.6 1553.6h0M365.5 1607.5h0M444.8 1560.6h0M375.9 1604.6h0M437.7 1553.2h0M433.4 1554.8h0M428.8 1552.4h0M433.3 1544.3h0M354.2 1613.3h0M448.8 1582.1h0M358.5 1602.6h0M471.2 1599.7h0M457.9 1588.4h0M432.1 1565.7h0M432.7 1546.6h0M469.7 1597.4h0M365.7 1602.0h0M448.2 1579.4h0M375.5 1603.0h0" stroke="#17a855" stroke-width="2.90" stroke-linecap="round" fill="none"/>
<path d="M276.5 1414.2h0M284.2 1426.3h0M258.2 1421.5h0M240.5 1427.0h0M267.6 1419.2h0M277.7 1412.4h0M288.8 1433.6h0M242.7 1416.1h0M274.1 1441.1h0M249.7 1444.4h0M264.7 1438.2h0M271.7 1442.9h0M260.8 1438.6h0M272.6 1447.5h0M280.9 1430.2h0M264.5 1432.3h0M261.9 1434.0h0M247.0 1411.2h0M254.8 1453.1h0M288.6 1434.4h0M261.7 1416.7h0M280.1 1411.8h0M268.0 1423.5h0M266.5 1437.5h0M247.7 1410.9h0M266.8 1447.6h0M271.3 1448.0h0M242.8 1434.8h0M260.0 1404.5h0M267.6 1449.3h0M258.5 1419.0h0M245.2 1420.0h0M273.4 1437.9h0M278.0 1436.6h0M271.1 1447.1h0M254.1 1417.3h0M255.5 1434.8h0M241.6 1423.9h0M277.1 1437.3h0M281.7 1434.6h0M251.9 1412.8h0M263.6 1435.8h0M284.3 1430.0h0M273.2 1425.1h0M259.8 1435.8h0M259.3 1412.6h0M279.9 1420.3h0M265.0 1401.5h0M247.7 1411.1h0M261.9 1418.9h0M262.5 1429.5h0M246.3 1441.6h0M290.9 1442.2h0M277.5 1436.2h0M286.8 1448.8h0M283.3 1431.8h0M270.1 1418.1h0M276.7 1418.1h0M268.8 1413.2h0M256.8 1437.0h0M248.7 1429.5h0M275.2 1449.7h0M272.9 1421.1h0M283.8 1418.8h0M271.2 1408.2h0M246.8 1432.5h0M263.8 1419.3h0M272.4 1419.1h0M262.5 1431.9h0M288.3 1423.5h0M264.6 1454.4h0M262.0 1432.2h0M264.0 1431.6h0M272.3 1437.0h0M265.8 1413.7h0M258.7 1424.0h0M245.7 1416.1h0M272.5 1433.7h0M247.2 1435.7h0M263.9 1424.6h0M244.9 1427.0h0M252.6 1404.7h0M247.8 1424.4h0M266.3 1431.0h0M284.0 1441.4h0M287.0 1428.1h0M274.5 1427.1h0M242.0 1434.5h0M259.8 1401.5h0M282.3 1441.8h0M249.5 1423.1h0M268.2 1453.8h0M256.3 1409.8h0M261.7 1405.2h0M271.2 1434.8h0M252.7 1417.1h0M249.9 1444.9h0M266.8 1408.8h0M267.9 1404.2h0M292.1 1432.5h0M253.7 1440.7h0M251.0 1446.5h0M270.0 1438.9h0M269.1 1439.5h0M285.3 1432.2h0M280.7 1411.3h0M289.8 1438.4h0M279.7 1444.1h0M264.2 1404.8h0M276.9 1441.0h0M252.6 1407.4h0M268.1 1424.0h0M274.6 1410.7h0M290.7 1431.8h0M261.8 1443.7h0M270.8 1418.5h0M250.9 1419.1h0M272.4 1426.3h0M290.1 1424.5h0M285.8 1419.6h0M241.8 1421.2h0M244.1 1438.1h0M253.3 1409.6h0M259.0 1451.9h0M261.6 1422.5h0M260.9 1429.7h0M249.5 1449.9h0M246.6 1412.1h0M281.7 1443.3h0M264.1 1405.2h0M248.8 1416.4h0M244.8 1437.6h0M285.1 1420.3h0M244.4 1432.6h0M243.5 1418.6h0M248.6 1445.9h0M271.9 1425.8h0M260.3 1448.7h0M272.6 1435.2h0M283.1 1428.8h0M261.3 1413.6h0M265.4 1435.7h0M261.9 1407.9h0M261.4 1448.0h0M277.2 1452.9h0M251.5 1411.5h0M278.6 1419.4h0M274.5 1432.2h0M279.0 1436.3h0M249.6 1417.0h0M276.1 1412.7h0M241.0 1423.1h0M278.5 1451.6h0M270.0 1432.5h0M270.1 1444.7h0M246.6 1414.6h0M253.5 1419.2h0M277.8 1415.1h0M265.3 1431.2h0M252.9 1450.9h0M242.0 1427.6h0M267.8 1411.5h0M282.9 1429.6h0M290.6 1438.2h0M266.8 1431.7h0M258.7 1444.7h0M263.1 1445.2h0M249.0 1449.8h0M247.4 1433.7h0M245.4 1417.2h0M255.2 1431.2h0M256.3 1444.9h0M268.9 1422.6h0M256.2 1416.2h0M285.6 1446.2h0M276.4 1433.0h0M251.4 1408.8h0M273.0 1453.1h0M270.9 1402.7h0M276.1 1418.8h0M252.3 1447.1h0M279.1 1448.7h0M264.8 1449.2h0M254.0 1422.8h0M253.3 1426.3h0M268.3 1435.7h0M245.9 1441.4h0M255.3 1416.6h0M267.1 1444.6h0M271.0 1413.7h0M275.6 1409.3h0M267.7 1427.4h0M265.1 1404.3h0M266.2 1447.3h0M247.4 1435.9h0M278.0 1411.6h0M255.8 1432.8h0M263.2 1431.6h0M247.5 1422.8h0M269.7 1423.8h0M273.7 1410.3h0M257.6 1448.0h0M247.0 1428.9h0M261.7 1441.5h0M290.7 1444.9h0M286.0 1444.2h0M269.4 1409.2h0M266.8 1418.3h0M278.6 1418.9h0M255.8 1450.5h0M252.8 1421.4h0M275.2 1448.4h0M254.6 1402.2h0M278.7 1426.0h0M269.1 1425.3h0M283.9 1427.0h0M292.5 1446.8h0M262.7 1436.7h0M289.3 1430.4h0M286.3 1416.5h0M250.4 1443.9h0M272.4 1429.0h0M257.5 1418.3h0M276.0 1412.2h0M286.9 1437.5h0M268.9 1420.4h0M258.7 1433.0h0M249.4 1431.8h0M265.1 1446.9h0M269.1 1446.9h0M269.9 1431.1h0M246.0 1424.2h0M285.5 1445.6h0M239.2 1424.6h0M264.6 1436.9h0M262.7 1441.6h0M255.5 1432.0h0M293.0 1448.1h0M271.9 1437.5h0M252.8 1446.3h0M276.7 1420.6h0M279.6 1433.0h0M272.5 1449.1h0M242.0 1431.2h0M267.7 1453.3h0M267.5 1417.7h0M275.4 1445.8h0M264.4 1435.3h0M252.4 1408.6h0M274.5 1433.7h0M254.8 1447.3h0M263.0 1450.7h0M256.4 1437.7h0M293.1 1436.4h0M253.0 1408.5h0M262.4 1409.0h0M259.3 1431.5h0M250.8 1431.2h0M260.5 1415.4h0M283.5 1448.3h0M270.7 1406.3h0M287.6 1429.8h0M260.2 1452.5h0M260.9 1451.6h0M261.2 1413.8h0M286.1 1436.2h0M270.4 1451.2h0M265.1 1434.1h0M251.7 1407.2h0M276.7 1409.9h0M251.0 1432.9h0M262.7 1431.3h0M251.2 1425.6h0M256.0 1413.6h0M272.9 1408.4h0M272.2 1404.8h0M281.8 1448.9h0" stroke="#d66ba8" stroke-width="2.90" stroke-linecap="round" fill="none"/>
<path d="M334.4 1579.3h0M365.8 1568.3h0M325.6 1583.0h0M328.8 1622.5h0M358.8 1580.0h0M333.7 1591.5h0M308.0 1611.9h0M335.2 1590.4h0M315.8 1596.4h0M341.7 1613.8h0M341.4 1597.4h0M354.3 1574.3h0M326.7 1601.9h0M319.6 1597.6h0M340.1 1604.5h0M334.7 1589.4h0M339.2 1578.8h0M357.6 1589.2h0M339.8 1592.9h0M346.8 1583.1h0M331.9 1598.3h0M341.0 1594.6h0M341.8 1596.3h0M326.0 1620.1h0M311.3 1610.4h0M327.1 1607.9h0M350.6 1594.6h0M467.8 1543.8h0M327.4 1623.2h0M317.2 1597.5h0M332.4 1584.8h0M302.6 1621.0h0M310.8 1611.8h0M319.1 1610.3h0M313.8 1598.9h0M342.8 1586.0h0M358.3 1584.0h0M484.3 1553.8h0M300.0 1621.1h0M325.2 1617.8h0M352.3 1576.8h0M348.7 1583.1h0M336.6 1586.1h0M334.2 1613.4h0M321.9 1600.6h0M305.7 1616.4h0M318.5 1606.2h0M335.3 1618.7h0M338.1 1605.9h0M355.3 1585.5h0M334.4 1603.3h0M318.3 1625.6h0M329.8 1597.8h0M325.8 1618.2h0M362.4 1581.0h0M372.9 1580.5h0M326.0 1590.2h0M378.9 1572.8h0M344.6 1595.2h0M368.9 1567.2h0M327.9 1607.2h0M341.0 1575.4h0M311.2 1603.4h0M300.4 1621.4h0M327.1 1610.7h0M343.9 1598.3h0M341.8 1606.4h0M476.0 1553.4h0M311.0 1618.9h0M308.4 1605.9h0M356.3 1589.1h0M362.8 1577.9h0M310.4 1617.0h0M470.6 1543.1h0M319.0 1593.4h0M347.3 1599.3h0M348.7 1581.8h0M340.8 1573.7h0M327.0 1616.7h0M316.8 1614.1h0M315.7 1597.1h0M335.0 1584.5h0M333.8 1602.3h0M321.1 1619.2h0M347.3 1598.8h0M356.4 1582.6h0M323.6 1610.7h0M313.2 1610.6h0M348.6 1608.3h0M345.2 1597.8h0M345.3 1592.3h0M319.5 1606.1h0M313.8 1621.3h0M330.7 1607.6h0M481.4 1543.5h0M310.7 1610.6h0M348.1 1604.9h0M348.3 1587.3h0M313.9 1602.2h0M333.3 1603.4h0M317.1 1596.7h0M317.5 1623.3h0M316.0 1620.0h0M328.9 1616.4h0M353.5 1593.2h0M350.2 1573.2h0M342.1 1593.6h0M336.0 1587.3h0M360.2 1580.0h0M337.9 1577.1h0M481.1 1551.3h0M342.5 1577.0h0M345.1 1596.8h0M340.9 1574.7h0M328.7 1611.2h0M313.2 1620.2h0M303.4 1621.3h0M322.2 1601.0h0M333.4 1619.2h0M336.3 1614.0h0M341.4 1615.5h0M330.9 1614.0h0M328.7 1591.9h0M315.1 1598.5h0M329.9 1580.0h0M327.6 1585.2h0M321.9 1593.9h0M325.7 1589.7h0M320.2 1607.9h0M339.4 1592.3h0M330.4 1589.1h0M335.2 1587.0h0M344.0 1577.9h0M333.2 1580.8h0M314.9 1618.0h0M350.6 1596.4h0M301.6 1622.9h0M474.4 1550.0h0M312.8 1605.3h0M360.7 1574.5h0M320.6 1590.2h0M309.5 1604.7h0M315.6 1600.6h0M314.8 1595.6h0M353.4 1589.3h0M351.7 1608.2h0M365.2 1583.7h0M342.3 1581.6h0M342.1 1577.1h0M342.3 1603.7h0M357.6 1572.9h0M345.1 1577.1h0M371.6 1570.3h0M343.0 1614.1h0M346.3 1594.2h0M336.8 1603.5h0M359.3 1572.3h0M480.2 1539.0h0M304.3 1622.3h0M338.9 1598.2h0M321.8 1600.0h0M344.9 1580.8h0M357.1 1594.1h0M351.1 1574.7h0M345.9 1593.9h0M344.5 1589.9h0M348.7 1576.3h0M342.9 1577.7h0M314.4 1603.5h0M349.1 1590.8h0M352.9 1586.6h0M482.7 1552.2h0M338.3 1605.6h0M330.5 1608.0h0M322.9 1623.9h0M341.8 1600.3h0M322.4 1598.3h0M337.5 1577.6h0M329.5 1612.5h0M366.4 1580.1h0M339.9 1596.8h0M337.3 1585.1h0M312.9 1597.9h0M473.4 1547.2h0M315.0 1612.0h0M352.6 1597.8h0M312.4 1605.4h0M328.0 1585.5h0M353.3 1608.3h0M327.1 1591.9h0M319.0 1611.7h0M358.0 1590.3h0M349.2 1597.4h0M323.7 1607.3h0M317.7 1626.3h0M357.7 1599.6h0M321.3 1601.2h0M373.3 1572.8h0M313.4 1610.6h0M326.6 1597.3h0M327.1 1612.3h0M482.8 1543.1h0M339.1 1582.4h0M337.5 1604.2h0M326.7 1616.7h0M349.6 1606.4h0M341.2 1586.6h0M364.9 1583.3h0M319.0 1624.5h0M325.3 1625.1h0M307.8 1623.0h0M324.1 1620.2h0M354.9 1577.1h0M316.1 1614.3h0M322.4 1602.3h0M360.2 1583.0h0M336.6 1619.3h0M351.0 1577.1h0M334.8 1582.8h0M308.2 1602.2h0M360.1 1575.2h0M332.6 1588.3h0M319.6 1598.3h0M324.6 1621.7h0M316.3 1605.3h0M327.4 1615.0h0M333.8 1603.8h0M470.1 1542.0h0M344.3 1606.2h0M311.1 1618.2h0M324.6 1625.9h0M332.5 1581.9h0M376.6 1569.7h0M316.6 1619.5h0M337.7 1593.0h0M353.6 1594.0h0M346.6 1612.4h0M337.6 1590.1h0M349.7 1577.1h0M320.6 1614.8h0M467.7 1544.1h0M476.3 1546.3h0M351.6 1596.3h0M338.3 1577.6h0M338.0 1595.8h0M332.8 1585.6h0M350.1 1597.4h0M347.7 1581.1h0M341.4 1619.3h0M477.9 1552.2h0M368.3 1585.0h0M338.3 1600.2h0M320.1 1618.8h0M355.2 1579.8h0M332.5 1613.4h0M345.0 1586.3h0M353.1 1597.7h0M323.0 1598.9h0M345.1 1589.6h0M317.5 1595.6h0M353.4 1596.8h0M309.9 1609.5h0M309.4 1613.4h0M326.6 1589.9h0M343.3 1597.2h0M338.3 1580.3h0M348.9 1602.1h0M318.0 1595.7h0M339.9 1600.3h0M302.6 1623.7h0M354.5 1597.6h0M360.0 1576.5h0M319.9 1601.2h0M316.1 1609.3h0M333.0 1608.7h0M333.0 1601.2h0M338.2 1609.7h0M315.4 1595.7h0M311.5 1611.9h0M358.6 1575.6h0M326.5 1622.4h0M320.9 1593.8h0M316.6 1619.6h0M353.2 1586.7h0M333.8 1611.5h0M334.0 1605.6h0M349.4 1574.2h0M322.9 1620.3h0M349.4 1579.8h0M349.3 1587.7h0M334.9 1621.4h0M335.4 1603.2h0M303.4 1614.1h0M338.5 1586.8h0M473.5 1540.7h0M345.1 1592.5h0M301.8 1617.1h0M327.4 1584.9h0M358.7 1580.5h0M353.9 1595.3h0M327.5 1587.8h0M322.3 1625.7h0M347.9 1581.4h0M324.9 1612.7h0M310.4 1617.4h0M348.6 1608.9h0M367.9 1586.7h0M316.9 1620.3h0M328.2 1621.4h0M343.0 1598.0h0M337.7 1600.2h0M349.7 1582.6h0M362.8 1589.7h0M327.6 1611.3h0M313.3 1606.3h0M323.7 1621.7h0M324.7 1610.1h0M327.3 1594.7h0M314.7 1601.2h0M320.9 1618.5h0M305.8 1623.1h0M331.3 1589.6h0M309.3 1620.5h0M303.0 1610.6h0M323.6 1622.9h0M345.7 1573.9h0M308.2 1616.8h0M380.2 1572.3h0M339.0 1601.6h0M318.3 1617.9h0M324.8 1593.6h0M359.9 1584.3h0M323.6 1590.9h0M313.4 1618.6h0M312.7 1622.4h0M330.0 1585.4h0M352.9 1591.7h0M310.3 1617.7h0M336.2 1603.8h0M369.5 1576.5h0M305.9 1609.1h0M365.0 1579.2h0M376.4 1576.8h0M334.6 1597.4h0M321.3 1593.6h0M348.5 1602.8h0M357.8 1584.7h0M359.2 1590.2h0M326.5 1597.4h0M353.1 1596.7h0M319.3 1616.5h0M324.4 1592.3h0M325.9 1607.9h0M481.8 1542.9h0M325.8 1597.0h0M326.6 1595.6h0M335.2 1622.8h0M338.1 1595.7h0M319.6 1620.8h0M483.4 1548.2h0M338.4 1611.0h0M325.0 1601.4h0M364.0 1582.8h0M352.1 1591.2h0M315.5 1622.4h0M307.2 1615.8h0M339.5 1599.1h0M320.0 1614.4h0M360.2 1587.7h0M343.5 1615.6h0M319.9 1624.9h0M315.9 1627.0h0M349.1 1605.0h0M365.3 1586.3h0M374.1 1571.0h0M326.5 1622.5h0M310.7 1609.6h0M332.5 1591.3h0M347.7 1575.1h0M300.5 1610.9h0M319.4 1594.9h0M338.2 1575.9h0M325.7 1621.8h0M353.6 1583.1h0M342.1 1607.0h0M341.4 1612.9h0M337.7 1612.5h0M327.2 1620.5h0M328.0 1610.8h0M311.6 1608.7h0M357.8 1578.2h0M347.3 1601.2h0M328.3 1591.6h0M322.9 1587.2h0M319.8 1593.4h0M348.5 1612.6h0M376.5 1562.7h0M336.8 1590.1h0M313.3 1612.7h0M327.0 1592.9h0M344.7 1578.9h0M354.0 1591.1h0M478.2 1554.0h0M354.9 1602.4h0M336.9 1596.9h0M369.6 1578.0h0M356.6 1584.8h0M376.5 1565.6h0M319.4 1610.3h0M319.0 1603.6h0M472.0 1552.5h0M334.0 1588.3h0M335.8 1619.5h0M335.0 1608.0h0M354.8 1596.8h0M321.1 1604.1h0M316.0 1604.6h0M314.8 1611.1h0M342.8 1604.1h0M373.0 1596.8h0M468.0 1540.9h0M333.8 1611.9h0M324.8 1601.0h0M347.8 1589.3h0M339.3 1613.3h0M354.2 1593.9h0M314.6 1598.7h0M328.3 1585.6h0M319.4 1606.2h0M300.1 1618.2h0M473.5 1541.3h0M320.5 1599.1h0M329.4 1610.1h0M313.6 1622.5h0M300.4 1615.8h0M329.0 1611.6h0" stroke="#8581ba" stroke-width="2.90" stroke-linecap="round" fill="none"/>
<path d="M164.4 1431.0h0M188.2 1422.4h0M202.3 1419.2h0M218.0 1424.4h0M217.4 1430.1h0M223.7 1432.2h0M228.8 1423.0h0M234.4 1435.7h0M234.6 1447.2h0M173.0 1429.3h0M233.1 1435.2h0M242.1 1427.9h0M218.0 1450.1h0M205.0 1442.6h0M190.1 1431.8h0M228.6 1444.1h0M235.8 1450.8h0M212.1 1425.8h0M174.0 1429.9h0M208.4 1413.2h0M173.0 1423.3h0M167.0 1432.1h0M173.5 1423.1h0M177.2 1440.3h0M173.9 1432.3h0M178.4 1419.9h0M226.7 1440.6h0M187.0 1441.9h0M240.2 1427.2h0M204.4 1412.9h0M230.4 1432.1h0M216.0 1435.6h0M245.2 1451.5h0M244.6 1453.4h0M231.1 1453.9h0M224.8 1430.5h0M209.2 1434.2h0M206.5 1413.9h0M200.7 1434.2h0M240.7 1444.8h0M197.4 1452.4h0M193.2 1435.0h0M172.3 1434.1h0M194.7 1427.6h0M198.6 1420.6h0M235.7 1451.9h0M181.5 1420.3h0M238.4 1452.9h0M245.7 1453.9h0M198.4 1427.3h0M174.2 1432.9h0M192.0 1448.8h0M184.0 1438.6h0M204.6 1415.5h0M231.3 1421.5h0M195.4 1418.9h0M181.4 1434.9h0M213.7 1418.4h0M198.8 1438.8h0M169.5 1433.5h0M211.0 1446.4h0M224.6 1440.8h0M186.6 1418.6h0M198.7 1441.7h0M243.8 1448.4h0M211.0 1418.4h0M227.5 1431.6h0M230.6 1456.5h0M172.8 1425.0h0M227.7 1452.1h0M186.2 1425.8h0M238.2 1423.1h0M222.4 1450.0h0M203.6 1435.1h0M163.6 1427.7h0M223.4 1445.0h0M174.6 1437.4h0M234.6 1440.5h0M234.4 1437.0h0M182.8 1443.7h0M227.4 1450.4h0M229.7 1444.4h0M246.3 1446.1h0M221.3 1433.8h0M219.5 1454.7h0M227.6 1454.5h0M224.1 1432.0h0M206.3 1441.0h0M215.7 1421.5h0M210.4 1432.8h0M256.4 1453.8h0M243.4 1447.5h0M203.4 1441.6h0M235.3 1455.7h0M175.6 1439.3h0M194.3 1414.8h0M214.8 1442.3h0M183.6 1437.2h0M166.5 1434.0h0M230.8 1452.8h0M219.8 1446.2h0M227.2 1431.0h0M173.7 1428.0h0M240.7 1454.7h0M194.4 1421.0h0M212.6 1451.8h0M173.8 1424.6h0M191.6 1427.1h0M204.1 1446.3h0M220.7 1421.4h0M213.8 1419.4h0M201.2 1430.8h0M200.7 1438.3h0M195.6 1448.0h0M215.1 1434.1h0M233.0 1445.3h0M178.6 1418.7h0M206.3 1447.5h0M181.1 1416.4h0M227.1 1451.8h0M224.4 1445.8h0M208.1 1437.9h0M207.8 1418.6h0M226.0 1449.2h0M190.6 1432.9h0M184.5 1434.2h0M223.1 1426.3h0M212.3 1433.5h0M173.3 1421.5h0M207.3 1447.5h0M223.8 1446.0h0M216.8 1423.8h0M197.0 1432.2h0M193.6 1426.5h0M178.7 1426.3h0M233.0 1440.7h0M204.0 1419.5h0M209.4 1449.1h0M218.8 1426.4h0M193.7 1422.2h0M211.3 1439.3h0M235.1 1452.6h0M183.2 1445.0h0M238.2 1430.2h0M223.6 1429.9h0M211.7 1429.3h0M210.8 1417.4h0M229.1 1450.4h0M221.7 1449.3h0M228.4 1424.3h0M223.6 1419.6h0M192.4 1431.1h0M182.1 1440.3h0M216.0 1437.4h0M236.0 1455.7h0M200.6 1425.3h0M187.3 1419.9h0M327.8 1468.2h0M219.6 1451.8h0M233.0 1457.1h0M220.6 1435.8h0M183.2 1433.9h0M195.9 1447.1h0M207.9 1448.9h0M222.7 1430.3h0M183.0 1429.1h0M222.8 1451.8h0M194.2 1445.2h0M173.0 1424.7h0M166.5 1427.4h0M240.7 1433.4h0M226.0 1416.7h0M240.3 1437.7h0M210.3 1421.1h0M179.7 1423.0h0M208.2 1442.1h0M186.2 1422.4h0M221.1 1424.5h0M174.8 1431.5h0M231.9 1444.3h0M233.7 1440.1h0M177.7 1435.1h0M220.6 1423.5h0M186.5 1441.2h0M197.4 1433.8h0M239.6 1430.3h0M226.4 1430.1h0M191.7 1426.9h0M205.9 1412.4h0M236.8 1446.8h0M215.6 1423.6h0M203.7 1444.8h0M216.8 1440.7h0M183.2 1419.4h0M196.9 1430.0h0M228.8 1440.9h0M215.4 1432.0h0M237.4 1434.5h0M209.6 1448.9h0M235.1 1445.2h0M186.6 1427.8h0M187.6 1434.8h0M194.8 1448.1h0M173.5 1429.1h0M168.9 1437.9h0M167.4 1432.8h0M177.1 1422.0h0M167.3 1431.7h0M203.5 1432.9h0M170.8 1430.3h0M204.1 1445.7h0M235.4 1443.0h0M171.7 1430.0h0M182.9 1417.7h0M220.8 1420.5h0M230.0 1437.7h0M235.5 1448.4h0M197.8 1438.0h0M183.4 1441.5h0M231.0 1445.4h0M221.8 1430.4h0M186.1 1423.5h0M218.3 1445.8h0M209.7 1435.5h0M159.8 1430.7h0M233.0 1455.7h0M172.8 1424.1h0M184.4 1418.5h0M170.4 1431.8h0M186.3 1429.3h0M240.2 1447.2h0M202.5 1417.3h0M168.4 1429.5h0M215.9 1423.9h0M228.3 1421.9h0M225.5 1453.1h0M202.2 1435.2h0M190.3 1420.1h0M203.3 1421.6h0M195.2 1420.2h0M205.8 1413.2h0M198.9 1430.9h0M179.9 1426.7h0M202.5 1423.9h0M228.2 1424.7h0M221.9 1443.0h0M220.0 1420.6h0M238.5 1427.7h0M221.7 1429.8h0M198.6 1424.8h0M170.9 1433.8h0M208.5 1438.1h0M217.4 1443.6h0M222.7 1426.7h0M210.4 1426.7h0M212.1 1415.8h0M177.4 1437.1h0M238.8 1440.6h0M221.3 1439.5h0M193.6 1445.2h0M215.8 1431.8h0M187.0 1434.2h0M226.1 1440.8h0M222.2 1435.3h0M196.2 1418.8h0M221.6 1436.5h0M210.8 1447.3h0M234.2 1438.9h0M217.3 1444.4h0M233.6 1450.2h0M182.0 1435.2h0M168.1 1427.0h0M208.7 1433.6h0M178.0 1425.9h0M236.0 1457.3h0M226.7 1430.3h0M232.3 1434.4h0M185.7 1415.6h0M215.6 1433.5h0M238.5 1443.3h0M223.7 1424.7h0M202.1 1433.6h0M240.3 1442.0h0M233.2 1446.8h0M241.0 1432.0h0M195.6 1416.6h0M211.7 1449.0h0M188.1 1422.9h0M182.5 1446.1h0M230.0 1423.9h0M188.0 1414.8h0M208.6 1430.4h0M213.7 1441.5h0M252.5 1453.5h0M214.3 1438.1h0M207.4 1433.3h0M174.3 1439.2h0M211.4 1423.6h0M212.8 1448.5h0M231.1 1438.6h0M194.2 1420.3h0M232.5 1452.0h0M224.8 1421.0h0M220.0 1450.1h0M239.3 1446.6h0M239.0 1454.2h0M198.6 1419.5h0M230.0 1434.9h0M181.3 1438.0h0M217.9 1422.8h0M194.4 1435.1h0M229.7 1442.1h0M175.3 1426.7h0M209.5 1444.8h0M208.3 1430.4h0M203.6 1443.5h0M221.6 1423.5h0M225.5 1440.5h0M171.9 1441.9h0M208.3 1435.4h0M213.6 1433.0h0M211.2 1445.1h0M250.2 1455.4h0M232.8 1424.4h0M194.6 1443.8h0M207.4 1443.2h0M238.3 1432.1h0M227.1 1450.3h0M239.9 1452.2h0M234.0 1423.5h0M185.4 1435.8h0M204.2 1450.4h0M220.2 1453.1h0M224.0 1445.4h0M230.5 1426.0h0M218.4 1425.6h0M202.0 1427.1h0M179.0 1420.8h0M247.5 1453.7h0M221.8 1437.1h0M200.8 1417.9h0M181.6 1432.8h0M183.4 1439.4h0M240.4 1428.5h0M232.0 1455.2h0M216.1 1450.5h0M203.2 1432.7h0M200.7 1446.7h0M222.8 1453.4h0M177.4 1424.1h0M240.5 1424.7h0M192.0 1419.5h0M218.9 1432.2h0M234.1 1428.1h0M237.1 1446.0h0M216.7 1447.7h0M198.1 1419.4h0M239.7 1444.8h0M186.4 1421.9h0M252.3 1458.4h0M182.3 1432.0h0M234.2 1443.3h0M223.2 1421.3h0M228.6 1426.7h0M228.5 1452.8h0M215.9 1424.7h0M226.2 1435.9h0M187.5 1432.7h0M186.5 1447.1h0M205.0 1451.5h0M214.1 1419.7h0M216.0 1435.5h0M212.0 1440.2h0M315.3 1454.2h0M185.4 1423.4h0M219.2 1438.3h0M181.1 1438.9h0M192.8 1423.9h0M176.5 1439.3h0M212.8 1431.9h0M176.1 1434.7h0M183.8 1431.4h0M215.0 1450.9h0M194.2 1444.1h0M218.6 1442.1h0M210.3 1445.3h0M242.5 1450.1h0M176.5 1422.5h0M224.6 1427.5h0M183.5 1420.2h0M206.1 1437.1h0M205.3 1433.8h0M236.1 1453.9h0M175.7 1428.4h0M196.1 1430.0h0M329.8 1469.8h0M226.8 1437.3h0M187.2 1427.2h0M203.2 1449.5h0M217.8 1417.7h0M211.5 1442.4h0M230.5 1454.1h0M232.6 1448.7h0M206.8 1444.1h0M227.3 1436.3h0M175.1 1432.2h0M218.9 1438.6h0M204.2 1437.3h0M211.7 1433.0h0M178.9 1433.2h0M239.6 1425.0h0M226.5 1429.4h0M233.4 1439.2h0M200.0 1420.7h0M219.9 1428.2h0M239.2 1451.3h0M241.6 1447.3h0M237.0 1422.8h0M204.3 1415.0h0M205.7 1427.3h0M201.5 1425.3h0M233.0 1444.5h0M221.2 1443.7h0M205.3 1429.6h0M211.7 1449.4h0M314.4 1471.1h0M249.4 1450.9h0M219.8 1418.3h0M187.3 1438.9h0M205.0 1447.5h0M201.0 1430.1h0M242.5 1454.5h0M192.0 1430.4h0M216.7 1430.7h0M235.6 1429.2h0M168.6 1433.4h0M203.2 1430.7h0M192.2 1425.0h0M214.3 1451.3h0M175.0 1427.0h0M195.9 1444.2h0M234.6 1427.1h0M208.0 1449.2h0M187.1 1415.4h0M198.7 1443.6h0M222.3 1445.0h0M194.8 1421.8h0M170.0 1428.3h0M223.8 1430.2h0M229.4 1436.4h0M221.9 1438.9h0M168.6 1432.3h0M235.2 1447.2h0M168.5 1431.0h0M249.5 1449.7h0M231.6 1425.2h0M213.3 1434.2h0M206.6 1444.2h0M209.3 1446.4h0M195.2 1411.5h0M211.1 1440.1h0M223.0 1449.3h0M196.0 1417.7h0M193.4 1436.8h0M223.5 1450.1h0M210.2 1422.4h0M197.7 1448.0h0M179.3 1421.7h0M220.7 1445.1h0M189.7 1447.2h0M192.4 1424.1h0M170.6 1423.6h0M200.3 1440.3h0M190.2 1429.4h0M233.5 1457.5h0M236.3 1429.8h0M238.5 1431.2h0M250.7 1450.7h0M179.7 1417.4h0M181.6 1425.2h0M205.9 1423.3h0M192.3 1446.5h0M212.2 1441.3h0M176.4 1425.5h0M225.2 1451.2h0M158.5 1432.3h0M196.0 1441.5h0M201.0 1450.7h0M236.2 1444.5h0M180.7 1442.3h0M232.5 1454.6h0M243.3 1440.3h0M199.4 1422.6h0M251.3 1449.5h0M166.1 1423.6h0M239.0 1439.4h0M213.2 1449.9h0M221.9 1422.8h0M229.6 1439.9h0M221.6 1429.4h0M190.8 1419.1h0M175.7 1431.9h0M171.2 1422.1h0M323.0 1452.8h0M181.8 1423.8h0M224.5 1449.9h0M197.7 1422.4h0M208.2 1423.9h0M206.7 1435.4h0M195.1 1433.0h0M221.4 1430.3h0M210.5 1419.9h0M205.5 1432.4h0M210.0 1415.2h0M246.3 1450.5h0M237.1 1423.8h0M232.9 1444.5h0M221.5 1454.6h0M170.6 1424.3h0M231.6 1452.4h0M194.5 1417.3h0M231.3 1427.5h0M191.8 1442.4h0M215.9 1443.1h0M216.1 1445.2h0M214.9 1430.9h0M208.8 1424.6h0M232.2 1451.6h0M188.5 1441.5h0M241.9 1433.5h0M167.2 1432.7h0M192.6 1443.9h0M252.6 1454.9h0M238.0 1454.8h0M207.8 1450.9h0M216.2 1437.9h0M207.5 1429.1h0M170.8 1431.9h0M240.0 1443.4h0M212.4 1429.0h0M179.7 1436.6h0M248.1 1454.4h0M208.6 1416.2h0M171.5 1429.0h0M199.9 1445.1h0M223.8 1428.9h0M220.6 1449.9h0M230.0 1434.9h0M239.4 1435.5h0M174.0 1432.7h0M223.1 1435.0h0M180.5 1430.7h0M207.5 1418.5h0M239.0 1444.9h0M213.3 1431.2h0M178.0 1423.0h0M213.9 1420.1h0M188.3 1429.7h0M172.6 1423.6h0M239.6 1435.1h0M192.5 1428.8h0M236.1 1443.5h0M190.3 1415.6h0M195.3 1420.2h0M171.3 1424.2h0M207.4 1416.5h0M187.9 1426.2h0M178.2 1430.6h0M213.4 1439.5h0M202.8 1436.8h0M225.6 1424.7h0M235.2 1434.3h0M230.4 1430.7h0M212.6 1446.8h0M227.6 1432.7h0M213.8 1431.1h0M166.6 1426.8h0M180.0 1422.0h0M187.6 1427.7h0M214.9 1450.9h0M227.3 1425.5h0M175.5 1419.4h0M177.9 1425.9h0M214.7 1443.1h0M167.1 1429.5h0M176.8 1433.2h0M188.1 1422.0h0M201.2 1415.1h0M213.8 1440.3h0M211.1 1415.3h0M174.0 1436.2h0M187.2 1436.7h0M229.2 1425.4h0M212.5 1447.4h0M166.7 1436.6h0M192.7 1431.7h0M174.5 1431.2h0M191.6 1437.0h0M191.9 1438.5h0M197.7 1417.0h0M194.4 1441.2h0M223.0 1453.8h0M185.9 1428.6h0M217.2 1418.9h0M209.3 1420.7h0M205.3 1450.2h0M199.9 1438.6h0M224.1 1449.9h0M209.5 1420.5h0M176.8 1436.7h0M195.0 1420.6h0M228.9 1438.8h0M213.3 1442.3h0M165.4 1435.3h0M234.8 1454.3h0M210.9 1427.8h0M168.7 1435.3h0M201.9 1415.6h0M219.6 1451.5h0M207.9 1421.0h0M244.1 1447.7h0M173.0 1426.1h0M210.3 1431.2h0M194.3 1435.3h0M198.7 1421.7h0M247.3 1448.8h0M222.8 1452.5h0M201.0 1432.3h0M183.6 1443.5h0M194.9 1445.3h0M235.2 1440.2h0M213.3 1415.8h0M233.5 1441.4h0M219.6 1447.3h0M216.6 1446.3h0M212.9 1416.5h0M227.4 1437.3h0M316.5 1470.8h0M231.1 1446.5h0M206.1 1423.7h0M205.3 1421.7h0M206.8 1420.7h0M168.1 1428.5h0M234.9 1458.0h0M182.3 1420.6h0M228.3 1436.2h0M185.1 1446.7h0M195.1 1431.7h0M235.9 1425.6h0M178.9 1429.3h0M183.0 1439.7h0M231.0 1429.7h0M206.1 1435.3h0M235.9 1426.0h0M213.6 1451.9h0M181.0 1440.4h0M227.8 1456.0h0M229.2 1442.7h0M199.8 1437.7h0M177.0 1434.2h0M168.0 1435.6h0M199.8 1421.0h0M234.2 1440.4h0M224.7 1435.7h0M215.7 1448.6h0M207.4 1423.0h0M176.6 1429.2h0M216.3 1436.8h0M193.4 1434.6h0M172.5 1433.0h0M251.3 1448.9h0M226.5 1428.5h0M221.6 1427.0h0M189.3 1430.3h0M173.6 1429.4h0M196.4 1448.4h0M202.2 1446.4h0M203.9 1414.2h0M178.1 1427.7h0M211.9 1418.7h0M211.5 1421.6h0M241.1 1452.3h0M166.9 1430.3h0M229.6 1439.3h0M204.1 1420.2h0M204.0 1437.8h0M227.8 1432.4h0" stroke="#ea6699" stroke-width="2.90" stroke-linecap="round" fill="none"/>
<path d="M451.0 1517.4h0M434.2 1531.3h0M438.0 1540.1h0M575.3 1563.2h0M441.1 1529.9h0M450.9 1516.1h0M440.1 1515.0h0M463.0 1516.1h0M426.1 1514.5h0M571.8 1556.8h0M433.6 1512.9h0M450.0 1507.9h0M473.7 1517.4h0M467.9 1527.3h0M446.4 1522.6h0M457.0 1495.7h0M437.8 1541.0h0M449.5 1522.2h0M435.0 1521.3h0M461.7 1520.4h0M460.7 1541.3h0M450.5 1517.8h0M465.0 1547.6h0M447.9 1538.4h0M457.7 1516.4h0M452.8 1504.2h0M453.7 1492.5h0M467.6 1534.8h0M454.8 1542.4h0M468.1 1515.8h0M449.9 1521.9h0M430.3 1525.6h0M429.6 1537.8h0M452.9 1510.2h0M428.8 1520.6h0M477.9 1531.0h0M443.6 1516.0h0M463.2 1529.3h0M450.2 1518.3h0M457.9 1545.2h0M453.9 1513.6h0M443.9 1508.1h0M449.2 1524.4h0M454.5 1537.5h0M448.8 1502.2h0M468.6 1540.3h0M454.7 1530.7h0M466.3 1547.1h0M451.6 1503.0h0M437.8 1528.8h0M448.9 1519.9h0M445.3 1510.6h0M474.1 1521.5h0M578.8 1558.4h0M476.2 1527.2h0M433.6 1509.0h0M451.8 1517.2h0M463.4 1535.8h0M473.9 1535.8h0M427.0 1509.7h0M461.8 1494.4h0M453.7 1506.0h0M471.5 1524.5h0M448.6 1519.8h0M428.8 1540.8h0M441.9 1542.6h0M432.5 1543.8h0M444.8 1539.3h0M443.0 1517.7h0M576.3 1558.9h0M451.4 1532.4h0M450.8 1503.7h0M463.4 1545.6h0M455.5 1542.6h0M479.2 1526.0h0M456.1 1497.7h0M460.4 1526.1h0M457.0 1505.3h0M440.4 1512.1h0M466.4 1521.7h0M469.5 1519.3h0M438.4 1521.3h0M477.0 1535.9h0M439.9 1543.7h0M459.2 1518.5h0M445.3 1532.0h0M434.7 1522.4h0M450.8 1526.6h0M472.4 1543.0h0M453.8 1516.7h0M471.3 1529.7h0M431.9 1520.9h0M471.2 1519.8h0M440.2 1537.7h0M435.6 1522.1h0M574.7 1561.4h0M468.6 1514.4h0M466.2 1547.3h0M433.4 1516.0h0M460.1 1537.0h0M474.1 1539.4h0M464.4 1516.5h0M471.3 1535.9h0M459.6 1505.5h0M451.1 1505.3h0M452.0 1485.7h0M572.3 1559.3h0M432.5 1537.4h0M462.4 1546.8h0M439.1 1507.8h0M448.2 1538.0h0M450.4 1541.3h0M575.5 1560.0h0M443.4 1518.6h0M438.3 1533.0h0M463.5 1532.2h0M457.6 1509.7h0M455.2 1512.7h0M451.3 1534.8h0M424.5 1509.4h0M424.7 1510.2h0M461.2 1523.6h0M447.1 1534.6h0M440.5 1533.5h0M464.4 1545.8h0M442.6 1507.3h0M439.1 1544.6h0M466.3 1548.0h0M442.4 1546.5h0M464.8 1539.7h0M440.4 1514.4h0M466.7 1539.4h0M427.6 1510.2h0M462.2 1522.6h0M430.6 1539.1h0M428.4 1515.6h0M452.8 1503.3h0M440.6 1514.0h0M459.5 1493.2h0M470.7 1533.4h0M437.3 1538.6h0M462.0 1507.6h0M460.8 1539.8h0M453.2 1493.6h0M455.7 1526.9h0M439.5 1525.3h0M471.4 1535.2h0M448.5 1517.7h0M432.0 1536.3h0M444.7 1531.7h0M437.0 1531.9h0M429.2 1514.7h0M455.8 1516.6h0M454.6 1491.7h0M447.4 1539.0h0M459.9 1524.2h0M460.1 1528.1h0M455.2 1517.4h0M453.9 1500.0h0M457.7 1532.1h0M444.0 1541.1h0M453.8 1489.3h0M440.8 1516.6h0M442.9 1531.2h0M432.4 1530.8h0M449.5 1530.4h0M463.2 1510.6h0M436.7 1524.9h0M469.1 1529.1h0M441.1 1509.3h0M458.7 1523.7h0M456.8 1545.1h0M450.4 1533.2h0M465.0 1525.9h0M430.8 1536.6h0M458.1 1499.2h0M424.2 1508.7h0M453.0 1520.7h0M440.0 1519.1h0M459.3 1545.7h0M456.3 1498.4h0M428.5 1525.3h0M460.6 1522.9h0M477.1 1534.4h0M466.8 1541.3h0M438.5 1514.4h0M462.3 1539.7h0M434.0 1530.0h0M450.4 1493.4h0M459.4 1525.3h0M458.3 1509.9h0M452.2 1520.8h0M475.9 1537.7h0M455.9 1495.5h0M457.7 1542.4h0M453.0 1520.0h0M475.2 1533.7h0M456.4 1522.6h0M472.8 1520.7h0M457.4 1534.8h0M473.6 1520.0h0M451.4 1537.5h0M571.8 1558.6h0M458.5 1516.0h0M433.6 1517.6h0M442.3 1535.9h0M459.2 1510.2h0M443.4 1545.8h0M440.0 1538.2h0M469.9 1513.5h0M446.5 1508.9h0M468.8 1542.0h0M454.1 1517.0h0M440.9 1533.4h0M433.9 1539.7h0M426.1 1510.3h0M470.1 1522.2h0M468.3 1535.4h0M459.0 1544.3h0M431.4 1523.5h0M454.8 1504.8h0M574.4 1559.2h0M474.9 1539.1h0M446.2 1525.8h0M457.7 1536.2h0M463.6 1495.8h0M463.5 1532.9h0M466.9 1534.8h0M476.6 1529.9h0M472.5 1519.9h0M440.5 1526.2h0M473.2 1542.0h0M438.1 1519.0h0M430.0 1542.2h0M470.7 1539.6h0M458.2 1493.0h0M456.7 1496.6h0M463.2 1539.4h0M439.8 1506.9h0M469.9 1540.1h0M455.0 1524.6h0M575.4 1562.1h0M444.3 1512.1h0M456.2 1521.5h0M455.0 1501.7h0M468.6 1519.5h0M446.6 1515.9h0M464.3 1542.2h0M441.5 1541.6h0M429.7 1539.8h0M472.0 1517.1h0M468.3 1524.7h0M453.6 1519.9h0M430.6 1512.9h0M452.7 1525.4h0M447.8 1547.3h0M434.3 1523.7h0M427.9 1507.6h0M454.9 1537.4h0M576.2 1560.0h0M461.0 1497.2h0M471.0 1522.3h0M471.0 1546.9h0M466.9 1543.7h0M449.5 1527.4h0M471.7 1517.9h0M433.7 1535.2h0M454.6 1515.5h0M470.8 1535.7h0M471.2 1534.1h0M452.9 1502.8h0M461.7 1506.8h0M446.0 1514.8h0M469.5 1537.6h0M451.1 1501.5h0M463.9 1544.6h0M451.3 1537.1h0M453.4 1545.0h0M466.1 1512.0h0M429.9 1519.3h0M475.4 1540.3h0M451.5 1515.1h0M454.8 1504.3h0M431.2 1528.8h0M451.7 1535.9h0M442.7 1533.7h0M449.9 1517.1h0M458.5 1488.7h0M431.9 1529.2h0M436.1 1511.7h0M455.9 1486.8h0M426.5 1512.3h0M428.9 1509.2h0M454.0 1526.3h0M462.9 1545.3h0M458.1 1492.6h0M431.0 1510.2h0M454.7 1494.7h0M453.0 1518.8h0M471.4 1517.2h0M428.7 1534.9h0M457.8 1542.1h0M437.6 1538.1h0M473.5 1529.3h0M460.3 1537.8h0M438.1 1532.9h0M462.8 1508.9h0M428.0 1509.4h0M458.6 1520.9h0M468.5 1521.5h0M469.3 1530.8h0M466.0 1542.9h0M452.3 1543.1h0M467.9 1511.1h0M470.4 1535.8h0M474.8 1526.1h0M461.7 1524.1h0M438.9 1524.3h0M455.7 1485.1h0M442.0 1545.1h0M577.2 1555.3h0M462.5 1519.4h0M472.7 1543.3h0M451.3 1516.3h0M454.0 1537.9h0M458.9 1515.7h0M460.6 1522.0h0M447.3 1546.6h0M439.8 1514.7h0M458.3 1496.6h0M452.1 1495.7h0M443.2 1522.7h0M442.8 1529.2h0M455.1 1545.5h0M436.3 1517.5h0M435.2 1521.6h0M455.2 1492.0h0M444.5 1541.6h0M445.3 1547.2h0M443.9 1517.2h0M460.7 1513.4h0M460.3 1509.1h0M454.6 1529.3h0M456.4 1489.2h0M462.9 1522.7h0M452.3 1525.0h0M469.9 1517.0h0M473.5 1529.9h0M442.8 1515.7h0M440.8 1540.4h0M469.1 1534.7h0M448.0 1525.9h0M433.7 1543.0h0M445.6 1542.6h0M436.6 1528.0h0M457.4 1495.0h0M451.0 1507.9h0M448.5 1548.5h0M474.8 1537.6h0M428.6 1509.0h0M468.4 1528.3h0M459.5 1547.7h0M427.0 1511.3h0M433.1 1537.1h0M463.5 1547.6h0M477.9 1534.8h0M437.0 1514.6h0M447.2 1516.0h0M466.7 1516.3h0M460.4 1530.8h0M445.1 1520.6h0M468.1 1541.3h0M430.0 1538.6h0M473.8 1533.4h0M455.6 1539.1h0M463.5 1526.2h0M460.4 1516.3h0M449.6 1489.1h0M463.6 1533.1h0M461.4 1536.7h0M436.8 1523.9h0M429.6 1513.7h0M450.8 1528.7h0M430.7 1534.5h0M472.3 1531.9h0M461.4 1543.1h0M451.5 1523.3h0M422.9 1509.6h0M433.7 1518.1h0M456.7 1497.4h0M430.5 1539.7h0M455.1 1487.8h0M472.6 1521.5h0M435.4 1513.7h0M466.7 1512.1h0M463.6 1507.4h0M462.2 1506.2h0M440.8 1543.9h0M471.6 1545.6h0M457.9 1544.8h0M446.8 1509.6h0M453.5 1543.9h0M456.0 1495.9h0M432.3 1542.3h0M440.3 1537.3h0M461.9 1536.4h0M466.4 1542.0h0M452.6 1514.4h0M435.8 1521.3h0M460.9 1539.0h0M474.8 1534.5h0M463.4 1513.7h0M449.2 1532.0h0M469.3 1522.2h0M443.8 1515.3h0M448.5 1514.9h0M455.0 1508.6h0M431.0 1521.1h0M472.2 1528.6h0M438.2 1515.7h0M463.2 1512.9h0M457.9 1519.0h0" stroke="#0fa380" stroke-width="2.90" stroke-linecap="round" fill="none"/>
<path d="M458.9 1632.5h0M459.5 1634.4h0M473.9 1660.5h0M463.3 1630.5h0M469.4 1630.7h0M465.5 1646.6h0M488.4 1646.5h0M474.1 1657.3h0M472.5 1636.3h0M452.0 1653.9h0M477.9 1662.9h0M468.0 1646.5h0M463.5 1636.0h0M459.8 1664.1h0M466.3 1644.6h0M455.4 1660.7h0M476.2 1671.9h0M460.2 1635.7h0M465.1 1650.4h0M476.7 1655.3h0M475.0 1661.3h0M460.6 1646.5h0M448.1 1643.7h0M481.7 1631.7h0M472.3 1641.1h0M470.0 1631.7h0M467.0 1650.4h0M480.4 1660.4h0M457.1 1638.9h0M488.9 1647.5h0M471.5 1665.6h0M473.4 1656.0h0M454.8 1638.4h0M469.9 1646.4h0M477.9 1635.1h0M476.5 1673.0h0M449.6 1644.8h0M452.2 1653.0h0M467.9 1653.7h0M469.3 1635.5h0M452.9 1655.5h0M457.6 1645.3h0M481.4 1644.2h0M461.6 1643.8h0M461.8 1631.5h0M491.4 1647.3h0M476.7 1656.2h0M463.3 1630.5h0M462.3 1664.8h0M468.0 1649.5h0M449.9 1639.0h0M452.8 1646.1h0M474.8 1652.3h0M461.4 1666.9h0M466.7 1647.8h0M469.8 1644.1h0M481.7 1633.8h0M457.4 1637.0h0M467.1 1644.6h0M474.4 1670.7h0M457.2 1663.6h0M462.5 1662.9h0M461.0 1627.5h0M477.5 1660.6h0M469.9 1634.3h0M477.8 1668.8h0M466.7 1631.1h0M471.9 1661.5h0M489.9 1650.5h0M471.3 1643.6h0M469.7 1660.1h0M458.7 1661.1h0M469.5 1666.2h0M470.3 1661.3h0M460.3 1655.8h0M473.0 1649.2h0M489.5 1642.2h0M460.3 1655.7h0M467.3 1628.7h0M451.1 1652.0h0M460.9 1633.3h0M465.7 1635.4h0M458.4 1658.7h0M452.3 1646.8h0M469.7 1646.0h0M471.4 1666.9h0M465.9 1642.1h0M464.2 1658.4h0M468.1 1629.2h0M477.3 1668.9h0M465.0 1628.2h0M463.2 1653.7h0M462.8 1634.4h0M473.0 1653.1h0M461.4 1655.7h0M463.9 1631.9h0M464.6 1663.0h0M481.2 1662.9h0M475.4 1656.8h0M472.5 1663.7h0M461.2 1640.9h0M470.9 1652.7h0M462.8 1648.4h0M470.0 1633.3h0M453.7 1645.8h0M475.6 1662.6h0M458.6 1658.7h0M448.7 1649.0h0M463.8 1652.4h0M461.1 1662.7h0M463.4 1635.0h0M464.0 1651.4h0M456.7 1643.0h0M460.6 1644.9h0M457.2 1654.3h0M466.1 1656.2h0M466.0 1636.9h0M456.3 1656.6h0M475.1 1666.4h0M471.6 1634.6h0M475.4 1665.7h0M451.4 1646.1h0M468.4 1658.1h0M471.8 1646.7h0M449.6 1643.6h0M475.6 1669.7h0M463.8 1631.1h0M484.7 1632.4h0M458.7 1643.8h0M461.4 1655.6h0M462.3 1659.4h0M472.5 1632.6h0M478.9 1632.7h0M493.3 1634.2h0M459.7 1636.7h0M466.1 1664.9h0M472.7 1653.5h0M466.2 1664.1h0M466.5 1643.4h0M466.2 1654.1h0M459.5 1661.5h0M461.7 1634.9h0M457.3 1659.6h0M464.1 1643.7h0M462.2 1652.9h0M469.3 1638.5h0M500.7 1637.0h0M475.7 1659.4h0M463.1 1655.2h0M463.4 1665.1h0M489.3 1632.9h0M448.3 1644.7h0M475.5 1643.9h0M455.5 1653.0h0M449.0 1651.4h0M454.4 1637.1h0M475.4 1662.4h0M451.1 1650.9h0M466.0 1638.0h0M474.7 1670.4h0M459.4 1649.8h0M471.9 1654.1h0M467.1 1643.6h0M463.2 1663.7h0M476.6 1650.2h0M462.0 1648.9h0M468.4 1656.1h0" stroke="#a970a4" stroke-width="2.90" stroke-linecap="round" fill="none"/>
<path d="M168.7 1402.5h0M114.5 1403.0h0M145.0 1429.0h0M168.2 1402.2h0M153.7 1402.1h0M200.7 1408.7h0M167.8 1401.7h0M136.5 1407.0h0M145.7 1422.9h0M180.2 1410.3h0M158.0 1399.7h0M114.9 1404.3h0M165.4 1420.9h0M132.0 1401.6h0M164.1 1407.9h0M166.7 1424.1h0M127.2 1396.8h0M159.6 1405.7h0M169.0 1400.8h0M162.2 1425.2h0M119.8 1395.6h0M148.2 1404.8h0M177.5 1402.8h0M160.8 1428.8h0M111.6 1399.9h0M138.8 1399.5h0M157.4 1417.0h0M99.8 1394.7h0M135.6 1397.0h0M175.5 1419.8h0M181.7 1405.4h0M183.5 1416.4h0M165.9 1417.2h0M144.2 1417.2h0M117.1 1397.8h0M147.4 1430.1h0M184.9 1415.6h0M183.6 1412.0h0M193.5 1407.2h0M136.9 1412.6h0M192.5 1411.5h0M103.3 1396.6h0M170.5 1407.1h0M95.4 1395.7h0M149.1 1398.6h0M146.9 1414.5h0M141.6 1419.7h0M126.4 1406.2h0M154.8 1426.2h0M151.8 1405.3h0M121.4 1400.9h0M196.8 1404.5h0M148.4 1418.9h0M188.9 1401.9h0M136.9 1404.1h0M182.9 1411.2h0M141.4 1412.1h0M108.9 1399.9h0M155.1 1408.4h0M114.8 1396.6h0M173.7 1408.6h0M120.7 1403.6h0M180.2 1402.1h0M160.6 1425.9h0M181.8 1409.1h0M186.4 1409.0h0M149.1 1426.2h0M164.4 1416.6h0M184.8 1406.9h0M145.8 1419.7h0M201.3 1406.4h0M166.8 1406.3h0M132.3 1415.3h0M192.5 1413.2h0M197.7 1401.2h0M181.5 1403.8h0M180.8 1407.0h0M125.8 1395.0h0M175.8 1409.7h0M162.8 1402.4h0M122.9 1402.0h0M170.6 1415.9h0M154.1 1405.4h0M155.9 1399.4h0M115.6 1401.5h0M175.5 1402.2h0M144.9 1414.3h0M141.1 1409.7h0M174.4 1420.4h0M137.7 1412.7h0M140.6 1422.2h0M146.0 1402.1h0M167.3 1416.2h0M139.3 1412.9h0M149.2 1426.4h0M150.4 1399.4h0M177.0 1402.4h0M150.5 1433.3h0M156.7 1431.7h0M168.4 1403.2h0M161.3 1408.9h0M182.0 1412.3h0M178.3 1409.9h0M184.9 1418.6h0M142.9 1424.2h0M149.4 1402.7h0M156.7 1412.8h0M150.8 1416.3h0M117.7 1404.7h0M189.0 1409.5h0M150.0 1424.7h0M157.5 1414.1h0M133.3 1404.5h0M96.4 1398.2h0M128.1 1403.4h0M124.7 1395.3h0M183.0 1404.5h0M147.5 1402.9h0M125.8 1406.4h0M172.2 1404.3h0M147.2 1418.3h0M125.3 1401.3h0M186.0 1401.5h0M191.2 1411.7h0M179.2 1410.0h0M120.9 1394.6h0M173.6 1410.7h0M201.6 1399.3h0M125.3 1399.1h0M92.8 1396.8h0M144.8 1417.2h0M143.7 1406.6h0M161.7 1422.9h0M166.0 1405.4h0M140.8 1404.7h0M96.3 1399.1h0M178.6 1407.5h0M118.5 1395.4h0M157.4 1410.0h0M177.6 1415.8h0M141.1 1409.7h0M181.5 1416.5h0M146.8 1422.0h0M126.0 1402.7h0M158.3 1412.4h0M159.4 1409.7h0M150.3 1410.4h0M114.6 1399.5h0M120.2 1406.4h0M190.1 1412.7h0M129.5 1399.9h0M148.6 1428.1h0M157.8 1410.9h0M111.5 1405.8h0M165.8 1417.2h0M146.4 1414.2h0M122.2 1407.1h0M109.2 1399.6h0M146.9 1404.0h0M152.8 1407.0h0M140.9 1397.8h0M122.4 1403.5h0M178.9 1408.2h0M123.5 1396.8h0M149.4 1417.9h0M150.4 1407.6h0M168.8 1402.5h0M117.4 1402.9h0M160.6 1403.5h0M152.7 1425.4h0M85.5 1394.6h0M111.3 1402.1h0M156.4 1408.4h0M161.0 1429.5h0M162.4 1404.2h0M134.4 1393.9h0M158.7 1410.8h0M174.9 1410.9h0M125.3 1409.0h0M116.4 1397.5h0M137.1 1412.5h0M182.7 1412.2h0M134.8 1404.0h0M184.2 1401.5h0M151.9 1417.1h0M162.9 1426.2h0M184.1 1405.3h0M158.0 1413.3h0M116.1 1401.7h0M133.4 1398.3h0M160.3 1403.9h0M188.9 1405.7h0M164.4 1417.9h0M127.7 1409.0h0M193.7 1409.4h0M142.2 1401.5h0M165.3 1405.4h0M194.9 1400.8h0M132.6 1394.3h0M176.6 1410.2h0M152.5 1419.0h0M132.8 1408.7h0M170.1 1412.3h0M143.9 1409.7h0M163.3 1421.4h0M156.5 1410.0h0M181.2 1412.1h0M129.9 1406.0h0M92.9 1397.4h0M204.1 1410.4h0M183.7 1412.0h0M90.8 1393.1h0M199.3 1404.1h0M154.8 1408.7h0M113.0 1403.1h0M146.6 1419.9h0M115.9 1405.1h0M161.5 1410.5h0M147.0 1410.8h0M134.2 1417.4h0M150.3 1429.0h0M150.3 1429.1h0M156.0 1411.2h0M151.4 1418.4h0M172.9 1405.6h0M172.5 1400.5h0M153.1 1425.9h0M129.4 1403.2h0M174.8 1408.5h0M175.4 1410.2h0M185.9 1400.0h0M152.0 1416.4h0M148.9 1409.2h0M142.8 1415.1h0M143.3 1407.9h0M162.9 1418.2h0M133.4 1418.0h0M185.1 1410.7h0M155.8 1420.5h0M155.3 1399.6h0M172.5 1403.5h0M200.2 1410.1h0M199.7 1411.0h0M128.1 1404.1h0M170.5 1411.9h0M157.4 1406.5h0M96.2 1394.0h0M148.2 1423.1h0M164.5 1404.0h0M156.5 1415.5h0M134.6 1401.4h0M162.6 1409.5h0M129.5 1397.5h0M175.4 1410.0h0M168.9 1404.2h0M118.4 1400.5h0M188.6 1402.0h0M183.0 1401.0h0M103.1 1397.8h0M167.0 1413.7h0M165.7 1420.4h0M188.7 1406.7h0M158.6 1412.1h0M142.0 1412.5h0M146.6 1398.6h0M184.6 1406.1h0M186.4 1407.9h0M135.7 1403.7h0M195.7 1399.7h0M162.8 1416.5h0M200.9 1408.8h0M136.1 1412.3h0M103.9 1400.3h0M148.9 1421.9h0M181.2 1405.5h0M191.1 1405.3h0M171.8 1412.2h0M156.0 1424.4h0M194.1 1412.2h0M151.6 1426.8h0M141.9 1422.9h0M109.1 1401.4h0M146.9 1417.5h0M198.9 1407.9h0M96.1 1395.0h0M196.3 1401.4h0M169.6 1400.9h0M147.5 1423.9h0M92.9 1397.2h0M151.0 1411.9h0M138.0 1419.6h0M159.9 1425.9h0M123.4 1400.5h0M145.3 1404.3h0M178.0 1406.1h0M146.6 1417.5h0M182.8 1406.5h0M169.9 1409.4h0M163.8 1398.5h0M98.8 1395.8h0M166.8 1423.8h0M191.4 1407.9h0M112.8 1399.6h0M166.8 1409.8h0M104.1 1397.7h0M127.2 1410.2h0M154.9 1411.7h0M144.4 1418.4h0M197.9 1401.6h0M179.7 1409.3h0M148.6 1420.4h0M163.7 1405.8h0M112.2 1396.8h0M161.5 1418.4h0M142.4 1414.5h0M140.9 1401.9h0M153.9 1428.0h0M110.3 1395.0h0M153.8 1424.6h0M98.5 1395.2h0M176.8 1401.3h0M156.7 1410.5h0M112.3 1397.5h0M131.1 1398.4h0M106.1 1398.1h0M184.4 1404.2h0M157.2 1407.3h0M137.8 1419.3h0M172.1 1402.6h0M113.9 1399.4h0M156.1 1413.9h0M145.8 1403.1h0M128.6 1406.1h0M135.9 1401.7h0M195.0 1409.2h0M154.0 1411.0h0M190.6 1409.7h0M183.2 1403.6h0M118.0 1403.5h0M179.1 1410.8h0M181.0 1413.7h0M177.9 1403.7h0M152.1 1430.1h0M158.5 1430.3h0M164.8 1399.5h0M164.9 1414.2h0M122.2 1406.1h0M158.3 1421.6h0M127.6 1405.6h0M143.3 1409.8h0M169.9 1411.8h0M162.0 1412.8h0M131.2 1400.2h0M119.1 1395.9h0M157.5 1426.5h0M185.4 1411.4h0M165.3 1400.5h0M180.9 1417.3h0M114.0 1396.7h0M172.1 1404.5h0M157.6 1404.9h0M172.0 1400.6h0M196.7 1403.7h0M157.0 1428.1h0M107.0 1397.7h0M202.5 1406.6h0M167.7 1408.6h0M95.4 1395.7h0M173.7 1415.1h0M145.8 1408.6h0M152.2 1430.3h0M192.4 1400.5h0M118.3 1402.7h0M165.1 1412.2h0M176.2 1408.8h0M148.5 1420.7h0M150.5 1412.1h0M178.6 1411.2h0M90.3 1395.1h0M186.2 1401.7h0M149.6 1418.0h0M170.4 1408.2h0M157.2 1423.0h0M123.3 1404.7h0M198.7 1399.9h0M134.1 1416.7h0M198.7 1412.3h0M197.7 1405.1h0M119.3 1403.7h0M156.1 1412.8h0M192.4 1401.5h0M105.0 1394.1h0M142.8 1403.1h0M124.5 1401.7h0M125.7 1407.9h0M158.7 1401.2h0M133.0 1408.3h0M163.6 1403.7h0M153.1 1406.2h0M137.6 1414.9h0M151.7 1412.9h0M152.2 1424.1h0M162.5 1422.0h0M126.1 1395.0h0M162.2 1417.0h0M146.1 1418.4h0M201.1 1406.5h0M186.9 1417.0h0M148.0 1407.3h0M123.5 1401.8h0M204.1 1410.7h0M173.6 1402.4h0M168.9 1414.6h0M179.4 1409.1h0M102.5 1398.1h0M173.6 1407.8h0M125.1 1408.4h0M175.1 1421.2h0M196.8 1408.0h0M147.3 1409.0h0M166.6 1407.8h0M120.0 1405.4h0M190.2 1416.5h0M139.2 1418.9h0M201.3 1408.9h0M174.4 1405.5h0M131.2 1398.8h0M160.8 1412.8h0M152.1 1407.2h0M149.4 1424.3h0M91.1 1393.3h0M179.9 1407.2h0M127.2 1400.3h0M165.3 1402.6h0M191.1 1400.8h0M186.1 1407.0h0M117.4 1408.3h0M151.5 1410.2h0M139.9 1403.6h0M127.5 1403.9h0M155.5 1415.2h0M145.8 1423.3h0M149.9 1416.1h0M88.3 1394.8h0M155.0 1397.2h0M112.2 1402.1h0M176.0 1404.6h0M104.9 1400.4h0M87.9 1395.7h0M166.5 1405.7h0M117.3 1399.9h0M189.5 1405.3h0M153.9 1417.3h0M98.6 1393.7h0M160.5 1423.4h0M174.4 1403.1h0M181.2 1411.8h0M200.8 1408.4h0M126.6 1400.3h0M192.7 1411.0h0M163.2 1411.3h0M163.9 1423.0h0M196.1 1403.6h0M160.2 1401.7h0M185.9 1409.9h0M183.5 1401.3h0M183.0 1404.5h0M163.1 1427.8h0M176.8 1404.3h0M119.8 1407.2h0M142.3 1416.9h0M148.3 1410.1h0M116.2 1395.9h0M148.4 1416.2h0M188.2 1409.1h0M159.5 1429.6h0M149.7 1416.7h0M188.3 1413.7h0M165.1 1415.3h0M185.3 1415.1h0M152.8 1430.4h0M155.7 1421.2h0" stroke="#12a8e0" stroke-width="2.90" stroke-linecap="round" fill="none"/>
<path d="M515.1 1608.5h0M510.5 1582.3h0M505.0 1573.7h0M521.3 1614.6h0M520.6 1603.8h0M506.9 1573.5h0M519.1 1601.2h0M516.5 1598.0h0M519.4 1608.4h0M518.9 1604.2h0M506.9 1598.2h0M510.8 1603.7h0M524.3 1608.7h0M515.2 1592.1h0M507.3 1600.9h0M523.5 1612.2h0M513.6 1597.0h0M521.2 1602.0h0M523.7 1616.3h0M522.4 1611.0h0M507.8 1595.8h0M505.5 1603.1h0M503.9 1597.9h0M511.2 1591.9h0M503.2 1585.7h0M503.6 1578.8h0M499.1 1572.1h0M512.3 1593.8h0M513.7 1596.8h0M510.6 1579.2h0M520.6 1609.2h0M515.6 1599.5h0M519.4 1600.0h0M504.6 1574.6h0M515.6 1596.1h0M521.3 1612.1h0M522.3 1607.0h0M506.9 1577.5h0M505.8 1588.1h0M519.4 1591.0h0M513.2 1589.7h0M521.9 1605.8h0M511.2 1597.9h0M519.4 1615.1h0M522.8 1615.4h0M506.9 1593.7h0M501.7 1595.2h0M511.3 1594.3h0M519.5 1605.9h0M518.8 1615.7h0M509.1 1597.4h0M512.0 1591.1h0M503.2 1582.2h0M516.1 1604.0h0M506.6 1596.8h0M506.1 1600.1h0M508.5 1587.7h0M517.2 1612.4h0M513.6 1596.3h0M509.7 1589.4h0M505.3 1574.2h0M520.2 1606.7h0M510.6 1599.5h0M513.5 1592.9h0M513.6 1591.9h0M518.4 1598.0h0M515.4 1593.6h0M512.5 1605.6h0M505.0 1573.7h0M523.0 1615.8h0M510.9 1597.0h0M514.4 1585.7h0M508.2 1595.6h0M512.9 1604.7h0M515.0 1591.3h0M512.5 1596.5h0M509.4 1593.9h0M504.3 1592.8h0M511.5 1599.8h0M512.2 1584.9h0M510.2 1598.1h0M513.5 1581.5h0M509.8 1595.3h0M513.3 1584.7h0M514.2 1586.8h0M502.1 1594.2h0M515.7 1591.7h0M503.6 1582.6h0M499.4 1574.8h0M513.8 1609.4h0M505.6 1589.4h0M515.7 1608.0h0M506.7 1597.9h0M509.9 1588.4h0M505.9 1592.5h0M521.4 1616.4h0M519.4 1595.7h0M510.8 1596.6h0M498.0 1589.6h0M517.1 1606.5h0M504.7 1578.9h0M515.0 1600.4h0M513.9 1595.0h0M506.4 1579.1h0M518.9 1594.9h0M511.6 1577.4h0M506.7 1598.5h0M521.8 1603.0h0M502.3 1574.9h0M511.3 1583.3h0M516.7 1605.6h0M503.7 1573.9h0M519.5 1610.6h0M517.8 1601.9h0M510.9 1603.0h0M513.7 1605.7h0M508.3 1576.0h0M497.4 1578.9h0M518.5 1602.5h0M504.9 1577.8h0M511.2 1604.8h0M503.5 1593.6h0M506.8 1586.8h0M516.9 1589.5h0M513.4 1586.0h0M501.5 1578.5h0M513.9 1588.5h0M504.6 1583.0h0M503.7 1596.2h0M519.0 1598.0h0" stroke="#e08a30" stroke-width="2.90" stroke-linecap="round" fill="none"/>
<path d="M377.5 1549.4h0M322.1 1472.0h0M385.7 1554.1h0M381.9 1555.6h0M377.0 1547.4h0M361.2 1586.5h0M381.1 1556.0h0M377.3 1548.9h0M385.0 1557.8h0M373.2 1545.5h0M369.4 1580.5h0M384.8 1551.6h0M384.3 1547.0h0M369.3 1539.2h0M371.4 1544.0h0M375.8 1547.9h0M371.6 1541.6h0M373.0 1541.8h0M327.9 1451.3h0M382.8 1552.8h0M403.4 1554.5h0M370.1 1540.3h0M373.2 1547.0h0M379.5 1555.3h0M385.3 1557.0h0M382.1 1556.5h0M375.1 1546.5h0M323.3 1457.8h0M309.0 1466.5h0M380.3 1550.4h0M389.0 1555.7h0M386.5 1548.9h0M385.4 1553.8h0M380.2 1547.0h0M360.9 1580.5h0M388.3 1556.4h0M386.5 1558.2h0M375.4 1548.1h0M401.3 1555.1h0M380.7 1543.2h0M382.6 1553.9h0M384.3 1552.4h0M381.1 1552.2h0M373.6 1545.7h0M388.8 1554.2h0M380.3 1547.5h0M373.1 1567.4h0M380.8 1563.7h0M387.8 1555.7h0M387.7 1561.8h0M377.0 1541.1h0M372.1 1547.5h0M373.3 1543.4h0M365.3 1575.0h0M403.2 1553.7h0M373.5 1542.0h0M374.5 1543.4h0M327.1 1472.0h0M381.4 1558.3h0M383.3 1554.2h0M374.9 1550.3h0M386.4 1553.9h0M316.3 1460.1h0M376.2 1548.5h0M385.7 1548.3h0M381.1 1551.6h0M379.8 1547.9h0M381.9 1546.9h0M391.8 1556.9h0M373.4 1539.1h0M388.3 1552.9h0" stroke="#c39a35" stroke-width="2.90" stroke-linecap="round" fill="none"/>
<path d="M225.0 1406.7h0M222.8 1410.6h0M204.9 1399.3h0M221.4 1414.0h0M210.4 1405.5h0M216.7 1407.2h0M232.1 1409.8h0M226.6 1419.8h0M213.4 1401.1h0M216.7 1412.7h0M218.9 1413.9h0M209.2 1410.0h0M248.4 1398.2h0M236.1 1410.5h0M235.3 1403.9h0M241.2 1406.3h0M243.7 1402.4h0M229.0 1411.8h0M235.1 1412.5h0M228.5 1412.3h0M240.2 1404.1h0M247.0 1401.5h0M210.1 1413.2h0M253.2 1401.7h0M247.6 1402.6h0M227.6 1406.8h0M242.3 1397.3h0M216.7 1401.3h0M205.9 1405.8h0M221.1 1401.8h0M249.7 1399.6h0M239.2 1398.7h0M233.7 1407.4h0M203.9 1407.7h0M225.1 1417.3h0M247.9 1411.1h0M234.7 1408.5h0M239.8 1403.2h0M206.6 1408.3h0M247.0 1410.7h0M248.1 1407.5h0M215.2 1414.6h0M227.3 1410.5h0M236.9 1401.9h0M243.2 1409.3h0M235.1 1413.3h0M230.5 1421.2h0M253.9 1404.4h0M222.9 1395.5h0M224.1 1408.4h0M209.2 1408.6h0M243.1 1413.3h0M217.8 1402.2h0M241.6 1396.0h0M237.3 1395.7h0M245.2 1400.3h0M223.5 1405.9h0M221.6 1413.6h0M217.1 1398.0h0M250.6 1400.6h0M208.9 1410.1h0M234.0 1404.9h0M222.9 1420.0h0M222.5 1396.6h0M204.8 1404.1h0M249.5 1406.7h0M238.1 1396.8h0M252.5 1404.3h0M237.7 1392.5h0M238.9 1403.8h0M212.2 1402.6h0M211.9 1406.0h0M243.5 1399.2h0M245.2 1408.6h0M246.4 1403.0h0M233.5 1399.7h0M259.2 1403.3h0M212.6 1410.8h0M235.5 1403.8h0M210.3 1405.0h0M224.4 1410.4h0M256.5 1406.4h0M253.6 1407.9h0M238.3 1411.7h0M249.7 1399.5h0M230.3 1399.8h0M226.7 1407.5h0M204.2 1403.8h0M213.7 1403.3h0M217.4 1412.2h0M256.5 1405.6h0M239.1 1396.7h0M205.9 1402.2h0M238.5 1413.5h0M208.4 1402.2h0M245.7 1400.1h0M221.9 1411.0h0M225.9 1420.6h0M215.5 1410.3h0M239.6 1417.1h0M205.7 1399.3h0M227.5 1412.9h0M228.2 1404.4h0M232.1 1409.9h0M228.3 1403.2h0M249.1 1402.2h0M228.5 1407.3h0M239.6 1399.2h0M222.5 1403.3h0M241.4 1403.6h0M216.0 1399.2h0M237.3 1415.5h0M218.1 1408.8h0M226.2 1410.1h0M233.4 1417.3h0M208.4 1406.7h0M216.7 1404.4h0M223.8 1402.6h0M226.5 1399.1h0M231.1 1405.2h0M231.2 1405.3h0M225.1 1416.3h0M231.2 1414.6h0M211.6 1408.8h0M243.6 1412.8h0M246.3 1405.3h0M220.3 1410.0h0M225.7 1398.0h0M211.4 1403.1h0M250.5 1400.6h0M227.4 1410.4h0M209.8 1408.6h0M226.5 1416.0h0M254.2 1404.9h0M222.5 1416.4h0M221.2 1415.1h0M212.7 1411.9h0M224.7 1403.3h0M199.9 1402.8h0M253.6 1406.0h0M211.2 1404.1h0" stroke="#0fadad" stroke-width="2.90" stroke-linecap="round" fill="none"/>
<path d="M545.4 1208.6h0M543.7 1222.9h0M534.5 1211.1h0M546.3 1207.6h0M538.0 1213.4h0M536.7 1217.5h0M541.1 1210.2h0M539.0 1219.2h0M543.7 1219.9h0M545.1 1228.1h0M541.4 1217.4h0M543.1 1211.0h0M541.6 1221.7h0M542.0 1204.4h0M539.8 1209.3h0M538.9 1209.6h0M536.4 1214.8h0M541.4 1224.6h0M538.5 1219.5h0M537.8 1221.9h0M546.8 1219.6h0M536.5 1224.1h0M535.2 1219.7h0M546.5 1222.3h0M538.1 1215.3h0M541.2 1206.6h0M536.8 1211.6h0M544.4 1215.5h0M542.1 1206.3h0M540.5 1217.3h0M541.1 1210.5h0M541.5 1212.4h0M542.3 1209.8h0M540.3 1210.8h0M542.1 1222.3h0M535.1 1218.3h0M538.6 1221.5h0M547.8 1217.4h0" stroke="#8fa23c" stroke-width="2.90" stroke-linecap="round" fill="none"/>
<path d="M430.1 1339.2h0M427.5 1328.8h0M424.4 1332.1h0M434.4 1338.3h0M422.3 1347.8h0M422.3 1334.4h0M431.3 1338.7h0M426.8 1336.5h0M419.6 1336.3h0M426.5 1345.8h0M422.1 1332.7h0M425.3 1332.9h0M419.7 1329.0h0M422.7 1336.8h0M420.9 1340.4h0M430.1 1340.1h0M419.9 1334.0h0M420.1 1333.0h0M426.6 1328.0h0M429.3 1339.2h0M420.4 1339.4h0M416.9 1333.5h0M423.9 1338.0h0M426.4 1336.3h0M424.6 1331.6h0M431.8 1335.4h0M429.9 1334.2h0M424.2 1343.0h0M424.0 1346.0h0M426.8 1335.1h0M423.6 1344.6h0M427.4 1334.8h0M419.7 1335.3h0M420.4 1338.0h0M429.5 1341.3h0M432.0 1338.4h0M418.1 1335.1h0M432.6 1343.7h0M433.8 1337.1h0M424.1 1335.8h0M423.3 1338.7h0M426.5 1339.5h0M428.5 1343.2h0M421.2 1339.6h0M425.7 1327.2h0M431.9 1339.5h0M423.7 1340.1h0M422.8 1328.8h0M427.1 1334.1h0M427.4 1343.1h0M429.8 1340.4h0M433.7 1337.7h0M428.7 1338.1h0M423.2 1331.8h0M431.3 1332.6h0M425.1 1334.9h0M425.9 1327.0h0M425.3 1328.0h0M425.8 1338.4h0M425.2 1339.0h0" stroke="#3f8fcc" stroke-width="2.90" stroke-linecap="round" fill="none"/>
<rect x="59.2" y="1181.7" width="544.2" height="515.5" fill="none" stroke="#a6abae" stroke-width="3.0"/>
<text x="508.5" y="1224.1" font-size="22.5" font-weight="bold">4</text>
<text x="447.3" y="1341.1" font-size="22.5" font-weight="bold">10</text>
<text x="221.4" y="1381.0" font-size="22.5" font-weight="bold">8</text>
<text x="292.7" y="1420.4" font-size="22.5" font-weight="bold">13</text>
<text x="97.1" y="1427.8" font-size="22.5" font-weight="bold">9</text>
<text x="171.6" y="1476.9" font-size="22.5" font-weight="bold">14</text>
<text x="369.0" y="1533.4" font-size="22.5" font-weight="bold">3</text>
<text x="441.0" y="1535.2" font-size="22.5" font-weight="bold">7</text>
<text x="506.3" y="1527.8" font-size="22.5" font-weight="bold">1</text>
<text x="422.6" y="1597.9" font-size="22.5" font-weight="bold">6</text>
<text x="528.5" y="1598.7" font-size="22.5" font-weight="bold">2</text>
<text x="328.4" y="1603.5" font-size="22.5" font-weight="bold">11</text>
<text x="453.9" y="1657.7" font-size="22.5" font-weight="bold">12</text>
<text x="522.2" y="1673.2" font-size="22.5" font-weight="bold">5</text>
<text x="83.0" y="1224.0" font-size="27.2" font-weight="bold" style="fill:#000;stroke:#000">Myeloid cells</text>
<text x="428.1" y="1222.3" font-size="23.3">pDCs</text>
<text x="93.0" y="1350.3" font-size="23.3">Neutrophils</text>
<text x="398.6" y="1384.6" font-size="23.3">Mast cells</text>
<text x="502.6" y="1478.7" font-size="23.3">cDCs</text>
<text x="223.3" y="1553.7" font-size="23.3">Monocytes</text>
<text x="268.7" y="1674.3" font-size="23.3">Macrophages</text>
<line x1="54.30" y1="1183.15" x2="58.00" y2="1183.15" stroke="#a6abae" stroke-width="2.2"/>
<text x="49.5" y="1187.5" font-size="19.8" text-anchor="end">15</text>
<line x1="54.30" y1="1292.50" x2="58.00" y2="1292.50" stroke="#a6abae" stroke-width="2.2"/>
<text x="49.5" y="1296.8" font-size="19.8" text-anchor="end">10</text>
<line x1="54.30" y1="1401.85" x2="58.00" y2="1401.85" stroke="#a6abae" stroke-width="2.2"/>
<text x="49.5" y="1406.2" font-size="19.8" text-anchor="end">5</text>
<line x1="54.30" y1="1511.20" x2="58.00" y2="1511.20" stroke="#a6abae" stroke-width="2.2"/>
<text x="49.5" y="1515.5" font-size="19.8" text-anchor="end">0</text>
<line x1="54.30" y1="1620.55" x2="58.00" y2="1620.55" stroke="#a6abae" stroke-width="2.2"/>
<text x="49.5" y="1624.8" font-size="19.8" text-anchor="end">−5</text>
<line x1="149.50" y1="1698.50" x2="149.50" y2="1702.50" stroke="#a6abae" stroke-width="2.2"/>
<text x="152.5" y="1720.5" font-size="19.8" text-anchor="middle">−10</text>
<line x1="267.60" y1="1698.50" x2="267.60" y2="1702.50" stroke="#a6abae" stroke-width="2.2"/>
<text x="270.6" y="1720.5" font-size="19.8" text-anchor="middle">−5</text>
<line x1="385.70" y1="1698.50" x2="385.70" y2="1702.50" stroke="#a6abae" stroke-width="2.2"/>
<text x="385.7" y="1720.5" font-size="19.8" text-anchor="middle">0</text>
<line x1="503.80" y1="1698.50" x2="503.80" y2="1702.50" stroke="#a6abae" stroke-width="2.2"/>
<text x="503.8" y="1720.5" font-size="19.8" text-anchor="middle">5</text>
<text x="333.2" y="1741.0" font-size="19.5" text-anchor="middle">UMAP 1</text>
<text x="17.8" y="1432.0" font-size="19.5" text-anchor="middle" transform="rotate(-90 17.8 1432.0)">UMAP 2</text>
<text x="618.3" y="1545.0" font-size="23.4" font-weight="bold" style="fill:#000;stroke:#000">Cluster IDs with annotation</text>
<rect x="622.20" y="1563.00" width="17.80" height="16.50" fill="#e5706b"/>
<text x="643.0" y="1578.3" font-size="21.65" style="fill:#000;stroke:#000">1 - conventional dendritic cells</text>
<rect x="984.80" y="1563.00" width="17.80" height="16.50" fill="#0fadad"/>
<text x="1006.0" y="1578.3" font-size="21.65" style="fill:#000;stroke:#000">8 - act.neutrophils I</text>
<rect x="622.20" y="1588.65" width="17.80" height="16.50" fill="#e08a30"/>
<text x="643.0" y="1604.0" font-size="21.65" style="fill:#000;stroke:#000">2 - tissue-resident macrophages I</text>
<rect x="984.80" y="1588.65" width="17.80" height="16.50" fill="#12a8e0"/>
<text x="1006.0" y="1604.0" font-size="21.65" style="fill:#000;stroke:#000">9 - act. NET-forming neutrophils</text>
<rect x="622.20" y="1614.30" width="17.80" height="16.50" fill="#c39a35"/>
<text x="643.0" y="1629.6" font-size="21.65" style="fill:#000;stroke:#000">3 - CD16 monocytes</text>
<rect x="984.80" y="1614.30" width="17.80" height="16.50" fill="#3f8fcc"/>
<text x="1006.0" y="1629.6" font-size="21.65" style="fill:#000;stroke:#000">10 - mast cells</text>
<rect x="622.20" y="1639.95" width="17.80" height="16.50" fill="#8fa23c"/>
<text x="643.0" y="1655.2" font-size="21.65" style="fill:#000;stroke:#000">4 - plasmacytoid dendritic cells</text>
<rect x="984.80" y="1639.95" width="17.80" height="16.50" fill="#8581ba"/>
<text x="1006.0" y="1655.2" font-size="21.65" style="fill:#000;stroke:#000">11 - tumor-infiltrating monocytes</text>
<rect x="622.20" y="1665.60" width="17.80" height="16.50" fill="#4fae5b"/>
<text x="643.0" y="1680.9" font-size="21.65" style="fill:#000;stroke:#000">5 - tissue-resident macrophages II</text>
<rect x="984.80" y="1665.60" width="17.80" height="16.50" fill="#a970a4"/>
<text x="1006.0" y="1680.9" font-size="21.65" style="fill:#000;stroke:#000">12 - borderline TAMs</text>
<rect x="622.20" y="1691.25" width="17.80" height="16.50" fill="#17a855"/>
<text x="643.0" y="1706.5" font-size="21.65" style="fill:#000;stroke:#000">6 - inflammatory macrophages</text>
<rect x="984.80" y="1691.25" width="17.80" height="16.50" fill="#d66ba8"/>
<text x="1006.0" y="1706.5" font-size="21.65" style="fill:#000;stroke:#000">13 - mature neutrophils</text>
<rect x="622.20" y="1716.90" width="17.80" height="16.50" fill="#0fa380"/>
<text x="643.0" y="1732.2" font-size="21.65" style="fill:#000;stroke:#000">7 - prol. immunosuppressive TAMs</text>
<rect x="984.80" y="1716.90" width="17.80" height="16.50" fill="#ea6699"/>
<text x="1006.0" y="1732.2" font-size="21.65" style="fill:#000;stroke:#000">14 - act. neutrophils II</text>
</g>
<g id="pI">
<text x="840.0" y="1004.0" font-size="41" font-weight="bold">I</text>
<text x="1092.2" y="1025.7" font-size="26.9" text-anchor="middle" font-weight="bold" style="fill:#000;stroke:#000">Myeloid cells</text>
<rect x="867.10" y="1041.00" width="432.50" height="359.70" fill="#e5e5e5"/>
<line x1="867.10" y1="1343.48" x2="1299.60" y2="1343.48" stroke="#f0f0f0" stroke-width="1.2"/>
<line x1="867.10" y1="1261.62" x2="1299.60" y2="1261.62" stroke="#f0f0f0" stroke-width="1.2"/>
<line x1="867.10" y1="1179.78" x2="1299.60" y2="1179.78" stroke="#f0f0f0" stroke-width="1.2"/>
<line x1="867.10" y1="1097.92" x2="1299.60" y2="1097.92" stroke="#f0f0f0" stroke-width="1.2"/>
<line x1="867.10" y1="1384.40" x2="1299.60" y2="1384.40" stroke="#ffffff" stroke-width="2.2"/>
<line x1="867.10" y1="1302.55" x2="1299.60" y2="1302.55" stroke="#ffffff" stroke-width="2.2"/>
<line x1="867.10" y1="1220.70" x2="1299.60" y2="1220.70" stroke="#ffffff" stroke-width="2.2"/>
<line x1="867.10" y1="1138.85" x2="1299.60" y2="1138.85" stroke="#ffffff" stroke-width="2.2"/>
<line x1="867.10" y1="1057.00" x2="1299.60" y2="1057.00" stroke="#ffffff" stroke-width="2.2"/>
<line x1="885.85" y1="1041.00" x2="885.85" y2="1400.70" stroke="#ffffff" stroke-width="2.8"/>
<line x1="916.27" y1="1041.00" x2="916.27" y2="1400.70" stroke="#ffffff" stroke-width="2.8"/>
<line x1="946.69" y1="1041.00" x2="946.69" y2="1400.70" stroke="#ffffff" stroke-width="2.8"/>
<line x1="977.11" y1="1041.00" x2="977.11" y2="1400.70" stroke="#ffffff" stroke-width="2.8"/>
<line x1="1007.53" y1="1041.00" x2="1007.53" y2="1400.70" stroke="#ffffff" stroke-width="2.8"/>
<line x1="1037.95" y1="1041.00" x2="1037.95" y2="1400.70" stroke="#ffffff" stroke-width="2.8"/>
<line x1="1068.37" y1="1041.00" x2="1068.37" y2="1400.70" stroke="#ffffff" stroke-width="2.8"/>
<line x1="1098.79" y1="1041.00" x2="1098.79" y2="1400.70" stroke="#ffffff" stroke-width="2.8"/>
<line x1="1129.21" y1="1041.00" x2="1129.21" y2="1400.70" stroke="#ffffff" stroke-width="2.8"/>
<line x1="1159.63" y1="1041.00" x2="1159.63" y2="1400.70" stroke="#ffffff" stroke-width="2.8"/>
<line x1="1190.05" y1="1041.00" x2="1190.05" y2="1400.70" stroke="#ffffff" stroke-width="2.8"/>
<line x1="1220.47" y1="1041.00" x2="1220.47" y2="1400.70" stroke="#ffffff" stroke-width="2.8"/>
<line x1="1250.89" y1="1041.00" x2="1250.89" y2="1400.70" stroke="#ffffff" stroke-width="2.8"/>
<line x1="1281.31" y1="1041.00" x2="1281.31" y2="1400.70" stroke="#ffffff" stroke-width="2.8"/>
<rect x="872.20" y="1347.73" width="27.30" height="36.67" fill="#d81b60"/>
<rect x="872.20" y="1336.27" width="27.30" height="11.46" fill="#fbbc2c"/>
<rect x="872.20" y="1325.80" width="27.30" height="10.48" fill="#004d40"/>
<rect x="872.20" y="1057.00" width="27.30" height="268.80" fill="#2f7ec0"/>
<rect x="902.62" y="1369.67" width="27.30" height="14.73" fill="#d81b60"/>
<rect x="902.62" y="1351.01" width="27.30" height="18.66" fill="#fbbc2c"/>
<rect x="902.62" y="1325.47" width="27.30" height="25.54" fill="#004d40"/>
<rect x="902.62" y="1057.00" width="27.30" height="268.47" fill="#2f7ec0"/>
<rect x="933.04" y="1339.55" width="27.30" height="44.85" fill="#d81b60"/>
<rect x="933.04" y="1300.59" width="27.30" height="38.96" fill="#fbbc2c"/>
<rect x="933.04" y="1278.00" width="27.30" height="22.59" fill="#004d40"/>
<rect x="933.04" y="1057.00" width="27.30" height="221.00" fill="#2f7ec0"/>
<rect x="963.46" y="1329.40" width="27.30" height="55.00" fill="#d81b60"/>
<rect x="963.46" y="1222.66" width="27.30" height="106.73" fill="#fbbc2c"/>
<rect x="963.46" y="1208.26" width="27.30" height="14.41" fill="#004d40"/>
<rect x="963.46" y="1057.00" width="27.30" height="151.26" fill="#2f7ec0"/>
<rect x="993.88" y="1315.65" width="27.30" height="68.75" fill="#d81b60"/>
<rect x="993.88" y="1204.98" width="27.30" height="110.66" fill="#fbbc2c"/>
<rect x="993.88" y="1157.18" width="27.30" height="47.80" fill="#004d40"/>
<rect x="993.88" y="1057.00" width="27.30" height="100.18" fill="#2f7ec0"/>
<rect x="1024.30" y="1377.52" width="27.30" height="6.88" fill="#d81b60"/>
<rect x="1024.30" y="1338.89" width="27.30" height="38.63" fill="#fbbc2c"/>
<rect x="1024.30" y="1152.60" width="27.30" height="186.29" fill="#004d40"/>
<rect x="1024.30" y="1057.00" width="27.30" height="95.60" fill="#2f7ec0"/>
<rect x="1054.72" y="1363.12" width="27.30" height="21.28" fill="#d81b60"/>
<rect x="1054.72" y="1276.03" width="27.30" height="87.09" fill="#fbbc2c"/>
<rect x="1054.72" y="1144.74" width="27.30" height="131.29" fill="#004d40"/>
<rect x="1054.72" y="1057.00" width="27.30" height="87.74" fill="#2f7ec0"/>
<rect x="1085.14" y="1251.80" width="27.30" height="132.60" fill="#d81b60"/>
<rect x="1085.14" y="1177.16" width="27.30" height="74.65" fill="#fbbc2c"/>
<rect x="1085.14" y="1137.54" width="27.30" height="39.62" fill="#004d40"/>
<rect x="1085.14" y="1057.00" width="27.30" height="80.54" fill="#2f7ec0"/>
<rect x="1115.56" y="1281.27" width="27.30" height="103.13" fill="#d81b60"/>
<rect x="1115.56" y="1156.53" width="27.30" height="124.74" fill="#fbbc2c"/>
<rect x="1115.56" y="1134.59" width="27.30" height="21.94" fill="#004d40"/>
<rect x="1115.56" y="1057.00" width="27.30" height="77.59" fill="#2f7ec0"/>
<rect x="1145.98" y="1371.96" width="27.30" height="12.44" fill="#d81b60"/>
<rect x="1145.98" y="1284.54" width="27.30" height="87.42" fill="#fbbc2c"/>
<rect x="1145.98" y="1129.36" width="27.30" height="155.19" fill="#004d40"/>
<rect x="1145.98" y="1057.00" width="27.30" height="72.36" fill="#2f7ec0"/>
<rect x="1176.40" y="1379.49" width="27.30" height="4.91" fill="#d81b60"/>
<rect x="1176.40" y="1329.40" width="27.30" height="50.09" fill="#fbbc2c"/>
<rect x="1176.40" y="1090.72" width="27.30" height="238.67" fill="#004d40"/>
<rect x="1176.40" y="1057.00" width="27.30" height="33.72" fill="#2f7ec0"/>
<rect x="1206.82" y="1236.42" width="27.30" height="147.98" fill="#d81b60"/>
<rect x="1206.82" y="1134.27" width="27.30" height="102.15" fill="#fbbc2c"/>
<rect x="1206.82" y="1088.76" width="27.30" height="45.51" fill="#004d40"/>
<rect x="1206.82" y="1057.00" width="27.30" height="31.76" fill="#2f7ec0"/>
<rect x="1237.24" y="1125.10" width="27.30" height="259.30" fill="#d81b60"/>
<rect x="1237.24" y="1086.47" width="27.30" height="38.63" fill="#fbbc2c"/>
<rect x="1237.24" y="1065.51" width="27.30" height="20.95" fill="#004d40"/>
<rect x="1237.24" y="1057.00" width="27.30" height="8.51" fill="#2f7ec0"/>
<rect x="1267.66" y="1080.90" width="27.30" height="303.50" fill="#d81b60"/>
<rect x="1267.66" y="1070.75" width="27.30" height="10.15" fill="#fbbc2c"/>
<rect x="1267.66" y="1062.89" width="27.30" height="7.86" fill="#004d40"/>
<rect x="1267.66" y="1057.00" width="27.30" height="5.89" fill="#2f7ec0"/>
<text x="860.5" y="1387.6" font-size="19" text-anchor="end">0</text>
<rect x="865.00" y="1384.20" width="2.00" height="2.40" fill="#231f20"/>
<text x="860.5" y="1305.8" font-size="19" text-anchor="end">25</text>
<rect x="865.00" y="1302.35" width="2.00" height="2.40" fill="#231f20"/>
<text x="860.5" y="1223.9" font-size="19" text-anchor="end">50</text>
<rect x="865.00" y="1220.50" width="2.00" height="2.40" fill="#231f20"/>
<text x="860.5" y="1142.0" font-size="19" text-anchor="end">75</text>
<rect x="865.00" y="1138.65" width="2.00" height="2.40" fill="#231f20"/>
<text x="860.5" y="1060.2" font-size="19" text-anchor="end">100</text>
<rect x="865.00" y="1056.80" width="2.00" height="2.40" fill="#231f20"/>
<text x="885.9" y="1421.8" font-size="19.5" text-anchor="middle">5</text>
<text x="916.3" y="1421.8" font-size="19.5" text-anchor="middle">2</text>
<text x="946.7" y="1421.8" font-size="19.5" text-anchor="middle">3</text>
<text x="977.1" y="1421.8" font-size="19.5" text-anchor="middle">10</text>
<text x="1007.5" y="1421.8" font-size="19.5" text-anchor="middle">11</text>
<text x="1038.0" y="1421.8" font-size="19.5" text-anchor="middle">14</text>
<text x="1068.4" y="1421.8" font-size="19.5" text-anchor="middle">13</text>
<text x="1098.8" y="1421.8" font-size="19.5" text-anchor="middle">1</text>
<text x="1129.2" y="1421.8" font-size="19.5" text-anchor="middle">6</text>
<text x="1159.6" y="1421.8" font-size="19.5" text-anchor="middle">8</text>
<text x="1190.1" y="1421.8" font-size="19.5" text-anchor="middle">9</text>
<text x="1220.5" y="1421.8" font-size="19.5" text-anchor="middle">4</text>
<text x="1250.9" y="1421.8" font-size="19.5" text-anchor="middle">7</text>
<text x="1281.3" y="1421.8" font-size="19.5" text-anchor="middle">12</text>
<text x="1103.4" y="1443.0" font-size="19.8" text-anchor="middle">Cluster</text>
<text x="824.5" y="1206.6" font-size="19.5" text-anchor="middle" transform="rotate(-90 824.5 1206.6)">Fraction</text>
<text x="668.5" y="1299.4" font-size="23.1" font-weight="bold" style="fill:#000;stroke:#000">Tissue Region</text>
<rect x="671.60" y="1307.90" width="15.70" height="15.70" fill="#2f7ec0"/>
<text x="691.0" y="1322.7" font-size="21.5">Non-metastatic</text>
<rect x="671.60" y="1331.70" width="15.70" height="15.70" fill="#004d40"/>
<text x="691.0" y="1346.5" font-size="21.5">Distant</text>
<rect x="671.60" y="1355.50" width="15.70" height="15.70" fill="#fbbc2c"/>
<text x="691.0" y="1370.3" font-size="21.5">Peritumoral</text>
<rect x="671.60" y="1379.30" width="15.70" height="15.70" fill="#d81b60"/>
<text x="691.0" y="1394.1" font-size="21.5">Tumor</text>
</g>
<g id="pJ">
<text x="1328.0" y="1003.0" font-size="41" font-weight="bold">J</text>
<defs><filter id="rough3" x="-5%" y="-5%" width="110%" height="110%"><feTurbulence type="fractalNoise" baseFrequency="0.35" numOctaves="2" seed="4" result="n"/><feDisplacementMap in="SourceGraphic" in2="n" scale="3.2" xChannelSelector="R" yChannelSelector="G"/></filter></defs>
<rect x="1449.00" y="979.70" width="239.60" height="253.70" fill="#fff"/>
<line x1="1463.53" y1="979.70" x2="1463.53" y2="1233.40" stroke="#eeeeee" stroke-width="0.8"/>
<line x1="1515.28" y1="979.70" x2="1515.28" y2="1233.40" stroke="#eeeeee" stroke-width="0.8"/>
<line x1="1567.03" y1="979.70" x2="1567.03" y2="1233.40" stroke="#eeeeee" stroke-width="0.8"/>
<line x1="1618.78" y1="979.70" x2="1618.78" y2="1233.40" stroke="#eeeeee" stroke-width="0.8"/>
<line x1="1670.53" y1="979.70" x2="1670.53" y2="1233.40" stroke="#eeeeee" stroke-width="0.8"/>
<line x1="1449.00" y1="1007.58" x2="1688.60" y2="1007.58" stroke="#eeeeee" stroke-width="0.8"/>
<line x1="1449.00" y1="1061.23" x2="1688.60" y2="1061.23" stroke="#eeeeee" stroke-width="0.8"/>
<line x1="1449.00" y1="1114.88" x2="1688.60" y2="1114.88" stroke="#eeeeee" stroke-width="0.8"/>
<line x1="1449.00" y1="1168.53" x2="1688.60" y2="1168.53" stroke="#eeeeee" stroke-width="0.8"/>
<line x1="1449.00" y1="1222.17" x2="1688.60" y2="1222.17" stroke="#eeeeee" stroke-width="0.8"/>
<line x1="1489.40" y1="979.70" x2="1489.40" y2="1233.40" stroke="#e2e2e2" stroke-width="1.2"/>
<line x1="1541.15" y1="979.70" x2="1541.15" y2="1233.40" stroke="#e2e2e2" stroke-width="1.2"/>
<line x1="1592.90" y1="979.70" x2="1592.90" y2="1233.40" stroke="#e2e2e2" stroke-width="1.2"/>
<line x1="1644.65" y1="979.70" x2="1644.65" y2="1233.40" stroke="#e2e2e2" stroke-width="1.2"/>
<line x1="1449.00" y1="1034.40" x2="1688.60" y2="1034.40" stroke="#e2e2e2" stroke-width="1.2"/>
<line x1="1449.00" y1="1088.05" x2="1688.60" y2="1088.05" stroke="#e2e2e2" stroke-width="1.2"/>
<line x1="1449.00" y1="1141.70" x2="1688.60" y2="1141.70" stroke="#e2e2e2" stroke-width="1.2"/>
<line x1="1449.00" y1="1195.35" x2="1688.60" y2="1195.35" stroke="#e2e2e2" stroke-width="1.2"/>
<g filter="url(#rough3)">
<path d="M1658.4 993.6C1658.8 992.6 1660.0 991.2 1660.8 990.9C1661.6 990.6 1662.8 990.3 1663.2 991.8C1663.7 993.3 1663.8 998.0 1663.5 999.9C1663.3 1001.8 1662.3 1002.9 1661.6 1003.2C1660.9 1003.5 1659.8 1002.8 1659.2 1001.8C1658.6 1000.8 1658.2 998.6 1658.1 997.2C1657.9 995.9 1657.9 994.7 1658.4 993.6Z" fill="#414893" stroke="#414893" stroke-width="2.2" stroke-linejoin="round"/>
<path d="M1606.6 1054.3C1607.4 1052.8 1610.4 1049.6 1611.5 1049.7C1612.6 1049.9 1612.3 1054.1 1613.1 1055.2C1613.9 1056.3 1616.5 1055.7 1616.3 1056.4C1616.2 1057.2 1613.5 1058.8 1612.3 1059.7C1611.1 1060.5 1609.9 1061.7 1609.1 1061.5C1608.2 1061.4 1607.4 1060.0 1606.9 1058.8C1606.5 1057.6 1605.9 1055.8 1606.6 1054.3Z" fill="#414893" stroke="#414893" stroke-width="2.2" stroke-linejoin="round"/>
<path d="M1459.5 1082.9C1461.5 1083.1 1468.4 1085.0 1472.4 1085.4C1476.4 1085.8 1479.9 1084.8 1483.7 1085.0C1487.5 1085.3 1490.5 1086.5 1495.0 1086.9C1499.6 1087.2 1508.0 1086.3 1511.2 1087.2C1514.4 1088.1 1515.5 1091.0 1514.4 1092.3C1513.4 1093.6 1507.4 1094.1 1504.7 1095.0C1502.0 1095.9 1500.2 1096.4 1498.3 1097.7C1496.4 1099.1 1495.0 1102.4 1493.4 1103.1C1491.8 1103.9 1490.2 1103.4 1488.6 1102.2C1487.0 1101.0 1485.6 1097.9 1483.7 1095.9C1481.8 1093.9 1479.7 1091.8 1477.3 1090.5C1474.8 1089.1 1472.0 1088.8 1469.2 1087.8C1466.3 1086.7 1461.9 1085.0 1460.3 1084.1C1458.7 1083.3 1457.4 1082.7 1459.5 1082.9Z" fill="#414893" stroke="#414893" stroke-width="2.2" stroke-linejoin="round"/>
<path d="M1512.0 1087.8C1513.1 1086.6 1518.1 1085.9 1520.9 1085.4C1523.7 1085.0 1526.3 1084.8 1529.0 1085.0C1531.7 1085.3 1536.0 1085.6 1537.1 1086.9C1538.2 1088.1 1536.8 1090.9 1535.5 1092.3C1534.1 1093.6 1530.9 1094.1 1529.0 1095.0C1527.1 1095.9 1525.8 1097.7 1524.1 1097.7C1522.5 1097.7 1520.9 1095.9 1519.3 1095.0C1517.7 1094.1 1515.7 1093.5 1514.4 1092.3C1513.2 1091.1 1510.9 1088.9 1512.0 1087.8Z" fill="#414893" stroke="#414893" stroke-width="2.2" stroke-linejoin="round"/>
<path d="M1493.4 1103.1C1493.2 1101.5 1496.4 1099.1 1498.3 1097.7C1500.2 1096.4 1502.0 1095.8 1504.7 1095.0C1507.4 1094.2 1512.0 1093.1 1514.4 1093.2C1516.9 1093.3 1517.7 1094.7 1519.3 1095.5C1520.9 1096.4 1522.5 1097.4 1524.1 1098.1C1525.8 1098.7 1527.9 1097.8 1529.0 1099.5C1530.1 1101.3 1529.3 1106.2 1530.6 1108.6C1532.0 1111.0 1537.6 1113.0 1537.1 1114.0C1536.5 1115.1 1530.6 1114.9 1527.4 1114.9C1524.1 1114.9 1520.9 1114.6 1517.7 1114.0C1514.4 1113.4 1510.9 1112.4 1508.0 1111.3C1505.0 1110.2 1502.3 1109.0 1499.9 1107.7C1497.5 1106.3 1493.7 1104.8 1493.4 1103.1Z" fill="#414893" stroke="#414893" stroke-width="2.2" stroke-linejoin="round"/>
<path d="M1529.0 1095.0C1530.3 1092.9 1534.7 1087.8 1537.1 1086.9C1539.5 1085.9 1541.5 1088.1 1543.6 1089.6C1545.6 1091.1 1547.7 1093.3 1549.2 1095.9C1550.7 1098.5 1552.0 1102.5 1552.4 1105.0C1552.9 1107.4 1553.1 1109.0 1551.6 1110.4C1550.2 1111.7 1546.0 1112.5 1543.6 1113.1C1541.1 1113.7 1539.2 1114.8 1537.1 1114.0C1534.9 1113.3 1532.0 1111.0 1530.6 1108.6C1529.3 1106.2 1529.3 1101.8 1529.0 1099.5C1528.7 1097.3 1527.7 1097.1 1529.0 1095.0Z" fill="#414893" stroke="#414893" stroke-width="2.2" stroke-linejoin="round"/>
<path d="M1585.3 1155.3C1585.3 1154.4 1586.8 1155.2 1588.0 1156.0C1589.3 1156.8 1591.7 1158.6 1592.9 1160.2C1594.1 1161.8 1595.4 1164.9 1595.3 1165.6C1595.2 1166.4 1593.3 1165.5 1592.1 1164.7C1590.9 1164.0 1589.2 1162.7 1588.0 1161.1C1586.9 1159.5 1585.3 1156.1 1585.3 1155.3Z" fill="#414893" stroke="#414893" stroke-width="2.2" stroke-linejoin="round"/>
<path d="M1554.9 1193.7C1556.1 1191.0 1560.0 1184.6 1563.0 1181.0C1565.9 1177.4 1569.6 1173.5 1572.7 1171.9C1575.8 1170.4 1579.4 1171.3 1581.6 1171.9C1583.7 1172.6 1585.9 1173.5 1585.6 1175.6C1585.3 1177.7 1581.6 1181.9 1579.9 1184.6C1578.3 1187.3 1577.7 1189.8 1575.9 1191.9C1574.1 1194.0 1571.9 1196.1 1569.4 1197.3C1567.0 1198.4 1563.6 1198.7 1561.3 1198.7C1559.1 1198.7 1556.8 1198.1 1555.7 1197.3C1554.6 1196.4 1553.7 1196.4 1554.9 1193.7Z" fill="#414893" stroke="#414893" stroke-width="2.2" stroke-linejoin="round"/>
<path d="M1577.5 1190.1C1578.1 1188.5 1579.5 1184.6 1581.6 1183.7C1583.6 1182.8 1588.4 1183.9 1589.6 1184.6C1590.9 1185.4 1589.9 1186.9 1588.8 1188.2C1587.8 1189.6 1584.9 1192.0 1583.2 1192.8C1581.4 1193.5 1579.3 1193.2 1578.3 1192.8C1577.4 1192.3 1577.0 1191.6 1577.5 1190.1Z" fill="#414893" stroke="#414893" stroke-width="2.2" stroke-linejoin="round"/>
<path d="M1607.4 1139.0C1607.4 1137.9 1609.3 1140.2 1611.5 1140.3C1613.6 1140.3 1618.6 1141.0 1620.4 1139.4C1622.1 1137.7 1621.2 1132.0 1622.0 1130.3C1622.8 1128.6 1624.5 1128.2 1625.2 1129.4C1625.9 1130.6 1625.1 1135.0 1626.0 1137.5C1627.0 1140.1 1629.5 1142.1 1630.9 1144.8C1632.2 1147.5 1634.1 1151.4 1634.1 1153.8C1634.1 1156.3 1633.6 1158.2 1630.9 1159.3C1628.2 1160.3 1621.2 1160.8 1617.9 1160.2C1614.7 1159.6 1612.6 1157.9 1611.5 1155.7C1610.4 1153.4 1612.1 1149.4 1611.5 1146.6C1610.8 1143.8 1607.4 1140.1 1607.4 1139.0Z" fill="#414893" stroke="#414893" stroke-width="2.2" stroke-linejoin="round"/>
<path d="M1631.7 1144.8C1633.0 1142.7 1637.5 1142.7 1640.6 1141.2C1643.7 1139.7 1649.1 1138.0 1650.3 1135.7C1651.5 1133.5 1647.9 1129.1 1647.9 1127.6C1647.9 1126.1 1649.3 1125.5 1650.3 1126.7C1651.2 1127.9 1651.6 1133.9 1653.5 1134.8C1655.4 1135.7 1659.7 1133.0 1661.6 1132.1C1663.5 1131.2 1663.8 1129.6 1664.8 1129.4C1665.9 1129.2 1668.3 1129.9 1668.1 1131.2C1667.8 1132.6 1665.1 1135.0 1663.2 1137.5C1661.3 1140.1 1658.9 1143.3 1656.8 1146.6C1654.6 1149.9 1652.7 1155.0 1650.3 1157.5C1647.9 1159.9 1643.3 1159.0 1642.2 1161.1C1641.1 1163.2 1644.1 1168.9 1643.8 1170.1C1643.5 1171.3 1641.9 1170.4 1640.6 1168.3C1639.2 1166.2 1637.1 1159.9 1635.7 1157.5C1634.4 1155.0 1633.2 1156.0 1632.5 1153.8C1631.8 1151.7 1630.3 1146.9 1631.7 1144.8Z" fill="#414893" stroke="#414893" stroke-width="2.2" stroke-linejoin="round"/>
<path d="M1612.3 1157.5C1613.4 1156.6 1616.7 1159.3 1617.9 1161.1C1619.2 1162.9 1618.8 1165.9 1619.6 1168.3C1620.4 1170.7 1620.6 1173.2 1622.8 1175.6C1625.0 1178.0 1630.6 1180.4 1632.5 1182.8C1634.4 1185.2 1634.9 1190.1 1634.1 1190.1C1633.3 1190.1 1629.8 1184.6 1627.6 1182.8C1625.5 1181.0 1623.3 1180.7 1621.2 1179.2C1619.0 1177.7 1616.3 1175.9 1614.7 1173.8C1613.1 1171.6 1611.9 1169.2 1611.5 1166.5C1611.1 1163.8 1611.2 1158.4 1612.3 1157.5Z" fill="#414893" stroke="#414893" stroke-width="2.2" stroke-linejoin="round"/>
<path d="M1642.2 1171.9C1642.6 1169.8 1644.9 1168.9 1646.2 1170.1C1647.6 1171.3 1649.1 1175.9 1650.3 1179.2C1651.5 1182.5 1653.1 1187.5 1653.5 1190.1C1653.9 1192.6 1653.5 1194.6 1652.7 1194.6C1651.9 1194.6 1650.2 1192.0 1648.7 1190.1C1647.2 1188.1 1644.9 1185.8 1643.8 1182.8C1642.7 1179.8 1641.8 1174.1 1642.2 1171.9Z" fill="#414893" stroke="#414893" stroke-width="2.2" stroke-linejoin="round"/>
<path d="M1632.5 1184.6C1633.7 1183.4 1637.6 1184.9 1640.6 1186.4C1643.5 1187.9 1647.3 1191.3 1650.3 1193.7C1653.3 1196.1 1656.2 1198.7 1658.4 1200.9C1660.5 1203.2 1663.0 1205.6 1663.2 1207.3C1663.5 1208.9 1662.1 1211.0 1660.0 1210.9C1657.8 1210.7 1653.5 1208.3 1650.3 1206.3C1647.1 1204.4 1643.4 1201.2 1640.6 1199.1C1637.8 1197.0 1634.7 1196.1 1633.3 1193.7C1632.0 1191.3 1631.3 1185.8 1632.5 1184.6Z" fill="#414893" stroke="#414893" stroke-width="2.2" stroke-linejoin="round"/>
<path d="M1620.4 1207.3C1620.9 1205.3 1622.8 1202.4 1624.4 1200.9C1626.0 1199.4 1628.9 1197.0 1630.1 1198.2C1631.3 1199.4 1631.0 1205.0 1631.7 1208.2C1632.4 1211.3 1634.0 1215.1 1634.1 1217.2C1634.3 1219.3 1633.8 1220.8 1632.5 1220.8C1631.2 1220.8 1627.9 1218.6 1626.0 1217.2C1624.1 1215.9 1622.1 1214.3 1621.2 1212.7C1620.2 1211.0 1619.8 1209.2 1620.4 1207.3Z" fill="#414893" stroke="#414893" stroke-width="2.2" stroke-linejoin="round"/>
<path d="M1631.7 1219.9C1632.5 1219.5 1636.5 1219.5 1637.4 1219.9C1638.2 1220.3 1637.4 1221.9 1636.5 1222.3C1635.7 1222.7 1633.3 1222.7 1632.5 1222.3C1631.7 1221.9 1630.9 1220.3 1631.7 1219.9Z" fill="#414893" stroke="#414893" stroke-width="2.2" stroke-linejoin="round"/>
<path d="M1673.7 1165.2C1674.4 1164.7 1677.4 1163.4 1678.1 1163.4C1678.8 1163.4 1678.7 1164.7 1678.1 1165.2C1677.5 1165.8 1674.9 1166.5 1674.2 1166.5C1673.5 1166.5 1673.1 1165.8 1673.7 1165.2Z" fill="#414893" stroke="#414893" stroke-width="2.2" stroke-linejoin="round"/>
<path d="M1630.9 1153.8C1634.4 1153.5 1636.5 1156.3 1639.0 1159.3C1641.4 1162.3 1644.9 1167.1 1645.4 1171.9C1646.0 1176.8 1644.4 1185.8 1642.2 1188.2C1640.0 1190.7 1635.7 1188.2 1632.5 1186.4C1629.3 1184.6 1625.2 1181.6 1622.8 1177.4C1620.4 1173.2 1616.6 1165.0 1617.9 1161.1C1619.3 1157.2 1627.4 1154.1 1630.9 1153.8Z" fill="#414893" stroke="#414893" stroke-width="1.5"/>
<path d="M1629.3 1197.3C1630.3 1194.3 1636.8 1194.9 1639.0 1197.3C1641.1 1199.7 1643.3 1208.8 1642.2 1211.8C1641.1 1214.8 1634.7 1217.8 1632.5 1215.4C1630.3 1213.0 1628.2 1200.3 1629.3 1197.3Z" fill="#414893" stroke="#414893" stroke-width="1.5"/>
<path d="M1557.3 1116.7C1557.7 1116.4 1559.9 1118.4 1561.3 1117.6C1562.8 1116.9 1564.8 1113.1 1566.2 1112.2C1567.5 1111.3 1569.4 1111.4 1569.4 1112.2C1569.4 1113.0 1566.3 1114.9 1566.2 1116.7C1566.1 1118.5 1568.9 1122.3 1568.6 1123.1C1568.4 1123.8 1566.2 1121.9 1564.6 1121.3C1563.0 1120.6 1560.1 1120.2 1558.9 1119.4C1557.7 1118.7 1556.9 1117.0 1557.3 1116.7Z" fill="#414893" stroke="#414893" stroke-width="1.5"/>
<path d="M1583.2 1170.1C1583.7 1168.3 1587.6 1166.2 1588.8 1166.5C1590.0 1166.8 1591.0 1170.1 1590.5 1171.9C1589.9 1173.8 1586.8 1177.7 1585.6 1177.4C1584.4 1177.1 1582.6 1171.9 1583.2 1170.1Z" fill="#414893" stroke="#414893" stroke-width="1.5"/>
<circle cx="1623.60" cy="1169.23" r="1.53" fill="#fff"/>
<circle cx="1627.97" cy="1174.66" r="1.36" fill="#fff"/>
<circle cx="1634.12" cy="1178.28" r="1.19" fill="#fff"/>
<circle cx="1637.35" cy="1190.05" r="1.36" fill="#fff"/>
<circle cx="1627.65" cy="1164.71" r="1.02" fill="#fff"/>
<path d="M1458.7 1082.0C1460.8 1082.0 1468.2 1084.3 1472.4 1084.7C1476.6 1085.1 1481.5 1083.7 1484.0 1084.3C1486.6 1085.0 1487.5 1086.9 1487.8 1088.7C1488.0 1090.4 1486.7 1094.1 1485.3 1095.0C1484.0 1095.9 1482.4 1095.2 1479.7 1094.1C1477.0 1093.0 1472.5 1090.2 1469.2 1088.7C1465.9 1087.1 1461.5 1085.8 1459.8 1084.7C1458.0 1083.6 1456.6 1082.0 1458.7 1082.0Z" fill="#4fae92" stroke="#4fae92" stroke-width="1.5"/>
</g>
<circle cx="1504.74" cy="1099.53" r="1.20" fill="#fff"/>
<circle cx="1507.98" cy="1097.72" r="1.00" fill="#fff"/>
<circle cx="1503.94" cy="1110.39" r="1.00" fill="#fff"/>
<circle cx="1497.47" cy="1098.62" r="0.80" fill="#fff"/>
<circle cx="1522.53" cy="1094.09" r="0.80" fill="#fff"/>
<rect x="1449.0" y="979.7" width="239.6" height="253.7" fill="none" stroke="#444" stroke-width="1.1"/>
<line x1="1489.40" y1="1233.40" x2="1489.40" y2="1235.40" stroke="#444" stroke-width="0.9"/>
<text x="1489.4" y="1251.8" font-size="18.3" text-anchor="middle">−10</text>
<line x1="1541.15" y1="1233.40" x2="1541.15" y2="1235.40" stroke="#444" stroke-width="0.9"/>
<text x="1541.2" y="1251.8" font-size="18.3" text-anchor="middle">−5</text>
<line x1="1592.90" y1="1233.40" x2="1592.90" y2="1235.40" stroke="#444" stroke-width="0.9"/>
<text x="1592.9" y="1251.8" font-size="18.3" text-anchor="middle">0</text>
<line x1="1644.65" y1="1233.40" x2="1644.65" y2="1235.40" stroke="#444" stroke-width="0.9"/>
<text x="1644.7" y="1251.8" font-size="18.3" text-anchor="middle">5</text>
<line x1="1447.00" y1="980.75" x2="1449.00" y2="980.75" stroke="#444" stroke-width="0.9"/>
<text x="1445.0" y="987.0" font-size="18.3" text-anchor="end">15</text>
<line x1="1447.00" y1="1034.40" x2="1449.00" y2="1034.40" stroke="#444" stroke-width="0.9"/>
<text x="1445.0" y="1040.7" font-size="18.3" text-anchor="end">10</text>
<line x1="1447.00" y1="1088.05" x2="1449.00" y2="1088.05" stroke="#444" stroke-width="0.9"/>
<text x="1445.0" y="1094.3" font-size="18.3" text-anchor="end">5</text>
<line x1="1447.00" y1="1141.70" x2="1449.00" y2="1141.70" stroke="#444" stroke-width="0.9"/>
<text x="1445.0" y="1148.0" font-size="18.3" text-anchor="end">0</text>
<line x1="1447.00" y1="1195.35" x2="1449.00" y2="1195.35" stroke="#444" stroke-width="0.9"/>
<text x="1445.0" y="1201.7" font-size="18.3" text-anchor="end">−5</text>
<text x="1459.5" y="1007.0" font-size="23" font-style="italic" style="fill:#000;stroke:#000">ARG1</text>
<defs><linearGradient id="gJ0" x1="0" y1="0" x2="0" y2="1"><stop offset="0" stop-color="#8c2a1f"/><stop offset="0.12" stop-color="#e0663a"/><stop offset="0.28" stop-color="#f0a030"/><stop offset="0.4" stop-color="#f2d24a"/><stop offset="0.52" stop-color="#c5d46a"/><stop offset="0.66" stop-color="#58b294"/><stop offset="0.8" stop-color="#4a7fc0"/><stop offset="1" stop-color="#414f9e"/></linearGradient></defs>
<rect x="1694.00" y="980.20" width="11.00" height="55.50" fill="url(#gJ0)"/>
<text x="1708.8" y="983.1" font-size="7.2" font-weight="bold" style="fill:#000;stroke:#000">3</text>
<line x1="1694.00" y1="980.80" x2="1696.00" y2="980.80" stroke="#fff" stroke-width="0.8"/>
<line x1="1703.00" y1="980.80" x2="1705.00" y2="980.80" stroke="#fff" stroke-width="0.8"/>
<text x="1708.8" y="1001.6" font-size="7.2" font-weight="bold" style="fill:#000;stroke:#000">2</text>
<line x1="1694.00" y1="999.30" x2="1696.00" y2="999.30" stroke="#fff" stroke-width="0.8"/>
<line x1="1703.00" y1="999.30" x2="1705.00" y2="999.30" stroke="#fff" stroke-width="0.8"/>
<text x="1708.8" y="1019.6" font-size="7.2" font-weight="bold" style="fill:#000;stroke:#000">1</text>
<line x1="1694.00" y1="1017.30" x2="1696.00" y2="1017.30" stroke="#fff" stroke-width="0.8"/>
<line x1="1703.00" y1="1017.30" x2="1705.00" y2="1017.30" stroke="#fff" stroke-width="0.8"/>
<rect x="1723.70" y="979.70" width="239.60" height="253.70" fill="#fff"/>
<line x1="1738.22" y1="979.70" x2="1738.22" y2="1233.40" stroke="#eeeeee" stroke-width="0.8"/>
<line x1="1789.97" y1="979.70" x2="1789.97" y2="1233.40" stroke="#eeeeee" stroke-width="0.8"/>
<line x1="1841.72" y1="979.70" x2="1841.72" y2="1233.40" stroke="#eeeeee" stroke-width="0.8"/>
<line x1="1893.47" y1="979.70" x2="1893.47" y2="1233.40" stroke="#eeeeee" stroke-width="0.8"/>
<line x1="1945.22" y1="979.70" x2="1945.22" y2="1233.40" stroke="#eeeeee" stroke-width="0.8"/>
<line x1="1723.70" y1="1007.58" x2="1963.30" y2="1007.58" stroke="#eeeeee" stroke-width="0.8"/>
<line x1="1723.70" y1="1061.23" x2="1963.30" y2="1061.23" stroke="#eeeeee" stroke-width="0.8"/>
<line x1="1723.70" y1="1114.88" x2="1963.30" y2="1114.88" stroke="#eeeeee" stroke-width="0.8"/>
<line x1="1723.70" y1="1168.53" x2="1963.30" y2="1168.53" stroke="#eeeeee" stroke-width="0.8"/>
<line x1="1723.70" y1="1222.17" x2="1963.30" y2="1222.17" stroke="#eeeeee" stroke-width="0.8"/>
<line x1="1764.10" y1="979.70" x2="1764.10" y2="1233.40" stroke="#e2e2e2" stroke-width="1.2"/>
<line x1="1815.85" y1="979.70" x2="1815.85" y2="1233.40" stroke="#e2e2e2" stroke-width="1.2"/>
<line x1="1867.60" y1="979.70" x2="1867.60" y2="1233.40" stroke="#e2e2e2" stroke-width="1.2"/>
<line x1="1919.35" y1="979.70" x2="1919.35" y2="1233.40" stroke="#e2e2e2" stroke-width="1.2"/>
<line x1="1723.70" y1="1034.40" x2="1963.30" y2="1034.40" stroke="#e2e2e2" stroke-width="1.2"/>
<line x1="1723.70" y1="1088.05" x2="1963.30" y2="1088.05" stroke="#e2e2e2" stroke-width="1.2"/>
<line x1="1723.70" y1="1141.70" x2="1963.30" y2="1141.70" stroke="#e2e2e2" stroke-width="1.2"/>
<line x1="1723.70" y1="1195.35" x2="1963.30" y2="1195.35" stroke="#e2e2e2" stroke-width="1.2"/>
<g filter="url(#rough3)">
<path d="M1933.1 993.6C1933.5 992.6 1934.7 991.2 1935.5 990.9C1936.3 990.6 1937.5 990.3 1937.9 991.8C1938.4 993.3 1938.5 998.0 1938.2 999.9C1938.0 1001.8 1937.0 1002.9 1936.3 1003.2C1935.6 1003.5 1934.5 1002.8 1933.9 1001.8C1933.3 1000.8 1932.9 998.6 1932.8 997.2C1932.6 995.9 1932.6 994.7 1933.1 993.6Z" fill="#414893" stroke="#414893" stroke-width="2.2" stroke-linejoin="round"/>
<path d="M1881.3 1054.3C1882.1 1052.8 1885.1 1049.6 1886.2 1049.7C1887.3 1049.9 1887.0 1054.1 1887.8 1055.2C1888.6 1056.3 1891.2 1055.7 1891.0 1056.4C1890.9 1057.2 1888.2 1058.8 1887.0 1059.7C1885.8 1060.5 1884.6 1061.7 1883.8 1061.5C1882.9 1061.4 1882.1 1060.0 1881.6 1058.8C1881.2 1057.6 1880.6 1055.8 1881.3 1054.3Z" fill="#414893" stroke="#414893" stroke-width="2.2" stroke-linejoin="round"/>
<path d="M1734.2 1082.9C1736.2 1083.1 1743.1 1085.0 1747.1 1085.4C1751.1 1085.8 1754.6 1084.8 1758.4 1085.0C1762.2 1085.3 1765.2 1086.5 1769.7 1086.9C1774.3 1087.2 1782.7 1086.3 1785.9 1087.2C1789.1 1088.1 1790.2 1091.0 1789.1 1092.3C1788.1 1093.6 1782.1 1094.1 1779.4 1095.0C1776.7 1095.9 1774.9 1096.4 1773.0 1097.7C1771.1 1099.1 1769.7 1102.4 1768.1 1103.1C1766.5 1103.9 1764.9 1103.4 1763.3 1102.2C1761.7 1101.0 1760.3 1097.9 1758.4 1095.9C1756.5 1093.9 1754.4 1091.8 1752.0 1090.5C1749.5 1089.1 1746.7 1088.8 1743.9 1087.8C1741.0 1086.7 1736.6 1085.0 1735.0 1084.1C1733.4 1083.3 1732.1 1082.7 1734.2 1082.9Z" fill="#5a9bd5" stroke="#5a9bd5" stroke-width="2.2" stroke-linejoin="round"/>
<path d="M1786.7 1087.8C1787.8 1086.6 1792.8 1085.9 1795.6 1085.4C1798.4 1085.0 1801.0 1084.8 1803.7 1085.0C1806.4 1085.3 1810.7 1085.6 1811.8 1086.9C1812.9 1088.1 1811.5 1090.9 1810.2 1092.3C1808.8 1093.6 1805.6 1094.1 1803.7 1095.0C1801.8 1095.9 1800.5 1097.7 1798.8 1097.7C1797.2 1097.7 1795.6 1095.9 1794.0 1095.0C1792.4 1094.1 1790.4 1093.5 1789.1 1092.3C1787.9 1091.1 1785.6 1088.9 1786.7 1087.8Z" fill="#414893" stroke="#414893" stroke-width="2.2" stroke-linejoin="round"/>
<path d="M1768.1 1103.1C1767.9 1101.5 1771.1 1099.1 1773.0 1097.7C1774.9 1096.4 1776.7 1095.8 1779.4 1095.0C1782.1 1094.2 1786.7 1093.1 1789.1 1093.2C1791.6 1093.3 1792.4 1094.7 1794.0 1095.5C1795.6 1096.4 1797.2 1097.4 1798.8 1098.1C1800.5 1098.7 1802.6 1097.8 1803.7 1099.5C1804.8 1101.3 1804.0 1106.2 1805.3 1108.6C1806.7 1111.0 1812.3 1113.0 1811.8 1114.0C1811.2 1115.1 1805.3 1114.9 1802.1 1114.9C1798.8 1114.9 1795.6 1114.6 1792.4 1114.0C1789.1 1113.4 1785.6 1112.4 1782.7 1111.3C1779.7 1110.2 1777.0 1109.0 1774.6 1107.7C1772.2 1106.3 1768.4 1104.8 1768.1 1103.1Z" fill="#414893" stroke="#414893" stroke-width="2.2" stroke-linejoin="round"/>
<path d="M1803.7 1095.0C1805.0 1092.9 1809.4 1087.8 1811.8 1086.9C1814.2 1085.9 1816.2 1088.1 1818.3 1089.6C1820.3 1091.1 1822.4 1093.3 1823.9 1095.9C1825.4 1098.5 1826.7 1102.5 1827.1 1105.0C1827.6 1107.4 1827.8 1109.0 1826.3 1110.4C1824.9 1111.7 1820.7 1112.5 1818.3 1113.1C1815.8 1113.7 1813.9 1114.8 1811.8 1114.0C1809.6 1113.3 1806.7 1111.0 1805.3 1108.6C1804.0 1106.2 1804.0 1101.8 1803.7 1099.5C1803.4 1097.3 1802.4 1097.1 1803.7 1095.0Z" fill="#414893" stroke="#414893" stroke-width="2.2" stroke-linejoin="round"/>
<path d="M1860.0 1155.3C1860.0 1154.4 1861.5 1155.2 1862.7 1156.0C1864.0 1156.8 1866.4 1158.6 1867.6 1160.2C1868.8 1161.8 1870.1 1164.9 1870.0 1165.6C1869.9 1166.4 1868.0 1165.5 1866.8 1164.7C1865.6 1164.0 1863.9 1162.7 1862.7 1161.1C1861.6 1159.5 1860.0 1156.1 1860.0 1155.3Z" fill="#414893" stroke="#414893" stroke-width="2.2" stroke-linejoin="round"/>
<path d="M1829.6 1193.7C1830.8 1191.0 1834.7 1184.6 1837.7 1181.0C1840.6 1177.4 1844.3 1173.5 1847.4 1171.9C1850.5 1170.4 1854.1 1171.3 1856.3 1171.9C1858.4 1172.6 1860.6 1173.5 1860.3 1175.6C1860.0 1177.7 1856.3 1181.9 1854.6 1184.6C1853.0 1187.3 1852.4 1189.8 1850.6 1191.9C1848.8 1194.0 1846.6 1196.1 1844.1 1197.3C1841.7 1198.4 1838.3 1198.7 1836.0 1198.7C1833.8 1198.7 1831.5 1198.1 1830.4 1197.3C1829.3 1196.4 1828.4 1196.4 1829.6 1193.7Z" fill="#414893" stroke="#414893" stroke-width="2.2" stroke-linejoin="round"/>
<path d="M1852.2 1190.1C1852.8 1188.5 1854.2 1184.6 1856.3 1183.7C1858.3 1182.8 1863.1 1183.9 1864.3 1184.6C1865.6 1185.4 1864.6 1186.9 1863.5 1188.2C1862.5 1189.6 1859.6 1192.0 1857.9 1192.8C1856.1 1193.5 1854.0 1193.2 1853.0 1192.8C1852.1 1192.3 1851.7 1191.6 1852.2 1190.1Z" fill="#414893" stroke="#414893" stroke-width="2.2" stroke-linejoin="round"/>
<path d="M1882.1 1139.0C1882.1 1137.9 1884.0 1140.2 1886.2 1140.3C1888.3 1140.3 1893.3 1141.0 1895.1 1139.4C1896.8 1137.7 1895.9 1132.0 1896.7 1130.3C1897.5 1128.6 1899.2 1128.2 1899.9 1129.4C1900.6 1130.6 1899.8 1135.0 1900.7 1137.5C1901.7 1140.1 1904.2 1142.1 1905.6 1144.8C1906.9 1147.5 1908.8 1151.4 1908.8 1153.8C1908.8 1156.3 1908.3 1158.2 1905.6 1159.3C1902.9 1160.3 1895.9 1160.8 1892.6 1160.2C1889.4 1159.6 1887.3 1157.9 1886.2 1155.7C1885.1 1153.4 1886.8 1149.4 1886.2 1146.6C1885.5 1143.8 1882.1 1140.1 1882.1 1139.0Z" fill="#414893" stroke="#414893" stroke-width="2.2" stroke-linejoin="round"/>
<path d="M1906.4 1144.8C1907.7 1142.7 1912.2 1142.7 1915.3 1141.2C1918.4 1139.7 1923.8 1138.0 1925.0 1135.7C1926.2 1133.5 1922.6 1129.1 1922.6 1127.6C1922.6 1126.1 1924.0 1125.5 1925.0 1126.7C1925.9 1127.9 1926.3 1133.9 1928.2 1134.8C1930.1 1135.7 1934.4 1133.0 1936.3 1132.1C1938.2 1131.2 1938.5 1129.6 1939.5 1129.4C1940.6 1129.2 1943.0 1129.9 1942.8 1131.2C1942.5 1132.6 1939.8 1135.0 1937.9 1137.5C1936.0 1140.1 1933.6 1143.3 1931.5 1146.6C1929.3 1149.9 1927.4 1155.0 1925.0 1157.5C1922.6 1159.9 1918.0 1159.0 1916.9 1161.1C1915.8 1163.2 1918.8 1168.9 1918.5 1170.1C1918.2 1171.3 1916.6 1170.4 1915.3 1168.3C1913.9 1166.2 1911.8 1159.9 1910.4 1157.5C1909.1 1155.0 1907.9 1156.0 1907.2 1153.8C1906.5 1151.7 1905.0 1146.9 1906.4 1144.8Z" fill="#414893" stroke="#414893" stroke-width="2.2" stroke-linejoin="round"/>
<path d="M1887.0 1157.5C1888.1 1156.6 1891.4 1159.3 1892.6 1161.1C1893.9 1162.9 1893.5 1165.9 1894.3 1168.3C1895.1 1170.7 1895.3 1173.2 1897.5 1175.6C1899.7 1178.0 1905.3 1180.4 1907.2 1182.8C1909.1 1185.2 1909.6 1190.1 1908.8 1190.1C1908.0 1190.1 1904.5 1184.6 1902.3 1182.8C1900.2 1181.0 1898.0 1180.7 1895.9 1179.2C1893.7 1177.7 1891.0 1175.9 1889.4 1173.8C1887.8 1171.6 1886.6 1169.2 1886.2 1166.5C1885.8 1163.8 1885.9 1158.4 1887.0 1157.5Z" fill="#414893" stroke="#414893" stroke-width="2.2" stroke-linejoin="round"/>
<path d="M1916.9 1171.9C1917.3 1169.8 1919.6 1168.9 1920.9 1170.1C1922.3 1171.3 1923.8 1175.9 1925.0 1179.2C1926.2 1182.5 1927.8 1187.5 1928.2 1190.1C1928.6 1192.6 1928.2 1194.6 1927.4 1194.6C1926.6 1194.6 1924.9 1192.0 1923.4 1190.1C1921.9 1188.1 1919.6 1185.8 1918.5 1182.8C1917.4 1179.8 1916.5 1174.1 1916.9 1171.9Z" fill="#414893" stroke="#414893" stroke-width="2.2" stroke-linejoin="round"/>
<path d="M1907.2 1184.6C1908.4 1183.4 1912.3 1184.9 1915.3 1186.4C1918.2 1187.9 1922.0 1191.3 1925.0 1193.7C1928.0 1196.1 1930.9 1198.7 1933.1 1200.9C1935.2 1203.2 1937.7 1205.6 1937.9 1207.3C1938.2 1208.9 1936.8 1211.0 1934.7 1210.9C1932.5 1210.7 1928.2 1208.3 1925.0 1206.3C1921.8 1204.4 1918.1 1201.2 1915.3 1199.1C1912.5 1197.0 1909.4 1196.1 1908.0 1193.7C1906.7 1191.3 1906.0 1185.8 1907.2 1184.6Z" fill="#414893" stroke="#414893" stroke-width="2.2" stroke-linejoin="round"/>
<path d="M1895.1 1207.3C1895.6 1205.3 1897.5 1202.4 1899.1 1200.9C1900.7 1199.4 1903.6 1197.0 1904.8 1198.2C1906.0 1199.4 1905.7 1205.0 1906.4 1208.2C1907.1 1211.3 1908.7 1215.1 1908.8 1217.2C1909.0 1219.3 1908.5 1220.8 1907.2 1220.8C1905.9 1220.8 1902.6 1218.6 1900.7 1217.2C1898.8 1215.9 1896.8 1214.3 1895.9 1212.7C1894.9 1211.0 1894.5 1209.2 1895.1 1207.3Z" fill="#414893" stroke="#414893" stroke-width="2.2" stroke-linejoin="round"/>
<path d="M1906.4 1219.9C1907.2 1219.5 1911.2 1219.5 1912.1 1219.9C1912.9 1220.3 1912.1 1221.9 1911.2 1222.3C1910.4 1222.7 1908.0 1222.7 1907.2 1222.3C1906.4 1221.9 1905.6 1220.3 1906.4 1219.9Z" fill="#414893" stroke="#414893" stroke-width="2.2" stroke-linejoin="round"/>
<path d="M1948.4 1165.2C1949.1 1164.7 1952.1 1163.4 1952.8 1163.4C1953.5 1163.4 1953.4 1164.7 1952.8 1165.2C1952.2 1165.8 1949.6 1166.5 1948.9 1166.5C1948.2 1166.5 1947.8 1165.8 1948.4 1165.2Z" fill="#414893" stroke="#414893" stroke-width="2.2" stroke-linejoin="round"/>
<path d="M1905.6 1153.8C1909.1 1153.5 1911.2 1156.3 1913.7 1159.3C1916.1 1162.3 1919.6 1167.1 1920.1 1171.9C1920.7 1176.8 1919.1 1185.8 1916.9 1188.2C1914.7 1190.7 1910.4 1188.2 1907.2 1186.4C1904.0 1184.6 1899.9 1181.6 1897.5 1177.4C1895.1 1173.2 1891.3 1165.0 1892.6 1161.1C1894.0 1157.2 1902.1 1154.1 1905.6 1153.8Z" fill="#414893" stroke="#414893" stroke-width="1.5"/>
<path d="M1904.0 1197.3C1905.0 1194.3 1911.5 1194.9 1913.7 1197.3C1915.8 1199.7 1918.0 1208.8 1916.9 1211.8C1915.8 1214.8 1909.4 1217.8 1907.2 1215.4C1905.0 1213.0 1902.9 1200.3 1904.0 1197.3Z" fill="#414893" stroke="#414893" stroke-width="1.5"/>
<path d="M1832.0 1116.7C1832.4 1116.4 1834.6 1118.4 1836.0 1117.6C1837.5 1116.9 1839.5 1113.1 1840.9 1112.2C1842.2 1111.3 1844.1 1111.4 1844.1 1112.2C1844.1 1113.0 1841.0 1114.9 1840.9 1116.7C1840.8 1118.5 1843.6 1122.3 1843.3 1123.1C1843.1 1123.8 1840.9 1121.9 1839.3 1121.3C1837.7 1120.6 1834.8 1120.2 1833.6 1119.4C1832.4 1118.7 1831.6 1117.0 1832.0 1116.7Z" fill="#414893" stroke="#414893" stroke-width="1.5"/>
<path d="M1857.9 1170.1C1858.4 1168.3 1862.3 1166.2 1863.5 1166.5C1864.7 1166.8 1865.7 1170.1 1865.2 1171.9C1864.6 1173.8 1861.5 1177.7 1860.3 1177.4C1859.1 1177.1 1857.3 1171.9 1857.9 1170.1Z" fill="#414893" stroke="#414893" stroke-width="1.5"/>
<circle cx="1898.30" cy="1169.23" r="1.53" fill="#fff"/>
<circle cx="1902.67" cy="1174.66" r="1.36" fill="#fff"/>
<circle cx="1908.82" cy="1178.28" r="1.19" fill="#fff"/>
<circle cx="1912.05" cy="1190.05" r="1.36" fill="#fff"/>
<circle cx="1902.35" cy="1164.71" r="1.02" fill="#fff"/>
<path d="M1733.4 1082.0C1734.1 1081.7 1738.1 1082.3 1739.0 1082.9C1739.9 1083.4 1739.4 1085.1 1738.7 1085.4C1737.9 1085.7 1735.4 1085.3 1734.5 1084.7C1733.6 1084.1 1732.6 1082.3 1733.4 1082.0Z" fill="#f0c040" stroke="#f0c040" stroke-width="1.5"/>
<path d="M1733.0 1081.8C1733.4 1081.5 1735.1 1081.8 1735.5 1082.1C1735.8 1082.5 1735.5 1083.7 1735.1 1084.0C1734.8 1084.2 1733.9 1084.0 1733.5 1083.6C1733.2 1083.2 1732.7 1082.0 1733.0 1081.8Z" fill="#e8703a" stroke="#e8703a" stroke-width="1.2"/>
<path d="M1785.9 1087.2C1788.1 1088.0 1789.7 1090.5 1789.1 1092.3C1788.6 1094.0 1784.3 1095.6 1782.7 1097.7C1781.1 1099.8 1779.4 1102.7 1779.4 1105.0C1779.4 1107.2 1783.5 1110.8 1782.7 1111.3C1781.9 1111.7 1777.0 1109.0 1774.6 1107.7C1772.2 1106.3 1770.0 1104.1 1768.1 1103.1C1766.2 1102.2 1763.5 1104.1 1763.3 1102.2C1763.0 1100.4 1764.4 1094.7 1766.5 1092.3C1768.7 1089.9 1773.0 1088.6 1776.2 1087.8C1779.4 1086.9 1783.8 1086.5 1785.9 1087.2Z" fill="#5a9bd5" stroke="#5a9bd5" stroke-width="2"/>
<path d="M1829.3 1194.0C1829.9 1192.0 1832.8 1187.8 1834.4 1185.5C1836.1 1183.2 1838.1 1180.2 1839.3 1180.1C1840.5 1179.9 1841.4 1182.4 1841.7 1184.6C1842.0 1186.9 1841.8 1191.3 1840.9 1193.7C1840.0 1196.0 1837.8 1198.1 1836.0 1198.7C1834.3 1199.4 1831.5 1198.4 1830.4 1197.7C1829.3 1196.9 1828.6 1196.1 1829.3 1194.0Z" fill="#5a9bd5" stroke="#5a9bd5" stroke-width="1.5"/>
</g>
<circle cx="1779.44" cy="1099.53" r="1.20" fill="#fff"/>
<circle cx="1782.68" cy="1097.72" r="1.00" fill="#fff"/>
<circle cx="1778.64" cy="1110.39" r="1.00" fill="#fff"/>
<circle cx="1772.17" cy="1098.62" r="0.80" fill="#fff"/>
<circle cx="1797.23" cy="1094.09" r="0.80" fill="#fff"/>
<rect x="1723.7" y="979.7" width="239.6" height="253.7" fill="none" stroke="#444" stroke-width="1.1"/>
<line x1="1764.10" y1="1233.40" x2="1764.10" y2="1235.40" stroke="#444" stroke-width="0.9"/>
<text x="1764.1" y="1251.8" font-size="18.3" text-anchor="middle">−10</text>
<line x1="1815.85" y1="1233.40" x2="1815.85" y2="1235.40" stroke="#444" stroke-width="0.9"/>
<text x="1815.8" y="1251.8" font-size="18.3" text-anchor="middle">−5</text>
<line x1="1867.60" y1="1233.40" x2="1867.60" y2="1235.40" stroke="#444" stroke-width="0.9"/>
<text x="1867.6" y="1251.8" font-size="18.3" text-anchor="middle">0</text>
<line x1="1919.35" y1="1233.40" x2="1919.35" y2="1235.40" stroke="#444" stroke-width="0.9"/>
<text x="1919.3" y="1251.8" font-size="18.3" text-anchor="middle">5</text>
<line x1="1721.70" y1="980.75" x2="1723.70" y2="980.75" stroke="#444" stroke-width="0.9"/>
<line x1="1721.70" y1="1034.40" x2="1723.70" y2="1034.40" stroke="#444" stroke-width="0.9"/>
<line x1="1721.70" y1="1088.05" x2="1723.70" y2="1088.05" stroke="#444" stroke-width="0.9"/>
<line x1="1721.70" y1="1141.70" x2="1723.70" y2="1141.70" stroke="#444" stroke-width="0.9"/>
<line x1="1721.70" y1="1195.35" x2="1723.70" y2="1195.35" stroke="#444" stroke-width="0.9"/>
<text x="1734.2" y="1007.0" font-size="23" font-style="italic" style="fill:#000;stroke:#000">PADI4</text>
<defs><linearGradient id="gJ1" x1="0" y1="0" x2="0" y2="1"><stop offset="0" stop-color="#8c2a1f"/><stop offset="0.12" stop-color="#e0663a"/><stop offset="0.28" stop-color="#f0a030"/><stop offset="0.4" stop-color="#f2d24a"/><stop offset="0.52" stop-color="#c5d46a"/><stop offset="0.66" stop-color="#58b294"/><stop offset="0.8" stop-color="#4a7fc0"/><stop offset="1" stop-color="#414f9e"/></linearGradient></defs>
<rect x="1968.70" y="980.20" width="11.00" height="55.50" fill="url(#gJ1)"/>
<text x="1983.5" y="983.1" font-size="7.2" font-weight="bold" style="fill:#000;stroke:#000">4</text>
<line x1="1968.70" y1="980.80" x2="1970.70" y2="980.80" stroke="#fff" stroke-width="0.8"/>
<line x1="1977.70" y1="980.80" x2="1979.70" y2="980.80" stroke="#fff" stroke-width="0.8"/>
<text x="1983.5" y="996.1" font-size="7.2" font-weight="bold" style="fill:#000;stroke:#000">3</text>
<line x1="1968.70" y1="993.80" x2="1970.70" y2="993.80" stroke="#fff" stroke-width="0.8"/>
<line x1="1977.70" y1="993.80" x2="1979.70" y2="993.80" stroke="#fff" stroke-width="0.8"/>
<text x="1983.5" y="1023.1" font-size="7.2" font-weight="bold" style="fill:#000;stroke:#000">1</text>
<line x1="1968.70" y1="1020.80" x2="1970.70" y2="1020.80" stroke="#fff" stroke-width="0.8"/>
<line x1="1977.70" y1="1020.80" x2="1979.70" y2="1020.80" stroke="#fff" stroke-width="0.8"/>
<text x="1457.7" y="1063.2" font-size="20.3">Neutrophils</text>
<text x="1743.3" y="1066.6" font-size="20.3">Neutrophils</text>
<path d="M1351.6 1219V1244H1374" fill="none" stroke="#231f20" stroke-width="1.3"/>
<path d="M1348.3 1220.5L1351.6 1213.5L1354.9 1220.5Z" fill="#231f20"/><path d="M1373 1240.7L1380 1244L1373 1247.3Z" fill="#231f20"/>
<text x="1381.2" y="1251.8" font-size="19.3">UMAP 1</text>
<text x="1359.5" y="1212.5" font-size="19.3" transform="rotate(-90 1359.5 1212.5)">UMAP 2</text>
</g>
<g id="pK">
<text x="1333.5" y="1304.5" font-size="41" font-weight="bold">K</text>
<defs><filter id="blK" x="-30%" y="-30%" width="160%" height="160%"><feGaussianBlur stdDeviation="6"/></filter><filter id="blC" x="-30%" y="-30%" width="160%" height="160%"><feGaussianBlur stdDeviation="0.55"/></filter></defs>
<text x="1677.7" y="1293.0" font-size="23.5" text-anchor="middle" style="fill:#000;stroke:#000">Omentum with metastasis</text>
<line x1="1523.00" y1="1298.30" x2="1830.00" y2="1298.30" stroke="#231f20" stroke-width="1.3"/>
<text x="1522.0" y="1321.2" font-size="23.5" text-anchor="middle" style="fill:#000;stroke:#000">P10 Distant</text>
<text x="1852.8" y="1321.2" font-size="23.5" text-anchor="middle" style="fill:#000;stroke:#000">P14 Distant</text>
<line x1="1362.50" y1="1324.20" x2="1670.00" y2="1324.20" stroke="#231f20" stroke-width="1.3"/>
<line x1="1683.00" y1="1324.20" x2="1990.00" y2="1324.20" stroke="#231f20" stroke-width="1.3"/>
<text x="1353.5" y="1394.3" font-size="20.5" text-anchor="middle" style="fill:#000;stroke:#000" transform="rotate(-90 1353.5 1394.3)">Merged</text>
<text x="1353.5" y="1552.4" font-size="20.5" text-anchor="middle" style="fill:#4caf50;stroke:#4caf50" transform="rotate(-90 1353.5 1552.4)">MPO</text>
<text x="1353.5" y="1710.5" font-size="20.5" text-anchor="middle" style="fill:#e3c62f;stroke:#e3c62f" transform="rotate(-90 1353.5 1710.5)">CIT</text>
<rect x="1361.30" y="1328.10" width="152.40" height="151.60" fill="#000"/>
<clipPath id="ck1361_1328"><rect x="1361.3" y="1328.1" width="152.4" height="151.6"/></clipPath>
<g clip-path="url(#ck1361_1328)">
<g filter="url(#blC)">
<ellipse cx="1377.9" cy="1347.9" rx="4.9" ry="2.9" fill="#5a6ad8"/>
<ellipse cx="1395.7" cy="1342.7" rx="4.9" ry="2" fill="#353a8a" opacity="0.8"/>
<ellipse cx="1425.8" cy="1346.8" rx="8.1" ry="3.4" fill="#e8e040" transform="rotate(25 1425.8 1346.8)"/>
<ellipse cx="1425.8" cy="1346.8" rx="4.455" ry="1.7" fill="#ffffd0" transform="rotate(25 1425.8 1346.8)"/>
<ellipse cx="1469.7" cy="1347.3" rx="3.6" ry="2.4" fill="#5a6ad8"/>
<ellipse cx="1454.3" cy="1356.5" rx="6" ry="4.6" fill="#5a6ad8" transform="rotate(-20 1454.3 1356.5)"/>
<ellipse cx="1455.8" cy="1355.0" rx="3.5999999999999996" ry="2.76" fill="#40c060" transform="rotate(-20 1455.8 1355.0)"/>
<ellipse cx="1437.2" cy="1368.4" rx="3.4" ry="2.7" fill="#35b055"/>
<ellipse cx="1445.2" cy="1419.1" rx="2.9" ry="3.4" fill="#5a6ad8" transform="rotate(15 1445.2 1419.1)"/>
<ellipse cx="1443.7" cy="1425.6" rx="2.4" ry="3.6" fill="#5a6ad8" transform="rotate(10 1443.7 1425.6)"/>
<ellipse cx="1507.9" cy="1425.6" rx="2.9" ry="4.1" fill="#5a6ad8"/>
<ellipse cx="1503.8" cy="1441.1" rx="3.4" ry="7.3" fill="#5a6ad8" transform="rotate(-20 1503.8 1441.1)"/>
<ellipse cx="1509.8" cy="1451.1" rx="2.2" ry="8" fill="#e8e040" transform="rotate(-15 1509.8 1451.1)"/>
<ellipse cx="1379.8" cy="1389.1" rx="1.3" ry="3.6" fill="#353a8a" transform="rotate(10 1379.8 1389.1)" opacity="0.8"/>
<ellipse cx="1373.3" cy="1348.1" rx="4" ry="2" fill="#35b055" transform="rotate(-10 1373.3 1348.1)"/>
</g></g>
<rect x="1521.10" y="1328.10" width="152.40" height="151.60" fill="#000"/>
<clipPath id="ck1521_1328"><rect x="1521.1" y="1328.1" width="152.4" height="151.6"/></clipPath>
<g clip-path="url(#ck1521_1328)">
<path d="M0 110L40 95L100 125L110 152L0 152Z" transform="translate(1521.1,1328.1)" fill="#0c1a12" filter="url(#blK)" opacity="0.8"/>
<path d="M51.7 3L52.5 54L48.4 105" transform="translate(1521.1,1328.1)" fill="none" stroke="#2c8a35" stroke-width="0.8" opacity="0.8"/>
<path d="M133 2L136 41L152 54" transform="translate(1521.1,1328.1)" fill="none" stroke="#2c8a35" stroke-width="0.8" opacity="0.8"/>
<path d="M61 45L68 37L94 39L110 41" transform="translate(1521.1,1328.1)" fill="none" stroke="#2c8a35" stroke-width="0.8" opacity="0.8"/>
<path d="M82.5 60L97 65L102 97L94 130" transform="translate(1521.1,1328.1)" fill="none" stroke="#2c8a35" stroke-width="0.8" opacity="0.8"/>
<path d="M136 42L123 47" transform="translate(1521.1,1328.1)" fill="none" stroke="#2c8a35" stroke-width="0.8" opacity="0.8"/>
<path d="M48 105L55 110" transform="translate(1521.1,1328.1)" fill="none" stroke="#2c8a35" stroke-width="0.8" opacity="0.8"/>
<path d="M100 130L60 125L30 135" transform="translate(1521.1,1328.1)" fill="none" stroke="#2c8a35" stroke-width="0.8" opacity="0.8"/>
<path d="M33 48.7L48.4 61.7" transform="translate(1521.1,1328.1)" fill="none" stroke="#e8e040" stroke-width="1"/>
<g filter="url(#blC)">
<ellipse cx="1601.2" cy="1339.8" rx="3" ry="1.5" fill="#e8e040" transform="rotate(20 1601.2 1339.8)"/>
<ellipse cx="1601.2" cy="1339.8" rx="1.6500000000000001" ry="0.75" fill="#ffffd0" transform="rotate(20 1601.2 1339.8)"/>
<ellipse cx="1627.2" cy="1344.3" rx="3" ry="2.6" fill="#5a6ad8"/>
<ellipse cx="1634.5" cy="1382.5" rx="7" ry="3.3" fill="#e8e040" transform="rotate(-20 1634.5 1382.5)"/>
<ellipse cx="1634.5" cy="1382.5" rx="3.8500000000000005" ry="1.65" fill="#ffffd0" transform="rotate(-20 1634.5 1382.5)"/>
<ellipse cx="1643.9" cy="1378.8" rx="3.6" ry="3.8" fill="#5a6ad8"/>
<ellipse cx="1574.4" cy="1388.2" rx="5" ry="2.6" fill="#e8e040" transform="rotate(-40 1574.4 1388.2)"/>
<ellipse cx="1574.4" cy="1388.2" rx="2.75" ry="1.3" fill="#ffffd0" transform="rotate(-40 1574.4 1388.2)"/>
<ellipse cx="1571.1" cy="1395.1" rx="3.3" ry="3.5" fill="#5a6ad8"/>
<ellipse cx="1622.3" cy="1408.5" rx="1.7" ry="4" fill="#e8e040"/>
<ellipse cx="1622.3" cy="1408.5" rx="0.935" ry="2.0" fill="#ffffd0"/>
<ellipse cx="1563.8" cy="1432.9" rx="6" ry="2.4" fill="#e8e040" transform="rotate(20 1563.8 1432.9)"/>
<ellipse cx="1563.8" cy="1432.9" rx="3.3000000000000003" ry="1.2" fill="#ffffd0" transform="rotate(20 1563.8 1432.9)"/>
<ellipse cx="1543.5" cy="1441.1" rx="15" ry="11" fill="#2f5a2a" transform="rotate(20 1543.5 1441.1)" opacity="0.8"/>
<ellipse cx="1542.1" cy="1438.1" rx="7" ry="5" fill="#5a6ad8" transform="rotate(20 1542.1 1438.1)"/>
<ellipse cx="1545.1" cy="1448.1" rx="5" ry="3.5" fill="#5a6ad8"/>
<ellipse cx="1584.1" cy="1452.4" rx="8" ry="3.8" fill="#e8e040" transform="rotate(25 1584.1 1452.4)"/>
<ellipse cx="1584.1" cy="1452.4" rx="4.4" ry="1.9" fill="#ffffd0" transform="rotate(25 1584.1 1452.4)"/>
<ellipse cx="1582.5" cy="1466.1" rx="5" ry="2.6" fill="#e8e040" transform="rotate(30 1582.5 1466.1)"/>
<ellipse cx="1582.5" cy="1466.1" rx="2.75" ry="1.3" fill="#ffffd0" transform="rotate(30 1582.5 1466.1)"/>
<ellipse cx="1598.0" cy="1466.1" rx="4" ry="2.3" fill="#e8e040" transform="rotate(30 1598.0 1466.1)"/>
<ellipse cx="1598.0" cy="1466.1" rx="2.2" ry="1.15" fill="#ffffd0" transform="rotate(30 1598.0 1466.1)"/>
<ellipse cx="1653.7" cy="1430.5" rx="3.6" ry="3.6" fill="#5a6ad8"/>
<ellipse cx="1638.6" cy="1454.1" rx="4" ry="3" fill="#5a6ad8" transform="rotate(20 1638.6 1454.1)"/>
<ellipse cx="1624.8" cy="1478.1" rx="3.5" ry="3" fill="#5a6ad8"/>
<ellipse cx="1633.1" cy="1478.1" rx="3" ry="2.5" fill="#5a6ad8"/>
<ellipse cx="1576.1" cy="1458.1" rx="4" ry="4" fill="#353a8a" opacity="0.8"/>
</g></g>
<rect x="1682.00" y="1328.10" width="152.40" height="151.60" fill="#000"/>
<clipPath id="ck1682_1328"><rect x="1682.0" y="1328.1" width="152.4" height="151.6"/></clipPath>
<g clip-path="url(#ck1682_1328)">
<path d="M105 60L150 50L152 150L120 140L100 110L115 90Z" transform="translate(1682.0,1328.1)" fill="#07202c" filter="url(#blK)" opacity="0.8"/>
<path d="M0 125L15 122L20 150L0 150Z" transform="translate(1682.0,1328.1)" fill="#0a2a12" filter="url(#blK)" opacity="0.8"/>
<path d="M40 25L70 20L75 45L45 45Z" transform="translate(1682.0,1328.1)" fill="#06141f" filter="url(#blK)" opacity="0.8"/>
<path d="M0 52L40 30L70 32" transform="translate(1682.0,1328.1)" fill="none" stroke="#2c8a35" stroke-width="0.8" opacity="0.4"/>
<path d="M55 85L80 120L110 135L150 150" transform="translate(1682.0,1328.1)" fill="none" stroke="#2c8a35" stroke-width="0.8" opacity="0.4"/>
<path d="M100 72L95 100L110 60L130 70L150 55" transform="translate(1682.0,1328.1)" fill="none" stroke="#2c8a35" stroke-width="0.8" opacity="0.4"/>
<path d="M120 110L150 120" transform="translate(1682.0,1328.1)" fill="none" stroke="#2c8a35" stroke-width="0.8" opacity="0.4"/>
<path d="M0 130L15 125L5 150" transform="translate(1682.0,1328.1)" fill="none" stroke="#2c8a35" stroke-width="0.8" opacity="0.4"/>
<g filter="url(#blC)">
<ellipse cx="1733.5" cy="1342.7" rx="4.2" ry="4.2" fill="#353a8a" opacity="0.8"/>
<ellipse cx="1703.4" cy="1346.8" rx="4" ry="4" fill="#353a8a" opacity="0.8"/>
<ellipse cx="1684.8" cy="1357.3" rx="4" ry="2.5" fill="#5a6ad8" transform="rotate(10 1684.8 1357.3)"/>
<ellipse cx="1742.9" cy="1363.8" rx="3" ry="5" fill="#5a6ad8" transform="rotate(5 1742.9 1363.8)"/>
<ellipse cx="1731.1" cy="1389.8" rx="3" ry="4.5" fill="#5a6ad8" transform="rotate(10 1731.1 1389.8)"/>
<ellipse cx="1831.8" cy="1378.5" rx="3" ry="5" fill="#5a6ad8"/>
<ellipse cx="1782.3" cy="1400.4" rx="2.5" ry="2.7" fill="#353a8a" opacity="0.8"/>
<ellipse cx="1771.7" cy="1402.4" rx="1.7" ry="1.6" fill="#e8e040"/>
<ellipse cx="1737.2" cy="1411.0" rx="2.8" ry="4" fill="#5a6ad8" transform="rotate(10 1737.2 1411.0)"/>
<ellipse cx="1820.4" cy="1404.5" rx="6" ry="5.5" fill="#5a6ad8" transform="rotate(-30 1820.4 1404.5)"/>
<ellipse cx="1815.5" cy="1393.1" rx="2.5" ry="2.5" fill="#353a8a" opacity="0.8"/>
<ellipse cx="1832.6" cy="1427.2" rx="2.5" ry="3" fill="#5a6ad8"/>
<ellipse cx="1692.0" cy="1476.8" rx="3" ry="3.5" fill="#5a6ad8"/>
<ellipse cx="1827.0" cy="1477.6" rx="3.5" ry="2.5" fill="#5a6ad8"/>
</g></g>
<rect x="1841.60" y="1328.10" width="152.40" height="151.60" fill="#000"/>
<clipPath id="ck1841_1328"><rect x="1841.6" y="1328.1" width="152.4" height="151.6"/></clipPath>
<g clip-path="url(#ck1841_1328)">
<path d="M0 30L45 25L50 70L0 75Z" transform="translate(1841.6,1328.1)" fill="#120805" filter="url(#blK)" opacity="0.8"/>
<g filter="url(#blC)">
<ellipse cx="1872.5" cy="1354.1" rx="2.5" ry="5.5" fill="#5a6ad8" transform="rotate(5 1872.5 1354.1)"/>
<ellipse cx="1977.3" cy="1364.2" rx="6" ry="3" fill="#5a6ad8" transform="rotate(-15 1977.3 1364.2)"/>
<ellipse cx="1849.7" cy="1387.4" rx="4.5" ry="3.3" fill="#5a6ad8" transform="rotate(-15 1849.7 1387.4)"/>
</g></g>
<rect x="1361.30" y="1483.80" width="152.40" height="151.90" fill="#000"/>
<clipPath id="ck1361_1483"><rect x="1361.3" y="1483.8" width="152.4" height="151.9"/></clipPath>
<g clip-path="url(#ck1361_1483)">
<g filter="url(#blC)">
<ellipse cx="1377.9" cy="1503.6" rx="4.9" ry="2.9" fill="#5a6ad8"/>
<ellipse cx="1395.7" cy="1498.4" rx="4.9" ry="2" fill="#353a8a" opacity="0.8"/>
<ellipse cx="1425.8" cy="1502.5" rx="8.1" ry="3.4" fill="#b8b8cc" transform="rotate(25 1425.8 1502.5)" opacity="0.85"/>
<ellipse cx="1469.7" cy="1503.0" rx="3.6" ry="2.4" fill="#5a6ad8"/>
<ellipse cx="1454.3" cy="1512.2" rx="6" ry="4.6" fill="#5a6ad8" transform="rotate(-20 1454.3 1512.2)"/>
<ellipse cx="1455.8" cy="1510.7" rx="3.5999999999999996" ry="2.76" fill="#e8e8f0" transform="rotate(-20 1455.8 1510.7)"/>
<ellipse cx="1437.2" cy="1524.1" rx="3.4" ry="2.7" fill="#d0d0dc"/>
<ellipse cx="1445.2" cy="1574.8" rx="2.9" ry="3.4" fill="#5a6ad8" transform="rotate(15 1445.2 1574.8)"/>
<ellipse cx="1443.7" cy="1581.3" rx="2.4" ry="3.6" fill="#5a6ad8" transform="rotate(10 1443.7 1581.3)"/>
<ellipse cx="1507.9" cy="1581.3" rx="2.9" ry="4.1" fill="#5a6ad8"/>
<ellipse cx="1503.8" cy="1596.8" rx="3.4" ry="7.3" fill="#5a6ad8" transform="rotate(-20 1503.8 1596.8)"/>
<ellipse cx="1509.8" cy="1606.8" rx="2.2" ry="8" fill="#b8b8cc" transform="rotate(-15 1509.8 1606.8)" opacity="0.85"/>
<ellipse cx="1379.8" cy="1544.8" rx="1.3" ry="3.6" fill="#353a8a" transform="rotate(10 1379.8 1544.8)" opacity="0.8"/>
<ellipse cx="1373.3" cy="1503.8" rx="4" ry="2" fill="#d0d0dc" transform="rotate(-10 1373.3 1503.8)"/>
</g></g>
<rect x="1521.10" y="1483.80" width="152.40" height="151.90" fill="#000"/>
<clipPath id="ck1521_1483"><rect x="1521.1" y="1483.8" width="152.4" height="151.9"/></clipPath>
<g clip-path="url(#ck1521_1483)">
<path d="M0 110L40 95L100 125L110 152L0 152Z" transform="translate(1521.1,1483.8)" fill="#1c2355" filter="url(#blK)" opacity="0.5"/>
<path d="M51.7 3L52.5 54L48.4 105" transform="translate(1521.1,1483.8)" fill="none" stroke="#8a8fb8" stroke-width="0.8" opacity="0.8"/>
<path d="M133 2L136 41L152 54" transform="translate(1521.1,1483.8)" fill="none" stroke="#8a8fb8" stroke-width="0.8" opacity="0.8"/>
<path d="M61 45L68 37L94 39L110 41" transform="translate(1521.1,1483.8)" fill="none" stroke="#8a8fb8" stroke-width="0.8" opacity="0.8"/>
<path d="M82.5 60L97 65L102 97L94 130" transform="translate(1521.1,1483.8)" fill="none" stroke="#8a8fb8" stroke-width="0.8" opacity="0.8"/>
<path d="M136 42L123 47" transform="translate(1521.1,1483.8)" fill="none" stroke="#8a8fb8" stroke-width="0.8" opacity="0.8"/>
<path d="M48 105L55 110" transform="translate(1521.1,1483.8)" fill="none" stroke="#8a8fb8" stroke-width="0.8" opacity="0.8"/>
<path d="M100 130L60 125L30 135" transform="translate(1521.1,1483.8)" fill="none" stroke="#8a8fb8" stroke-width="0.8" opacity="0.8"/>
<path d="M33 48.7L48.4 61.7" transform="translate(1521.1,1483.8)" fill="none" stroke="#b8b8cc" stroke-width="1"/>
<g filter="url(#blC)">
<ellipse cx="1601.2" cy="1495.5" rx="3" ry="1.5" fill="#b8b8cc" transform="rotate(20 1601.2 1495.5)" opacity="0.85"/>
<ellipse cx="1627.2" cy="1500.0" rx="3" ry="2.6" fill="#5a6ad8"/>
<ellipse cx="1634.5" cy="1538.2" rx="7" ry="3.3" fill="#b8b8cc" transform="rotate(-20 1634.5 1538.2)" opacity="0.85"/>
<ellipse cx="1643.9" cy="1534.5" rx="3.6" ry="3.8" fill="#5a6ad8"/>
<ellipse cx="1574.4" cy="1543.9" rx="5" ry="2.6" fill="#b8b8cc" transform="rotate(-40 1574.4 1543.9)" opacity="0.85"/>
<ellipse cx="1571.1" cy="1550.8" rx="3.3" ry="3.5" fill="#5a6ad8"/>
<ellipse cx="1622.3" cy="1564.2" rx="1.7" ry="4" fill="#b8b8cc" opacity="0.85"/>
<ellipse cx="1563.8" cy="1588.6" rx="6" ry="2.4" fill="#b8b8cc" transform="rotate(20 1563.8 1588.6)" opacity="0.85"/>
<ellipse cx="1543.5" cy="1596.8" rx="15" ry="11" fill="#50546a" transform="rotate(20 1543.5 1596.8)" opacity="0.8"/>
<ellipse cx="1542.1" cy="1593.8" rx="7" ry="5" fill="#5a6ad8" transform="rotate(20 1542.1 1593.8)"/>
<ellipse cx="1545.1" cy="1603.8" rx="5" ry="3.5" fill="#5a6ad8"/>
<ellipse cx="1584.1" cy="1608.1" rx="8" ry="3.8" fill="#b8b8cc" transform="rotate(25 1584.1 1608.1)" opacity="0.85"/>
<ellipse cx="1582.5" cy="1621.8" rx="5" ry="2.6" fill="#b8b8cc" transform="rotate(30 1582.5 1621.8)" opacity="0.85"/>
<ellipse cx="1598.0" cy="1621.8" rx="4" ry="2.3" fill="#b8b8cc" transform="rotate(30 1598.0 1621.8)" opacity="0.85"/>
<ellipse cx="1653.7" cy="1586.2" rx="3.6" ry="3.6" fill="#5a6ad8"/>
<ellipse cx="1638.6" cy="1609.8" rx="4" ry="3" fill="#5a6ad8" transform="rotate(20 1638.6 1609.8)"/>
<ellipse cx="1624.8" cy="1633.8" rx="3.5" ry="3" fill="#5a6ad8"/>
<ellipse cx="1633.1" cy="1633.8" rx="3" ry="2.5" fill="#5a6ad8"/>
<ellipse cx="1576.1" cy="1613.8" rx="4" ry="4" fill="#353a8a" opacity="0.8"/>
</g></g>
<rect x="1682.00" y="1483.80" width="152.40" height="151.90" fill="#000"/>
<clipPath id="ck1682_1483"><rect x="1682.0" y="1483.8" width="152.4" height="151.9"/></clipPath>
<g clip-path="url(#ck1682_1483)">
<path d="M105 60L150 50L152 150L120 140L100 110L115 90Z" transform="translate(1682.0,1483.8)" fill="#1c2355" filter="url(#blK)" opacity="0.5"/>
<path d="M0 125L15 122L20 150L0 150Z" transform="translate(1682.0,1483.8)" fill="#1c2355" filter="url(#blK)" opacity="0.5"/>
<path d="M40 25L70 20L75 45L45 45Z" transform="translate(1682.0,1483.8)" fill="#1c2355" filter="url(#blK)" opacity="0.5"/>
<path d="M0 52L40 30L70 32" transform="translate(1682.0,1483.8)" fill="none" stroke="#8a8fb8" stroke-width="0.8" opacity="0.4"/>
<path d="M55 85L80 120L110 135L150 150" transform="translate(1682.0,1483.8)" fill="none" stroke="#8a8fb8" stroke-width="0.8" opacity="0.4"/>
<path d="M100 72L95 100L110 60L130 70L150 55" transform="translate(1682.0,1483.8)" fill="none" stroke="#8a8fb8" stroke-width="0.8" opacity="0.4"/>
<path d="M120 110L150 120" transform="translate(1682.0,1483.8)" fill="none" stroke="#8a8fb8" stroke-width="0.8" opacity="0.4"/>
<path d="M0 130L15 125L5 150" transform="translate(1682.0,1483.8)" fill="none" stroke="#8a8fb8" stroke-width="0.8" opacity="0.4"/>
<g filter="url(#blC)">
<ellipse cx="1733.5" cy="1498.4" rx="4.2" ry="4.2" fill="#353a8a" opacity="0.8"/>
<ellipse cx="1703.4" cy="1502.5" rx="4" ry="4" fill="#353a8a" opacity="0.8"/>
<ellipse cx="1684.8" cy="1513.0" rx="4" ry="2.5" fill="#5a6ad8" transform="rotate(10 1684.8 1513.0)"/>
<ellipse cx="1742.9" cy="1519.5" rx="3" ry="5" fill="#5a6ad8" transform="rotate(5 1742.9 1519.5)"/>
<ellipse cx="1731.1" cy="1545.5" rx="3" ry="4.5" fill="#5a6ad8" transform="rotate(10 1731.1 1545.5)"/>
<ellipse cx="1831.8" cy="1534.2" rx="3" ry="5" fill="#5a6ad8"/>
<ellipse cx="1782.3" cy="1556.1" rx="2.5" ry="2.7" fill="#353a8a" opacity="0.8"/>
<ellipse cx="1771.7" cy="1558.1" rx="1.7" ry="1.6" fill="#ffffff" opacity="0.85"/>
<ellipse cx="1737.2" cy="1566.7" rx="2.8" ry="4" fill="#5a6ad8" transform="rotate(10 1737.2 1566.7)"/>
<ellipse cx="1820.4" cy="1560.2" rx="6" ry="5.5" fill="#5a6ad8" transform="rotate(-30 1820.4 1560.2)"/>
<ellipse cx="1815.5" cy="1548.8" rx="2.5" ry="2.5" fill="#353a8a" opacity="0.8"/>
<ellipse cx="1832.6" cy="1582.9" rx="2.5" ry="3" fill="#5a6ad8"/>
<ellipse cx="1692.0" cy="1632.5" rx="3" ry="3.5" fill="#5a6ad8"/>
<ellipse cx="1827.0" cy="1633.3" rx="3.5" ry="2.5" fill="#5a6ad8"/>
</g></g>
<rect x="1841.60" y="1483.80" width="152.40" height="151.90" fill="#000"/>
<clipPath id="ck1841_1483"><rect x="1841.6" y="1483.8" width="152.4" height="151.9"/></clipPath>
<g clip-path="url(#ck1841_1483)">
<g filter="url(#blC)">
<ellipse cx="1872.5" cy="1509.8" rx="2.5" ry="5.5" fill="#5a6ad8" transform="rotate(5 1872.5 1509.8)"/>
<ellipse cx="1977.3" cy="1519.9" rx="6" ry="3" fill="#5a6ad8" transform="rotate(-15 1977.3 1519.9)"/>
<ellipse cx="1849.7" cy="1543.1" rx="4.5" ry="3.3" fill="#5a6ad8" transform="rotate(-15 1849.7 1543.1)"/>
</g></g>
<rect x="1361.30" y="1639.80" width="152.40" height="151.20" fill="#000"/>
<clipPath id="ck1361_1639"><rect x="1361.3" y="1639.8" width="152.4" height="151.2"/></clipPath>
<g clip-path="url(#ck1361_1639)">
<g filter="url(#blC)">
<ellipse cx="1377.9" cy="1659.6" rx="4.9" ry="2.9" fill="#5a6ad8"/>
<ellipse cx="1395.7" cy="1654.4" rx="4.9" ry="2" fill="#353a8a" opacity="0.8"/>
<ellipse cx="1425.8" cy="1658.5" rx="8.1" ry="3.4" fill="#ffffff" transform="rotate(25 1425.8 1658.5)"/>
<ellipse cx="1469.7" cy="1659.0" rx="3.6" ry="2.4" fill="#5a6ad8"/>
<ellipse cx="1454.3" cy="1668.2" rx="6" ry="4.6" fill="#5a6ad8" transform="rotate(-20 1454.3 1668.2)"/>
<ellipse cx="1455.8" cy="1666.7" rx="3.5999999999999996" ry="2.76" fill="#5a6ad8" transform="rotate(-20 1455.8 1666.7)"/>
<ellipse cx="1445.2" cy="1730.8" rx="2.9" ry="3.4" fill="#5a6ad8" transform="rotate(15 1445.2 1730.8)"/>
<ellipse cx="1443.7" cy="1737.3" rx="2.4" ry="3.6" fill="#5a6ad8" transform="rotate(10 1443.7 1737.3)"/>
<ellipse cx="1507.9" cy="1737.3" rx="2.9" ry="4.1" fill="#5a6ad8"/>
<ellipse cx="1503.8" cy="1752.8" rx="3.4" ry="7.3" fill="#5a6ad8" transform="rotate(-20 1503.8 1752.8)"/>
<ellipse cx="1509.8" cy="1762.8" rx="2.2" ry="8" fill="#ffffff" transform="rotate(-15 1509.8 1762.8)"/>
<ellipse cx="1379.8" cy="1700.8" rx="1.3" ry="3.6" fill="#353a8a" transform="rotate(10 1379.8 1700.8)" opacity="0.8"/>
</g></g>
<rect x="1521.10" y="1639.80" width="152.40" height="151.20" fill="#000"/>
<clipPath id="ck1521_1639"><rect x="1521.1" y="1639.8" width="152.4" height="151.2"/></clipPath>
<g clip-path="url(#ck1521_1639)">
<path d="M0 110L40 95L100 125L110 152L0 152Z" transform="translate(1521.1,1639.8)" fill="#121840" filter="url(#blK)" opacity="0.5"/>
<path d="M51.7 3L52.5 54L48.4 105" transform="translate(1521.1,1639.8)" fill="none" stroke="#2a3068" stroke-width="0.8" opacity="0.8"/>
<path d="M133 2L136 41L152 54" transform="translate(1521.1,1639.8)" fill="none" stroke="#2a3068" stroke-width="0.8" opacity="0.8"/>
<path d="M61 45L68 37L94 39L110 41" transform="translate(1521.1,1639.8)" fill="none" stroke="#2a3068" stroke-width="0.8" opacity="0.8"/>
<path d="M82.5 60L97 65L102 97L94 130" transform="translate(1521.1,1639.8)" fill="none" stroke="#2a3068" stroke-width="0.8" opacity="0.8"/>
<path d="M136 42L123 47" transform="translate(1521.1,1639.8)" fill="none" stroke="#2a3068" stroke-width="0.8" opacity="0.8"/>
<path d="M48 105L55 110" transform="translate(1521.1,1639.8)" fill="none" stroke="#2a3068" stroke-width="0.8" opacity="0.8"/>
<path d="M100 130L60 125L30 135" transform="translate(1521.1,1639.8)" fill="none" stroke="#2a3068" stroke-width="0.8" opacity="0.8"/>
<path d="M33 48.7L48.4 61.7" transform="translate(1521.1,1639.8)" fill="none" stroke="#ffffff" stroke-width="1"/>
<g filter="url(#blC)">
<ellipse cx="1601.2" cy="1651.5" rx="3" ry="1.5" fill="#ffffff" transform="rotate(20 1601.2 1651.5)"/>
<ellipse cx="1627.2" cy="1656.0" rx="3" ry="2.6" fill="#5a6ad8"/>
<ellipse cx="1634.5" cy="1694.2" rx="7" ry="3.3" fill="#ffffff" transform="rotate(-20 1634.5 1694.2)"/>
<ellipse cx="1643.9" cy="1690.5" rx="3.6" ry="3.8" fill="#5a6ad8"/>
<ellipse cx="1574.4" cy="1699.9" rx="5" ry="2.6" fill="#ffffff" transform="rotate(-40 1574.4 1699.9)"/>
<ellipse cx="1571.1" cy="1706.8" rx="3.3" ry="3.5" fill="#5a6ad8"/>
<ellipse cx="1622.3" cy="1720.2" rx="1.7" ry="4" fill="#ffffff"/>
<ellipse cx="1563.8" cy="1744.6" rx="6" ry="2.4" fill="#ffffff" transform="rotate(20 1563.8 1744.6)"/>
<ellipse cx="1543.5" cy="1752.8" rx="15" ry="11" fill="#10122a" transform="rotate(20 1543.5 1752.8)" opacity="0.8"/>
<ellipse cx="1542.1" cy="1749.8" rx="7" ry="5" fill="#5a6ad8" transform="rotate(20 1542.1 1749.8)"/>
<ellipse cx="1545.1" cy="1759.8" rx="5" ry="3.5" fill="#5a6ad8"/>
<ellipse cx="1584.1" cy="1764.1" rx="8" ry="3.8" fill="#ffffff" transform="rotate(25 1584.1 1764.1)"/>
<ellipse cx="1582.5" cy="1777.8" rx="5" ry="2.6" fill="#ffffff" transform="rotate(30 1582.5 1777.8)"/>
<ellipse cx="1598.0" cy="1777.8" rx="4" ry="2.3" fill="#ffffff" transform="rotate(30 1598.0 1777.8)"/>
<ellipse cx="1653.7" cy="1742.2" rx="3.6" ry="3.6" fill="#5a6ad8"/>
<ellipse cx="1638.6" cy="1765.8" rx="4" ry="3" fill="#5a6ad8" transform="rotate(20 1638.6 1765.8)"/>
<ellipse cx="1624.8" cy="1789.8" rx="3.5" ry="3" fill="#5a6ad8"/>
<ellipse cx="1633.1" cy="1789.8" rx="3" ry="2.5" fill="#5a6ad8"/>
<ellipse cx="1576.1" cy="1769.8" rx="4" ry="4" fill="#353a8a" opacity="0.8"/>
</g></g>
<rect x="1682.00" y="1639.80" width="152.40" height="151.20" fill="#000"/>
<clipPath id="ck1682_1639"><rect x="1682.0" y="1639.8" width="152.4" height="151.2"/></clipPath>
<g clip-path="url(#ck1682_1639)">
<path d="M105 60L150 50L152 150L120 140L100 110L115 90Z" transform="translate(1682.0,1639.8)" fill="#121840" filter="url(#blK)" opacity="0.5"/>
<path d="M0 125L15 122L20 150L0 150Z" transform="translate(1682.0,1639.8)" fill="#121840" filter="url(#blK)" opacity="0.5"/>
<path d="M40 25L70 20L75 45L45 45Z" transform="translate(1682.0,1639.8)" fill="#121840" filter="url(#blK)" opacity="0.5"/>
<g filter="url(#blC)">
<ellipse cx="1733.5" cy="1654.4" rx="4.2" ry="4.2" fill="#353a8a" opacity="0.8"/>
<ellipse cx="1703.4" cy="1658.5" rx="4" ry="4" fill="#353a8a" opacity="0.8"/>
<ellipse cx="1684.8" cy="1669.0" rx="4" ry="2.5" fill="#5a6ad8" transform="rotate(10 1684.8 1669.0)"/>
<ellipse cx="1742.9" cy="1675.5" rx="3" ry="5" fill="#5a6ad8" transform="rotate(5 1742.9 1675.5)"/>
<ellipse cx="1731.1" cy="1701.5" rx="3" ry="4.5" fill="#5a6ad8" transform="rotate(10 1731.1 1701.5)"/>
<ellipse cx="1831.8" cy="1690.2" rx="3" ry="5" fill="#5a6ad8"/>
<ellipse cx="1782.3" cy="1712.1" rx="2.5" ry="2.7" fill="#353a8a" opacity="0.8"/>
<ellipse cx="1771.7" cy="1714.1" rx="1.7" ry="1.6" fill="#ffffff"/>
<ellipse cx="1737.2" cy="1722.7" rx="2.8" ry="4" fill="#5a6ad8" transform="rotate(10 1737.2 1722.7)"/>
<ellipse cx="1820.4" cy="1716.2" rx="6" ry="5.5" fill="#5a6ad8" transform="rotate(-30 1820.4 1716.2)"/>
<ellipse cx="1815.5" cy="1704.8" rx="2.5" ry="2.5" fill="#353a8a" opacity="0.8"/>
<ellipse cx="1832.6" cy="1738.9" rx="2.5" ry="3" fill="#5a6ad8"/>
<ellipse cx="1692.0" cy="1788.5" rx="3" ry="3.5" fill="#5a6ad8"/>
<ellipse cx="1827.0" cy="1789.3" rx="3.5" ry="2.5" fill="#5a6ad8"/>
</g></g>
<rect x="1841.60" y="1639.80" width="152.40" height="151.20" fill="#000"/>
<clipPath id="ck1841_1639"><rect x="1841.6" y="1639.8" width="152.4" height="151.2"/></clipPath>
<g clip-path="url(#ck1841_1639)">
<g filter="url(#blC)">
<ellipse cx="1872.5" cy="1665.8" rx="2.5" ry="5.5" fill="#5a6ad8" transform="rotate(5 1872.5 1665.8)"/>
<ellipse cx="1977.3" cy="1675.9" rx="6" ry="3" fill="#5a6ad8" transform="rotate(-15 1977.3 1675.9)"/>
<ellipse cx="1849.7" cy="1699.1" rx="4.5" ry="3.3" fill="#5a6ad8" transform="rotate(-15 1849.7 1699.1)"/>
</g></g>
<path d="M1397.7 1371.7L1412.4 1363.3L1413.8 1365.6L1418.6 1356.9L1408.6 1356.6L1410.0 1358.9L1395.3 1367.3Z" fill="#f07c3e"/>
<path d="M1544.1 1415.1L1557.4 1406.2L1558.9 1408.4L1563.1 1399.4L1553.1 1399.8L1554.6 1402.0L1541.3 1410.9Z" fill="#f07c3e"/>
<path d="M1744.6 1425.3L1759.5 1416.2L1760.9 1418.5L1765.4 1409.6L1755.4 1409.6L1756.8 1411.9L1742.0 1421.1Z" fill="#f07c3e"/>
<path d="M1397.8 1528.3L1412.7 1519.2L1414.1 1521.5L1418.6 1512.6L1408.6 1512.6L1410.0 1514.9L1395.2 1524.1Z" fill="#f07c3e"/>
<path d="M1545.8 1581.0L1559.2 1571.8L1560.7 1574.1L1564.8 1565.0L1554.8 1565.5L1556.4 1567.7L1543.0 1576.9Z" fill="#f07c3e"/>
<path d="M1747.0 1579.0L1760.4 1570.8L1761.8 1573.2L1766.4 1564.3L1756.5 1564.3L1757.9 1566.6L1744.4 1574.7Z" fill="#f07c3e"/>
<path d="M1395.5 1682.7L1410.1 1673.1L1411.6 1675.3L1415.9 1666.3L1405.9 1666.6L1407.4 1668.9L1392.7 1678.5Z" fill="#f07c3e"/>
<path d="M1538.3 1717.7L1552.2 1708.7L1553.7 1711.0L1558.0 1702.0L1548.0 1702.2L1549.5 1704.5L1535.6 1713.5Z" fill="#f07c3e"/>
<path d="M1745.6 1732.3L1759.5 1723.9L1760.9 1726.2L1765.4 1717.3L1755.4 1717.3L1756.8 1719.6L1743.0 1728.1Z" fill="#f07c3e"/>
<rect x="1452.00" y="1779.30" width="53.30" height="6.20" fill="#fff"/>
<rect x="1611.80" y="1779.30" width="53.40" height="6.20" fill="#fff"/>
<rect x="1771.60" y="1779.30" width="54.10" height="6.20" fill="#fff"/>
<rect x="1931.00" y="1779.30" width="54.00" height="6.20" fill="#fff"/>
<text x="1455.0" y="1773.7" font-size="19.5" style="fill:#fff;stroke:#fff">50<tspan font-style="italic">μ</tspan>m</text>
</g>
</svg>
</body></html>
